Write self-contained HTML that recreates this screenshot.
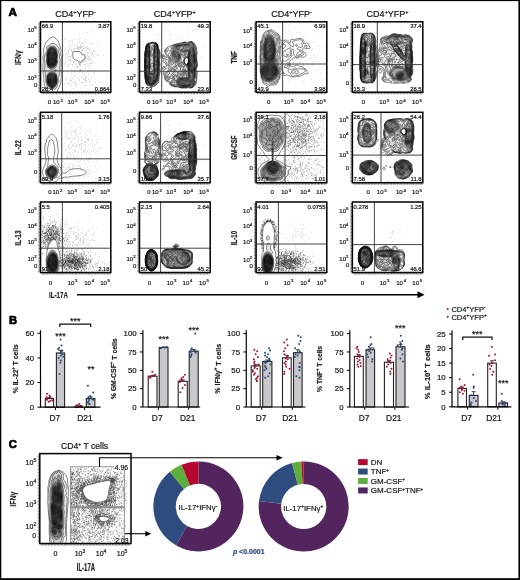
<!DOCTYPE html>
<html><head><meta charset="utf-8"><style>
html,body{margin:0;padding:0;background:#fff;}
body{width:520px;height:580px;overflow:hidden;position:relative;}
svg{position:absolute;left:0;top:0;display:block;will-change:transform;}
svg text{font-family:"Liberation Sans",sans-serif;stroke:#1a1a1a;stroke-width:0.2px;}
</style></head><body>
<svg width="520" height="580" viewBox="0 0 520 580" font-family="Liberation Sans, sans-serif">
<rect x="0" y="0" width="520" height="580" fill="#fff"/>
<defs>
<clipPath id="c0"><rect x="40.5" y="21.8" width="70.3" height="70.4"/></clipPath>
<clipPath id="c1"><rect x="139.5" y="21.8" width="70.7" height="70.4"/></clipPath>
<clipPath id="c2"><rect x="256.1" y="21.8" width="70.7" height="70.4"/></clipPath>
<clipPath id="c3"><rect x="352.4" y="21.8" width="70.4" height="70.4"/></clipPath>
<clipPath id="c4"><rect x="40.5" y="112.3" width="70.3" height="70.4"/></clipPath>
<clipPath id="c5"><rect x="139.5" y="112.3" width="70.7" height="70.4"/></clipPath>
<clipPath id="c6"><rect x="256.1" y="112.3" width="70.7" height="70.4"/></clipPath>
<clipPath id="c7"><rect x="352.4" y="112.3" width="70.4" height="70.4"/></clipPath>
<clipPath id="c8"><rect x="40.5" y="202" width="70.3" height="70.5"/></clipPath>
<clipPath id="c9"><rect x="139.5" y="202" width="70.7" height="70.5"/></clipPath>
<clipPath id="c10"><rect x="256.1" y="202" width="70.7" height="70.5"/></clipPath>
<clipPath id="c11"><rect x="352.4" y="202" width="70.4" height="70.5"/></clipPath>
</defs>
<g clip-path="url(#c0)">
<path d="M80.0 60.0h.6M77.5 49.3h.6M75.9 48.4h.6M80.5 69.4h.6M75.6 51.7h.6M84.4 60.5h.6M80.9 48.9h.6M79.7 63.6h.6M67.9 53.2h.6M62.9 45.7h.6M63.4 55.2h.6M68.6 59.7h.6M81.4 55.6h.6M57.3 52.5h.6M79.6 58.3h.6M66.2 53.0h.6M71.2 50.0h.6M89.5 50.0h.6M79.7 65.3h.6M74.7 56.3h.6M81.0 57.9h.6M69.0 58.0h.6M92.2 43.4h.6M87.7 58.4h.6M74.2 75.3h.6M86.9 46.5h.6M80.7 62.5h.6M78.3 63.4h.6M79.4 63.3h.6M92.9 51.2h.6M81.8 53.1h.6M81.1 46.6h.6M74.8 55.5h.6M88.1 67.6h.6M68.1 50.1h.6M85.8 39.4h.6M75.8 56.4h.6M91.3 63.5h.6M77.1 54.0h.6M77.7 71.0h.6M76.1 54.6h.6M83.2 56.2h.6M78.2 47.3h.6M79.9 53.3h.6M90.5 63.2h.6M79.8 63.3h.6M76.9 66.8h.6M80.0 62.6h.6M68.4 60.4h.6M64.8 39.0h.6M77.3 49.2h.6M81.5 77.5h.6M72.5 51.7h.6M81.8 61.7h.6M78.4 55.4h.6M86.3 62.0h.6M70.7 56.6h.6M80.3 47.8h.6M82.3 49.6h.6M88.7 59.0h.6M80.8 52.0h.6M78.9 39.3h.6M69.8 60.6h.6M60.8 64.9h.6M64.3 64.1h.6M72.4 64.3h.6M81.2 43.5h.6M91.2 70.3h.6M79.4 54.8h.6M78.6 48.5h.6M89.9 52.4h.6M79.5 50.2h.6M74.4 45.8h.6M91.3 55.9h.6M88.7 57.4h.6M73.8 54.4h.6M75.0 57.4h.6M76.6 54.6h.6M67.6 50.0h.6M94.9 51.3h.6M70.5 60.3h.6M92.7 44.2h.6M78.1 51.6h.6M64.2 63.9h.6M79.8 57.9h.6M73.2 61.4h.6M75.1 56.0h.6M70.0 46.4h.6M92.0 52.7h.6M82.6 57.0h.6M76.0 52.7h.6M85.7 54.6h.6M78.6 57.5h.6M90.6 63.4h.6M83.4 52.2h.6M67.6 65.8h.6M88.7 56.0h.6M84.9 64.3h.6M87.5 65.6h.6M75.9 70.9h.6M68.8 65.1h.6M84.4 65.2h.6M96.9 70.7h.6M69.7 42.1h.6M87.4 48.2h.6M79.9 64.9h.6M65.2 38.3h.6M82.3 57.7h.6M77.8 57.6h.6M72.3 43.7h.6M78.5 48.6h.6M65.2 61.9h.6M79.4 61.0h.6M71.1 51.4h.6M71.0 49.3h.6M81.8 50.3h.6M83.2 60.4h.6M98.2 44.8h.6M88.0 56.5h.6M79.9 44.3h.6M75.9 64.0h.6M79.3 58.0h.6M77.4 67.7h.6M79.8 37.5h.6M73.8 39.6h.6M50.7 52.5h.6M92.0 57.7h.6M69.4 48.8h.6M90.2 58.7h.6M80.4 56.8h.6M80.3 64.5h.6M85.0 59.2h.6M70.6 61.9h.6M73.8 67.1h.6M68.6 56.1h.6M79.9 45.4h.6M95.5 70.4h.6M75.8 64.2h.6M83.4 33.8h.6M82.3 56.7h.6M80.7 47.6h.6M77.6 55.7h.6M90.7 60.3h.6M80.0 71.1h.6M75.0 53.8h.6M63.6 71.4h.6M88.7 65.6h.6M86.0 58.3h.6M81.9 55.0h.6M78.2 57.8h.6M93.6 62.3h.6M79.5 52.1h.6M74.3 71.7h.6M84.6 57.9h.6M76.9 47.3h.6M79.4 65.2h.6M76.5 55.3h.6M78.0 58.3h.6M65.7 55.2h.6M72.3 65.3h.6M73.1 62.5h.6M93.7 54.5h.6M74.6 59.0h.6M80.0 48.4h.6M84.1 75.4h.6M77.7 55.5h.6M70.6 60.2h.6M68.8 47.3h.6M91.5 49.2h.6M89.7 71.0h.6M82.3 62.3h.6M97.6 55.5h.6M74.7 45.1h.6M80.4 70.6h.6M88.6 48.8h.6M72.3 52.8h.6M82.6 55.5h.6M81.9 60.0h.6M77.3 56.9h.6M81.9 56.5h.6M84.5 74.1h.6M85.3 57.8h.6M64.8 60.8h.6M62.5 44.6h.6M87.7 63.7h.6M78.7 41.9h.6M76.7 51.2h.6M85.7 77.6h.6M82.0 50.3h.6M69.5 56.8h.6M78.4 46.9h.6M81.0 46.9h.6M90.0 66.9h.6M89.8 53.0h.6M84.6 56.1h.6M76.5 54.2h.6M68.3 44.3h.6M87.1 55.6h.6M81.9 66.3h.6M64.4 50.2h.6M81.6 60.8h.6M76.6 66.6h.6M81.9 46.4h.6M71.6 64.5h.6M84.2 40.2h.6M92.1 62.7h.6M92.1 53.8h.6M77.3 47.2h.6M102.8 55.7h.6M94.3 51.5h.6M81.5 42.3h.6M76.6 66.2h.6M68.7 67.0h.6M83.0 47.9h.6M75.5 53.2h.6M79.6 52.5h.6M72.6 54.6h.6M70.8 45.7h.6M79.6 65.2h.6M66.2 57.3h.6M74.2 48.5h.6M87.7 52.6h.6M93.5 50.3h.6M83.5 55.3h.6M73.2 62.6h.6M78.6 62.7h.6M79.6 47.5h.6M79.1 57.8h.6M88.6 49.1h.6M79.6 41.8h.6M85.9 47.6h.6M63.7 56.8h.6M90.0 43.6h.6M70.2 50.6h.6M69.8 60.7h.6M72.7 50.8h.6M85.2 50.5h.6M83.9 48.6h.6M69.1 40.8h.6M96.8 54.4h.6M82.2 57.0h.6M81.4 57.7h.6M97.2 47.9h.6M66.0 48.2h.6M68.0 64.0h.6M87.4 48.6h.6M67.5 54.1h.6M92.5 31.9h.6M84.7 47.6h.6M89.4 47.6h.6M77.4 43.7h.6M71.2 69.8h.6M87.4 53.7h.6M72.2 40.3h.6M76.5 57.0h.6M79.2 56.5h.6M69.9 56.7h.6M79.7 68.9h.6M96.8 56.1h.6M73.1 56.7h.6M74.5 50.6h.6M79.5 47.9h.6M85.5 56.4h.6M82.3 55.7h.6M73.5 48.8h.6M77.9 52.4h.6M82.1 57.3h.6M67.7 57.9h.6M67.9 51.8h.6M77.4 38.6h.6M80.8 58.7h.6M78.6 53.5h.6M76.6 48.5h.6M77.6 52.3h.6M80.8 46.5h.6M82.1 58.6h.6M78.7 53.3h.6M85.0 42.3h.6M84.1 59.5h.6M82.6 60.7h.6M74.1 55.0h.6M85.7 61.2h.6M81.9 43.7h.6M84.8 67.8h.6M89.1 59.4h.6M66.0 65.8h.6M78.7 34.5h.6M83.4 43.9h.6M68.3 51.6h.6M91.5 54.0h.6M82.4 73.0h.6M94.3 56.4h.6M77.8 46.0h.6M73.7 61.1h.6M83.6 58.3h.6M89.0 50.3h.6M79.5 63.9h.6M85.3 66.9h.6M83.6 54.5h.6M83.3 48.3h.6M65.2 62.5h.6M79.5 60.1h.6M64.7 54.0h.6M74.6 49.5h.6M59.7 54.3h.6M88.1 60.7h.6M74.6 57.2h.6M86.8 32.5h.6M78.9 62.2h.6M86.1 72.6h.6M90.2 60.1h.6M82.7 64.4h.6M75.1 56.9h.6M88.2 74.9h.6M78.6 56.9h.6M81.8 69.4h.6M79.7 70.5h.6M71.3 55.6h.6M78.2 64.4h.6M89.4 43.7h.6" stroke="#8c8c8c" stroke-width="0.6" stroke-opacity="1.0"/>
<path d="M67.9 84.0h.6M70.8 74.7h.6M89.4 84.8h.6M83.4 79.9h.6M89.3 81.1h.6M90.1 77.7h.6M68.6 83.3h.6M70.3 85.7h.6M80.9 77.7h.6M78.8 80.5h.6M88.1 79.1h.6M73.2 88.4h.6M78.7 83.4h.6M94.9 81.7h.6M67.3 82.9h.6M83.0 78.2h.6M59.9 75.1h.6M85.3 78.5h.6M76.4 83.4h.6M84.8 80.6h.6M83.5 77.8h.6M74.0 77.2h.6M90.4 82.2h.6M69.9 80.5h.6M75.6 85.8h.6M60.4 77.1h.6M88.5 81.7h.6M75.4 80.5h.6M91.3 84.8h.6M85.4 79.8h.6M99.2 90.8h.6M84.2 85.7h.6M55.7 85.5h.6M75.9 84.5h.6M85.5 80.6h.6M59.4 84.1h.6M69.8 80.6h.6M71.4 80.6h.6M52.6 88.4h.6M80.8 87.9h.6M99.8 82.4h.6M58.2 77.8h.6M64.7 79.8h.6M78.9 72.3h.6M81.8 74.7h.6M81.3 81.8h.6M74.6 81.9h.6M72.1 79.2h.6M59.5 82.2h.6M92.5 85.8h.6M70.6 89.5h.6M77.4 82.0h.6M74.8 82.8h.6M73.2 81.9h.6M66.1 80.4h.6M103.1 82.0h.6M75.4 85.0h.6M85.8 76.7h.6M75.7 86.9h.6M81.0 82.9h.6M95.1 78.9h.6M78.9 79.7h.6M94.4 72.5h.6M70.6 79.7h.6M85.3 85.3h.6M93.3 74.4h.6M86.3 80.8h.6M70.7 85.0h.6M67.9 71.9h.6M73.9 74.8h.6M70.9 84.2h.6M81.4 90.2h.6M75.8 74.6h.6M69.7 77.7h.6M64.6 84.5h.6M70.9 72.4h.6M85.7 81.7h.6M81.9 82.8h.6M84.9 82.5h.6M91.6 84.4h.6M82.3 84.3h.6M62.0 81.5h.6M75.1 83.3h.6M63.1 90.5h.6M79.1 76.2h.6M59.2 80.9h.6M77.0 78.7h.6M79.0 79.1h.6M84.1 78.7h.6M77.6 87.2h.6M106.3 77.3h.6M72.9 78.1h.6M86.6 76.6h.6M72.7 82.2h.6M67.2 77.5h.6M72.8 71.8h.6M62.1 80.2h.6M79.6 81.4h.6M58.5 80.0h.6M86.8 85.1h.6M77.1 77.9h.6M84.9 79.4h.6M65.1 78.3h.6M93.9 83.4h.6M90.8 79.9h.6M88.3 79.3h.6" stroke="#a0a0a0" stroke-width="0.6" stroke-opacity="1.0"/>
<path d="M52.1 37.1l 1.3 0 2.1.9 .6.6 .9 1.3 1.2 1.1 .6.9 .3 1.8 .6 1.5 1.2 3.9 0 1.5-.3 2.7 1.1 5.7 0 4.2-.5 5.1 .3 5.1-.5 5.7 0 2.4-.8 3.3-1 2.7-1.3 2.1-.7 2.1-.5.8-.9.4-4.2.6-1.5-.4-1.5-1.4-2.1-1.2-.8-1.2-.4-1.8-.8-2.1-.3-2.7-.5-1.8 .2-3-.6-3.3 0-3-.5-2.7 .5-7.5-.3-4.5 .9-3.6-.3-3.6 .4-2.1 1.1-2.7 .3-1.8 .3-.6 2.3-1.9 1.5-2.1 2.6-1.4ZM74.7 51.5l 4.2 0 1.4.3 .6.6 .4 1.5 .5.6 .7.3 1.5 0 .8.6 .3 1.8-.4 1.5-.7 1-1.6.8-1.1 1.6-.6.2-.9-.2-2.7-1.7-2.4-.6-1.1-1.1-.4-.9-.4-2.1 0-3 .2-.6 .4-.3 1.3-.3Z" fill="#fff" fill-rule="evenodd" stroke="#111" stroke-width="0.5"/><path d="M51.5 43.4l 2.2-.1 1.2.4 3 2.8 1.2 1.7 .2 1.2-.6 1.8 0 1.2 1 3-.3 2.4 .7 1.2 .2.9-.2 2.1 0 3-.5 2.7 .3 3-.4 3.6-.2 1.2-1.1 1.8-.1.6 .1.9 .7 1.8 0 .9-1 1.6-.3 2.6-.4 1.2-1.1 1.6-1.2.9-1.5-.8-5.1 0-.8-.5-.4-2.1-1.6-4.8-.1-.6 .5-2.1-.5-2.1-.3-4.5-.7-2.7 .4-3.3-.1-2.1 .1-1.8-.6-2.7 0-1.5 .8-3.3 1.5-2.6 .2-.7 .1-4.2 .3-.6 2.1-.9 1.6-1.8 .7-.3Z" fill="#000" fill-opacity="0.12" fill-rule="evenodd" stroke="#111" stroke-width="0.5"/><path d="M50.2 46.4l 1.1-.3 2.4.2 1.2.6 1.1 1 .8 1.5 .5 3.9 .5 2.1-.6 3.6 .5 3-1.5 4.2-.5.9-1.4 1.6-.6.3-2.1.3-.9-.1-.9-.4-1.2-.8-.8-.9-.9-2.7-.5-4.5 .2-2.1 0-3.3 1.2-5.1 .9-1.8 1.5-1.2ZM54.9 70.1l .6-.3 .6.1 .3.2 .1.6-.4.4-.9 0-.4-.4 .1-.6ZM49.9 72.2l 1.1-.2 3.3.1 1.9 1.6 .6 1.2 .6 5.4-.2 2.1-.5 1.8-.8 1.8-.6.9-.7.5-1.2.3-1.8 0-2.1-.3-1.3-1.1-1-2.1-.6-3 .1-4.8 .2-1.2 .4-.9 .8-.9 .8-.7 1-.5Z" fill="#000" fill-opacity="0.2" fill-rule="evenodd" stroke="#111" stroke-width="0.5"/><path d="M50.6 47.3l 3.4.3 .9.5 .6.7 .7 1.8 .8 4.8-.4 3.6 .3 3-.9 2.7-.8 1.5-.9.8-1.5.8-1.5.3-.9-.1-.9-.5-1.3-1.3-.7-2.1-.4-3.9 .2-2.4-.2-3 .4-2.1 1.3-3.9 1-1.1 .8-.4ZM50 73.1l 1.3-.2 2.7.3 1.6 1.1 .7 1.5 .6 4.2-.3 2.7-.5 1.5-1 1.8-.5.6-.9.4-2.7.1-1.5-.5-1.2-1.2-.8-2.1-.4-2.4 .3-5.1 .9-1.5 1.7-1.2Z" fill="#000" fill-opacity="0.25" fill-rule="evenodd" stroke="#111" stroke-width="0.5"/><path d="M50.1 48.2l .9-.3 2.4.3 .9.3 .6.4 .5.8 .5 1.2 .8 4.5-.4 3.6 .2 2.7-.7 2.3-.9 1.6-.6.7-1.2.6-2.1.5-1.5-.5-.6-.5-.6-.9-.6-1.7-.2-3.3 .2-2.7-.3-2.4 .2-1.8 1.4-3.9 .5-.9 .6-.6ZM49.9 73.7l 1.1-.2 3 .3 1.3.8 .7 1.5 .6 3.3-.2 2.7-.5 1.5-1.2 2.1-.5.6-.8.4-2.1.1-1.5-.5-1.2-1.2-.9-2.1-.3-2.1 .3-4.8 .9-1.5 1.3-.9Z" fill="#000" fill-opacity="0.25" fill-rule="evenodd" stroke="#111" stroke-width="0.5"/><path d="M50.2 48.8l .5-.3 .6 0 2.4.4 .9.5 .9 1.8 .9 4.2-.5 3.6 .3 2.7-.4 1.5-1 1.8-.8.9-.9.4-2.4.5-.9-.3-.6-.3-.8-1.2-.5-1.5-.2-3 .4-2.7-.4-2.4 .2-1.5 1.5-3.9 .8-1.2ZM49.7 74.3l 1-.2 1.5.7 1.2-.4 .9 0 .9.8 .6 1.4 .5 3.1-.2 2.4-1.9 3.6-.5.5-.6.2-1.8.1-1.5-.6-.9-1.1-1-2.1-.2-1.8 .3-4.5 .6-1.3 1.1-.8Z" fill="#000" fill-opacity="0.22" fill-rule="evenodd" stroke="#111" stroke-width="0.5"/><path d="M50.4 49.4l .9-.2 2.2.5 .8.5 .9 1.3 .8 3.9-.5 3.6 .4 2.7-.4 1.2-1.2 2-.6.6-.6.2-1.2 0-1.5.4-.6-.1-.6-.4-.7-.9-.4-1.5-.1-2.7 .5-2.7-.4-2.4 .1-1.5 .4-1.3 1.8-3.2ZM51.9 55.2l-.3.8 .3.6 .3 0 .1-.9-.4-.5ZM49.1 75.2l .7-.3 .6.2 1.8 2 .3 0 .6-.5 .6-1.1 .6-.3 .6.4 .6 1.2 .5 2.6-.1 2.4-.4.9-1.3 1.2-.5 1.7-.6.5-1.5.1-1.4-.5-1-1.1-.9-1.6-.3-2.1 .4-4.2 .2-.9 .5-.6Z" fill="#000" fill-opacity="0.2" fill-rule="evenodd" stroke="#111" stroke-width="0.5"/><path d="M50.3 51.5l .4-.2 .3.5-.2 4.5 1.1 1.4 .7-.2 .6-.9-.5-2.4 .3-2.1 .4-.5 .6-.1 .6.3 .3.4 .6 2.6-.5 3.9 .5 2.7-.3 1.2-1.5 2.2-.9.3-1.2-.3-1.8.6-.9-.6-.5-1.6-.1-3 .7-2.7-.5-1.8-.1-1.2 .5-1.6 .6-.8 .8-.6ZM54.4 77l .5-.1 .6 1.1 .3 1.7-.2 1.8-.4.8-.6.2-1.2 0-.9-.6-.3.1-.2.7 .1.6 1 .9 .3.9-.6.7-1.6-.1-1.1-.8-1.5-2-.3-1.7 .3-1.9 .9-1.1 .6-.4 .6-.1 .3.3 1.2 2.5 1.1-2 1.1-1.5Z" fill="#000" fill-opacity="0.15" fill-rule="evenodd" stroke="#111" stroke-width="0.5"/><path d="M49.7 53l .5.3 0 .9-.2.6-.5.4-.3-.1-.3-.9 .3-.8 .5-.4ZM53.7 53l .3-.2 .3.1 .4.7 .1.9-.5.6-.6-.2-.2-.4-.1-.7 .3-.8ZM50 57.5l .4-.1 .3.1 1.2 1.2 1.5-.9 .3.1 .5.5 .7 2.4 0 .9-.5 1.2-1 1.3-.6.1-1.5-.2-1.5.6-.6-.2-.3-.4-.2-1.2 0-2.4 .2-.9 1.1-2.1ZM54.6 78.2l .3 0 .3.3 .3 1.5-.3 1.3-.6.4-1-.5-.2-.9 .4-1.2 .8-.9ZM50 79.1l .4-.1 .5.4 .5 1.5-.3 2.1-.4.6-.3.2-.6-.2-.6-.5-.4-.7-.2-.9 .3-1.6 .3-.4 .8-.4Z" fill="#000" fill-opacity="0.05" fill-rule="evenodd" stroke="#111" stroke-width="0.5"/><path d="M50.2 59l .5-.1 1.2 1.1 .3 0 .9-1.1 .3 0 .3.4 .4 2.4-.4 1.2-.6.6-1.8-.1-1.5.4-.3 0-.3-.3-.1-3 .4-.8 .7-.7ZM49.5 80.3l .9-.3 .4.6-.1 1.4-.6.6-.6-.1-.4-.7 .1-.9 .3-.6Z" fill="none" stroke="#111" stroke-width="0.5"/><path d="M50 60.2l .7-.2 1.2 1.1 1.2.3 .1.6-.1.5-.3.2-1.8.2-.9-.3-.4-1.2 0-.6 .3-.6Z" fill="none" stroke="#111" stroke-width="0.5"/>
</g>
<line x1="62.4" y1="21.8" x2="62.4" y2="92.2" stroke="#3a3a3a" stroke-width="0.95"/>
<line x1="40.5" y1="71" x2="110.8" y2="71" stroke="#3a3a3a" stroke-width="0.95"/>
<rect x="40.5" y="21.8" width="70.3" height="70.4" fill="none" stroke="#000" stroke-width="1.5"/>
<path d="M40.5 23.3h-2M40.5 24.75h-2M40.5 26.2h-2M40.5 27.65h-2M40.5 29.1h-2M40.5 30.55h-2M40.5 32h-2M40.5 33.45h-2M40.5 34.9h-2M40.5 36.35h-2M40.5 37.8h-2M40.5 39.25h-2M40.5 40.7h-2M40.5 42.15h-2M40.5 43.6h-2M40.5 45.05h-2M40.5 46.5h-2M40.5 47.95h-2M40.5 49.4h-2M40.5 50.85h-2M40.5 52.3h-2M40.5 53.75h-2M40.5 55.2h-2M40.5 56.65h-2M40.5 58.1h-2M40.5 59.55h-2M40.5 61h-2M40.5 62.45h-2M40.5 63.9h-2M40.5 65.35h-2M40.5 66.8h-2M40.5 68.25h-2M40.5 69.7h-2M40.5 71.15h-2M40.5 72.6h-2M40.5 74.05h-2M40.5 75.5h-2M40.5 76.95h-2M40.5 78.4h-2M40.5 79.85h-2M40.5 81.3h-2M40.5 82.75h-2M40.5 84.2h-2M40.5 85.65h-2M40.5 87.1h-2M40.5 88.55h-2M40.5 90h-2M40.5 91.45h-2M42 92.2v2M43.45 92.2v2M44.9 92.2v2M46.35 92.2v2M47.8 92.2v2M49.25 92.2v2M50.7 92.2v2M52.15 92.2v2M53.6 92.2v2M55.05 92.2v2M56.5 92.2v2M57.95 92.2v2M59.4 92.2v2M60.85 92.2v2M62.3 92.2v2M63.75 92.2v2M65.2 92.2v2M66.65 92.2v2M68.1 92.2v2M69.55 92.2v2M71 92.2v2M72.45 92.2v2M73.9 92.2v2M75.35 92.2v2M76.8 92.2v2M78.25 92.2v2M79.7 92.2v2M81.15 92.2v2M82.6 92.2v2M84.05 92.2v2M85.5 92.2v2M86.95 92.2v2M88.4 92.2v2M89.85 92.2v2M91.3 92.2v2M92.75 92.2v2M94.2 92.2v2M95.65 92.2v2M97.1 92.2v2M98.55 92.2v2M100 92.2v2M101.45 92.2v2M102.9 92.2v2M104.35 92.2v2M105.8 92.2v2M107.25 92.2v2M108.7 92.2v2M110.15 92.2v2" stroke="#111" stroke-width="0.55"/>
<text x="36.6" y="32" font-size="6" text-anchor="end" fill="#111" stroke="#111" stroke-width="0.18">10<tspan font-size="4.4" dy="-2.6">5</tspan></text>
<text x="36.6" y="47.5" font-size="6" text-anchor="end" fill="#111" stroke="#111" stroke-width="0.18">10<tspan font-size="4.4" dy="-2.6">4</tspan></text>
<text x="36.6" y="63.4" font-size="6" text-anchor="end" fill="#111" stroke="#111" stroke-width="0.18">10<tspan font-size="4.4" dy="-2.6">3</tspan></text>
<text x="36.6" y="80.4" font-size="6" text-anchor="end" fill="#111" stroke="#111" stroke-width="0.18">10<tspan font-size="4.4" dy="-2.6">2</tspan></text>
<text x="37.3" y="86.8" font-size="6" text-anchor="end" fill="#111" stroke="#111" stroke-width="0.18">0</text>
<text x="49.4" y="104" font-size="6" text-anchor="middle" fill="#111" stroke="#111" stroke-width="0.18">0</text>
<text x="56.3" y="104" font-size="6" text-anchor="middle" fill="#111" stroke="#111" stroke-width="0.18">10</text>
<text x="60.4" y="101.5" font-size="4.4" fill="#111" stroke="#111" stroke-width="0.18">2</text>
<text x="70.9" y="104" font-size="6" text-anchor="middle" fill="#111" stroke="#111" stroke-width="0.18">10</text>
<text x="75" y="101.5" font-size="4.4" fill="#111" stroke="#111" stroke-width="0.18">3</text>
<text x="87.5" y="104" font-size="6" text-anchor="middle" fill="#111" stroke="#111" stroke-width="0.18">10</text>
<text x="91.6" y="101.5" font-size="4.4" fill="#111" stroke="#111" stroke-width="0.18">4</text>
<text x="103.5" y="104" font-size="6" text-anchor="middle" fill="#111" stroke="#111" stroke-width="0.18">10</text>
<text x="107.6" y="101.5" font-size="4.4" fill="#111" stroke="#111" stroke-width="0.18">5</text>
<text x="41.7" y="28.4" font-size="5.9" text-anchor="start" font-weight="normal" fill="#111" >66.9</text>
<text x="109.6" y="28.4" font-size="5.9" text-anchor="end" font-weight="normal" fill="#111" >3.87</text>
<text x="41.7" y="90.6" font-size="5.9" text-anchor="start" font-weight="normal" fill="#111" >28.4</text>
<text x="109.6" y="90.6" font-size="5.9" text-anchor="end" font-weight="normal" fill="#111" >0.864</text>
<g clip-path="url(#c1)">
<path d="M182.7 52.3h.6M170.8 65.5h.6M188.9 52.5h.6M147.6 55.8h.6M172.2 62.1h.6M190.4 65.4h.6M183.4 42.7h.6M182.8 64.4h.6M174.2 88.9h.6M159.0 58.5h.6M178.4 72.2h.6M165.9 65.2h.6M168.1 62.2h.6M170.2 42.0h.6M171.7 74.3h.6M158.5 56.4h.6M181.3 43.2h.6M174.6 43.3h.6M200.3 56.8h.6M182.4 62.2h.6M173.4 85.1h.6M153.5 77.2h.6M171.3 82.8h.6M174.6 49.5h.6M175.9 72.1h.6M172.5 68.1h.6M164.7 26.2h.6M184.6 71.5h.6M174.1 61.4h.6M186.5 53.0h.6M162.1 57.3h.6M188.6 38.1h.6M188.7 50.1h.6M156.6 80.5h.6M170.6 39.5h.6M167.0 75.2h.6M188.7 53.5h.6M177.7 71.7h.6M163.0 66.0h.6M171.6 51.7h.6M165.1 61.4h.6M172.4 51.3h.6M166.0 78.1h.6M175.0 74.5h.6M188.8 69.7h.6M203.8 47.1h.6M183.3 55.2h.6M198.0 87.5h.6M144.6 44.8h.6M181.3 72.9h.6M182.3 59.2h.6M178.4 70.7h.6M170.9 76.7h.6M140.4 70.4h.6M157.5 75.6h.6M168.8 46.1h.6M177.2 45.7h.6M159.2 35.2h.6M171.6 68.2h.6M186.3 58.0h.6M186.7 60.6h.6M170.7 69.5h.6M186.8 54.8h.6M168.6 57.7h.6M173.2 45.9h.6M186.4 53.9h.6M178.5 47.1h.6M177.0 66.6h.6M177.2 88.7h.6M185.4 49.7h.6M166.6 67.3h.6M172.9 61.1h.6M168.0 31.4h.6M168.8 24.8h.6M177.2 48.7h.6M162.0 56.8h.6M175.8 37.4h.6M147.5 43.2h.6M143.4 44.8h.6M194.3 43.4h.6M181.1 38.4h.6M176.2 55.2h.6M171.2 69.4h.6M196.6 63.4h.6M173.7 44.7h.6M180.2 56.4h.6M183.6 59.6h.6M196.4 28.6h.6M167.8 74.4h.6M167.1 47.6h.6M168.3 38.2h.6M188.0 42.6h.6M159.8 53.8h.6M186.1 47.2h.6M162.3 74.5h.6M184.1 54.3h.6M156.4 35.5h.6M162.2 24.6h.6M182.5 50.2h.6M178.7 90.2h.6M188.4 41.9h.6M184.2 78.8h.6M161.6 45.0h.6M170.5 34.7h.6M156.5 56.0h.6M168.8 63.0h.6M175.8 56.9h.6M187.9 26.1h.6M172.0 48.9h.6M173.9 63.8h.6M159.2 50.0h.6M183.1 65.9h.6M204.3 36.9h.6" stroke="#a8a8a8" stroke-width="0.6" stroke-opacity="1.0"/>
<path d="M190.7 41.6l 1 .1 1.2.6 1.6 1.4 .8 1 1 2.6 .2 2.7 .6 2.7-.4 5.1 .6 7.8-.2 1.5-.8 2.4 .7 2.1 .2.9-.3 3 0 3.6-1 5.1-.8 1.2-1.7 1.5-1.4.8-1.2.3-2.1-.2-2.4.2-5.4 0-3.3-1-2.7-.1-3.6-1.3-.8-.5-.5-.6-.6-1.8-.4-.6-.4-.3-1.8-.4-.6-.4-.9-1-.4-.9-.4-2.7-.9-1.8-.3-1.2-.1-.9 .4-1.8-1-1.8-.2-.9 .1-.6 .4-.4 1.2-.3 2.1 0 .4-.2 .2-.6-1-1.5-.8-1.7-.6-.4-1.4-.3-.2-.3 0-.6 .5-.9 .1-.6-1-1.2-.3-.6-.2-1.5 .2-1.2 .5-.6 .6 0 1.4 1.2 1.6 2 .3.2 .5-.1 .1-.3-.1-.6-2.4-5.4 0-.9 .6-1.2 1.3-1.2 2.4-1.5 4-1.8 5.6-1.5 5.7-1.3 .9-.1 2.1.4 3.5-.8ZM152.1 42.2l .9.1 1.2.3 1.5.1 .6.2 .9.8 .5.9 .3.9 .5 2.7 1 2.1 .4 1.5 .2 5.4-.6 3.3 .5 3.6-.2 3 .3 2.4-.2 3.6-.6 3-.5 5.4-.7 1.4-2.1 2.5-2.7 1.3-.9.2-4.5-1.2-.9-.7-.8-1.1-.3-.9-1-4.8-.2-4.8-.4-2.1 .3-8.1-.2-2.7 .3-3 0-3 1-7.2 .8-2.4 1.1-1.3 .6-.4 1.2-.1 2.7-.9ZM169.8 49l 0 .1 0-.1ZM186.6 57.4l-.9.6-.7.7-.4.9-.3 1.5 .2 1.2 .7 1.2 .8.7 .9.3 .6-.3 .6-1.1 .4-2.6-.2-1.5-.5-1.3-.6-.4-.6.1Z" fill="#fff" fill-rule="evenodd" stroke="#111" stroke-width="0.5"/><path d="M190 41.9l 1.1-.2 1.2.4 .9.7 1.1 1.2 1.6 3.3 .1 2.7 .7 2.4-.4 4.8 .5 3.6 .3 4.8-.2 1.2-1 2.1-.1.9 .1.7 .8 1.4 .1.9-.3 2.4 0 4.2-.8 1.8-.1 2.1-.2.9-2.3 2.7-1.1.6-1.2.3-2.4-.5-2.1.4-5.4 0-3.3-1.2-2.4.1-3.6-1.2-.7-.3-.6-.6-.4-2.4-.5-.9-.5-.2-1.8 0-.6-.2-.6-.5-.6-1-.2-1.1 .2-2.1-1-1.8-.2-.9 .2-.6 .4-.3 2.1-.4 1-1.1 .5-1.5-.2-3-.4-1.2-1.2-1.5-.1-2.1-1.3-.6-.2-.3 0-1.5-.6-.6-1.1-.4-.6-.5-.3-.9 0-1.2 .3-.4 .3-.1 .9.7 .8 1 .6 1.8 .5.6 1.1.6 .9-.2 .7-.7 0-1.2-1.9-4.2-1.2-1.9-.3-.8 .3-1.1 1.2-1.1 .9-.6 .7-.2 .2.3-.2 1.2 .3.9 .8.5 1.2-.1 .6-.3 .2-.7-.1-1.5-.4-1.2 .1-.3 1.1-.9 1.1-.6 5.5-1.5 2.1-.2 3.3-1.2 1.2 0 1.8.6 .6 0 2.5-1ZM151.5 42.5l .9-.1 1.8.5 1.5-.1 .6.3 .7.6 .7 1.2 .7 4.1 1.1 2.2 .3 1.8 0 4.5-.7 2.7 .7 3.9-.5 3.3 .4 2.4-.2 3.6-.7 2.4-.4 5.4-.4.9-2 2.7-2.7 1.5-.9.2-2.1-.5-1.2-.7-1.5-.1-.6-.4-.6-.9-.5-1.2-.8-4.8-.2-4.6-.3-2 .2-8.1-.2-2.7 .3-2.7-.1-3.3 1.1-7.8 .9-2.1 1.1-1.1 .6-.2 1.2-.1 1.8-.7ZM186.9 57.1l-1.2.7-.8.9-.5 1.2-.2 1.2 .2 1.2 .7 1.3 .9.8 .9.2 .6-.3 .3-.4 .5-1.6 .2-1.5-.1-1.5-.4-1.5-.5-.6-.6-.1ZM163.8 67.7l .6-.1 .9.2 .9.5 0 .3-.6.7-.9.3-.6-.4-.5-.6-.1-.6 .3-.3Z" fill="#000" fill-opacity="0.03" fill-rule="evenodd" stroke="#111" stroke-width="0.5"/><path d="M189.9 42.2l .9-.3 .9.1 1.2.8 .7.9 .5 1.5 1.3 2.4 .1.9-.3 1.5 1 2.4-.6 2.1 0 1.5 .3 2.1 .6 2.6 .4 4.9-.3 1.2-1 1.9-.2 1.1 0 1.2 .4 1.8 .1 3.6-.3 1.8-.6.7-.4.8 .1.9 .5 1.8-.2 1.5-1.9 2.7-1.1.7-.9.2-.9-.1-1.5-.7-2.7.6-2.1 0-2.7.2-1-.3-2.6-1.4-.6-.1-1.5.5-.6-.1-3.3-1-.5-.3-.4-.6-.2-2.1 .4-.9 1-.6 .5-.6 0-.6-.5-.9-.6-.3-.3 0-1.8 1.4-2.1.7-.9-.4-.4-.8 .2-3-.5-2.1 0-.3 1.6-.5 .6-.5 1.4-2.3 1-2.4-.2-.6-1-1.3-1-2.3 .5-1.5 .2-1.5 .7-1.8-.1-1.1-.8-2.5 0-.6 1.3-2.4 1.6-.8 .6-.6 .2-1-.1-1.5 .1-.9 .5-1.2 .8-.8 5.1-1.4 2.7.1 .6-.3 1-.9 1.4-.5 1.2.1 1.5 1 1.2 0 1.8-1.5ZM151.3 42.8l 1.1-.2 1.8.5 1.5-.1 .6.2 .6.5 .8 1.5 .4 3.6 .3 1.1 .9 1.7 .2 1.1-.4 3 .2 1.8-.6 2.1 .2 2.4 .5 2.1-.1 1.2-.5 2.1 .4 2.1-.5 1.8 0 1.8-1.1 8.1-.7 1.5-.9 1.1-3 1.7-.9.2-1.5-.2-1.8-.9-1.2.3-.6-.4-.4-.6-.6-1.5-.7-4.5-.5-6.6 .1-8.4-.2-2.4 .3-2.7-.1-3.3 1-7.5 .7-1.8 1-1.3 .9-.5 1.2.1 1.6-.7ZM166 50l .5-.2 .3.2 .6 1.5-.3.6-.6-.1-.7-.8-.1-.6 .3-.6ZM162.9 56.6l .4 0 .1.3-.2.2-.3-.5ZM186.9 56.8l-1.2.8-1 1.1-.4.9-.3 1.5 .2 1.2 .6 1.2 .9.9 .9.3 .6 0 .6-.7 .5-1.4 .2-1.5 0-1.5-.4-1.9-.6-1-.6.1ZM178.8 74.5l-.3.4 .3.4 .3-.1 0-.6-.3-.1Z" fill="#000" fill-opacity="0.03" fill-rule="evenodd" stroke="#111" stroke-width="0.5"/><path d="M190.7 42.2l 1 .1 1.1.8 1.9 4.5 0 2.7 .7 2.1-.2 2.1 .1 2.8 .9 3.5-.2 2.1 .6 2.1-.1 1.2-.9 1.5-.4 2.1 .1 6.6-1.1 3.6 .5 2.4-.1 1.2-1.6 2.7-1 .7-.9.2-.6-.1-.9-.6-.6-.2-3.3.7-4.5.2-.9-.4-1.6-1.1-1.1-.5-1.2-.1-1.8.4-2.7-.7-.4-.3-.3-.6-.1-1.5 .5-.8 1.4-.7 .3-.9-.2-1-.8-2-.2-1.2 1.3-1.1 .9-1.3 .9-.8 .1-.4-.1-.5-.3-.3-.6.2-.6.9-1.5 1-.5 1.7-1.3.7-.4 2-.8.9-1.2.3-.9-.3-.3-.6-.1-1.2 .4-1.9 .6-.4 1.2-.3 .4-.4 1-3.9 1.3-2.4-.3-.6-1.2-.8-.6-.7-.5-1.5 .6-1.5 0-1.8 .4-1.8-.3-2.4 .3-.6 1-.9-.1-1.8 1.3-1.6 .6-1.1 .1-.9-.2-1.5 .3-.9 .6-.9 .7-.5 4.2-1.2 3.1-.1 1.3-.6 1.3-.9 .6.1 1.5.8 1.5.3 .9-.1 .4-.2 .6-1.2 1-.6ZM151.3 43.1l 1.1-.2 1.8.5 1.5-.3 .6.3 .6.5 .7 1.6 .5 4.3 .8 2.9-.4 2.7 .2 1.8-.1 4.5 .3 3-.4 2.7 .1 2.1-.7 7.5-.8 4.2-.5 1.1-.6.7-2.4 1.7-1.2.5-.9.1-1.2-.2-1.5-.9-.9.3-.6-.1-.6-.6-.4-1.1-1-6-.3-5.4 0-8.1-.2-2.7 .3-3 0-3.3 .8-6.6 .4-1.5 .8-1.5 .8-.8 .6-.2 1.2.2 1.6-.7ZM152.7 46.7l-.4.6 .2 1.5-.2 1.2-.9 1.8-.1.6 .3.9 1.1.5 .6-.3 .6-6.2-.3-.8-.9.2ZM186.9 52l-.5.7-.1.9 .3.8 .6.4 .6-.9 .4-1.5-.1-.4-.3-.2-.9.2ZM187.2 55.7l-2.9 3-1 2.1 .4 1.2 1.1 1.9 .6.7 .9.4 .9-.1 .6-.7 .7-2.8 0-1.8-.4-2.5-.6-1.3-.3-.1ZM175.5 63.7l-.4.4-.1.3 .7 0 .5-.3 .1-.3-.2-.2-.6.1ZM177.9 73.4l-.6.3-.1.3 .7 1.9 .6.6 .6 0 .6-.2 .5-.5 0-.6-.4-1.5-.7-.4-1.2.1Z" fill="#000" fill-opacity="0.04" fill-rule="evenodd" stroke="#111" stroke-width="0.5"/><path d="M190.9 42.5l .8.1 .6.5 1.7 4.2 .2 2.7 .7 2.4 .3 6 .5 2.4-.3 2.4 .7 2.1-.8 2.2-.4 2.3-.1 3.6 .1 3-1.1 3.3 0 .9 .5 1.8-.3 1.5-1.4 2.3-.6.4-.6.2-.6-.1-.9-.6-.9-.1-3.3.7-4.2.1-.9-.3-2.4-1.5-2.1-.7-.6-.1-1.5.2-1.5-.2-.4-.3-.3-.6 0-.6 .4-.5 .9-.1 1.5.5 .3-.2-.7-1.8-.9-3.6 .2-.9 1.4-1.3 .9-.2 .6.3 .5.6 .7 1.4 .6.4 2.4-.2 1.5.4 1-.2 .2-.3-1.8-.7-.3-.4-.4-1.6 0-1.8 1.3-1.6 1.5-3.6 .9-.4 .6-1.2 1.8-.4 .6-.4 .8-2 .3-2.1-.2-3-.4-2.4 .6-3.3-.2-.5-.3-.2-.9 0-1.2.4-.6.6-.1 1.2 .5 2.1-.4.9-.9 1-.6.2-.6-.3-.8-1.8-.4-.4-.9 0-.3.4 .1 5.1 .4.6 1.6.8 .6.6 1 1.9 0 .9-1 1.4-2.1 0-.8.4-.2.6 0 1.5-.4 1.8-.4.6-.6.3-1.2.3-.9-.2-1-1.6-.8-.4-.9.2-1.8 1.3-.9-.1-.4-.7 .1-.9 2-3.3 1.3-.8 2.4-.6 .5-.7 .2-.9 0-.9-.4-.6-1.2-.2-1.3.5-3.1 2.4-.7.1-.4-.4 .5-1.5-.6-2.4 .2-1.8-.1-1.5 .1-.4 1-1.1 .2-2.7 1.8-3.3-.2-1.5 .1-.9 .4-.7 .6-.5 3.9-1.3 3-.1 3-.9 3.2.5 1.4 0 .5-.3 .7-1.5 .6-.3ZM151.7 43.4l .8 0 1.4.7 1.2-.7 .9 0 .8.6 .5.9 .5 4.2 .6 3-.2 3.3 .4 9-.9 12.6-1.1 4.2-.7 1.2-1.7 1.6-1.2.7-1.5.3-.9-.1-2-1-1.3.1-.4-.4-.4-.9-1.1-6.3-.5-15.9 .4-2.7-.1-3.9 .8-6.3 .3-1.2 .7-1.5 .9-.9 .6-.2 1.5.6 1.7-1ZM152.7 45.5l-1.2.3-.5.6 0 .6 .5 2.1-.2.9-.8 1.5-.1 1.5 .2 1.2 .3.3 2.1.3 .6-.3 .1-.6 .6-6.9-.4-1.5-.3-.2-.9.2ZM187.2 69.6l-.8 1.4-.2 1.5 .4 2.4-.2 1.8 .8.2 .3-.1 .3-.3-.1-2.2 .4-2.4-.3-1.4-.3-.7-.3-.2ZM167.9 76.1l .7-.1 .5.7 .1.9-.6.6-.6-.1-.4-.5-.1-.9 .4-.6Z" fill="#000" fill-opacity="0.05" fill-rule="evenodd" stroke="#111" stroke-width="0.5"/><path d="M191 43.1l .4 0 .4.3 1.8 3.9 .3 2.7 .6 2.7 .4 5.7 .4 2.1-.2 2.7 .3 2.4-.8 5.1 .1 5.4-.2.9-1 2.1-.1.9 .5 2.1 0 .9-.3.9-.7 1.2-.6.7-.6.3-2.4-.4-3.6.7-4.2 0-.9-.3-3.9-2.5-.9-2.2-.9-1.7-.7-2.1 0-.9 .7-.9 .9-.2 .6.5 .6 1.8 .6.3 2.4-.4 2.7.2 2.1-.5 2.7.1 .8-.3 .1-.6-.2-2.4 .2-3-.7-3-.5-.7-.6-.2-.3-.6 0-.3 .9-.7 .6-1 .8-2.8 .1-2.1-.3-4.5 .5-2.7 0-.9-.5-.7-1.2-.2-1 .3-1.8.9-.2.6 .5 2.4-.2.9-.3.1-.2-.1-.6-1.2-.7-.4-1.2-.2-.9.3-.4.9 .1 2.4-.2 1.2-.3 1.2-.7 1.4-3.3-.2-1.1.3-1.6.8-.6-.2-.3-.2-.7-1.6 .5-2.7 .6-1.8-.1-2.7 .8-1.8 1.4-1.5 0-.3-.5-1.2-.1-.6 .3-.6 .6-.6 3.2-1.1 3-.3 3-.8 5.1.5 .8-.4 .9-1.5ZM155 43.7l .7-.2 .6.2 .8 1.2 .4 3.6 .7 3.9-.2 3 .4 9.3-.8 11.4-.5 2.4-1 2.7-.7 1.2-.9 1.1-.9.6-1.2.5-1.2.2-.9-.2-1.8-1-1.2 0-.5-.6-.3-.9-.8-4.8-.3-5.7-.2-4.8 0-3.9-.2-2.4 .4-3-.1-3.3 1-7.5 1-2 .6-.5 .6-.1 .7.5 .7 1.8 0 7.5 .4 1.8 .3.4 .6 0 2.1-.6 .3-.3 .4-1.3 .5-6.3-.2-2.7 .2-.6 .5-.6ZM150.3 59l 0 1.4 .3-.2 .1-.6-.1-.4-.3-.2ZM179.1 62l .3-.2 3.6 1.3 .7 1-.2.9-1.1.8-3 .9-.8-.2-.3-.6 0-.9 .3-1.8 .5-1.2ZM153 63.1l-2.7 1.2 0 2.8-.5 2.7 0 2.7 .2.4 1.8-.8 .6.1 .9.7 .3 0-.6-2-2.1-2.9-.4-.9 .2-.6 .5-.4 1.5.3 .4-.2 .2-.4 .1-1.7-.1-.8-.3-.2ZM175 66.8l 1.1-.2 .9.5 .2.6-.4.9-1 .7-2.7.6-.2-.1 .2-.9 .8-1.2 1.1-.9ZM184.7 68.9l .7.2 .3.7-.5 5.1-.3.6-.4.4-1.5 0-.6-.2-.6-.5-.2-1.2 .9-1.5 1-2.7 .4-.6 .8-.3Z" fill="#000" fill-opacity="0.06" fill-rule="evenodd" stroke="#111" stroke-width="0.5"/><path d="M155.1 44l .3-.2 .6 0 .6.4 .4.7 .2 3.3 .8 3.9-.2 3.3 .2 1.8 .2 7.5-.8 11.4-.3 1.5-1.3 3.6-.9 1.5-.7.8-.9.6-1.2.4-.9.1-.9-.3-1.8-1-1.2-.2-.3-.4-1.1-4.8-.6-11.1 .1-3.6-.2-2.7 .3-3-.1-3.3 1.1-7.8 1.1-1.8 .9-.3 .4.3 .3.6 .3 1.2 .2 7.8 .3 2.4-.2 3 .2 3.3-.5 6.6 0 3.6 .2.4 2.1-.5 2.1.8 .2-.7-.6-4.5 .2-4.8-.2-2.4 .2-2.1-.5-2.4 1.1-2.7 0-2.4 .5-4.5-.2-2.4 .5-.9ZM184.1 44.9l 1.3 0 3.6.6 1.8-.5 .6 0 .6.4 .8 1 .3.9 .4 2.7 .8 3.3 .7 7.5-.2 2.4 .2 2.7-.6 5.4 0 5.1-1.5 3.3 0 .9 .7 2.1-.6 1.5-.7.8-.6.3-3 .1-3.3.7-3.3.1-1.5-.5-3.1-2.1-.7-1.2-.4-2.1 .3-.6 .4-.3 2.6-1.1 2.7.1 2.1-.4 3.3 0 .6-.2 .3-.4 .1-.7-.2-2.4 .2-2.4-.7-3.6-.5-1.8 1.2-5.4-.1-5.7 .5-2.7 0-.9-.2-.6-.6-.5-1.5-.2-3.4 1.3-1.2 1.2-1.7.3-.6.9-.2.9 0 2.7-.3 1.5-.7 1.1-.9.4-2.1-.1-2.1.3-.6-.1-.3-.4-.1-.9 .6-3.3-.4-2.7 .3-1.2 .5-.8 .6-.6 1.5-.7 .2-.3-1.1-1.8 0-.6 .6-.6 2.7-1.1 3-.2 2.9-.8ZM177.3 50.3l-.2.3 .2.3 1.2.9 1.5.5 .6-.2-.1-.6-1.3-1.2-.7-.2-1.2.2ZM179.6 63.5l .4-.2 .6.1 .9.4 .4.6-.1.3-.9.6-1.2.3-.4-.3-.2-.6 .5-1.2ZM184.1 70.4l .4-.1 .3.4 0 .9-.7 2.7-.2.4-.6.2-.4-.3-.1-.3 .7-1.2 .1-1.8 .5-.9Z" fill="#000" fill-opacity="0.08" fill-rule="evenodd" stroke="#111" stroke-width="0.5"/><path d="M155.2 44.3l .5-.3 .3.1 .6.5 .3.6 0 3 .9 4.2-.3 2.7 .3 2.4 .2 7.2-.3 2.7 .1 2.4-.5 3.3-.2 3-1.6 5.1-.6 1.2-1.3 1.3-1.2.4-1.2.2-.9-.2-3-1.6-.3-.7-1-4.2-.3-7.8-.3-3 .1-3.6-.2-2.7 .4-3-.2-3.3 .8-4.8 .2-2.7 .4-.9 .7-.9 .6-.3 .3 0 .4.6 .3 1.2 .5 9.9-.2 3.3 .2 3.3-.2 4.5-.2 2.1-.1 3.9 .2.5 .3.1 1.8-.6 .9.2 1.5.7 .3 0 .3-.9-.6-3.9 .1-10.2-.3-2.4 .9-3 0-2.1 .6-4.5-.3-2.1 .3-.9ZM183.4 45.5l 1.1-.3 .9.1 2.2.8 .3.3-.4.9-.1.6 .4.3 .8-.6 .2-.9 .2-.3 .9-.4 1.2-.3 1 .7 .5.9 .5 3 .9 3 .8 7.5-.4 2.7 .1 4.5-.6 5.7 .2 2.4-.3 1-1.2 1.5-.3.8 .1 1.2 .6 1.8 0 .9-.6.9-.7.5-3.9.5-2.7.7-3 0-1.5-.6-2.6-2-.8-1.5-.1-1.2 .7-.9 1.9-1 .9-.1 1.8.2 2.1-.4 3.6-.1 .6-.2 .4-.5 .1-.9-.3-2.4 .2-2.4-1.2-5.7 1.1-5.1 .1-3.6-.1-2.4 .6-2.4 0-.9-.3-.7-.6-.7-1.8-.9-2.2 1.4-1.7.5-1.2 0-.9-.5-1.2-1.2-3-.3-.7-.6-.3-.9 .4-.7 1.5-.7 1.5-.3 2.4.1 1.9-.8ZM175.3 51.2l .8 0 .6.2 2.2 1.3 .4.6 0 4.8-.5 1.3-.9.7-3.3-.4-.4-.4 0-1.2-.7-5.1 .6-1.2 1.2-.6Z" fill="#000" fill-opacity="0.1" fill-rule="evenodd" stroke="#111" stroke-width="0.5"/><path d="M155.5 44.6l .5-.2 .6.8 0 1-.5 1.4 1.1 3.2 .3 1.3-.1 1.2-.4 1.5 .5 2.4 .2 3.6 .1 4.2-.4 2.4 .1 2.4-.7 3.3 0 3.3-.8 1.8-1 3.6-.6.9-.8.7-1.2.4-1.2.2-1.2-.4-2.5-1.5-1.3-4.5-.2-1.8 0-5.7-.5-3 .2-3.6-.3-3 .5-3-.3-2.1 .1-1.2 .8-4.8 .1-2.4 .7-1.5 .6-.5 .3-.1 .4.3 .4 1.2-.1 2.7 .6 7.2-.3 3 .3 3.6-.2 4.5-.4 2.1 0 4.2 .2.5 .3.3 2.1-.7 2.4.9 .6 0 .3-.4 .1-.9-.7-3.6 .1-10.5-.3-2.4 .3-1.2 .8-1.5-.2-2.4 .5-2.8 .5-1.4-.6-2.1 .2-.9ZM184.8 45.8l 1 .3 .3.6-.2 1.8-.6 1.2-.7.6-1.3.5-.9.1-.9-.3-.4-.6 .1-.5 1.8-.6 .5-.4 .2-.6-.1-1.5 .3-.3 .9-.3ZM177.6 47l 1.2-.2 .6.1 .4.4-.1.6-.5.6-.7.3-1.3 0-.4-.3-.2-.6 .4-.6 .6-.3ZM190.6 47l .8 0 .4.6 1.1 3.9 .9 2.1 .7 7.2-.6 3.6 .3 3.6-.8 6 .3 2.1-.3.9-1.4 1.2-.4.9 .1 1.2 .6 2.7-.6.9-1.5.6-2.7.4-2.4.7-3.3-.2-1.2-.6-2.2-1.8-.4-.9-.2-.9 .1-.6 .4-.6 1.1-.7 .9-.3 2.4.2 1.8-.4 3.9-.2 .9-.4 .3-.6 0-.9-.3-2.1 .2-2.4-1.3-6.3 1-5.1 .3-3.3-.2-2.4 .8-2.7-.3-1.2-1.1-1.8 .3-.6 1.6-1.8ZM174.8 52.1l .7-.3 .9.2 1.7 1 .5.6 .4 3.9-.5 1.2-.6.5-.6 0-1.5-.8-.9-1.2-.7-3.9 .1-.6 .5-.6Z" fill="#000" fill-opacity="0.13" fill-rule="evenodd" stroke="#111" stroke-width="0.5"/><path d="M147.6 45.5l .6-.2 .3.3 .2.8-.1 2.7 .4 2.4 .3 4.2-.1 1.5-.5 2.1 .5 3-.2 4.8-.2 1.1-.8 1.6 .5 1.5 .2 3 .7.7 2.1-.6 2.7.9 .6-.2 .9-.7 .3 0 .3.5 .1.6-.1.9-.9 2.1-.5 2.7-.3.9-1 1-2.1.5-1.2-.2-2.1-1.2-.5-.4-1.1-3.6-.3-1.5 0-4.5 .3-1.8-.7-2.1-.2-1.2 .2-3.6-.3-3 .6-3-.4-2.7 .5-3.3 .6-2.1-.1-2.4 .8-1.5ZM190.4 48.8l .7 0 .6.6 .3.9 .1 1.8 1.1 1.3 .3.6 .7 6.8-.3 1.5-1.1 1.8-.3.9 .2.9 .9 1.2 .2 1.2-.4 3.6-.8 2.1 .5 2.1-.5.7-1.5.6-.3 0-.3-.4-.6-1.5-.1-1.2 .3-1.8-.8-2.4-.8-4.2 .1-1.5 .9-3.3 .6-3.6-.3-1.8 .1-.9 1-2.4-1.3-2.7 .3-.6 .5-.3ZM155.8 50.6l .2-.2 .3 0 .7 1.1 .1 1.2-.2.5-.3.2-.6-.1-.6-.8 0-1 .4-.9ZM175.5 53.3l .6-.3 .6.2 .9.7 .3.5 .5 2.5-.1.6-.4.5-.6.1-.6-.2-.6-.4-.6-.6-.3-1.5 .3-2.1ZM155 55.4l .4-.2 .6.2 .9 1.2 .6 4.2 0 4.4-.8 2.2 .5 1.5 0 1.2-.6 1.6-.9.7-.6-.4-.3-.5-.4-1.7 .3-2.7-.2-5.9 .2-1.9-.4-2.4 .2-.9 .5-.6ZM151.5 76.9l-.1.4 .4.3 .1-.6-.1-.2-.3.1ZM189.6 78.8l .6-.3 .3.1 .9 3.5 0 .6-.3.6-1.2.7-2.7.3-2.1.8-2.7-.1-.9-.3-1.9-1.4-.6-.6-.5-.9 0-.6 .1-.6 .6-.6 .8-.4 .9-.1 2.1.3 1.5-.4 4.2-.3 .9-.3Z" fill="#000" fill-opacity="0.16" fill-rule="evenodd" stroke="#111" stroke-width="0.5"/><path d="M147.9 45.8l .4.3 .1.9-.2 1-.3.4-.3.1-.4-.6-.1-.9 .2-.6 .6-.6ZM147.5 50l .4-.2 .3.3 .4.8 .4 4.8-.2 1.4-.3.4-.6.2-.6-.1-.6-.6-.5-1-.2-.9 .7-3.9 .8-1.2ZM192 53.9l .6.1 .6.8 .1 3.6 .5 2.4-.3 1-1.3 1.4-.3 1.2-.1 1.2 .1.9 .4.8 .9 1 .1.9-.4 2.7-.6.8-.6.2-.9-.8-.9-1.6-1.1-4-.1-.9 .5-2.4 1.3-3.9 1.4-1.2 0-.6-.9-1.8-.1-.6 .2-.6 .9-.6ZM176.4 56l .3-.2 .3.2 0 .6-.3-.1-.3-.5ZM155.1 56.3l .3 0 .3.6-.3.6-.3.1-.3-.7 .3-.6ZM146.4 59l .3-.2 .3.2 1.2 1.8 .3.6 .3 1.2-.2 2.1 0 2.7-.5.9-1.1.6-.3 0-.4-.3-.4-1.5 .3-3.6-.4-3 .3-1.1 .3-.4ZM156 60.2l .6-.2 .3.3 .1 1.1-.4.8-.6 0-.5-.8 0-.6 .5-.6ZM156 64.1l .6 0 .1.6-.1.4-.6.1-.5-.2 .1-.6 .4-.3ZM155.4 68.6l .9.2 .5.7-.2 1.1-.3.4-.6.2-.6-.3-.3-.8 .1-.9 .2-.4 .3-.2ZM147.1 72.8l .5.2 .8 1.9 1.5 1.5 .7 1.5 .9 1.2 .6.1 1.4-1-.2-2.2 .3-.1 1.5.2 .2.3-.2.8-.8 1 .3 1.8 0 1.2-.4.9-.6.6-.9.3-2.1-.1-1.8-.8-.8-.6-1-3-.4-1.8 .1-3.1 .4-.8ZM187.4 80l 1-.2 1.2.3 .8 1.7-.2.9-.4.3-.5 0-.9-1.3-1.7-.8 0-.3 .7-.6ZM180.4 80.3l .8 0 1.8.4 2.1-.3 1.4.5-1.2 3-.5.4-.6 0-2.7-.9-1.6-1-.4-.6-.1-.6 .4-.6 .6-.3Z" fill="#000" fill-opacity="0.2" fill-rule="evenodd" stroke="#111" stroke-width="0.5"/><path d="M147.5 51.2l .5 0 .3.9 .3 3.6-.1.6-.3.3-.6-.1-.6-.3-.4-.5-.2-.6 .6-3 .5-.9ZM146.4 60.5l .4.3-.1.7-.3-.2 0-.8ZM191.9 60.5l .4-.3 .3.1 .1.5-.3.3-.4 0-.2-.3 .1-.3ZM190.5 62.3l .3 0 .2.3 .2 1.8-.3 2.7-.4.7-.3 0-.9-1.2-.2-1.3 .5-2.1 .3-.5 .6-.4ZM146.6 65.3l .4-.2 .3.2 .7 1.2-.2.9-.8.7-.6-.2-.2-.8 .1-.9 .3-.9ZM190.6 68.9l .8.1 .9.5 .2 1.2-.5.9-.6-.1-.7-.8-.3-.9 .2-.9ZM147.2 75.2l .4 0 1.1.9 1.8 3 .2 1.2-.3.9-.4.4-.6 0-.6-.2-.5-.5-.4-.9-.9-3 0-1.2 .2-.6ZM152.9 80.3l .7-.2 .3.2 .2.6-.2.9-.6.4-.6-.1-.3-.6 .1-.6 .4-.6Z" fill="#000" fill-opacity="0.24" fill-rule="evenodd" stroke="#111" stroke-width="0.5"/><path d="M189.9 65l 0-.2 .3.1 0 .4-.3.3 0-.6ZM147.9 76.7l .3.1 .5.8 .2.9-.1.7-.3 0-.6-.7-.3-1.2 .3-.6Z" fill="#000" fill-opacity="0.28" fill-rule="evenodd" stroke="#111" stroke-width="0.5"/>
</g>
<line x1="161.7" y1="21.8" x2="161.7" y2="92.2" stroke="#3a3a3a" stroke-width="0.95"/>
<line x1="139.5" y1="71.3" x2="210.2" y2="71.3" stroke="#3a3a3a" stroke-width="0.95"/>
<rect x="139.5" y="21.8" width="70.7" height="70.4" fill="none" stroke="#000" stroke-width="1.5"/>
<path d="M139.5 23.3h-2M139.5 24.75h-2M139.5 26.2h-2M139.5 27.65h-2M139.5 29.1h-2M139.5 30.55h-2M139.5 32h-2M139.5 33.45h-2M139.5 34.9h-2M139.5 36.35h-2M139.5 37.8h-2M139.5 39.25h-2M139.5 40.7h-2M139.5 42.15h-2M139.5 43.6h-2M139.5 45.05h-2M139.5 46.5h-2M139.5 47.95h-2M139.5 49.4h-2M139.5 50.85h-2M139.5 52.3h-2M139.5 53.75h-2M139.5 55.2h-2M139.5 56.65h-2M139.5 58.1h-2M139.5 59.55h-2M139.5 61h-2M139.5 62.45h-2M139.5 63.9h-2M139.5 65.35h-2M139.5 66.8h-2M139.5 68.25h-2M139.5 69.7h-2M139.5 71.15h-2M139.5 72.6h-2M139.5 74.05h-2M139.5 75.5h-2M139.5 76.95h-2M139.5 78.4h-2M139.5 79.85h-2M139.5 81.3h-2M139.5 82.75h-2M139.5 84.2h-2M139.5 85.65h-2M139.5 87.1h-2M139.5 88.55h-2M139.5 90h-2M139.5 91.45h-2M141 92.2v2M142.45 92.2v2M143.9 92.2v2M145.35 92.2v2M146.8 92.2v2M148.25 92.2v2M149.7 92.2v2M151.15 92.2v2M152.6 92.2v2M154.05 92.2v2M155.5 92.2v2M156.95 92.2v2M158.4 92.2v2M159.85 92.2v2M161.3 92.2v2M162.75 92.2v2M164.2 92.2v2M165.65 92.2v2M167.1 92.2v2M168.55 92.2v2M170 92.2v2M171.45 92.2v2M172.9 92.2v2M174.35 92.2v2M175.8 92.2v2M177.25 92.2v2M178.7 92.2v2M180.15 92.2v2M181.6 92.2v2M183.05 92.2v2M184.5 92.2v2M185.95 92.2v2M187.4 92.2v2M188.85 92.2v2M190.3 92.2v2M191.75 92.2v2M193.2 92.2v2M194.65 92.2v2M196.1 92.2v2M197.55 92.2v2M199 92.2v2M200.45 92.2v2M201.9 92.2v2M203.35 92.2v2M204.8 92.2v2M206.25 92.2v2M207.7 92.2v2M209.15 92.2v2" stroke="#111" stroke-width="0.55"/>
<text x="135.6" y="31.7" font-size="6" text-anchor="end" fill="#111" stroke="#111" stroke-width="0.18">10<tspan font-size="4.4" dy="-2.6">5</tspan></text>
<text x="135.6" y="47.5" font-size="6" text-anchor="end" fill="#111" stroke="#111" stroke-width="0.18">10<tspan font-size="4.4" dy="-2.6">4</tspan></text>
<text x="135.6" y="63.6" font-size="6" text-anchor="end" fill="#111" stroke="#111" stroke-width="0.18">10<tspan font-size="4.4" dy="-2.6">3</tspan></text>
<text x="135.6" y="79.7" font-size="6" text-anchor="end" fill="#111" stroke="#111" stroke-width="0.18">10<tspan font-size="4.4" dy="-2.6">2</tspan></text>
<text x="136.3" y="86.8" font-size="6" text-anchor="end" fill="#111" stroke="#111" stroke-width="0.18">0</text>
<text x="148.6" y="104" font-size="6" text-anchor="middle" fill="#111" stroke="#111" stroke-width="0.18">0</text>
<text x="155.3" y="104" font-size="6" text-anchor="middle" fill="#111" stroke="#111" stroke-width="0.18">10</text>
<text x="159.4" y="101.5" font-size="4.4" fill="#111" stroke="#111" stroke-width="0.18">2</text>
<text x="169.7" y="104" font-size="6" text-anchor="middle" fill="#111" stroke="#111" stroke-width="0.18">10</text>
<text x="173.8" y="101.5" font-size="4.4" fill="#111" stroke="#111" stroke-width="0.18">3</text>
<text x="186.5" y="104" font-size="6" text-anchor="middle" fill="#111" stroke="#111" stroke-width="0.18">10</text>
<text x="190.6" y="101.5" font-size="4.4" fill="#111" stroke="#111" stroke-width="0.18">4</text>
<text x="202.3" y="104" font-size="6" text-anchor="middle" fill="#111" stroke="#111" stroke-width="0.18">10</text>
<text x="206.4" y="101.5" font-size="4.4" fill="#111" stroke="#111" stroke-width="0.18">5</text>
<text x="140.7" y="28.4" font-size="5.9" text-anchor="start" font-weight="normal" fill="#111" >19.8</text>
<text x="209" y="28.4" font-size="5.9" text-anchor="end" font-weight="normal" fill="#111" >49.3</text>
<text x="140.7" y="90.6" font-size="5.9" text-anchor="start" font-weight="normal" fill="#111" >7.33</text>
<text x="209" y="90.6" font-size="5.9" text-anchor="end" font-weight="normal" fill="#111" >23.6</text>
<g clip-path="url(#c2)">
<path d="M300.6 89.9h.6M306.4 60.2h.6M294.5 50.3h.6M294.4 50.1h.6M305.9 52.1h.6M291.7 41.7h.6M296.4 45.7h.6M294.8 70.8h.6M301.4 63.9h.6M301.3 58.1h.6M295.5 53.3h.6M306.1 43.2h.6M313.1 57.7h.6M288.0 50.9h.6M288.9 59.4h.6M288.4 72.1h.6M287.6 27.8h.6M288.2 31.2h.6M296.5 71.1h.6M304.8 39.9h.6M287.9 80.4h.6M300.8 57.4h.6M309.7 89.2h.6M312.6 59.1h.6M301.3 65.3h.6M289.6 43.5h.6M297.6 45.0h.6M296.3 58.5h.6M325.1 46.2h.6M295.5 55.2h.6M302.2 70.9h.6M291.1 46.6h.6M277.3 45.3h.6M303.4 57.9h.6M284.8 52.5h.6M297.4 63.8h.6M289.9 54.0h.6M275.2 42.3h.6M316.4 28.9h.6M292.9 60.1h.6M292.5 46.8h.6M296.3 57.2h.6M296.0 32.9h.6M295.2 46.2h.6M290.4 60.3h.6M304.7 69.0h.6M291.0 69.3h.6M311.1 72.1h.6M313.7 55.4h.6M294.9 68.0h.6M280.6 60.0h.6M290.6 52.5h.6M276.1 45.7h.6M296.8 68.8h.6M308.9 56.3h.6M294.7 46.5h.6M301.8 54.1h.6M304.3 80.1h.6M296.6 37.8h.6M286.7 38.3h.6M282.6 74.3h.6M299.7 37.5h.6M304.8 73.7h.6M292.7 48.5h.6M293.0 61.0h.6M304.7 72.7h.6M311.5 72.7h.6M313.3 65.9h.6M278.6 55.6h.6M300.8 52.3h.6M307.9 52.6h.6M285.9 76.1h.6M305.0 60.2h.6M308.1 71.1h.6M301.1 25.4h.6M288.9 51.4h.6M285.2 59.9h.6M311.3 51.0h.6M283.4 83.7h.6M291.6 41.3h.6M299.9 62.8h.6M288.5 67.6h.6M291.2 45.3h.6M299.1 67.3h.6M289.4 61.6h.6M288.5 75.3h.6M296.4 55.7h.6M305.7 68.9h.6M312.2 61.6h.6M289.8 50.3h.6M303.1 64.9h.6M313.8 62.7h.6M309.7 77.0h.6M299.0 38.0h.6M282.8 38.6h.6M316.1 46.3h.6M311.8 64.9h.6M317.6 70.3h.6M295.8 54.7h.6M298.0 59.6h.6M290.6 56.9h.6M316.3 35.2h.6M300.1 45.5h.6M299.2 68.2h.6M296.3 67.3h.6M277.9 71.7h.6M289.8 65.4h.6M299.2 23.7h.6M287.9 60.2h.6M315.6 61.0h.6M300.1 38.9h.6M314.2 80.8h.6M297.3 54.4h.6M277.6 68.8h.6M312.2 64.3h.6M285.2 74.7h.6M282.2 54.6h.6M300.3 68.8h.6M302.0 62.3h.6M287.9 40.5h.6M297.7 48.1h.6M281.3 40.8h.6M291.1 33.2h.6M280.8 36.0h.6M299.2 62.6h.6M321.1 37.8h.6M288.8 69.2h.6M294.4 53.0h.6M317.5 52.9h.6M283.1 40.2h.6M301.0 61.3h.6M280.5 44.5h.6M303.4 64.8h.6M289.3 65.4h.6M303.9 34.1h.6M293.3 62.7h.6M290.1 29.5h.6M293.6 67.1h.6M316.0 28.8h.6M308.5 73.3h.6M308.8 59.2h.6M283.1 65.4h.6M288.4 24.5h.6M318.8 45.4h.6M314.6 78.0h.6M315.7 57.0h.6M282.6 55.0h.6M270.6 35.2h.6M298.1 44.4h.6M295.0 55.9h.6M320.2 74.2h.6M296.5 73.0h.6M287.6 52.9h.6M307.9 41.2h.6M293.7 40.1h.6M298.4 78.5h.6M288.0 60.2h.6M286.2 42.4h.6M282.2 76.2h.6M325.3 63.6h.6M288.4 66.5h.6M293.0 67.7h.6M300.5 60.9h.6M304.3 49.8h.6M292.1 34.9h.6M291.7 38.8h.6M295.3 44.9h.6M298.2 63.2h.6M280.0 46.7h.6M285.7 67.0h.6M317.5 68.4h.6M292.8 76.3h.6M278.8 76.8h.6M284.6 59.5h.6M294.4 58.6h.6M279.2 48.4h.6M302.6 60.2h.6M311.4 58.3h.6M325.2 48.0h.6M300.1 32.4h.6M282.0 74.6h.6M285.7 64.2h.6M296.3 43.7h.6M292.8 50.6h.6M291.2 67.1h.6M304.8 49.8h.6M286.1 61.0h.6M295.8 70.7h.6M296.6 55.1h.6M286.7 45.5h.6M285.0 52.2h.6M291.9 67.0h.6M292.2 54.7h.6M282.4 78.7h.6M303.1 80.6h.6M306.6 76.7h.6M294.0 66.6h.6M311.1 79.4h.6M302.1 67.2h.6M312.4 48.6h.6M302.0 45.8h.6M288.7 49.1h.6M295.2 59.2h.6M302.6 38.4h.6M321.3 72.7h.6M305.9 52.5h.6M295.9 64.6h.6M302.1 34.9h.6M274.3 70.6h.6M301.5 55.8h.6M313.9 41.5h.6" stroke="#aaaaaa" stroke-width="0.6" stroke-opacity="1.0"/>
<path d="M270.5 29.9l .9-.2 .9.1 1.8 1.8 2.1 1.1 3 2.4 .7 1.1 0 2.1 .3.9 .8.9 1.5 1 .9-.1 1.8-.9 1.2.1 .9.5 1.5 1.7 1.2.4 .3-.1 .3-.5-.2-2.1 .5-.7 .6-.1 2.1.3 3.9-.9 3-.2 2.4 1 .9.9 .3 1.2-.6 1.5 .1.6 .5.1 1.2-.2 1.5-.9 .6.1 .3.3 1.8 3.3 .6 1.8-.6.3-2.4.1-3.3-.7-.9.4-.6.8 .1.9 .7 1.2 1.9 1.5 .4.6 .7 1.8 0 .6-.2.3-1.1.9-.7.3-1.2 0-2.7-.3-.6.1-1.8 1.1-2.7-.5-.9 0-4.4 3.5-.3.9 1.1 3.9 .9 1.2 .3.1 .9-.7 .6-.3 3.6-1 .9.1 1.8 1 2.3.2 1.5 1.2 2.5 1.5 .8 2.1 1.2 1.5 .1.6-.3.5-.6.1-1.8-.5-1.8 1.2-1.7.5-1.2.9-.7.3-3-.1-2.4.6-1.5.1-1.2-.1-1.5-.8-1.5-.4-1.8-.8-.6 0-1.5.6-.9-.1-2.7-2-.6.5-.3.7-.8 4.2-1.3 1.8-.9 2.7-1.2 1-1.8.7-4.2.1-1.5.9-.9.2-.6-.2-1.5-1.1-1.8-.7-.6-.5-.4-1-.5-2.2-1.1-2.3-.5-2.4-.2-2.1-.4-1.8-.1-11.7-.3-2.7 .6-4.5-.2-3.9 .4-4.8-.1-2.1 .3-1.2 1.1-1.8 .5-2.7 1.2-2.7 .6-.9 1.2-1.2 .9-.5 4.2-1.3Z" fill="#fff" fill-rule="evenodd" stroke="#111" stroke-width="0.5"/><path d="M270.4 30.8l 1-.2 .6.2 2.3 2.4 2.5 1.1 1.6 1 .6.6 .3.9-.1 1.5 .2.9 1.5 2.4 .3 2.4 1 .9-.4 1.2 0 .9 .3.9 .7.5 .6.1 .6-.3 .9-.9 .6-1.1 .1-.7-.4-.8-.6-.2-1.8.4-.2-.3 1.7-2.4 .9-.7 .6-.1 .6.2 1.5 1.6 2.2 1.4 .6 1.5 .8.4 .9.1 .9-.2 .3-1.2 0-1.2-1-1.2-.2-.6 .2-.6 .4-.3 2.4-.9 1.8-.2 2.1-.6 .9.1 2.4 1 .2.3 0 .6-1 .9-.3.6 .9 2.4 .1.6-.3.6-.8.6-.6.2-2.1-.4-1.1.8-.3.6 .1.6 .5.6 2.3.2 .9.4 2.3 2.7 .3.9-.5.9-1.2.8-2.4.3-2.1 1.2-.6 0-.9-.2-1.1-.6-.5-.6-.9-2.7 0-.9 .5-1.8-.2-.6-.2-.3-.6-.2-.9.4-.5 1-.3 2.1 .6 2.4 0 .6-.4.9-1.7 2.1-.7.5-1.2.4-1.5 1.1-.9.4-1.2 0-1.8-.8-.6.2 0 .6 .7 1.8 .1 1.2-.1.6-1 1.1-.3.7 .1 3.9-1 1.7-.7 2.5-.5 3.8-1.4 1.6-1 2.7-1.2.7-1.8.3-1.5.4-2.4-.1-1.8.3-2.4-1.1-1.5-.3-.6-.5-.6-2.1-1.3-2.4-.7-4.2-.5-1.8 .1-11.7-.3-3 .6-3.9-.2-3.9 .5-5.1-.3-2.1 .4-1.2 1.5-1.8 .2-2.4 1.8-3.3 .6-.6 2-1.2 3-.9ZM305.4 45.2l .8 0 .6.2 .5.7 0 .6-.8.4-1.5-.4-.4-.3-.1-.6 .9-.6ZM287.4 62.9l .5-.2 .6.1 .6.6 .3.7 .2 2.1-.5 1.4-.6.5-.9.3-1.8-.8-1.7-.2-.2-.3 .1-.5 1.5-.9 1.3-2.2 .6-.6ZM294.4 68l .4-.2 .6 0 1 .8 .8.3 2.4-.2 4.5.5 1 .6 .2.6 0 .6-.3.6-1.8 1.4-2.1.9-1.8 1.3-1.2.2-2.7-.2-1.7.9-1.3 0-.8-.6-1.5-2.4-1.6-.9-.4-1.2 0-.9 .4-.7 .9-.4 .9.2 1.5.7 .9-.1 .6-.4 1.1-1.4ZM283.4 71.9l .3 0 .3.6 .3.9-.1.3-.2.1-.6-.2-.4-.5-.1-.6 .5-.6Z" fill="#000" fill-opacity="0.02" fill-rule="evenodd" stroke="#111" stroke-width="0.5"/><path d="M269.2 32l 1.6-.3 .9.2 .6.7 .4 1.2 .5.6 .6.3 2.1.1 1 .5 1 .9 .3.6 .4 2.5 .9 2.6-.1 2.1 .8 1.2 .4.9 .4 3.9-.3 2.1 .4 2.4-.8 5.4 .1 1.2 .7 1.5 .1.6-.1.6-1.1 1.8 .3 2.4 .1 1.8-.8 2.1-.9 3.6-.1 2.4-.3.5-1.2 1-.7 2.1-.5.7-.9.4-3.6.3-.9-.1-2.1-.6-3.3-.4-.9-.5-2.2-3.7-1.3-6.3 .5-5.4-.1-3.6 .1-2.1-.3-3.3 .6-3.6-.3-3.9 .7-5.1-.4-2.4 .6-1 1.8-1.7 .1-.6-.2-1.5 .6-1.2 1-1 1.5-.9 1.2-1.5 1.1-.5ZM296.5 44.3l .6.3 .3.9-.2.6-.6.3-.7-.3-.3-.9 .2-.6 .7-.3ZM289.5 47.9l .5-.1 .6.1 .4.6-.9 3.9 .5 2.1 0 .9-1.5 1.3-.9.4-3.3-.5-1.4-1.2-.6-.9-.1-1.2 .4-1.2 .8-.9 .6-.2 .9 0 .5-1 .4-.3 3.1-1.8ZM299.6 51.2l .6 0 .9.6 .6.9 .1.9-.7.6-1.8.6-1.8 1-.6.1-.3-.3-.1-.5 .4-1.3 .4-.5 1.1-.7 .8-1.1 .4-.3ZM287.7 64.7l .5-.2 .3.2 .1.6-.1.7-.6.5-.3-.1-.3-.5 .4-1.2ZM294.9 69.5l 1.1.2 1.9 1 .7 1.5 0 .6-.2.3-.6.4-.6.1-2.4-.7-.9 0-1.2.4-.6-.2-.5-.9 0-.6 2.9-2 .4-.1Z" fill="#000" fill-opacity="0.02" fill-rule="evenodd" stroke="#111" stroke-width="0.5"/><path d="M269 33.2l .6-.2 .6.2 2 2.1 1 .7 .9.1 1.2-.1 .9.5 1 1.5 .6 1.2 .4 3.3-.2 1.8 1.5 1.5 .3.9-.1 3.9-.4 5.1 .1 1.8-.5 3.3 0 2.4-.4 1.8 .1.9 .9 2.1 0 1.8-.8 3.6-1 2.4-.3 1.8-1.2 1.3-1.1 2.3-1 .4-1.5-.3-2.4.3-4.2-.4-1.2-.5-.7-.7-1.6-2.4-.6-1.8-.9-4.2 .2-2.7 .5-2.7 .4-3-.2-4.8 .5-5.7-.6-2.1-.1-.9 .4-3 .7-2.4-.4-2.4 .3-.6 1.5-1.2 .5-.6 .2-.9-.2-1.5 .3-.6 2.4-1.8 1.6-1.5ZM286.5 54.2l 1.7.1 .6.5-.6.7-.9.1-1.1-.8 0-.3 .3-.3ZM295.3 71l .4 0 .3.4-.3.2-.3-.1-.2-.2 .1-.3Z" fill="#000" fill-opacity="0.03" fill-rule="evenodd" stroke="#111" stroke-width="0.5"/><path d="M269 34.4l .6-.1 .6.3 3.3 2.7 .6.3 1.5.3 1 1 .3.9 0 2.7-.7 2.7 .4.6 1.4.2 .5.4 .2.6-.2 1.8 .3 1.8-.2 1.4-1.1 1.6-.1.6 .8 3.6-.7 3 .2 1.8-.2 2.1 .2 1.6 .9 2.3-.4 4.8-1.7 3.9-1.8 2.4-.9.5-3.6.7-4.2-.4-.9-.3-.8-.8-1.1-1.5-.6-1.2-1.3-5.7 .3-2.4 .9-3.6 .9-2.1-.6-3.9 .5-2.1-.2-2.4 .3-2.1-.8-2.7 .2-2.4 .8-3.2 .2-2.2 1.3-2.1 .3-.9 .2-1.5 .2-.6 2.3-1.9 .9-.5Z" fill="#000" fill-opacity="0.1" fill-rule="evenodd" stroke="#111" stroke-width="0.5"/><path d="M268.8 35.3l .8-.1 .6.3 1.8 1.3 .8.9 2 3 .4 1.5 .1 3 .1 1.2 1.1 3.2 1 1.3-.2.6-1.4 1.5-.3 1.2 .6 3.3 .4 1.2-.2 2.1 0 3.3 1.5 5.1-.1 3.9-1.8 3.9-1.6 2-1.5.8-2.7.6-3.6-.2-1.2-.5-.9-.7-1.1-1.4-.5-1.2-1.3-5.4 .1-1.8 1.1-3.6 1.2-2.1 .3-.9-.1-.9-.6-2.4 .3-2.1-.2-2.7 .2-2.1-.5-2.4 0-1.2 .1-1.8 1-4.8 1.2-2.7 .6-2.1 1.2-1.2 1.3-.9Z" fill="#000" fill-opacity="0.1" fill-rule="evenodd" stroke="#111" stroke-width="0.5"/><path d="M268.6 36.2l .7-.2 .6.2 1.9 1.2 .7.9 1.5 3 .6 2.4 .3 2.7 .9 4.5-.8 3.3 0 3.6 .6 2.1-.5 3 2.1 5.4 .3 2.1 0 1.8-.2 1.2-2.1 3.9-1.7 1.7-2.1.8-1.2.2-3.6-.2-1.2-.6-.8-.7-.9-1.2-.6-1.5-1.3-4.8 .3-1.8 1-3.3 .4-.9 1.1-1.5 .3-1.2-.6-3 .1-2.1-.3-2.4 .2-2.7-.4-2.1 0-1.5 .4-3.3 .7-3.3 1.6-3.9 .6-.8 1.4-1Z" fill="#000" fill-opacity="0.1" fill-rule="evenodd" stroke="#111" stroke-width="0.5"/><path d="M268.4 37.1l .6-.2 .9 0 .9.4 .9.7 1.6 3 .7 2.7 1.2 7.2-.6 3.3-.2 3.9 .4 2.1-.6 2.1 0 .6 2.4 4.8 .4 1.2 .1 1.5 0 1.8-.2 1.2-1.9 3.4-1.2 1.3-.9.7-1.2.5-1.5.3-3.3-.2-1.2-.5-.8-.7-.8-1.2-.7-1.5-1.2-4.5 .1-1.5 1.2-3.6 1.6-2.4 .5-1.2-.7-3-.5-4.5 .3-2.7-.4-2.4 0-1.5 .3-2.7 .9-3.6 1.3-3.3 .7-.9 .9-.6Z" fill="#000" fill-opacity="0.1" fill-rule="evenodd" stroke="#111" stroke-width="0.5"/><path d="M268.8 37.7l .8-.1 .9.2 1 .8 1.3 2.4 .9 3.3 .9 4.5 .2 2.1-.6 3-.3 3.9 .2 2.7-.6 2.1 .3.9 1.4 2.1 1.1 2.4 .4 1.5 .1 1.8-.1 1.5-.6 1.5-1.1 1.8-1.5 1.6-.9.7-1.2.5-3.3.3-1.2-.2-.9-.4-1.2-1.3-1.4-3-.7-2.4-.2-1.2 .3-1.5 1.2-3.3 1.6-2.1 .7-1.5-.8-2.7-.8-4.5 .3-2.7-.4-3.6 .3-3.3 1-3.3 1.1-3 .8-1 1-.5Z" fill="#000" fill-opacity="0.12" fill-rule="evenodd" stroke="#111" stroke-width="0.5"/><path d="M268.3 38.6l 1.6-.2 .6.1 .6.5 1.3 2.3 1 3.6 .9 4.2 .2 1.8-.7 3-.4 4.2 0 2.1-.7 1.8 0 .6 .2.6 1.6 2.1 1.3 2.4 .5 1.5 .2 1.5-.2 1.8-.6 1.8-.7 1.1-1.5 1.6-1.1.9-1 .5-3 .3-.9 0-.9-.4-1.2-1-1.8-3.6-.7-2.7 .2-1.5 1.2-3.3 .5-.8 2.4-2.5 .2-.6-1.4-2.4-1-4.5 0-.9 .4-2.4-.3-2.7-.1-1.8 .3-2.1 .9-2.7 1.3-3.3 .8-.9Z" fill="#000" fill-opacity="0.12" fill-rule="evenodd" stroke="#111" stroke-width="0.5"/><path d="M268.6 39.5l .7-.2 .9.1 .6.4 .6.7 .6 1.1 .3 1.8 .8 2.1 .9 3.9 .1 1.5-.7 2.7 0 2.4-.5 3.9-.9 1.8-.1.9 .4.9 1.8 2 1.3 2.2 .6 1.5 .1 1.5-.6 3-.4.9-.7.8-2.1 1.9-.9.5-.9.3-2.1.1-1.4-.3-1.1-.9-1.9-3.6-.4-1.2-.2-1.2 .3-1.8 1.1-2.9 2.1-2.2 1.3-.9 .4-.6-.1-.6-1.4-1.2-.6-.9-1-3.9-.2-1.2 .5-2.4-.2-3.3 .1-3.3 1.1-3 1.3-2.7 .5-.6Z" fill="#000" fill-opacity="0.12" fill-rule="evenodd" stroke="#111" stroke-width="0.5"/><path d="M269.3 41l .6-.2 .6.1 .7.7 .3 1.8 1 2.1 1.1 4.8-.1 1.2-.6 2.1 0 2.4-.5 3.3-1.8 3.3 .6.9 2.3 2 .9 1.2 1 1.9 .4 1.8-.6 3-.8 1.3-3 2.3-.9.3-2.1.1-1.2-.4-.9-.9-1.8-2.7-.4-.9-.1-1.2 .4-2.4 .7-2.1 2.4-2.3 2-1.3 .4-.6-.5-.9-1.9-1.4-.6-.7-1.2-4.5 .6-2.4 .4-7.5 .8-2.2 1.8-2ZM269.9 47.8l-.3.2-.2.5-.1.6 .3.4 .5-.1 .3-.6-.2-.9-.3-.1Z" fill="#000" fill-opacity="0.12" fill-rule="evenodd" stroke="#111" stroke-width="0.5"/><path d="M270 44.3l 1.1.2 .6.7 .3.9 .1 1.8 .8 1.7 .2 1-.1.9-.8 2.1 .2 2.4-.5 2.7-.8 1.6-.6.4-.6.1-1.5-.7-.8-.8-1.3-3.9 .2-.9 .8-.9 .2-2.4 .6-.4 1.2.2 .6-.2 .7-.5 .6-1.2 .2-.9-.2-.6-.7-.7-1.2-.5-.2-.3 .2-1.2 .7-.6ZM269.4 64.4l 1.1.1 2.7 1.5 1.5 2 .6 1.8 0 1.2-1 3-.8.7-2.4 1.3-.6-.1-1.2-.9-1.5.5-.9-.3-1.5-1.5-.7-1.5 .2-3 .5-1.8 .6-.7 2.1-1.6 1.3-.7Z" fill="#000" fill-opacity="0.12" fill-rule="evenodd" stroke="#111" stroke-width="0.5"/><path d="M271.5 51.2l .2-.2 .1.2-.1.4-.3.1 .1-.5ZM270.3 55.4l .8-.3 .4.3 .2.9-.5 2.4-.4.7-.6.3-1.2-.7-.4-.9 .5-1.2 1.2-1.5ZM268.7 66.2l 1.2-.3 2.4.5 .9.5 1.1 1.4 .5 1.2 0 1.2-.9 2.7-.7.8-1.5.4-.6-.2-.3-.4-.3-1.2 .4-2.7-.3-.6-.4-.3-.6.2-.6.7 0 2.4-.9 1.1-.6.3-.6 0-.8-.5-.5-.6-.2-1.2 .5-3.6 .7-.8 2.1-1Z" fill="#000" fill-opacity="0.12" fill-rule="evenodd" stroke="#111" stroke-width="0.5"/><path d="M267.9 67.7l .8-.1 .4.1 .1.3-1.1 1.8-.2 2.1-.4.5-.6.1-.5-.6 0-.9 .5-2.4 .5-.6 .5-.3ZM271.8 67.7l .5-.1 .7.4 .6.9 .3.9-.1.7-1 1.1-.5 1-.4-3.1-.4-1.2 0-.3 .3-.3Z" fill="#000" fill-opacity="0.12" fill-rule="evenodd" stroke="#111" stroke-width="0.5"/>
</g>
<line x1="282.6" y1="21.8" x2="282.6" y2="92.2" stroke="#3a3a3a" stroke-width="0.95"/>
<line x1="256.1" y1="64" x2="326.8" y2="64" stroke="#3a3a3a" stroke-width="0.95"/>
<rect x="256.1" y="21.8" width="70.7" height="70.4" fill="none" stroke="#000" stroke-width="1.5"/>
<path d="M256.1 23.3h-2M256.1 24.75h-2M256.1 26.2h-2M256.1 27.65h-2M256.1 29.1h-2M256.1 30.55h-2M256.1 32h-2M256.1 33.45h-2M256.1 34.9h-2M256.1 36.35h-2M256.1 37.8h-2M256.1 39.25h-2M256.1 40.7h-2M256.1 42.15h-2M256.1 43.6h-2M256.1 45.05h-2M256.1 46.5h-2M256.1 47.95h-2M256.1 49.4h-2M256.1 50.85h-2M256.1 52.3h-2M256.1 53.75h-2M256.1 55.2h-2M256.1 56.65h-2M256.1 58.1h-2M256.1 59.55h-2M256.1 61h-2M256.1 62.45h-2M256.1 63.9h-2M256.1 65.35h-2M256.1 66.8h-2M256.1 68.25h-2M256.1 69.7h-2M256.1 71.15h-2M256.1 72.6h-2M256.1 74.05h-2M256.1 75.5h-2M256.1 76.95h-2M256.1 78.4h-2M256.1 79.85h-2M256.1 81.3h-2M256.1 82.75h-2M256.1 84.2h-2M256.1 85.65h-2M256.1 87.1h-2M256.1 88.55h-2M256.1 90h-2M256.1 91.45h-2M257.6 92.2v2M259.05 92.2v2M260.5 92.2v2M261.95 92.2v2M263.4 92.2v2M264.85 92.2v2M266.3 92.2v2M267.75 92.2v2M269.2 92.2v2M270.65 92.2v2M272.1 92.2v2M273.55 92.2v2M275 92.2v2M276.45 92.2v2M277.9 92.2v2M279.35 92.2v2M280.8 92.2v2M282.25 92.2v2M283.7 92.2v2M285.15 92.2v2M286.6 92.2v2M288.05 92.2v2M289.5 92.2v2M290.95 92.2v2M292.4 92.2v2M293.85 92.2v2M295.3 92.2v2M296.75 92.2v2M298.2 92.2v2M299.65 92.2v2M301.1 92.2v2M302.55 92.2v2M304 92.2v2M305.45 92.2v2M306.9 92.2v2M308.35 92.2v2M309.8 92.2v2M311.25 92.2v2M312.7 92.2v2M314.15 92.2v2M315.6 92.2v2M317.05 92.2v2M318.5 92.2v2M319.95 92.2v2M321.4 92.2v2M322.85 92.2v2M324.3 92.2v2M325.75 92.2v2" stroke="#111" stroke-width="0.55"/>
<text x="252.2" y="32.7" font-size="6" text-anchor="end" fill="#111" stroke="#111" stroke-width="0.18">10<tspan font-size="4.4" dy="-2.6">5</tspan></text>
<text x="252.2" y="48.4" font-size="6" text-anchor="end" fill="#111" stroke="#111" stroke-width="0.18">10<tspan font-size="4.4" dy="-2.6">4</tspan></text>
<text x="252.2" y="64.9" font-size="6" text-anchor="end" fill="#111" stroke="#111" stroke-width="0.18">10<tspan font-size="4.4" dy="-2.6">3</tspan></text>
<text x="252.9" y="84.1" font-size="6" text-anchor="end" fill="#111" stroke="#111" stroke-width="0.18">0</text>
<text x="268.7" y="104" font-size="6" text-anchor="middle" fill="#111" stroke="#111" stroke-width="0.18">0</text>
<text x="287" y="104" font-size="6" text-anchor="middle" fill="#111" stroke="#111" stroke-width="0.18">10</text>
<text x="291.1" y="101.5" font-size="4.4" fill="#111" stroke="#111" stroke-width="0.18">3</text>
<text x="303.6" y="104" font-size="6" text-anchor="middle" fill="#111" stroke="#111" stroke-width="0.18">10</text>
<text x="307.7" y="101.5" font-size="4.4" fill="#111" stroke="#111" stroke-width="0.18">4</text>
<text x="319.5" y="104" font-size="6" text-anchor="middle" fill="#111" stroke="#111" stroke-width="0.18">10</text>
<text x="323.6" y="101.5" font-size="4.4" fill="#111" stroke="#111" stroke-width="0.18">5</text>
<text x="257.3" y="28.4" font-size="5.9" text-anchor="start" font-weight="normal" fill="#111" >45.1</text>
<text x="325.6" y="28.4" font-size="5.9" text-anchor="end" font-weight="normal" fill="#111" >6.99</text>
<text x="257.3" y="90.6" font-size="5.9" text-anchor="start" font-weight="normal" fill="#111" >43.9</text>
<text x="325.6" y="90.6" font-size="5.9" text-anchor="end" font-weight="normal" fill="#111" >3.98</text>
<g clip-path="url(#c3)">
<path d="M390.7 82.3h.6M384.8 51.4h.6M389.9 51.0h.6M413.4 43.4h.6M402.4 37.7h.6M399.0 56.6h.6M370.5 51.0h.6M413.3 39.9h.6M370.6 82.0h.6M389.9 83.7h.6M393.3 43.8h.6M386.9 78.5h.6M403.5 58.3h.6M388.8 56.4h.6M378.5 90.1h.6M388.1 39.7h.6M380.2 70.2h.6M398.6 56.0h.6M377.0 58.7h.6M360.5 36.9h.6M401.1 50.4h.6M394.2 78.3h.6M398.7 58.6h.6M382.2 70.3h.6M394.7 44.2h.6M389.2 55.6h.6M355.7 55.5h.6M383.3 51.1h.6M360.9 52.5h.6M387.3 60.0h.6M369.3 68.7h.6M368.0 54.6h.6M409.5 46.9h.6M379.6 76.0h.6M381.7 53.4h.6M391.6 75.6h.6M371.4 40.5h.6M374.0 44.5h.6M392.9 43.7h.6M390.0 64.9h.6M376.0 60.4h.6M414.8 63.6h.6M377.6 57.2h.6M373.0 62.7h.6M402.1 44.9h.6M384.6 76.5h.6M379.9 61.4h.6M371.3 44.9h.6M381.5 49.8h.6M379.0 55.7h.6M398.5 61.3h.6M420.9 61.7h.6M411.2 62.7h.6M397.7 35.2h.6M386.0 57.2h.6M384.1 23.9h.6M402.1 52.1h.6M381.0 54.2h.6M384.4 64.8h.6M367.7 43.4h.6M392.7 60.6h.6M382.0 49.1h.6M374.6 57.4h.6M406.9 41.4h.6M412.4 71.8h.6M380.8 70.8h.6M364.5 30.6h.6M367.4 51.7h.6M382.8 50.1h.6M389.6 24.1h.6M395.9 35.6h.6M377.4 51.7h.6M369.5 36.4h.6M371.9 58.1h.6M397.4 67.3h.6M372.1 45.6h.6M373.3 65.5h.6M355.4 78.1h.6M380.2 45.8h.6M393.4 74.8h.6M393.5 75.1h.6M390.1 78.0h.6M407.9 56.7h.6M411.0 60.9h.6M389.4 43.6h.6M383.4 70.7h.6M367.0 68.7h.6M393.6 62.7h.6M398.4 46.1h.6M398.7 47.7h.6M401.9 28.8h.6M399.1 54.5h.6M400.9 43.5h.6" stroke="#aaaaaa" stroke-width="0.6" stroke-opacity="1.0"/>
<path d="M365.9 33.2l 2.4.1 2.4-.2 1.5.3 .9.4 1 .9 .7 1.2 1.1 4.8 .1 1.2-.3 2.1 .6 2.7-.1 3.9 1 5.1-.6 3 .2 1.5 0 2.1 .2 2.4-.9 2.5-.4 2.3 .2.9 .6 1.5 .1.9-.5 3.9-.5 1.8-1.8 3.3-.7.7-.9.4-1.8-.1-3.3.3-4.2-.5-.9-.7-.7-1-1-3-.1-5.7-.6-2.7 .2-5.4-.1-4.8 .7-15.6 .5-4.8 .7-3.3 .7-1.5 .6-.6 .6-.2 2.4-.1ZM393.2 33.8l 2.7.1 2.4.4 2.1 0 2.4.8 2.4-.5 2.7.6 1.5.5 .9.7 1.4 1.6 .6 1.2 .2 1.2-.1 1.2-.7 2.4 .5 2.4-.4 2.7 .8 3-.2 2.7 .4 3 0 3.3-.4 2.4 .3 2.1 0 1.8 .3 2.4-.3 3.9-.4 1.2-1.1 1.2-.4.9 .1.9 .7 1.2-.1.9-.4.6-1.1.8-1.8.9-2.8.7-2.6.3-2.4-.5-1.8.4-2.1-.1-1.8.3-1.8-.4-1.8 0-2.4-.7-2.4.1-1.2-.2-1.4-.7-.8-.6-.8-1.2-.3-1.2 .1-.9 1.1-1.2 .4-.9 .1-.6-.1-1.8 .8-2.1-.3-.9-2.4-1.9-.3-.1-.6.1-.5.7 .2.3 1.4.9 .2.6-.1.9-.6.9-.9.6-.6.1-.6-.8-.2-1.1 .6-2.1-.7-1.5-.5-2.7 0-2.4-.2-2.4 .6-2.7-.3-2.4 .3-1.8 .2-3.6 .2-1.1 .9-1.9-.2-2.4 .2-.9 .7-1.2-.3-1.8 .2-1.2 .9-1.3 2.1-1.1 2.7-.9 1.8.2 .6-.2 3.3-1.7 1.2-.4ZM366.2 43.4l-.3.1-.1 1.1 .1 1.2 .3.2 .3-.5 .2-.9-.2-.9-.3-.3ZM366.2 70.9l-.3.1-.3 1 0 1.6 .3.7 .3-.1 .3-.3 .3-1.1-.1-1.2-.5-.7Z" fill="#fff" fill-rule="evenodd" stroke="#111" stroke-width="0.5"/><path d="M363.4 33.5l 3.1 0 1.8.2 2.1-.4 1.5.2 .9.4 1 .8 .7 1.2 1.1 4.5 0 1.2-.4 2.1 .7 3.3-.2 4.5 1.1 4.2-.7 3 .5 5.7-1 2.4-.4 3 .1.9 .8 1.5 .1.9-.4 3.6-.5 1.8-1.4 3-.8.8-.9.4-1.8-.3-3.3.4-3.9-.3-.9-.5-.6-.8-.7-1.5-.5-1.5-.2-3.3 .2-2.4-.6-3 0-10.8 .7-15.9 .6-5.1 .6-2.4 .6-1.2 1-.6ZM392.8 34.1l 1.3-.1 4.2.6 2.1.1 2.4 1 .9-.1 1.5-.6 3.3.7 .9.3 1.2 1 .9 1 .6 1.2 .1.9 0 1.2-.4.9-.6.9-.1.6 .6 2.7-.2 2.7 .8 3-.2 2.7 .4 3 0 3-.4 2.4 .2 2.4-.3 2.4 .1.8 .5 1 0 .6-.4 3.6-1.3 1.9-.4 1.1 .1 1.2 .5 1.2-.1.6-1.3 1.2-1.2.6-.9 0-.9-.9-.6-.2-.5.5-.4 1-1.2.5-1.5 0-1.8-.9-.9-.1-.7.1-1.1.6-3.3.4-.4-.4-.4-1.5-.7-.6-.9 0-.4.3-.5 1.5-.3.2-.6-.3-.4-1.1-.5-.5-1.5-.1-1.5-.3-.6.3-.3.9-.6.2-1.5-.6-.8-1.4-.1-1.2 1.6-3 0-2.1 .9-1.8 0-.6-1-1.8-1.2-.9-1.2-1.2-.9-.5-1.2.1-.3-.2-.6-1.5 0-1.8-.5-2.4 .2-1 .8-2-.2-2.3 .3-.1 1.8.1 .5-.1 .1-.3-.4-1.2-2-2.1-.2-.9 .1-1.2 .4-.8 2.9-2.2-.2-.6-1.1-1.5 .2-2.7-.6-1.5 0-.6 .4-.9 .8-.6 1.5-.5 1.8-.2 1.2-.5 2.1-.3 4.1-2.4ZM365.9 43l-.3 1.9 .3 1.6 .3.1 .5-1.1 .2-1.2-.4-1.2-.3-.2-.3.1ZM386.9 61l-.2.1 .2.2 0-.3ZM384.5 63.8l-.7.6-.2.6 .3.6 .6.2 .8-.5 .4-.9-.3-.7-.9.1ZM366.2 70.6l-.3.1-.2.6-.2 1.2 .1 1.8 .3.5 .3 0 .5-.5 .3-1.2-.1-1.5-.7-1Z" fill="#000" fill-opacity="0.03" fill-rule="evenodd" stroke="#111" stroke-width="0.5"/><path d="M363.1 33.8l .7-.2 1.2.3 1.5-.1 1.8.6 1.8-.7 2.1.1 .9.5 .7.7 .7 1.8 .1 2.1 .6 2.1-.4 3 .6 2.1 .2 1.5-.5 5.1 .4 1.3 .6.9 .3.8-.9 2.7 .2 3.6 .3 2.1-.8 1.9-.3 3.8 0 1.3 .7 2-.1 1.8-.2 2.7-1.1 3-.8 1.3-1.2.7-.6-.1-1.2-.6-3.6.6-3.6-.2-.9-.6-.7-.8-.9-2.7-.2-3.3 .1-2.7-.5-2.7-.1-10.2 .7-15.6 .8-6.9 .7-2.1 .9-.9ZM392.8 34.4l 1-.1 3.9.7 2.4.1 2.7 1.1 3-.6 2.7.4 .9.4 1.2 1 .8.9 .4.9 .2.9-.1.9-1 1.9-.1.8 .5 2.7 0 3 .7 2.7-.1 2.7 .4 3.3 0 3-.5 2.4 .2 2.1-.4 2.4 .4 2.7-.1 2.1-.2 1.2-1.5 3-.1.9 .3 1.8-.7.9-.9.5-.9-.1-1.2-.9-.6-.2-.6.3-1.2 1.1-.6.2-4.5-.8-1.2.1-2.1.5-.6-.2-1.2-1.1-2.1-.9-1.5-.8-1.2.7-.6.2-1.8-.4-.6 0-1.8 1-.6-.2-.3-.5 0-1.2 1.8-3 .1-1.8 1-1.8-.1-.6-.8-1.8-.1-1.8 .6-1.5 1.7-2.8 .2-1.7-.2-1.1-.3-.4-.6-.2-.6.1-.7.7-.6 2.1-1.7 1.1-.9.3-.5-.5-.2-.6 .6-2.4-.1-.6-.4-.6-.6-.1-.5.1-.2 2.1-.5.8-.6.1-.6-1.1 0-.7 .2-.6 .4-.5 .9-.4 .6-1.4 .6-.1 1.2.6 .9 0 .7-.6 .3-.9-.1-.6-1.8-2.5-1.5-1.2-1.2-1.9 .3-.7 2.1-1.4 2.1-.9 .6-.7-.5-.9-1.6-1-.7-.8-.2-2.7-.6-1.5 .3-.6 .6-.4 1.2-.3 2.1-.1 1.5-.8 1.8-.5 3.8-2.4ZM365.9 42.4l-.3.7 0 2.4 .3 1.9 .3.2 .3-.3 .6-1.8 .2-1.5-.5-1.2-.6-.4-.3 0ZM401 59.8l-.3.7 .3.7 .6.3 .9-.1 .3-.6-.3-.6-.9-.6-.6.2ZM404.6 62l 0 .4 0-.4ZM365.9 70.3l-.3.7-.2 2.1 .2 2.1 .3.4 .6-.3 .5-.7 .3-1.8-.1-.9-.4-1-.6-.7-.3.1Z" fill="#000" fill-opacity="0.03" fill-rule="evenodd" stroke="#111" stroke-width="0.5"/><path d="M363 34.1l .8-.2 1.2.4 1.5.1 .8.6 1.3 1.8 .9.6 .3-.3-.5-.9-.1-.6 .4-.9 .8-.5 1.8-.1 .6.3 .7.6 .6 1.5 .1 2.4 .6 2.1-.3 2.7 .5 2.7 .1 1.5-.3 4.5 .6 3.6-.3 2.4 .2 5.4-.4 2.1-.3 4.5 .3 2.7 0 3.9-.2 1.2-.8 2.7-.6.9-.8.5-.9-.1-1.2-1.2-3.9 1.2-3.3-.2-.6-.3-.7-.8-.9-2.4-.3-3.6 .1-2.7-.6-2.7 0-10.5 .2-7.2 .5-8.7 .4-4.5 .9-3.3 .8-1.2ZM393.1 34.7l .7 0 3.6.7 2.7.1 2.7 1.1 3-.4 2.7.2 .9.4 .9.7 .7.8 .4.9 .1 1.5-.9 2.1-.1.6 .6 3 0 3 .6 2.7 0 2.7 .4 3-.1 3.3-.4 2.1 .1 2.4-.3 2.7 .3 2.4-.1 1.8-.2 1.5-1.5 3-.1 2.4-.3.6-.7.4-.9 0-1.2-1-.6-.2-1.8 1.1-.6.2-7.5-.4-.9-.3-2.4-1-.9-.6-2.3-2.4-2.1-3 .4-3.3-.1-.3-1-.9-.3-.8 0-.7 .3-.9 1.2-1.5 .4-.9 .1-.9-.2-3.3-.3-.7-.6-.3-1.2-.2-.3-.3 0-.3 .6-.6 1.8-.1 .9-.5 .5-.6 .1-.9-.3-.6-.9-.6-.6.1-1.8 1.3-.9-.1-.7-.4-.6-.6-.1-.6 0-1.2-.2-.3-1.5-.3-.7-.6-.1-.9 1-1.2 1.4-.7 3.3-.8 .6-.4 .3-.8-.3-.7-1.5-.8-1.2-1.2-1.5.3-.6-.4-.2-.8 0-2.7 .3-.6 .5-.2 2.1-.3 1.8-.9 1.5-.5 4.1-2.6ZM365.9 41.8l-.3.3-.1 1 .1 4.4 .6 1.6 1.2.8 .3-.2-.5-3 .6-2.1 0-.9-.6-1.2-.7-.5-.6-.2ZM400.1 44.2l-1.6.7-.5.6 .3 1 .9.8 .6-.1 1.1-1.7 .9-.9-.2-.3-1.5-.1ZM404.6 47.3l-.9.6-.7.9-.1.9 .2.5 .3.2 1.2.1 .3-.1 .2-.4 .2-2.4-.2-.3-.5 0ZM393.2 50.7l-.5.5 .3.6 1.1.3 .9 0-.9-1.3-.3-.2-.6.1ZM393.8 58.5l-.4.5 0 .6 .4.5 .3 0 .3-.4 .2-.7-.2-.4-.6-.1ZM400.1 58.6l-.7.4-.4.9 .1.6 1 1.4 .9 1 2.7 1.5 .9.2 .3-.3 .3-1.7 0-1.2-.3-.5-1.2-.4-1.9-1.5-.8-.3-.9-.1ZM394.7 61.3l-.4.4 .1.8 .3.3 .6-.1 .5-.4 0-.3-.5-.5-.6-.2ZM393.2 64.3l-.5.7 0 .6 .4.6 .7.3 1.2-.3 1.2-.5 1.8.2 1.2 0 .8-.3 .4-.6-.2-.6-.7-.3-1.5.2-2.1 1-.6-.2-1.2-.9-.9.1ZM365.9 69.7l-.6 2.2-.1 1.8 .2 2.4 .2.6 .3.1 .6-.4 .9-1.2 .2-.6 .1-1.2-.2-1.5-.4-1-.6-1-.3-.3-.3.1ZM385.3 76.7l .4-.2 .3.1 .2.7-.5.4-.6.2-.1-.6 .3-.6Z" fill="#000" fill-opacity="0.04" fill-rule="evenodd" stroke="#111" stroke-width="0.5"/><path d="M363 34.4l .8-.2 1.2.9 .9 0 .6.2 1.5 2.3 2.1 1.6 .3.1 .3-.2 .3-.7 .1-1-.2-1.8 .6-.9 .7-.2 .6.2 .6.7 .4 1.1 0 2.4 .6 2.4-.1 2.7 .5 3.3-.2 4.8 .4 3.6-.2 2.7 .2 5.1-.6 6.9 .2 2.7-.1 4.8-.8 3-.6.8-.6.3-.6 0-.3-.2-1.2-1.8-.6.1-3.3 1.6-3.3 0-.6-.3-.7-.8-.7-2.1-.4-3.6 .2-2.7-.6-3-.1-10.5 .3-7.2 .4-8.1 .5-5.1 .8-2.8 .7-1.1ZM393.1 35.3l 4.3.5 2.7.1 2.7 1.1 3-.3 2.7.2 1.3.8 1 1.5 .2 1.5-.7 2.1-.1.9 .6 2.7 0 3 .7 2.4 0 3 .4 3.3-.1 3-.4 2.4 .1 2.4-.4 2.1 .3 4.5-.3 1.5-1.5 3-.4 2.1-.7.7-.6-.1-1.5-1-.6 0-1.8 1.1-.9.2-4.2-.2-4.5-.9-1.2-.4-.9-.7-2.3-2.6-.8-1.5-.2-1.8 .4-.6 1.1-1.2 .2-.9-.2-.6-1.1-1.8-.2-1.8 .1-2.1-.3-2.7 .5-2.1 1.9-3 0-.6-.4-1.2 .1-.3 3.3.6 .6.3 .8.9 .2.9-.1.7-.3.4-2.1.2-.6.7-.5 1-.1 1.2 .1 2.4-.8 3 .1 1.2 .5.6 1.3.2 3.3-.8 3.6-.1 2.4-.2 .9.1 .9.8 .3-.7 .6-3.5 .1-1.5-.4-1-1.5-.5-3-2-1.7-1.6-5.4-6.9-1-2.1-2.4-3.2-.6-.3-1.5.3-.9-.2-3-2.6-.2-.9 .4-.6 1.6-.5 3-1.5 4.1-2.5ZM365.9 41.3l-.4.3-.2 1.5 .1 3.9 .5 2.6 .6 1 .6.6 1.2.5 1.2 0 .3-.1 .3-.6 0-1.8-.3-1.3-1.4-1.5 .4-1.5 0-1.2-.5-.9-.6-.6-1.8-.9ZM401.6 43.4l-1.5.3-2.2.9-.4.3 0 .6 .5 1.1 .6.7 .9.6 .6.2 .9-.5 .9-1.6 .6-.2 1.3 0-2 2.4-.1 2.1 .5 1.6 1.5 2.8 .9 1 .3 0 .2-1.2-.4-2.1 .5-.8 .3-1 .3-3-.1-1.2-.2-.7-.3-.2-1.2.1 .1-1-.7-.8-.9-.4-.9 0ZM389.5 46.7l .4 0 2.3 2.1 .2.6-.1.3-.6.5-.6.1-2.7-.5-.9.1-.8 1-.2 2.1-.5.6-.6 0-.3-.6 1-1.8 0-.3-.7-.4-2.4-.1-.2-.4 .1-.3 .6-.6 1-.4 1.2 0 1.5.2 2.3-2.2ZM396.4 59l .4-.1 .2.4-.2.7-.3 0-.3-.3 .2-.7ZM397.9 62l .7 0 .3.3 0 .6-.6.3-.6-.1-.1-.5 .3-.6ZM365.9 68.1l-.8 5.3 .1 3.6 .1.7 .3.3 .9-.4 1.2-1.2 1.1-.9-1.1-4.2-1.5-3.2-.3 0Z" fill="#000" fill-opacity="0.05" fill-rule="evenodd" stroke="#111" stroke-width="0.5"/><path d="M363.4 34.7l .7.3 1.2 1.4 .6.1 .8 1.2 1.9 1.5 1.5 2.5 .3-.1 .3-.6 .7-2.1 .1-2.7 .3-.9 .4-.2 .6.1 .4.4 .3.9 0 2.4 .6 2.1-.1 2.7 .5 3.3-.1 5.1 .3 3.3-.1 2.7 .2 5.4-.4 3-.2 3.9 0 7.5-.8 3-.3.5-.6.3-.6-.1-.3-.4-1.2-2.6-3.9 2.3-1.5 0-1.2.5-.6-.1-.6-.4-.6-.7-.7-2-.3-3.6 .1-2.7-.5-2.7-.2-10.5 .3-4.2 0-3 .5-8.1 .5-5.1 .9-2.7 .3-.6 .5-.3ZM392.9 35.9l .6-.1 3.9.4 2.4 0 .9.2 1.5 1 .6.1 2.7-.3 2.7.2 .7.3 .6.6 .7 1.8 .2 1.2-.5 1.5 0 .9 .7 2.7-.1 2.7 .8 3 0 2.4 .4 3.6-.1 3-.4 2.4 .1 2.1-.4 2.4 .2 4.2-.4 2.1-2 4.2-.5.5-.6-.2-.9-.6-.6-.1-2.4 1.3-3.6.2-1.8-.3-3.9-.9-.9-.3-.9-.7-1.9-1.9-.9-1.5-.1-.9 .2-.9 1.2-1.7 .9-1.7 .9-.7 2.7-.9 1.8-.3 3.3.2 2.1-.1 .6.4 .9 1.6 .6 0 .3-.7 .2-2.4 .5-3.6-.1-1.5-.6-1.1-1.5-.3-2.4-1.4-2.5-2.3-4.6-6-1.2-2.4-2.5-3.5-.9-.7-1.8.1-.6-.1-.6-.5-.8-1-.2-.9 .3-.6 3.4-2 2.1-1.5 1.5-.7ZM365.6 40.2l-.3.5-.2 1.2 .1 5.7 .7 2.9 1 2.2-1 1.3-.2 2 .2 1 .3.5 1.5.1 .3-.2 .2-.5 .1-2.8 1.5-1.2 .6-1.3 .1-1.3-.1-2.2-.7-2.9 0-2.7-.3-.3-2.7-1.2-1.1-.8ZM401.3 42.8l-1.2.3-2.7 1.3-.3.2 0 .6 .9 1.8 2.6 2.1 2.8 5.7 .9 1.2 .6.5 .3-.3 .2-.8-.1-2.4 .5-2.1 .3-3.3 0-3.6-.3-.3-1.2 0-1.8-.9-1.5 0ZM390.6 58.4l .5-.3 .2.3 0 1.5-.5 1.4-.6.4-.4-.6-.1-.9 .3-.9 .6-.9ZM369.5 59.2l-.2.1 .2.2 0-.3ZM367.1 61.8l-.6.7-.9 4.4-.6 5.7-.1 5.3 .3.9 .4.3 1.2-.4 1.5-1.4 .6-.1 1.2.2 .1-.4-.1-1.9-.3-.7-.9-1.1-1.2-3.2-.6-3 .1-.6 .5-.3 2.1.1 .3-.7-.1-.6-.2-.7-.8-.8-1-1.6-.3-.2-.6.1Z" fill="#000" fill-opacity="0.06" fill-rule="evenodd" stroke="#111" stroke-width="0.5"/><path d="M363.4 35.6l .4.1 .5.5 .4 1.2 .3 6.9-.1 2.7 1 5.1-.5 3 .4 7.5-.7 5.4 .1 2.1-.6 7.5 .1 2.1-.3.8-.6.3-.8-.2-.7-.6-.8-2.1-.3-3.3 .2-2.7-.6-2.4-.2-7.2 0-4.2 .3-3.6-.1-3 .6-8.1 .7-5.7 .5-1.3 .8-.8ZM372.4 35.9l .4.1 .3.7-.2 2.2 .9 2.1 0 2.7 .5 3.3 .1 2.1-.3 3 .4 3-.1 3 .2 4.8-.5 3.6-.2 4.2 .1 6.9-.6 2.8-.3.6-.6.3-.7-.4-.6-1.8-.8-5.3-.5-1.6 .5-2.1 .1-4.8-1.1-3.3 .7-1.5 .2-1.2-.9-3.3 1.3-4.4 .1-1-.5-6 1.1-3.9 .8-1.8-.1-2.4 .3-.6ZM392.6 36.5l 1.2-.2 3.6.3 2.4-.1 .9.4 1.2 1.1 .6.2 2.4-.3 3 .1 .8.6 1.1 2.1 .1.9-.5 1.8 .9 3-.1 2.7 .8 2.7 .1 2.7 .5 3.6-.2 3.3-.5 2.1 .1 2.1-.4 2.4 .3 4.2-.2 1.5-.6 1.2-1.6 2.7-.6.4-1.8-.6-2.7 1.6-3 .2-1.8-.2-4.8-1.4-2.4-2-1-1.3-.1-.9 .2-.9 2-3 1-.8 2.7-1.3 1.5-.1 2.7.5 2.1-.1 .6.5 .9 1.5 .9 0 .3-.3 .3-.8 .2-2.7 .6-3.9-.2-1.5-.9-1.5-1.2 0-2.1-1-1.8-1.4-1.5-1.5-4.1-5.4-.5-.9-.4-1.5-1.3-1.5-1.8-2.6-1.2-.9-1.8.2-.5-.3-.4-.6-.1-.6 .4-.7 1.8-1 2.4-2 1.5-.8ZM366.9 39.5l .5-.1 .3.2 .3.5-.2.3-.4 0-.5-.3-.1-.3 .1-.3ZM401.6 42.2l-1.8.4-1.5.9-1.5.7-.2.4 1 2.4 2.8 2.4 2.6 5.4 1.6 2.1 .3.3 .3-.1 .4-1.4 .1-2.7 .4-2.1 .5-5.7 .5-2.1-.3-.6-.4-.2-1.5.6-1.5-.8-1.8.1Z" fill="#000" fill-opacity="0.08" fill-rule="evenodd" stroke="#111" stroke-width="0.5"/><path d="M363.1 36.8l .4-.2 .3.1 .5 1 .5 6.3-.1 3 .9 5.1-.5 3.3 0 3.6 .4 3.9-.7 5.1 .1 2.4-.9 8.4-.2.8-.3.1-.9-.5-.5-.7-.6-2.7-.1-1.5 .3-2.4-.7-2.4-.3-7.2 0-4.2 .5-3.6-.2-3 .6-5.4 0-2.4 .6-2.4 .1-3 .3-.9 .5-.6ZM393.7 36.8l 6.1.2 .9.7 .6 1.4 1.7.7 .1.3-.3.6-.6.5-.9.3-1.8 0-1.4 1.6-1.9.7-.1.5 .6 1.8-.2.6-2.4-.2-.9-.4-.6-.6-3.2-4.5 0-.6 .3-.6 1.6-1.8 1.3-.9 1.1-.3ZM404.3 39.2l .6-.1 1.2.4 .9-.4 .6 0 1.5 1.8 .1.4-.1.7-.3.4-.6-.1-2.1-2.7-1.5.1-.4-.2 .1-.3ZM398 39.5l-1.8.2-1 .4-1.4.6-.3.3 0 .3 .6.9 .6.3 1.5-1.1 .9-.3 1.8-.2 .4-.5 0-.6-.6-.3-.7 0ZM372.2 40.4l .6-.1 .6.8 0 2.6 .7 2.7 .1 2.7-.4 3 .5 3-.3 2.7 .4 5.1-.2 1.8-.7 2.1 .3 1.8-.2 2.4 .2 6.6-.7 2.6-.3.4-.3.1-.3-.1-.4-.9-.9-3.6-.3-3.9 .2-6.6-.8-3.3 .6-3-.5-2.4 0-1.2 1-5.1-.4-5.7 1-3.6 .5-.9ZM407.9 44l .6-.2 .3.2 1 1.8 .1 1.2-.1 2.1 .9 2.7 .1 2.4 .6 3.3-.2 3.6-.8 2.4 .3 2.1-.4 2.4 .4 3.6-.2 1.8-1.2 2.4-.8 1-.6.4-.6-.1-1.5-.6-1.8 1.6-.9.4-2.7.3-2.1-.2-1.5-.6-4.8-2.5-1-1.2-.1-1.2 2-2.5 1.5-1.1 1.2-1.2 .9-.5 1.5 0 2.1.7 2.1 0 .4.4 .7 1.2 .4.3 1.2-.1 .6-.6 .3-1.1 .2-3 .9-3 .1-.9-.3-1.2-1-1.8-.2-.9 .4-2.1 .1-2.4 .5-2.1 0-1.8 .4-2.1 .1-1.8 .3-.8 .6-.7ZM397.3 47.9l .4-.1 1.2.5 1.4 1.4 2.2 5.1 1.9 2.7-.1.8-.6.1-.9-.4-1.5-.8-1.2-.9-1.4-1.5-3.3-4.2-.7-1.2 0-.9 1.8 0 .8-.6Z" fill="#000" fill-opacity="0.1" fill-rule="evenodd" stroke="#111" stroke-width="0.5"/><path d="M394.1 37.4l 1.5-.1 3.1.7-2.2.9-2.4.5-.9-.5-.2-.6 .5-.6 .6-.3ZM363.1 38.6l .1-.2 .3.1 0 1.1-.3-.1-.1-.9ZM390.9 41.3l .5-.3 .6.3 1.5 1.5 1.8 1 .7 1.1 .1.9-.5.3-.9-.1-.9-.3-.6-.4-.9-1.6-1.2-1.3-.2-.5 0-.6ZM363.2 41.6l .3-.2 .3.2 .6 1.5 .2 1.5-.4 2.1 .9 3.3 .3 1.8-.9 6.9 .7 3.9-.3 3-.6 2.4 .4 2.7-.8 6-.3.9-.4.4-.6-.2-.3-.4-.6-2.2 0-1.2 .5-2.4-.9-2.1-.4-7.2 0-4.5 .7-3.3-.4-3.3 .5-3.6 .5-1.8-.1-2.1 .2-.9 .9-1.2ZM372.5 42.2l .1.9 1 2.4 .2 1.2 .1 2.7-.6 2.7 .6 2.1 .1 1.2-.6 2.4 .6 2.3 .2 3.1-.2 1.2-.3.8-.6.4-1.2.2-.3-.1-.3-.4-.9-2.4 0-1.2 .5-2.4-.5-3 .4-2.7 .8-2.7-.6-6 .3-.9 1.1-1.5 .1-.3ZM396.7 42.2l .7 0 .1.3-.4.3-.6 0-.1-.3 .3-.3ZM408.2 45.2l .6.1 .4.8-.1 2.4 .9 3 .3 2.4 .9 3.6-.3 3.9-.6 1-.9.6-.6-.2-.4-.5-.8-2.1-1.2-1.2-.4-1.2 .4-4.5 .7-1.8-.2-2.4 .7-1.8 .2-1.5 .4-.6ZM397.8 48.5l .5-.1 .6.2 .6.5 .8.9 1.6 4.8 1.2 1.8 .2.6-.5.1-.9-.3-2.1-1.4-3.8-4.7-.4-.9 0-.4 1.2-.5 1-.6ZM407.9 63.8l .9-.2 .6.3 .6.7 .3 1-.3 2.4 .3 4.8-.4 1.5-1.1 1.6-.9.6-.6-.1-.6-.6-.6-.9-.6-.3-.6.6-1 2.1-.5.4-.9.4-1.8.3-1.5 0-1.5-.4-1.1-.7-.4-.6-.3-.9 .3-3 .4-.3 2.9-1.1 .9-.2 2.4.1 2.4-.5 .4-.4 .3-.9 .5-4.2 .6-1 .9-.5ZM371.7 68.3l .2-.1 .9.3 .4.7-.1 2.1 .3 1.8 .1 4.2-.4 1.6-.3.4-.3.2-.3-.4-.6-1.4-.4-1.9-.1-4.2 .2-2.3 .4-1ZM396.6 68.9l .2-.2 .3.2-.3.1-.2-.1ZM392 73.7l .3-.1 .3.2 .2.5-.2.3-.3 0-.3-.2 0-.7Z" fill="#000" fill-opacity="0.13" fill-rule="evenodd" stroke="#111" stroke-width="0.5"/><path d="M363.3 43.1l .5 0 .3.6 0 .6-.3.4-.6-.2-.3-.5 .1-.6 .3-.3ZM393.8 44.3l .6-.2 .6.2 .3.4 .1.5-.4.1-.6-.1-.5-.3-.1-.6ZM371.7 44.6l .2-.2 .6.2 .6.8 .3.9 0 3.1-.3.7-.3.1-.6-.4-.4-1.3-.4-3 .3-.9ZM362.7 47.3l .8 0 .6.6 .6 1.5 .4 1.8 0 1.5-.7 3.6-.3.7-.7.8-.2.9 .3.9 1.1 1.5 .3 2.1-.2 1.8-.4 1.5-.5.7-1.1 1.1-.4.8-.3.1-.3-1.1-.6-5.5 0-4.2 .3-1.6 .9-2-.7-2.4-.1-1.5 .7-3 .5-.6ZM397.9 49.1l .4-.2 .6.1 .6.4 .6.9 .4 1.2 .4 3 0 .6-.2.2-.6-.1-.6-.5-2.9-3.8-.1-.6 1.4-1.2ZM407.7 49.4l .2-.2 .5.2 .2.6-.1.4-.3.1-.4-.2-.2-.4 .1-.5ZM371.7 52.7l .5-.1 .6.4 .6.8 .3 1-.2.9-.9 1.5-.5 1.2 .1.3 1.2 1.1 .5 2.2-.1 2.1-.4.6-.6.2-1.2-.3-.6-.8-.3-1.2 .1-1.2 .9-2.4-.7-1.4-.3-1.3 .4-2.4 .2-.7 .4-.5ZM407.4 53.3l .8.1 1.2.8 .9 1.1 .4 1 .3 1.2-.1 1.2-.3 2.1-.3.6-.3.2-.6-.1-.3-.4-.9-3.2-.6-.5-.6.2-.3-.4 .1-3 .2-.6 .4-.3ZM407.4 65.3l 1.6 0 .5.6 .5 6.9-.3 1.2-.9 1.3-.6.5-.6 0-.5-.6-1-1.7-.6-.4-.6.5-.6 1-.9 2.1-.9.8-1.2.4-1.8.1-1.2-.2-1-.5-.7-.9-.1-.9 .4-1.2 .8-.9 1.5-.9 .9-.3 3 0 2.4-.4 .6-1.7 .6-3.9 .3-.6 .4-.3ZM363.4 69.8l .4 0 .3.3 .1.9-.6 4.8-.4.9-.3 0-.6-.8-.3-1.6 .9-2.1 .2-1.8 .3-.6ZM372.1 73.7l .1-.1 .3.3 .3.7 .3 1.5 0 1.3-.3.5-.3 0-.6-.7-.3-1.1 0-1.2 .5-1.2Z" fill="#000" fill-opacity="0.16" fill-rule="evenodd" stroke="#111" stroke-width="0.5"/><path d="M362.9 48.5l .6-.1 .6.5 .8 2-.2 2.1-.9 1.9-.3-.1-.3-.4-1-1.7-.3-.9 .1-1.5 .9-1.8ZM398.3 49.7l .6-.2 .6.5 .3.9-.3.5-.9 0-.6-.5-.1-.6 .4-.6ZM371.6 54.2l .3-.3 .3 0 .4.3 .3.6-.1.6-1.2 1.4-.3-.1-.1-.7 .4-1.8ZM409.4 55.7l .6.2 .6 1.3 0 1.2-.3.7-.3.2-.6-.7-.4-1.4-.1-.9 .5-.6ZM361.8 57.8l .2-.3 .2.6-.2 1.1-.3-.3 .1-1.1ZM362 59.9l 2 1.5 .5 1.2-.1 1.2-.3 1.4-.6 1-.6.2-.3 0-.3-.3-.9-3.5 .1-1.2 .5-1.5ZM371.8 60.8l 1 .1 .6.9 .2.8-.2.9-.6.6-.6 0-.6-.3-.5-.9 0-1.2 .2-.4 .5-.5ZM407.2 66.8l .4-.3 .9.3 .4.6 .3 1.2 .3 4.5-.5 1.2-.8.7-.5-.1-.4-.5-.7-2.2 .1-3.7 .5-1.7ZM400.8 72.8l 1.4.1 1.3.5 0 .9-.7 2.1-.9.8-1.2.3-1.8 0-1.2-.4-.6-1-.1-.6 .4-.8 2.4-1.6 1-.3Z" fill="#000" fill-opacity="0.2" fill-rule="evenodd" stroke="#111" stroke-width="0.5"/><path d="M363.4 49.4l .4 0 .3.3 .5 1.5-.1 1.5-.4.6-.3.2-.9-.7-.5-1.3 .2-1.2 .3-.5 .5-.4ZM371.8 62.3l .4-.2 .3.2 0 .6-.6 0-.1-.6ZM407.4 68l .5-.2 .3.1 .5 1-.2 2.1 .4 2.1-.3.6-.4.3-.4-.3-.3-.9-.4-3.6 .3-1.2ZM400.3 73.7l 1-.2 .6.1 .5.4 .2.9-.4 1.2-.7.6-1.1.3-1.5 0-.9-.3-.4-.6 .2-.9 2.5-1.5Z" fill="#000" fill-opacity="0.24" fill-rule="evenodd" stroke="#111" stroke-width="0.5"/><path d="M363.5 50.6l .3 0 .4.6-.1.9-.3.3-.5-.3-.2-.6 .1-.6 .3-.3ZM400.6 74.6l .7 0 .2.3-.1.6-.4.5-1.5.3-.9-.2-.1-.3 .3-.3 1.8-.9Z" fill="#000" fill-opacity="0.28" fill-rule="evenodd" stroke="#111" stroke-width="0.5"/>
</g>
<line x1="377.3" y1="21.8" x2="377.3" y2="92.2" stroke="#3a3a3a" stroke-width="0.95"/>
<line x1="352.4" y1="64.6" x2="422.8" y2="64.6" stroke="#3a3a3a" stroke-width="0.95"/>
<rect x="352.4" y="21.8" width="70.4" height="70.4" fill="none" stroke="#000" stroke-width="1.5"/>
<path d="M352.4 23.3h-2M352.4 24.75h-2M352.4 26.2h-2M352.4 27.65h-2M352.4 29.1h-2M352.4 30.55h-2M352.4 32h-2M352.4 33.45h-2M352.4 34.9h-2M352.4 36.35h-2M352.4 37.8h-2M352.4 39.25h-2M352.4 40.7h-2M352.4 42.15h-2M352.4 43.6h-2M352.4 45.05h-2M352.4 46.5h-2M352.4 47.95h-2M352.4 49.4h-2M352.4 50.85h-2M352.4 52.3h-2M352.4 53.75h-2M352.4 55.2h-2M352.4 56.65h-2M352.4 58.1h-2M352.4 59.55h-2M352.4 61h-2M352.4 62.45h-2M352.4 63.9h-2M352.4 65.35h-2M352.4 66.8h-2M352.4 68.25h-2M352.4 69.7h-2M352.4 71.15h-2M352.4 72.6h-2M352.4 74.05h-2M352.4 75.5h-2M352.4 76.95h-2M352.4 78.4h-2M352.4 79.85h-2M352.4 81.3h-2M352.4 82.75h-2M352.4 84.2h-2M352.4 85.65h-2M352.4 87.1h-2M352.4 88.55h-2M352.4 90h-2M352.4 91.45h-2M353.9 92.2v2M355.35 92.2v2M356.8 92.2v2M358.25 92.2v2M359.7 92.2v2M361.15 92.2v2M362.6 92.2v2M364.05 92.2v2M365.5 92.2v2M366.95 92.2v2M368.4 92.2v2M369.85 92.2v2M371.3 92.2v2M372.75 92.2v2M374.2 92.2v2M375.65 92.2v2M377.1 92.2v2M378.55 92.2v2M380 92.2v2M381.45 92.2v2M382.9 92.2v2M384.35 92.2v2M385.8 92.2v2M387.25 92.2v2M388.7 92.2v2M390.15 92.2v2M391.6 92.2v2M393.05 92.2v2M394.5 92.2v2M395.95 92.2v2M397.4 92.2v2M398.85 92.2v2M400.3 92.2v2M401.75 92.2v2M403.2 92.2v2M404.65 92.2v2M406.1 92.2v2M407.55 92.2v2M409 92.2v2M410.45 92.2v2M411.9 92.2v2M413.35 92.2v2M414.8 92.2v2M416.25 92.2v2M417.7 92.2v2M419.15 92.2v2M420.6 92.2v2M422.05 92.2v2" stroke="#111" stroke-width="0.55"/>
<text x="348.5" y="32.1" font-size="6" text-anchor="end" fill="#111" stroke="#111" stroke-width="0.18">10<tspan font-size="4.4" dy="-2.6">5</tspan></text>
<text x="348.5" y="48.4" font-size="6" text-anchor="end" fill="#111" stroke="#111" stroke-width="0.18">10<tspan font-size="4.4" dy="-2.6">4</tspan></text>
<text x="348.5" y="65.8" font-size="6" text-anchor="end" fill="#111" stroke="#111" stroke-width="0.18">10<tspan font-size="4.4" dy="-2.6">3</tspan></text>
<text x="349.2" y="85" font-size="6" text-anchor="end" fill="#111" stroke="#111" stroke-width="0.18">0</text>
<text x="363.5" y="104" font-size="6" text-anchor="middle" fill="#111" stroke="#111" stroke-width="0.18">0</text>
<text x="382.7" y="104" font-size="6" text-anchor="middle" fill="#111" stroke="#111" stroke-width="0.18">10</text>
<text x="386.8" y="101.5" font-size="4.4" fill="#111" stroke="#111" stroke-width="0.18">3</text>
<text x="399.2" y="104" font-size="6" text-anchor="middle" fill="#111" stroke="#111" stroke-width="0.18">10</text>
<text x="403.3" y="101.5" font-size="4.4" fill="#111" stroke="#111" stroke-width="0.18">4</text>
<text x="415.4" y="104" font-size="6" text-anchor="middle" fill="#111" stroke="#111" stroke-width="0.18">10</text>
<text x="419.5" y="101.5" font-size="4.4" fill="#111" stroke="#111" stroke-width="0.18">5</text>
<text x="353.6" y="28.4" font-size="5.9" text-anchor="start" font-weight="normal" fill="#111" >18.9</text>
<text x="421.6" y="28.4" font-size="5.9" text-anchor="end" font-weight="normal" fill="#111" >37.4</text>
<text x="353.6" y="90.6" font-size="5.9" text-anchor="start" font-weight="normal" fill="#111" >15.3</text>
<text x="421.6" y="90.6" font-size="5.9" text-anchor="end" font-weight="normal" fill="#111" >28.5</text>
<g clip-path="url(#c4)">
<path d="M69.7 138.5h.6M75.2 135.1h.6M89.9 165.3h.6M71.0 127.3h.6M89.7 158.5h.6M86.2 159.0h.6M69.3 144.4h.6M64.2 130.7h.6M87.8 138.9h.6M100.8 147.1h.6M71.6 155.1h.6M96.0 151.6h.6M65.8 150.4h.6M91.8 140.9h.6M70.3 157.5h.6M79.4 134.2h.6M74.2 138.0h.6M81.0 147.5h.6M89.5 154.1h.6M62.4 150.8h.6M87.0 151.3h.6M88.3 140.3h.6M68.5 156.5h.6M67.3 122.5h.6M88.3 138.3h.6M74.9 130.9h.6M64.7 133.6h.6M74.4 150.4h.6M55.0 154.6h.6M66.2 134.6h.6M84.8 145.5h.6M62.6 166.6h.6M69.4 149.0h.6M80.0 161.8h.6M73.4 157.4h.6M70.6 158.6h.6M70.4 142.3h.6M97.0 149.8h.6M79.1 171.0h.6M81.6 137.3h.6M85.3 133.3h.6M89.3 159.6h.6M72.3 139.4h.6M79.8 146.5h.6M68.2 152.5h.6M57.6 141.5h.6M74.0 143.3h.6M81.1 132.8h.6M83.9 144.3h.6M71.5 131.3h.6M66.2 150.3h.6M68.4 147.0h.6M88.6 157.7h.6M93.6 143.0h.6M67.1 157.5h.6M81.1 158.7h.6M78.1 159.5h.6M86.5 154.2h.6M83.0 150.7h.6M80.3 148.8h.6M87.9 140.7h.6M95.4 145.1h.6M87.9 145.3h.6M75.5 168.7h.6M74.9 132.3h.6M70.9 142.8h.6M99.6 148.6h.6M87.3 135.3h.6M81.5 153.7h.6M96.0 138.6h.6M84.0 149.6h.6M67.8 146.1h.6M75.4 120.7h.6M84.0 152.2h.6M73.6 131.6h.6M92.8 149.2h.6M88.2 161.8h.6M72.8 155.2h.6M75.6 145.6h.6M77.1 146.3h.6M89.1 147.7h.6M76.5 143.3h.6M81.4 136.5h.6M73.0 145.7h.6M72.3 145.0h.6M71.9 168.3h.6M91.3 151.2h.6M77.5 170.4h.6M81.2 145.3h.6M81.0 149.7h.6M92.1 146.1h.6M99.0 136.6h.6M84.9 135.3h.6M96.2 142.7h.6M77.4 156.5h.6M90.6 134.1h.6M74.5 131.0h.6M79.4 145.2h.6M74.5 138.8h.6M74.1 138.1h.6M83.3 163.0h.6M58.7 145.0h.6M73.8 151.7h.6M68.5 144.7h.6M67.6 154.0h.6M79.0 144.5h.6M81.7 143.6h.6M62.5 152.9h.6M80.9 144.6h.6M87.8 159.7h.6M67.1 137.7h.6M93.5 161.9h.6M70.6 133.3h.6M71.6 140.8h.6M62.2 146.6h.6M65.2 133.0h.6M87.2 138.8h.6M77.3 153.2h.6M86.1 142.6h.6M78.4 137.2h.6M95.5 153.4h.6M67.0 146.3h.6M85.1 151.6h.6M96.3 161.4h.6M72.6 145.3h.6M65.2 149.0h.6M79.5 176.0h.6M79.0 123.3h.6M71.3 147.5h.6M65.4 136.8h.6M74.3 150.1h.6M76.3 136.5h.6M85.9 140.4h.6M73.0 131.1h.6M70.1 153.5h.6M61.8 145.5h.6M85.2 142.2h.6M80.4 134.0h.6M91.1 158.4h.6M80.4 127.0h.6M67.5 157.0h.6M95.1 149.6h.6M90.5 139.6h.6M76.1 146.3h.6M82.2 129.5h.6M87.4 160.8h.6M66.5 131.4h.6M81.5 139.1h.6M54.3 155.2h.6M79.6 141.1h.6M99.1 147.8h.6M70.5 147.4h.6M67.6 137.9h.6M81.9 140.2h.6M73.5 164.7h.6M86.6 155.1h.6M83.3 151.6h.6M92.6 146.1h.6M96.6 135.8h.6M75.4 131.1h.6M74.6 152.0h.6M92.5 139.0h.6M78.1 142.3h.6M70.6 133.2h.6M78.6 127.2h.6M79.1 146.5h.6M71.4 135.2h.6M64.2 166.9h.6M64.6 163.4h.6M84.0 142.3h.6M66.4 157.8h.6M95.3 136.0h.6M75.0 157.9h.6M81.4 168.3h.6M72.3 152.3h.6M65.5 169.4h.6M70.7 122.0h.6M76.7 144.8h.6M97.2 142.6h.6M77.9 152.8h.6M93.9 145.6h.6M88.4 152.0h.6M75.0 147.2h.6M78.3 136.2h.6M90.1 131.1h.6M89.7 156.8h.6M77.1 137.9h.6M75.7 151.5h.6M85.4 149.5h.6M87.9 140.2h.6M80.3 129.0h.6M85.6 148.0h.6M73.8 159.1h.6M84.9 115.3h.6M78.4 130.3h.6M88.7 173.7h.6M72.8 147.1h.6M75.5 150.2h.6M84.4 160.5h.6M68.1 163.6h.6M68.7 149.3h.6M89.6 154.1h.6M68.6 138.6h.6M73.4 145.7h.6M89.5 132.1h.6M82.7 153.0h.6M83.6 151.4h.6M93.2 151.7h.6M86.6 152.5h.6M95.9 125.4h.6M90.8 143.4h.6M75.2 135.6h.6M59.3 142.1h.6M71.1 151.7h.6M63.3 162.0h.6M80.7 143.6h.6M70.9 137.6h.6M66.7 140.3h.6M78.1 144.3h.6M63.9 143.4h.6M69.1 148.1h.6M96.6 153.2h.6M74.9 128.4h.6M63.9 127.7h.6M85.3 137.9h.6M78.6 139.5h.6M78.9 161.7h.6M71.2 142.5h.6M69.9 155.9h.6M67.7 133.8h.6" stroke="#999999" stroke-width="0.6" stroke-opacity="1.0"/>
<path d="M59.3 164.3h.6M64.1 176.1h.6M79.0 165.8h.6M72.7 170.1h.6M67.7 181.0h.6M53.1 173.2h.6M80.0 168.4h.6M77.8 175.7h.6M77.8 173.4h.6M84.3 161.1h.6M87.8 176.4h.6M59.1 170.7h.6M66.3 168.4h.6M87.6 167.3h.6M74.4 161.8h.6M74.1 171.8h.6M67.5 167.7h.6M98.6 165.3h.6M63.4 167.3h.6M80.0 167.7h.6M70.9 176.6h.6M65.1 178.6h.6M93.0 171.7h.6M83.8 175.0h.6M94.7 166.0h.6M90.2 169.4h.6M66.8 171.8h.6M73.4 166.4h.6M56.8 166.6h.6M93.4 181.1h.6M83.8 177.2h.6M69.8 170.9h.6M79.4 165.9h.6M64.1 171.8h.6M72.2 166.0h.6M80.6 170.0h.6M88.3 171.3h.6M72.4 171.9h.6M73.9 168.0h.6M71.2 175.0h.6M83.8 177.7h.6M55.7 169.3h.6M71.0 172.2h.6M70.6 168.7h.6M85.4 172.2h.6M62.0 178.0h.6M88.0 168.4h.6M86.0 167.6h.6M89.5 170.2h.6M66.4 169.4h.6M66.8 172.3h.6M78.1 171.5h.6M69.3 153.0h.6M77.1 161.8h.6M78.9 177.0h.6M79.3 169.4h.6M73.8 170.6h.6M69.4 168.4h.6M64.9 177.2h.6M75.8 176.1h.6M73.0 171.7h.6M74.0 173.6h.6M85.9 172.5h.6M67.9 167.4h.6M95.9 169.9h.6M72.5 178.6h.6M89.1 174.0h.6M80.7 174.0h.6M73.9 164.2h.6M60.0 173.3h.6M80.7 170.1h.6M61.9 164.1h.6M72.1 164.0h.6M86.8 177.1h.6M68.9 166.9h.6M73.9 176.1h.6M83.3 174.2h.6M78.6 174.6h.6M93.4 166.0h.6M70.5 164.4h.6M95.4 177.8h.6M85.0 165.3h.6M78.1 170.1h.6M77.0 170.4h.6" stroke="#999999" stroke-width="0.6" stroke-opacity="1.0"/>
<path d="M50.7 134.5l .3-.2 .6-.1 1.8.9 2.1 1.9 .8 1.1 .3.9 .9 4.8 .3 3.9 .5 2.1-.2 3-.5 2.1-.1 2.1-.4 1.8 .1 1.2 .7 3 1.5 3 1.7 2.4 .1 3 .3.9 .6.4 .9.3 2.4.2 1.3-.6 1.7-2.1 1.7-.9 4.9-.9 3.8 0 1.6.3 1.8.7 2.4.5 .9.5 .5.7 0 .6-.3.9-.7.9-.9.6-1.5.6-4.3.8-7.2.6-3 .8-3.9-.1-1.8.6-2.4.5-.9.4-3.1 3-1.7.6-2.1.3-.9-.1-.9-.4-2.7-1.5-2.1-.4-.6-.3-.7-1.2-.7-2.4-.8-1.8-.4-2.4 .2-1.2 .8-2.1 .5-1.8 1.4-2.4 .7-3.3 0-1.8-.7-4.2-.6-7.2 .8-4.5 .9-2.4 .2-1.8 .3-.6 1.5-1.2 1.1-1.8 1.2-1.2Z" fill="#fff" fill-rule="evenodd" stroke="#111" stroke-width="0.5"/><path d="M50.6 139.6l .4-.1 .6.2 1.5 1.4 .3.6 1.4 6.9-.1 4.5-.6 3-.6 1.2-.2.9 .4 2.1 .1 2.4 .8 1.4 1.8 1 1.6 1.8 .3.9 .2 4.8 .3.4 .9.3 .6.5 .2.9-.4 1.2-1.9 1.3-2.7.8-3.3 1.3-.9.2-.9-.1-1.5-.6-1.7-1.4-1.7-3.6-.2-2.4 .3-1.5 1.5-2.3 .6-1.3 .4-3.9 .8-4.5-.1-.6-1.1-1.8-.2-.9 .2-3-.2-2.1 .1-1.2 .6-2.4 .3-2.4 1.3-3 .8-.9Z" fill="none" stroke="#111" stroke-width="0.5"/><path d="M50.9 165.1l .7-.1 .9.2 2.4.9 1.3.8 .5.6 .4.9 .5 2.7 0 3.6-.6 1.2-1 .9-1.4.8-1.5.6-1.5.3-.9 0-1.2-.4-1.7-1.3-1.4-2.7-.4-2.4 0-.9 .3-.9 2.3-3.4 .9-.9 1.4-.5Z" fill="#000" fill-opacity="0.16" fill-rule="evenodd" stroke="#111" stroke-width="0.5"/><path d="M50.4 166.3l 1.8-.2 2.1.6 1.6 1.1 .7 1.5 .3 2.4-.1 2.1-.3.9-.5.9-.8.9-1.2.7-1.2.4-2.1.1-.9-.3-.9-.5-1.3-1.6-.9-2.4-.2-1.8 .5-1.2 1.9-2.6 1.5-1Z" fill="#000" fill-opacity="0.16" fill-rule="evenodd" stroke="#111" stroke-width="0.5"/><path d="M51.2 166.6l 1.9.2 2.1 1 .8 1.2 .4 1.8-.2 3-.9 1.8-1.3 1.2-2.1.5-1.8-.2-1.5-1.1-1.1-1.9-.6-2.4 .3-1.5 1.4-1.9 1.2-1.1 1.4-.6Z" fill="#000" fill-opacity="0.16" fill-rule="evenodd" stroke="#111" stroke-width="0.5"/><path d="M50.5 167.2l 1.4-.3 1.5.4 1.8 1.1 .6 1.2 .2 2.4-.4 2.1-1.1 1.8-1.4.8-2.1.2-1.6-.7-1.2-1.5-.8-2.4-.1-1.2 .3-.9 1.6-2 1.3-1Z" fill="#000" fill-opacity="0.16" fill-rule="evenodd" stroke="#111" stroke-width="0.5"/><path d="M50.7 167.5l 1.2-.3 1.1.3 1.9 1.2 .6 1.1 .1 1.9-.4 1.9-1 2-.5.5-.9.3-1.8.1-1.5-.7-.9-1.1-1-2.7 0-.9 .3-.9 1.6-1.8 1.2-.9Z" fill="#000" fill-opacity="0.16" fill-rule="evenodd" stroke="#111" stroke-width="0.5"/><path d="M51.8 167.5l 1 .3 1.7 1.2 .5.6 .2.9-.2 1.8-1.1 3-.8.6-1.2.2-1.5-.2-1.1-.9-.5-.9-.9-2.7 .4-1.2 1.3-1.5 1.1-.9 1.1-.3Z" fill="#000" fill-opacity="0.12" fill-rule="evenodd" stroke="#111" stroke-width="0.5"/><path d="M51.6 167.8l .6 0 .6.3 1.5 1.5 .3.6-.2 1.2-.8 1.8-.2 1.8-.6.5-.6.1-1.5-.2-.9-.6-1.5-3.4 0-.6 .6-.8 1.5-1.6 1.2-.6Z" fill="#000" fill-opacity="0.1" fill-rule="evenodd" stroke="#111" stroke-width="0.5"/><path d="M51.6 168.1l .6.1 .6.4 .9 1.6-.2.9-1 1.5 .1 1.8-.1.3-.6.2-.9-.2-.6-.5-1.5-2.6-.1-.5 .2-.6 1.6-1.8 1-.6Z" fill="none" stroke="#111" stroke-width="0.5"/><path d="M51.2 168.7l .4-.2 .6.1 .5.7 .1 1-.6.6-.9.1-.9-.5 .2-.9 .6-.9Z" fill="none" stroke="#111" stroke-width="0.5"/>
</g>
<line x1="61.7" y1="112.3" x2="61.7" y2="182.7" stroke="#3a3a3a" stroke-width="0.95"/>
<line x1="40.5" y1="158.8" x2="110.8" y2="158.8" stroke="#3a3a3a" stroke-width="0.95"/>
<rect x="40.5" y="112.3" width="70.3" height="70.4" fill="none" stroke="#000" stroke-width="1.5"/>
<path d="M40.5 113.8h-2M40.5 115.25h-2M40.5 116.7h-2M40.5 118.15h-2M40.5 119.6h-2M40.5 121.05h-2M40.5 122.5h-2M40.5 123.95h-2M40.5 125.4h-2M40.5 126.85h-2M40.5 128.3h-2M40.5 129.75h-2M40.5 131.2h-2M40.5 132.65h-2M40.5 134.1h-2M40.5 135.55h-2M40.5 137h-2M40.5 138.45h-2M40.5 139.9h-2M40.5 141.35h-2M40.5 142.8h-2M40.5 144.25h-2M40.5 145.7h-2M40.5 147.15h-2M40.5 148.6h-2M40.5 150.05h-2M40.5 151.5h-2M40.5 152.95h-2M40.5 154.4h-2M40.5 155.85h-2M40.5 157.3h-2M40.5 158.75h-2M40.5 160.2h-2M40.5 161.65h-2M40.5 163.1h-2M40.5 164.55h-2M40.5 166h-2M40.5 167.45h-2M40.5 168.9h-2M40.5 170.35h-2M40.5 171.8h-2M40.5 173.25h-2M40.5 174.7h-2M40.5 176.15h-2M40.5 177.6h-2M40.5 179.05h-2M40.5 180.5h-2M40.5 181.95h-2M42 182.7v2M43.45 182.7v2M44.9 182.7v2M46.35 182.7v2M47.8 182.7v2M49.25 182.7v2M50.7 182.7v2M52.15 182.7v2M53.6 182.7v2M55.05 182.7v2M56.5 182.7v2M57.95 182.7v2M59.4 182.7v2M60.85 182.7v2M62.3 182.7v2M63.75 182.7v2M65.2 182.7v2M66.65 182.7v2M68.1 182.7v2M69.55 182.7v2M71 182.7v2M72.45 182.7v2M73.9 182.7v2M75.35 182.7v2M76.8 182.7v2M78.25 182.7v2M79.7 182.7v2M81.15 182.7v2M82.6 182.7v2M84.05 182.7v2M85.5 182.7v2M86.95 182.7v2M88.4 182.7v2M89.85 182.7v2M91.3 182.7v2M92.75 182.7v2M94.2 182.7v2M95.65 182.7v2M97.1 182.7v2M98.55 182.7v2M100 182.7v2M101.45 182.7v2M102.9 182.7v2M104.35 182.7v2M105.8 182.7v2M107.25 182.7v2M108.7 182.7v2M110.15 182.7v2" stroke="#111" stroke-width="0.55"/>
<text x="36.6" y="122.9" font-size="6" text-anchor="end" fill="#111" stroke="#111" stroke-width="0.18">10<tspan font-size="4.4" dy="-2.6">5</tspan></text>
<text x="36.6" y="139" font-size="6" text-anchor="end" fill="#111" stroke="#111" stroke-width="0.18">10<tspan font-size="4.4" dy="-2.6">4</tspan></text>
<text x="36.6" y="154.9" font-size="6" text-anchor="end" fill="#111" stroke="#111" stroke-width="0.18">10<tspan font-size="4.4" dy="-2.6">3</tspan></text>
<text x="37.3" y="174.1" font-size="6" text-anchor="end" fill="#111" stroke="#111" stroke-width="0.18">0</text>
<text x="50" y="194.3" font-size="6" text-anchor="middle" fill="#111" stroke="#111" stroke-width="0.18">0</text>
<text x="55.8" y="194.3" font-size="6" text-anchor="middle" fill="#111" stroke="#111" stroke-width="0.18">10</text>
<text x="59.9" y="191.8" font-size="4.4" fill="#111" stroke="#111" stroke-width="0.18">2</text>
<text x="70.5" y="194.3" font-size="6" text-anchor="middle" fill="#111" stroke="#111" stroke-width="0.18">10</text>
<text x="74.6" y="191.8" font-size="4.4" fill="#111" stroke="#111" stroke-width="0.18">3</text>
<text x="87.6" y="194.3" font-size="6" text-anchor="middle" fill="#111" stroke="#111" stroke-width="0.18">10</text>
<text x="91.7" y="191.8" font-size="4.4" fill="#111" stroke="#111" stroke-width="0.18">4</text>
<text x="103.5" y="194.3" font-size="6" text-anchor="middle" fill="#111" stroke="#111" stroke-width="0.18">10</text>
<text x="107.6" y="191.8" font-size="4.4" fill="#111" stroke="#111" stroke-width="0.18">5</text>
<text x="41.7" y="118.9" font-size="5.9" text-anchor="start" font-weight="normal" fill="#111" >5.18</text>
<text x="109.6" y="118.9" font-size="5.9" text-anchor="end" font-weight="normal" fill="#111" >1.76</text>
<text x="41.7" y="181.1" font-size="5.9" text-anchor="start" font-weight="normal" fill="#111" >89.9</text>
<text x="109.6" y="181.1" font-size="5.9" text-anchor="end" font-weight="normal" fill="#111" >3.15</text>
<g clip-path="url(#c5)">
<path d="M182.3 144.8h.6M187.0 153.7h.6M170.9 148.7h.6M168.8 161.7h.6M171.2 154.4h.6M169.5 129.5h.6M187.7 135.5h.6M184.5 156.2h.6M151.8 137.1h.6M167.8 138.8h.6M158.5 160.7h.6M171.6 155.7h.6M169.0 154.6h.6M164.5 149.9h.6M183.1 150.9h.6M168.6 135.1h.6M177.3 155.1h.6M171.4 139.5h.6M170.8 155.0h.6M180.3 114.4h.6M176.7 140.4h.6M194.4 146.7h.6M164.1 147.2h.6M177.3 142.5h.6M174.3 131.3h.6M171.8 161.2h.6M202.6 160.2h.6M178.8 166.9h.6M189.3 173.6h.6M190.2 148.6h.6M178.6 152.8h.6M179.2 153.1h.6M164.0 120.8h.6M165.6 121.9h.6M176.0 150.4h.6M151.5 159.9h.6M187.1 151.6h.6M198.3 176.5h.6M158.1 164.8h.6M181.2 156.2h.6M188.1 140.2h.6M166.7 138.7h.6M164.4 148.9h.6M154.7 135.7h.6M183.1 149.3h.6M180.4 123.9h.6M164.0 142.5h.6M175.5 142.1h.6M188.1 149.5h.6M175.2 150.5h.6M184.9 143.7h.6M190.7 156.7h.6M177.2 150.9h.6M182.3 164.5h.6M188.2 155.6h.6M187.3 152.0h.6M192.5 149.9h.6M145.9 169.0h.6M176.5 133.9h.6M172.2 137.9h.6M204.4 157.3h.6M153.0 157.9h.6M169.4 177.1h.6M160.3 118.8h.6M175.9 145.4h.6M169.2 120.3h.6M181.0 173.7h.6M148.3 166.7h.6M181.1 147.7h.6M190.5 157.7h.6M166.7 160.2h.6M167.9 125.3h.6M203.4 145.4h.6M166.5 155.0h.6M153.2 131.3h.6M168.0 143.0h.6M176.0 166.0h.6M168.4 157.2h.6M183.4 135.1h.6M178.2 137.1h.6M189.9 156.7h.6M175.2 131.5h.6M176.6 139.6h.6M184.9 148.6h.6M163.6 163.3h.6M185.1 142.0h.6M191.3 146.1h.6M170.7 152.0h.6M164.5 144.1h.6M172.8 171.7h.6M196.0 146.7h.6M197.5 149.7h.6M180.3 162.7h.6M178.4 133.5h.6M193.3 144.5h.6M189.0 161.8h.6" stroke="#aaaaaa" stroke-width="0.6" stroke-opacity="1.0"/>
<path d="M183.9 131.5l 2.1-.2 3.3.1 2.4.7 .9.6 .5.6 1.5 2.4 .5 1.2 0 2.4 1.2 5.4 0 3 .5 2.1-.3 2.4 .3 10.2-.3 2.1-.7 1.8 0 1.5-.7 3.3 .3 2.1 0 .9-.5 1.2-.6.9-1.7 1.9-1.2.5-5.4.4-1.8.3-4.2.3-3-.4-2.1-.6-3 .3-1.5-.2-.9-.4-2.1-1.8-2.1-.7-.6-.7-.4-1 .1-.9 .6-1 3.4-2 .8-.9 .2-1.2-.2-.6-.5-.6-1-.5-1.8-.2-.2-.2 .5-1.8 .6-.9 .9-.7 1.7-.5 .2-.3-.7-1.2-.3-.1-2.1.7-1.5.1-2.1-.8-.9-1-.5-4.3 .2-1.2 .8-2.1-.4-1.8-.2-2.7 .4-2.7 1-1.8 1.1-1.2 .9-.5 .9-.1 2.4.5 2.1-.2 .6-.6 0-1.2 .3-.6 3.9-4 2.7-1.6 5.7-1.9ZM152 132.1l 1.6-.3 2.1.7 1.2.8 .8 1.2 .3 1.5 1.4 3.6 .3 1.8-.3 6.3-.4 3.6 .9 4.5-.2 3.3-1.2 3.3-.9 1.2-1.5.9 .8 1.2 .3 1.8 1.3 3.6-.3 4.5-.7 1.2-3.3 3-1.8.7-2.1.1-3.3-.6-.9-.5-.6-.6-1.6-3.9-.7-2.7-.1-1.5 .1-1.5 .4-1.2 .8-1.2 2.4-2.7-.1-.3-1.5-.9-.4-.6-.1-.6 .2-2.1-.3-2.1 .1-2.1-.2-2.4 .7-2.1 .3-2.1-.3-7.5 .3-3.6 .5-1.2 2.4-3.3 1-.5 2.6-.7ZM168 145.2l-1.5.7-.6.6 0 .6 .4.6 .8.7 .6.2 .6-.2 1.2-2.2 0-.3-.3-.5-.6-.2-.6 0ZM165.6 151.9l-.4.6 .1 2.7 .2.6 .7.3 1.5-.4 .7-.8 .1-.9-.2-.7-.6-.7-.9-.7-.6-.2-.6.2ZM163.1 166l .4-.2 2.1.5-.7.9-.8.2-.9-.8-.1-.6ZM163.2 168.4l .9.1 .3.5-.1.3-.7.6-1 .1-.4-.4 .1-.6 .3-.4 .6-.2Z" fill="#fff" fill-rule="evenodd" stroke="#111" stroke-width="0.5"/><path d="M185.2 131.5l 4.4.2 2.1 1 1.2 1.2 1.4 2.1 .4.9 0 2.4 .6 3.2 .7 2.2 .1 3 .4 2.1-.3 2.1 .4 10.2-.4 2.1-.8 1.2-.1.6 .1 1.8-.7 3.6 .5 2.1-.1.9-1.1 1.8-1.7 1.8-.9.3-5.8.3-5.6.7-2.4-.3-2.7-.8-3 .3-1.5-.2-.9-.5-2.1-1.6-1.9-.9-.6-.9-.1-.9 .2-.6 .6-.7 4.6-2.3 1.3-.9 .4-.6-.1-.6-.2-.3-3.6-2.1-.4-.3-.2-.6 .2-.6 .7-.5 .9.1 1.5.6 .6-.3 .2-1.4-1-2.1 0-1.8 .2-.9 .9-1.2 .1-.6-.4-.5-1.5-.9-.9-1.6-1.8-2.3-.6-.2-2.7.3-.9-.2-.3-.6-.3-2.7 .4-2.4 .8-1.5 1.1-1.2 .7-.4 .9 0 1.2.6 1.2.2 1.8 0 1.2-.2 .6-.5 1.4-2.4-.1-1.2 .2-.9 1-1.2 1.1-1.1 1.5-.9 1.8-.8 3.9-1.3 2.2-.4ZM153 132.1l .9 0 1.5.4 1.6 1.1 .4.9-.1 1.2-.4.6-1.1.9-.3.9 .2.3 .3 0 1.8-.7 .6.5 .8 1.7 .3 1.5 0 1.5-.4 5.1-.5 3 1 4.5-.3 1.1-.9 1.3-.5 1.8 .2 2.1-.2.9-1 1.1-2 .7 .8.4 .7.8 1.8 5.1 .1 1.5-.4 3.3-1 1.5-2.7 2.5-1.5.7-2.4.2-3-.6-.9-.4-.8-.9-1.5-3.6-.7-3-.1-1.5 .2-1.5 .3-.9 2.4-3 1.1-.9-.4-.6-1.5-.9-.4-.9 .6-2.1-.7-2.1-.1-4.5 .2-.6 .7-.9 .2-.9-.1-6.6-.3-2.7 .2-3.6 .4-.9 1.4-1.5 1.2-1.8 .7-.3 1.5-.2 2.1-1ZM166.5 143.8l-.9.4-1.2 1.1-.3.6 0 .6 2.7 3.4 .3.2 .9 0 .6-.2 .4-.4 .4-1.5 1-1.8 0-.6-.3-.6-.9-.7-2.7-.5ZM162.6 153.4l .9-.2 .6.2 .3.6 .1.6-.5 1.5-.8 1-.6.3-.6-1-.2-1.2 .2-.9 .6-.9ZM156 155.5l-.4.3 .2.6 .8.4 .9 0 .1-.4-.4-.6-.6-.3-.6 0ZM166.1 157.6l .7-.2 .5.2 .2.6-.2.9-.4.6-.7.4-.6.1-.8-.2-.3-.3-.2-.6 1.8-1.5ZM186.9 170.4l-.2.1 .4 0-.2-.1Z" fill="#000" fill-opacity="0.03" fill-rule="evenodd" stroke="#111" stroke-width="0.5"/><path d="M184 131.8l 2-.1 3.3.7 .9.9 1.5.3 .6.3 1.4 1.8 .6 1.2 .1 2.5 .6 3.3 .8 2.3 0 2.7 .4 2.1-.3 2.1 .2 2.4-.1 3.3 .3 4.2-.3 1.8-1 2.1 0 2.4-.7 3.3 .1.8 .4 1.3 0 .9-.4.9-.7.9-1.4 1.4-.9.3-2.7-.1-8.7 1.2-2.7-.5-2.1-.5-3.3.2-1.5-.3-4.5-2.9-.5-.6-.2-.6 .3-.9 .7-.6 6-2.7 .7-.6 .2-.6-.1-1.2-1.1-1.8 .3-3.3-.8-3 .1-.6 .4-.6 1.3-.9 .2-.3-.1-.6-.3-.9-.5-.5-1.8-1-.8-1.5-.2-.6 .7-.2 1.2.5 .9-.1 .6-.6 .5-1.1-.1-.3-.4-.2-2.1.3-.7-.7-.1-1.2 1-1.8 .1-.6-.6-1.8 .3-.2 1.5.1 .5-.2 .2-2.1 1.8-2.4-.6-1.2-.1-.6 .4-.9 .8-.9 .9-.7 1.8-1 5.8-1.9ZM153.5 132.4l 1.3.2 1.2.4 .7.6 .4.9-.2.6-.6.6-1.8 1.3-1.3.5 .7 1.8 .6.5 .6 0 2.4-.9 .6.1 .6.8 .5 1.9-.2 3-.6 3.3-.3.7-.9.8 .8 2.1 .5 3-2.8.2-.7.4-.3.6 0 .6 .4.5 1.4 1 .4.6 0 1.8 .5 1.8 0 .6-.8.9-2.1.4-.5.5 1.7.9 .7.9 1.6 4.5 .1 2.4-.3 1.8-.4 1.2-3 3-.8.6-.9.3-3 .2-2.7-.7-1.2-1-1.4-3.3-.9-3.9 0-1.8 .4-1.2 2.3-3 1.5-1.2 0-.6 .2-.5 2.1-.5 2.3.1 .5-.3 .2-.6-.2-.6-.7-.3-2.7.6-2.1-.1-.5-.5-.1-1.8-1.4-1.5-.1-4.2 .3-.5 .9-.4 .4-.6-.3-2.1-.1-2.7 .1-2.7-.5-2.7 0-3.3 .3-1.2 .7-.6 .6-.1 1.5.4 .9-.3 .2-.3-.1-.9 .2-.2 1.2-.4 .4-.6 .5-1.2 .3-.3 .8-.3ZM162.6 154.6l .3-.3 .5.3-.1.6-.4.4-.4-.1 .1-.9ZM175.5 169l 0 .2 .3 0 .4-.2-.7 0ZM184.8 169.2l-.2.4 .3.3 1.7 1.4 .9-.2 .7-.6 0-.3-.4-.4-2.4-.6-.6 0Z" fill="#000" fill-opacity="0.03" fill-rule="evenodd" stroke="#111" stroke-width="0.5"/><path d="M183.3 132.1l 1.5-.2 1.5.1 2.7 1.4 1.5 1 1.5.1 1.2 1 .8 1.4 .2 2.7 .5 2.9 .8 2.8 0 2.1 .3 2.1-.2 2.1 .2 3-.1 3.6 .3 3-.2 1.5-1.1 2.9 0 2.2-.6 3.3-.1.9 .5 1.5 0 .9-.4.9-.7.9-1.1 1-.9.3-2.7-.1-2.1.5-6.3.7-2.4-.2-2.7-.7-3.3.2-1.5-.3-1.2-.6-3-2.4-.4-.8 .3-.9 1.3-.8 3.9-1.8 2.1-.5 2.7 0 1.1-.2 1.1-.6-.3-.9-.7-.6-2.4.4-.6-.2-.7-1.1-.7-2.4 .1-2.4-.3-1.8 .2-.6 .5-.4 1.8-.4 .4-.4 .4-.9 .1-.6-.6-1.8 .3-2.1-.3-1.2 2-2.1 0-.6-1.1-1.8 1-1.5 .6-1.5-.1-.3-.3-.1-1.8-.1-.9-.2-.6-.5-.3-.5-.1-.7 .4-.7 2.5-1.7-.4-.9-1.2-1-.2-.8 .8-1.2 1.5-1.1 6-2.2ZM153.6 133l .9-.2 1.4.5 .6.6 .1.6-.2.3-1.3.8-.6.1-.6-.2-.3-.4-.3-.9 0-.9 .3-.3ZM146.7 137.8l .6-.2 3.3.6 .6.5 .1.6-1.3 1.8-1.2.5-1.5.1-.3-.3-.4-.9-.2-1.8 .3-.9ZM180.3 139.9l-.7.3 .2 1.5-.7 1.2 .2.3 .9-.3 .6-1.2 1.7-1.2-.4-.3-1.8-.3ZM156.6 140.2l .9-.2 .6.2 .4.6 .3.9-.1 2.2-.3 1.1-.6 1.1-.9.3-1.8-1.1-1.2-.3-2.7.5-.7.4 .9 2.7-.2.6-.6.6-.2.6 1.4 2.8 .3.2 .6-.1 .6-.5 .2-.6 0-.6-1-1.5 .3-.6 .8-.3 .9.1 .8 1.1 1.6 1 .5.8 .1.9-.3.5-2.6 1-.6.9 .2 1.2 1.6 2.1-.2 2.1 1 1.2 0 .6-.2.3-.7.3-.6-.2-.4-.4 0-.6 .5-1.2-.3-.3-3.7-.9-1.8.6-.9 0-.5-.6-.4-1.3-1.7-1.1-.2-.9 .4-2.1 1.2-1.1 .3-.7 0-.9-.5-1.8-.2-2.1 .7-4 .6-.3 1.5.2 .6-.2 3-2.3 2.1-.4 1.2-.5ZM185.4 141l-.3.4 0 .6 .6 1.3 .9.5 .6 0 .7-.3 .3-.6-.1-.6-.3-.3-2.4-1ZM173.4 145.9l .9-.2 .6.2 .8.6 .3.6-1.4.8-1.8-.2-1.2.6-.2-.3 .2-.4 1.8-1.7ZM184.5 147.1l-.6.4-.2.8 .4 1.5 .7.2 .9-.5 .3-.9-.6-1.2-.9-.3ZM179.7 149.2l-.7.3 0 .6 .8.9 1.4 1 .6.2 .6 0 .7-.3 .5-.5 .1-.4-.1-.4-1.6-1.1-1.1-.3-1.2 0ZM181.5 154.2l-.3.3-.2.7 .1.6 .4.2 .6-.3 .3-.5-.3-.7-.6-.3ZM178.8 158.4l-.5.7 .2.8 .9.9 .9.2 .3-.3 .1-.4-.4-1.6-.6-.5-.9.2ZM149.4 163.3l 1.5-.1 2.1.5 .4.5 0 .3 2.2 1.2 .6.9 1.7 4.8 0 1.2-.2 2.1-.6 1.5-.8 1-2.4 2.1-1.8.7-1.8.2-1.5-.2-1.5-.4-1-.7-.7-.9-.9-2.4-1-3.9 .1-2.4 .7-1.5 2.5-2.9 1.2-.7 .4-.6 .8-.3ZM184.8 168.1l-.9.6-.3.6 .4.6 1.7 1.2 .3.6 0 .9 .3.2 .3-.1 .7-1 1.3-.9 .2-.3-.1-.6-.6-.7-1.5-.5-1.1-.6-.7 0Z" fill="#000" fill-opacity="0.04" fill-rule="evenodd" stroke="#111" stroke-width="0.5"/><path d="M184.2 132.1l 1.2 0 .9.2 3 1.8 1.2 1.1 1.8.2 .9.8 .5 1 .2 2.1 1.3 6 .3 4.2-.1 2.1 .3 9.3-.2 1.5-1 3.3 0 2.1-.7 3.3 0 1.2 .4 1.5-.1.9-.5.9-.7.7-.9.7-.6.1-2.7 0-2.4.5-6 .7-2.4-.2-2.7-.7-3.3.2-1.5-.3-1.2-.6-2.4-2.3-.3-.6 .3-.8 3.6-2 1.5-.6 1.2-.2 2.8 0 3-.6 .6-.3 .2-.3 0-1.8 .7-1.8 .3-1.5 .4-.6 1.3-.7 2.4 0 .7-.2 .4-.3 0-.6-.8-.7-.6-.2-1.5.2-.6-.3-.7-1.1-.3-1.2 .2-.6 .8-.7 .9-.5 1.5-.2 .7-.7 .1-.9-1-1.2-.1-.6 .6-1.5 1.4-1.8 .1-.9-.3-.9-.9-1-.9-.3-.9.5-1.2 1.4-.9.2-2.4-.1-.9-.4-.4-.6-.1-.6 .3-.9 .8-1 2.1-1.1 1.5-1.5 .6-.3 .9.3 1.3 1.5 .8.5 1.2.1 1.2-.3 .5-.9 .2-3.9-.1-.3-.3 0-4.8.8-5.4-.6-.9-.5-1.5-1.2-.6-.9 .1-.6 .5-.6 1.5-1 5.4-2.1 1.2-.2ZM154.5 133.6l .3-.2 .6.1 .5.4 0 .3-.5.4-.6 0-.3-.4 0-.6ZM147.8 138.7l 1 0 .7.3 .3.6-.2.6-.8.4-.9-.1-.4-.3-.2-.6 .1-.6 .4-.3ZM156.6 141.1l .6-.1 .6.2 .5.8-.1 1.5-.7 1.1-.9.1-3.9-1-.1-.2 .2-.6 .8-.9 3-.9ZM175.4 141.1l .7-.1 .6.2 .2.5-.3.6-.8.3-.8-.3-.2-.6 .6-.6ZM148.4 146.2l .4.1 .9.7 .5 1-.2.6-1.1 1.5 0 .6 .8 1.2 .2.6-.2.7-.6.3-.3-.5-.4-2.3-.7-1.5-.2-1.2 .2-1.2 .7-.6ZM177.8 151l .7.2 .8.7 .6.9 .2.9 0 1.2-.4 1.2-.3.4-.9.3-.6 0-.6-.4-.7-.9-.3-.9 .1-.9 .8-2.1 .6-.6ZM155.1 152.2l .3-.1 .6.1 .3.3 0 .3-.3.4-1 .2-.3-.3 .4-.9ZM147.7 154.9l .8 0 .8.9 1 .4 2.4-.3 .6.5 .7 1.2 .3.9-.1.5-.6.3-.6 0-2.1-.6-1.5 0-.3-.2-.9-1.4-1.4-.4-.3-.3 .3-.9 .9-.6ZM177.3 161.2l .6.1 1 .8 .2.6-.3.6-.9.1-.5-.4-.3-1.2 .2-.6ZM174 163l .3-.2 .6.1 1.9 1.3 .3.6 0 .9-.6.9-1.3.4-.8-.4-.4-.9-.3-1.5 0-.6 .3-.6ZM149.2 163.9l 1.1-.3 1.4.3 .7.3 .1.3 1.7.7 1.2.7 .6 1 1.7 4.5-.1 2.7-.3 1.2-.4.9-.9 1-2.4 2.1-.9.4-1.2.2-1.8.1-1.5-.3-.9-.3-1-.8-.6-.9-.9-2.4-.9-4.2 .1-1.8 .7-1.5 2.3-2.6 .9-.6 1-.4 .3-.3ZM183 164.7l-.5.4 0 .6 .5.5 .9.4 0 .3-1 2.4 .4.6 2 1.2 .3.6 .1 1.2 .3.3 .6 0 1-1.2 1.5-1.2 .1-.9-.5-1.5-.3-.6-1.5-.2-3-1 .2-.9-.1-.6-.4-.4-.6 0Z" fill="#000" fill-opacity="0.05" fill-rule="evenodd" stroke="#111" stroke-width="0.5"/><path d="M183.3 132.4l 1.5-.2 1.2.3 3.3 2.2 .5.7 .4 1.2 .3.1 .9-.6 .6-.1 .7.3 .5.9 .4 2.1 1.3 5.7 .5 9.9-.1 3.3 .1 3.3-1.1 3.9 0 2.4-.9 3.6 .4 2.4 0 .9-.8 1.2-1.3.8-3.3 0-2.1.6-5.4.7-2.7-.1-3.3-.8-2.7.3-1.5-.2-1.3-.7-1.4-1.5-.5-.9 0-.6 .2-.3 2.7-1.9 1.5-.6 3.9-.2 4.5-.9 .6-.6-.1-1.2 .4-.8 .6 0 .5.5 0 .6-.4.9 0 .3 .7.6 2.2 1.2 .4.6 .2 1.4 .4.4 .5.1 .6-.2 1-1.1 1.1-.9 .4-.6-.2-3.3-.2-.8-.6-.5-.9.3-.9-.1-.7-.4-.2-.6 .3-.6 1.8-.2 .5-.4 .2-1.2-.4-1.4-.6-.7-1.8-1.1-1.2-.5-1.5-.1-.4-.7 .4-.7 1.8-.5 1.3-.9 1.1-1.8 .9-.7 .3-.4 .2-1.3-.2-.9-.3-.3-.3.1-1.2.9-.3-.1 0-.3 1.1-1.8-.2-1.5-.7-1.2-1.4-1.3-.6 0-.6.2-1.8 1.5-.9.3-1.8-.1-.6-.3-.2-.6 .2-.9 .6-.6 1.8-.9 1.8-1.2 .9.2 1.5 1.4 3.3.3 .5-1.6 .2-2.1 .7-3.9-.2-.1-1.5 1-2.4.7-1.5.3-1.2 0-4.8-.7-1.2-.7-1.3-1.4 .2-.9 1.1-.9 6-2.4ZM155.6 142.3l 1.3-.3 .5.3 .1.6-.6.7-.9-.1-1-.6 .1-.3 .5-.3ZM177.7 153.1l .8-.2 .7.8 .1 1.2-.4.6-.4.2-.9-.2-.5-.6-.1-.9 .7-.9ZM152.2 157.6l .5-.2 .3.2 0 .6-.6 0-.2-.6ZM150 164.2l .7 0 .4.3 2.5.7 1.7 1.1 1.5 3 .6 1.8 .1 1.2-.1 1.8-.3 1.2-1 1.5-2.8 2.4-1.2.4-1.8.3-1.5-.2-1.2-.4-1.3-1-1.3-3-.9-4.8 .3-1.8 2.3-2.9 1.5-1.1 1.8-.5ZM175 165.1l .2-.3 .3.1 .3.2 0 .6-.3.3-.3-.1-.2-.8Z" fill="#000" fill-opacity="0.06" fill-rule="evenodd" stroke="#111" stroke-width="0.5"/><path d="M182.9 132.7l 1.9-.3 .9.2 .7.4 2.8 2.4 .2.9-.3.9-1 .8-2.1.8-1.2.3-1.2 0-2.7-.6-2.4-.2-.9-.6-1-1.1-.2-.3 .2-.6 .7-.6 1.5-.8 2.1-.6 2-1ZM191.4 137.2l .6-.3 .3.1 .5.8 1.8 6.9 .4 4.5 .2 5.4-.1 3.6 .1 3-.3 1.5-.9 2.7 0 2.4-.9 3 0 1.2 .4 2.1-.2.9-.8.9-1.1.5-3.3-.1-2.1.7-3 .2-2.4.5-2.7-.1-2.7-.8-3.3.3-1.8-.4-.6-.5-.8-.9-.4-.9 0-.6 .3-.6 1-.9 1.3-.9 1-.4 3.6-.2 5.1-.8 1.2 0 2.7 1.3 .4.7 .2 1.4 .6.5 .6.1 .9-.4 2.4-2.3 .2-.8-.2-3.3-.7-2.1 0-2.1-.5-3-.3-.5-1.5-.5-.5-.5 0-.3 .4-.6 1.3-.8 .9-3.1 .3-1.5-.3-3.3 .5-2.4 .5-5.1 .8-2.6 .9-1.6ZM182.3 144.4l 1-.3 .4.3 .2.6-.5.6-1.9 1.4-1.2.2-.8-.4-.1-.3 .3-.6 2.6-1.5ZM186.6 145.9l .6-.2 .4.2 .2.6-.2.3-.7-.2-.3-.7ZM148.6 164.8l 1.4-.2 2.1.4 1.5.5 1.2.7 .6.7 1 2.1 .9 3-.3 2.7-.3.9-.6.9-2.8 2.4-.9.4-1.5.3-1.2.1-1.5-.3-.9-.5-.7-.6-.6-.9-.7-2.1-.2-2.7-.7-1.8 0-1.2 .5-1.2 2.1-2.5 1.6-1.1Z" fill="#000" fill-opacity="0.08" fill-rule="evenodd" stroke="#111" stroke-width="0.5"/><path d="M183.5 132.7l 1.6 0 1.2.6 1.2 1.7 1 .7 .2.6-.3.7-.7.5-2 1-1.8.3-1.2-.2-1.5-.6-2.4-.1-.7-.4-.9-.9-.1-.6 .5-.7 1.2-.5 1.8-.5 1.8-1.2 1.1-.4ZM191.3 138.7l .7-.3 .6.6 .7 1.8 1 3.9 .5 4.2 .2 5.7-.1 6.9-1.1 3.6-.1 2.7-1 3 0 1.2 .4 2.1-.2.9-.6.6-.9.4-3.9-.3-1.8.9-2.7-.1-1.6.6-1.1.2-2.4-.1-2.7-.8-3.3.4-.9-.1-.9-.4-.8-.7-.3-.6 0-1.2 .6-.9 1-.9 1.6-.8 3 0 3.3-.6 3.3-.1 2.2.9 .4.6 .1 1.2 .2.6 .7.5 .9.4 .9-.4 2.6-2.6 .3-.9-.2-3.6-.6-2.4-.8-6.6 .1-2.4 .6-3.3-.1-3 .6-3 .3-4.8 .5-1.8 .8-1.2ZM148.7 165.1l 1.3-.2 1.8.3 1.5.4 1.1.7 .7.9 1.1 2.1 .8 3-.2 2.4-.8 1.5-3 2.5-2.4.8-1.2 0-1.2-.4-.9-.4-.7-.7-1.1-3 .2-2.7-.8-1.3-.2-.8 .1-.9 .5-.9 2-2.4 1.4-.9Z" fill="#000" fill-opacity="0.1" fill-rule="evenodd" stroke="#111" stroke-width="0.5"/><path d="M183.2 133l 1-.2 .9.1 .8.4 .6.9 .3 2.1-.1.6-.8.9-.8.4-1.2.2-1.1-.3-.6-.6-.8-1.5 0-.9 .3-.9 .5-.6 1-.6ZM178.5 135.7l .9-.2 .6.1 .4.4 0 .6-.7.6-.9 0-.7-.9 0-.3 .4-.3ZM191.5 139.6l .5-.1 .3.2 .5.8 1.3 4.5 .7 9.6-.2 3.6 .2 2.7-.3 1.5-1.1 3-.1 2.4-.8 1.8-.4 1.5 0 .9 .5 1.5 .1.9-.7.9-1.2.3-2.1-.5-.5-.4 0-.3 .3-.6 1.4-1.2 .5-1.2-.2-2.4 .1-2.1-.8-2.4-.7-6.6 0-2.1 .7-3.3 0-3.3 1-3-.2-4.5 .5-1.3 .7-.8ZM148.9 165.4l 1.1-.2 2.1.3 1.2.4 .9.7 1.6 2.7 .9 3.3-.2 2.1-.9 1.5-2.9 2.2-2.4.9-.9-.1-1.2-.3-.9-.6-.5-.6-.6-1.5-.3-1.5 .8-2.4-.3-.6-1-.9-.3-.6 0-.6 .3-.6 1.6-2.1 .9-1 1-.5ZM177.3 171.1l 2.4-.3 1.5.1 1.2.3 .9.4 .4.4-.1 1.3-.3.6-2 2.3-.7.4-1.2.2-1.5 0-2.7-.9-2.7.5-1.2 0-.9-.3-.8-.8-.2-.6 .2-.9 1-1.2 1-.8 1.2-.3 2.4.1 2.1-.5Z" fill="#000" fill-opacity="0.13" fill-rule="evenodd" stroke="#111" stroke-width="0.5"/><path d="M183.1 133.3l .8-.2 .9 0 .6.3 .5.5 .1.9-.3 1.8-.3.7-.6.4-.9.1-.6-.3-.9-1.8-.2-.9 .1-.6 .8-.9ZM191.3 140.8l .4-.3 .3.1 .6.8 .1 1.2-.4.9-.9-.1-.6-.7 0-1 .5-.9ZM192.7 144.4l .2-.1 .3.3 .2.4 .2 1.5 .6 2.4 0 2.4 .4 3.3-.3 3.6 .2 2.7-.3 1.5-1.2 2.7-.2 2.7-1.4 2.6-.3 0-.4-1.1 .1-2.4-.9-2.4-.8-6.9 0-2.1 .2-1.2 .7-1.8 0-3 2.1-3.3 .6-1.8ZM150.2 165.7l 2.2.2 .8.4 .7.6 1.6 2.7 .2 1.5 .6 1.5 .1.9-.4 1.5-.9 1.2-3.1 2.1-1.4.6-.9.1-.9-.2-1-.5-.9-1.2-.3-1.5 0-.9 .9-1.8 .2-.9-.4-.9-1.1-.9-.2-.6 2-3 .9-.6 1.3-.3ZM177.5 171.4l 1.3-.2 1.2.1 1.2.4 .8.6 0 .9-.7 1.2-.7.8-.9.6-.9.4-.9 0-2.4-1.1-3 .9-.9.1-.9-.3-.5-.5-.2-.6 .2-.9 .8-1 .9-.6 1.2-.2 2.1.2 2.3-.8ZM190.9 173.2l .5-.1 .6.7 0 .6-.6.5-.6 0-.7-.5 .2-.6 .6-.6Z" fill="#000" fill-opacity="0.16" fill-rule="evenodd" stroke="#111" stroke-width="0.5"/><path d="M183.3 133.6l 1.2-.2 .6.2 .3.3 .1.6-.1.7-.9 1.4-.6 0-.9-1.2-.2-.9 .5-.9ZM192.5 148.3l .4-.2 .3.1 .4 1 .1 2.1 .6 3.3-.5 3.6 .4 2.7-.4 1.5-1.2 1.8-.6 1.5-.3.2-.9-.7-.5-1-.5-2.7 0-2.1-.4-1.8 0-1.8 .1-.9 .4-1 .6-.6 1.2-.5 .1-.6-.2-2.1 .3-.9 .6-.9ZM151.3 166.3l 1.1.1 .8.5 1.4 2.4 .2.6-.1.6-.5.8-.6.5-.9 0-1.8-.5-.6-.2-.4-.6 .4-2.1 0-1.5 .3-.3 .7-.3ZM178 171.7l 1.1 0 .7.3 .5.6 .1.6-.2.6-.6.9-.8.6-.6.1-1.1-.4-1-1.5 .1-.6 .5-.6 1.3-.6ZM154.2 172l .6 0 .6.3 .5.9-.1 1.2-.7 1.2-2.1 1.1-2.7 1.8-.9.1-1.1-.6-.5-.6-.1-.6 .2-.5 .7-.7 .1-1.8 .4-.6 .6.1 1.8 1.3 .6.2 .3-.1 1.2-2.4 .6-.3ZM171.8 172.9l 1-.3 .9.2 .8.7 0 .6-.6.6-.8.4-.9.3-.9 0-.5-.4-.1-.6 .3-.7 .8-.8Z" fill="#000" fill-opacity="0.2" fill-rule="evenodd" stroke="#111" stroke-width="0.5"/><path d="M183.9 133.9l .6 0 .3.3-.1.6-.5.4-.6-.4 0-.6 .3-.3ZM192.9 154.3l .3-.2 .3.1 .2.4 0 .9-.2.9-.6 1.1-1.3 1.3 0 .3 1.3.2 .5.4 .3.6 0 .9-.2.7-.6.9-.9.5-.6.1-.6-.6-.4-1-.1-1.2 .4-1.5-.5-.6-.4-.9-.1-2.1 .2-.6 .6-.6 1.5.3 .9-.3ZM151.8 167.2l .3-.1 .6.3 .9 1.9-.2.9-1 .6-1.2-.3-.3-.6 .5-2.1 .4-.6ZM178.2 172.3l .8.3 .2.6-.4.9-.6.3-.6-.3-.4-.9 .3-.6 .7-.3ZM154.3 173.5l .5-.2 .3.2 .2.6-.5.8-.6.2-.3-.2-.1-.5 .5-.9Z" fill="#000" fill-opacity="0.24" fill-rule="evenodd" stroke="#111" stroke-width="0.5"/><path d="M190.5 155.5l .3 0 .6.3 .4.6-.3.6-.7.4-.3-.1-.3-.6 0-.6 .3-.6ZM191.6 160.9l .7-.1 .3.2 0 .5-.2.3-.8 0-.2-.6 .2-.3Z" fill="#000" fill-opacity="0.28" fill-rule="evenodd" stroke="#111" stroke-width="0.5"/>
</g>
<line x1="160.6" y1="112.3" x2="160.6" y2="182.7" stroke="#3a3a3a" stroke-width="0.95"/>
<line x1="139.5" y1="159.2" x2="210.2" y2="159.2" stroke="#3a3a3a" stroke-width="0.95"/>
<rect x="139.5" y="112.3" width="70.7" height="70.4" fill="none" stroke="#000" stroke-width="1.5"/>
<path d="M139.5 113.8h-2M139.5 115.25h-2M139.5 116.7h-2M139.5 118.15h-2M139.5 119.6h-2M139.5 121.05h-2M139.5 122.5h-2M139.5 123.95h-2M139.5 125.4h-2M139.5 126.85h-2M139.5 128.3h-2M139.5 129.75h-2M139.5 131.2h-2M139.5 132.65h-2M139.5 134.1h-2M139.5 135.55h-2M139.5 137h-2M139.5 138.45h-2M139.5 139.9h-2M139.5 141.35h-2M139.5 142.8h-2M139.5 144.25h-2M139.5 145.7h-2M139.5 147.15h-2M139.5 148.6h-2M139.5 150.05h-2M139.5 151.5h-2M139.5 152.95h-2M139.5 154.4h-2M139.5 155.85h-2M139.5 157.3h-2M139.5 158.75h-2M139.5 160.2h-2M139.5 161.65h-2M139.5 163.1h-2M139.5 164.55h-2M139.5 166h-2M139.5 167.45h-2M139.5 168.9h-2M139.5 170.35h-2M139.5 171.8h-2M139.5 173.25h-2M139.5 174.7h-2M139.5 176.15h-2M139.5 177.6h-2M139.5 179.05h-2M139.5 180.5h-2M139.5 181.95h-2M141 182.7v2M142.45 182.7v2M143.9 182.7v2M145.35 182.7v2M146.8 182.7v2M148.25 182.7v2M149.7 182.7v2M151.15 182.7v2M152.6 182.7v2M154.05 182.7v2M155.5 182.7v2M156.95 182.7v2M158.4 182.7v2M159.85 182.7v2M161.3 182.7v2M162.75 182.7v2M164.2 182.7v2M165.65 182.7v2M167.1 182.7v2M168.55 182.7v2M170 182.7v2M171.45 182.7v2M172.9 182.7v2M174.35 182.7v2M175.8 182.7v2M177.25 182.7v2M178.7 182.7v2M180.15 182.7v2M181.6 182.7v2M183.05 182.7v2M184.5 182.7v2M185.95 182.7v2M187.4 182.7v2M188.85 182.7v2M190.3 182.7v2M191.75 182.7v2M193.2 182.7v2M194.65 182.7v2M196.1 182.7v2M197.55 182.7v2M199 182.7v2M200.45 182.7v2M201.9 182.7v2M203.35 182.7v2M204.8 182.7v2M206.25 182.7v2M207.7 182.7v2M209.15 182.7v2" stroke="#111" stroke-width="0.55"/>
<text x="135.6" y="122.5" font-size="6" text-anchor="end" fill="#111" stroke="#111" stroke-width="0.18">10<tspan font-size="4.4" dy="-2.6">5</tspan></text>
<text x="135.6" y="138.4" font-size="6" text-anchor="end" fill="#111" stroke="#111" stroke-width="0.18">10<tspan font-size="4.4" dy="-2.6">4</tspan></text>
<text x="135.6" y="154.9" font-size="6" text-anchor="end" fill="#111" stroke="#111" stroke-width="0.18">10<tspan font-size="4.4" dy="-2.6">3</tspan></text>
<text x="136.3" y="173.1" font-size="6" text-anchor="end" fill="#111" stroke="#111" stroke-width="0.18">0</text>
<text x="149" y="194.3" font-size="6" text-anchor="middle" fill="#111" stroke="#111" stroke-width="0.18">0</text>
<text x="155.3" y="194.3" font-size="6" text-anchor="middle" fill="#111" stroke="#111" stroke-width="0.18">10</text>
<text x="159.4" y="191.8" font-size="4.4" fill="#111" stroke="#111" stroke-width="0.18">2</text>
<text x="169.7" y="194.3" font-size="6" text-anchor="middle" fill="#111" stroke="#111" stroke-width="0.18">10</text>
<text x="173.8" y="191.8" font-size="4.4" fill="#111" stroke="#111" stroke-width="0.18">3</text>
<text x="186.5" y="194.3" font-size="6" text-anchor="middle" fill="#111" stroke="#111" stroke-width="0.18">10</text>
<text x="190.6" y="191.8" font-size="4.4" fill="#111" stroke="#111" stroke-width="0.18">4</text>
<text x="202.3" y="194.3" font-size="6" text-anchor="middle" fill="#111" stroke="#111" stroke-width="0.18">10</text>
<text x="206.4" y="191.8" font-size="4.4" fill="#111" stroke="#111" stroke-width="0.18">5</text>
<text x="140.7" y="118.9" font-size="5.9" text-anchor="start" font-weight="normal" fill="#111" >9.86</text>
<text x="209" y="118.9" font-size="5.9" text-anchor="end" font-weight="normal" fill="#111" >37.6</text>
<text x="140.7" y="181.1" font-size="5.9" text-anchor="start" font-weight="normal" fill="#111" >16.9</text>
<text x="209" y="181.1" font-size="5.9" text-anchor="end" font-weight="normal" fill="#111" >35.7</text>
<g clip-path="url(#c6)">
<path d="M306.8 146.0h.6M316.6 133.7h.6M308.3 125.4h.6M294.1 147.0h.6M302.3 118.3h.6M302.0 132.1h.6M289.0 139.5h.6M293.6 115.5h.6M285.8 155.5h.6M281.3 137.0h.6M304.7 142.0h.6M284.5 130.4h.6M299.5 143.9h.6M290.9 120.3h.6M309.0 147.6h.6M302.1 127.0h.6M302.5 135.6h.6M307.2 119.3h.6M299.3 132.4h.6M285.8 136.9h.6M298.4 129.4h.6M302.4 117.3h.6M297.4 139.5h.6M301.1 147.2h.6M284.8 116.2h.6M300.6 139.8h.6M321.3 141.7h.6M288.4 144.0h.6M288.7 116.5h.6M305.9 141.1h.6M317.9 137.7h.6M311.4 122.0h.6M282.7 151.4h.6M314.2 140.4h.6M300.5 136.3h.6M290.4 152.8h.6M305.2 140.4h.6M302.1 146.9h.6M303.6 143.2h.6M285.1 140.4h.6M322.1 128.1h.6M296.6 145.0h.6M308.5 141.8h.6M280.2 140.3h.6M285.0 124.4h.6M304.0 130.8h.6M306.9 172.1h.6M306.5 143.0h.6M288.1 126.6h.6M286.3 127.9h.6M286.0 126.4h.6M295.7 122.3h.6M282.4 118.0h.6M303.0 135.0h.6M309.3 146.8h.6M294.3 142.3h.6M282.2 161.7h.6M311.1 131.7h.6M285.2 138.9h.6M277.4 124.9h.6M306.2 135.2h.6M292.6 145.7h.6M286.6 137.7h.6M292.5 124.1h.6M303.1 122.4h.6M318.9 127.3h.6M319.9 121.2h.6M304.7 119.9h.6M283.2 136.2h.6M305.5 119.0h.6M311.0 124.7h.6M299.4 138.9h.6M315.8 141.0h.6M293.3 122.0h.6M279.4 118.0h.6M304.0 130.2h.6M285.6 128.0h.6M315.2 130.3h.6M291.6 150.5h.6M303.1 134.8h.6M291.3 115.7h.6M285.1 128.5h.6M295.6 138.6h.6M304.1 137.0h.6M300.4 122.2h.6M274.3 128.0h.6M287.5 126.5h.6M295.0 119.4h.6M285.8 133.1h.6M299.3 126.4h.6M303.5 131.7h.6M286.8 134.8h.6M318.7 126.2h.6M310.8 150.8h.6M314.5 124.4h.6M320.2 135.7h.6M295.2 131.5h.6M304.6 134.9h.6M296.1 149.7h.6M290.0 121.8h.6M306.7 142.7h.6M310.0 121.4h.6M309.9 140.1h.6M317.4 119.3h.6M300.4 131.0h.6M280.5 125.7h.6M310.4 128.7h.6M290.1 144.7h.6M308.9 146.1h.6M289.3 133.6h.6M309.3 126.4h.6M289.8 144.2h.6M315.2 120.5h.6M269.4 116.9h.6M286.9 132.6h.6M304.8 132.5h.6M290.3 136.1h.6M287.4 133.7h.6M290.9 166.5h.6M307.0 124.3h.6M287.0 129.0h.6M279.9 125.5h.6M289.9 144.9h.6M293.3 124.8h.6M283.3 120.2h.6M297.3 131.7h.6M310.5 126.8h.6M309.7 137.4h.6M283.8 143.2h.6M313.4 136.8h.6M306.4 129.4h.6M293.9 126.3h.6M308.7 138.4h.6M295.4 130.4h.6M304.1 138.2h.6M288.8 154.9h.6M300.8 134.4h.6M314.3 146.6h.6M297.0 140.7h.6M286.2 126.6h.6M273.1 148.9h.6M277.1 142.5h.6M288.9 122.6h.6M295.9 137.5h.6M304.7 155.6h.6M301.9 144.9h.6M291.4 142.9h.6M299.7 128.7h.6M296.9 133.6h.6M300.1 139.1h.6M292.4 125.4h.6M306.2 113.9h.6M291.2 152.9h.6M268.2 126.0h.6M305.6 114.5h.6M313.8 153.0h.6M308.1 131.6h.6M301.9 123.5h.6M306.9 120.9h.6M295.0 146.3h.6M285.7 129.9h.6M299.8 118.2h.6M310.8 138.4h.6M281.3 133.7h.6M289.5 126.4h.6M298.8 125.8h.6M308.6 125.8h.6M308.8 133.8h.6M307.4 127.8h.6M292.4 120.5h.6M304.4 145.6h.6M321.3 149.8h.6M300.7 131.8h.6M302.3 134.0h.6M314.1 145.6h.6M288.8 126.0h.6M313.0 138.0h.6M295.5 148.5h.6M293.7 130.9h.6M307.5 119.8h.6M291.7 125.4h.6M306.0 133.5h.6M298.2 114.1h.6M297.0 116.6h.6M301.4 138.7h.6M297.8 158.8h.6M303.8 141.4h.6M299.6 132.0h.6M308.6 147.5h.6M283.7 147.0h.6M303.7 145.8h.6M303.1 119.4h.6M285.1 156.2h.6M300.8 117.3h.6M301.8 130.0h.6M280.4 137.6h.6M297.5 131.3h.6M301.1 141.5h.6M274.9 130.7h.6M288.9 119.5h.6M292.0 132.8h.6M295.1 116.8h.6M292.7 158.5h.6M286.4 114.1h.6M301.0 141.5h.6M303.1 120.9h.6M309.0 124.9h.6M285.5 127.0h.6M296.8 142.9h.6M304.9 134.0h.6M308.3 135.3h.6M307.9 117.5h.6M280.7 143.6h.6M282.7 130.7h.6M296.9 128.4h.6M293.0 151.0h.6M270.2 144.9h.6M323.2 134.6h.6M297.8 143.0h.6M318.1 120.0h.6M299.0 132.1h.6M304.2 136.2h.6M305.3 129.2h.6M298.5 126.3h.6M290.7 132.6h.6M296.4 120.2h.6M315.3 132.7h.6M282.8 147.5h.6M289.8 140.4h.6M297.8 137.3h.6M299.9 127.4h.6M298.5 158.7h.6M273.4 135.1h.6M302.8 121.7h.6M282.9 160.2h.6M293.9 159.2h.6M303.9 135.2h.6M303.2 141.9h.6M311.0 139.5h.6M299.6 136.4h.6M312.9 144.1h.6M287.0 126.7h.6M301.6 126.8h.6M293.9 122.8h.6M295.1 139.4h.6M308.9 134.4h.6M320.8 133.4h.6M303.5 128.3h.6M266.9 132.4h.6M300.0 157.4h.6M282.8 157.2h.6M295.2 143.0h.6M270.1 136.0h.6M294.2 142.5h.6M299.0 120.6h.6M308.4 142.6h.6M304.6 146.4h.6M310.1 134.0h.6M283.1 117.7h.6M312.8 142.8h.6M299.1 129.1h.6M298.3 134.6h.6M294.3 125.9h.6M321.8 137.0h.6M291.3 118.7h.6M290.0 142.9h.6M306.3 131.7h.6M298.6 130.6h.6M285.8 149.9h.6M302.1 164.0h.6M289.7 132.6h.6M307.7 131.4h.6M282.7 122.9h.6M299.1 138.4h.6M297.0 146.3h.6M308.9 138.2h.6M298.3 131.3h.6M304.1 145.3h.6M298.7 139.7h.6M294.4 117.4h.6M287.0 143.5h.6M302.9 153.4h.6M298.6 144.7h.6M312.6 146.2h.6M291.3 132.1h.6M299.4 122.5h.6M303.2 146.6h.6M292.7 158.0h.6M294.8 131.9h.6M295.4 125.8h.6M302.6 134.5h.6M316.3 141.6h.6M303.9 131.6h.6M282.4 133.2h.6M288.6 145.7h.6M297.7 154.3h.6M306.1 144.3h.6M300.5 136.8h.6M305.2 145.4h.6M290.2 140.2h.6M295.2 126.0h.6M282.1 148.6h.6M298.7 137.9h.6M318.3 164.4h.6M288.2 147.0h.6M304.9 139.1h.6M303.3 134.0h.6M315.5 141.7h.6M301.8 149.3h.6M307.9 139.9h.6M301.6 155.4h.6M303.6 133.3h.6M288.6 130.2h.6M286.5 135.6h.6M298.2 142.1h.6M299.9 122.9h.6M312.0 126.0h.6M284.5 121.4h.6M297.9 146.1h.6M310.8 136.8h.6M284.9 126.4h.6M288.1 132.2h.6M278.5 135.7h.6M305.1 132.5h.6M303.1 123.1h.6M282.0 126.7h.6M310.7 146.7h.6M293.0 148.8h.6M294.4 152.5h.6M303.3 128.9h.6M306.8 125.0h.6M287.7 116.9h.6M300.8 133.7h.6M297.2 129.4h.6M313.8 129.2h.6M290.0 149.3h.6M313.6 138.4h.6M278.9 127.1h.6M304.7 134.5h.6M315.1 117.9h.6M305.5 126.8h.6M312.6 133.4h.6M309.3 126.5h.6M282.5 121.0h.6M291.3 122.0h.6M311.2 150.4h.6M301.0 121.9h.6M296.7 126.1h.6M314.0 138.1h.6M303.4 129.5h.6M275.9 125.0h.6M285.7 138.7h.6M299.1 124.7h.6M293.7 153.1h.6M287.4 123.3h.6M295.5 125.9h.6M293.3 140.7h.6M297.8 134.8h.6M297.1 132.1h.6M294.3 146.4h.6M292.9 132.8h.6M298.0 135.6h.6M296.1 146.3h.6M297.9 136.4h.6M297.4 122.3h.6M288.9 121.7h.6M300.1 125.7h.6M286.3 137.2h.6M316.6 134.7h.6M296.8 147.1h.6M298.8 127.1h.6M322.1 121.4h.6M296.9 144.5h.6M286.2 133.1h.6M302.3 163.1h.6M288.2 133.7h.6M305.2 135.3h.6M284.8 139.2h.6M299.2 139.6h.6M310.4 146.5h.6M302.5 138.0h.6M285.9 132.7h.6M300.4 129.5h.6M299.1 124.4h.6M314.9 160.1h.6M293.7 139.1h.6M295.4 149.5h.6M302.8 135.2h.6M295.5 135.8h.6M287.0 142.4h.6M290.1 140.7h.6M299.4 147.4h.6M297.8 146.6h.6M287.9 141.6h.6M295.5 136.6h.6M298.8 145.5h.6M275.8 138.2h.6M281.6 148.8h.6M276.3 122.3h.6M279.6 154.0h.6M283.8 135.7h.6M294.3 142.3h.6M296.0 145.6h.6M294.0 134.4h.6M293.8 138.4h.6M318.9 138.6h.6M300.1 126.9h.6M289.7 151.9h.6M285.8 123.3h.6M296.9 129.2h.6M302.0 142.9h.6M285.7 126.6h.6M302.8 153.9h.6M287.9 115.3h.6M308.7 152.6h.6M314.0 131.9h.6M310.4 133.8h.6M293.9 128.9h.6M314.2 151.5h.6M274.5 123.1h.6M317.5 129.9h.6M283.0 134.4h.6M296.8 133.1h.6M292.7 130.6h.6M293.0 138.3h.6M289.1 130.8h.6M296.4 150.0h.6M302.1 133.0h.6M303.9 139.2h.6M310.0 140.4h.6M317.7 150.4h.6M297.5 129.3h.6M307.7 140.5h.6M297.0 116.6h.6M277.8 138.5h.6M306.5 143.9h.6M283.8 146.7h.6M292.1 139.0h.6M302.6 124.7h.6M302.8 135.0h.6M308.1 138.6h.6M291.0 138.5h.6M293.7 141.6h.6M301.5 122.4h.6M298.0 135.0h.6M294.6 145.0h.6M316.8 129.9h.6M296.6 129.1h.6M274.2 137.8h.6M304.5 125.5h.6M293.9 122.7h.6M306.4 116.1h.6M294.6 157.7h.6M298.6 139.9h.6M296.4 120.2h.6M297.6 139.2h.6M286.8 138.4h.6M311.7 147.1h.6M280.6 122.6h.6M280.2 147.2h.6M304.7 142.7h.6M288.3 120.3h.6M298.8 135.5h.6M288.6 136.0h.6M305.1 137.0h.6M295.2 136.3h.6M295.1 129.2h.6M290.4 142.9h.6M297.4 135.8h.6M287.3 126.9h.6M299.8 122.2h.6M284.1 130.4h.6M311.2 136.6h.6M314.1 132.7h.6M294.6 117.6h.6M291.7 151.5h.6M301.6 143.1h.6M305.8 134.2h.6M295.7 135.7h.6M305.4 139.8h.6M303.4 136.1h.6M289.5 131.2h.6M287.6 146.4h.6M274.9 131.7h.6M324.3 130.2h.6M285.5 134.1h.6M312.2 132.4h.6M304.7 135.5h.6M293.9 172.1h.6M298.8 127.9h.6M292.6 138.9h.6M302.5 143.6h.6M299.6 117.1h.6M303.9 130.6h.6M294.9 116.5h.6M291.7 125.6h.6M297.6 116.9h.6M298.6 135.8h.6M285.7 126.8h.6M288.6 145.2h.6M270.2 130.2h.6M279.7 129.1h.6M307.3 126.7h.6M299.5 124.2h.6M319.3 145.3h.6M310.4 118.4h.6M285.9 147.3h.6M295.9 131.2h.6M301.7 119.2h.6M306.5 134.5h.6M303.3 126.3h.6M303.6 125.8h.6M308.5 147.9h.6M308.0 140.5h.6M307.2 131.0h.6M299.0 130.9h.6M282.7 127.8h.6M305.2 151.3h.6M291.1 123.5h.6M314.0 123.7h.6M320.8 134.9h.6M288.3 146.1h.6M316.6 117.1h.6M315.1 130.9h.6M314.3 129.7h.6M280.7 140.3h.6M308.2 159.5h.6M317.0 142.6h.6M295.4 128.1h.6M294.8 124.3h.6M300.0 134.0h.6M292.7 141.1h.6M284.5 127.1h.6M277.5 151.5h.6M304.5 120.2h.6M297.3 145.7h.6M303.4 138.9h.6M288.6 126.7h.6M299.0 145.3h.6M288.9 120.8h.6M310.6 123.1h.6M309.8 137.2h.6M307.7 155.2h.6M305.6 143.6h.6M287.9 126.0h.6M305.1 152.7h.6M313.3 162.1h.6M301.4 136.7h.6M309.1 134.5h.6M297.3 121.7h.6M308.9 121.4h.6M303.6 117.3h.6M310.1 122.0h.6M307.3 115.2h.6M293.2 148.4h.6M289.1 135.1h.6M301.4 139.5h.6M285.8 141.2h.6M289.2 122.3h.6M298.1 126.1h.6M323.2 115.6h.6M306.1 146.2h.6M276.2 113.5h.6M304.2 128.5h.6M302.2 148.0h.6M293.9 121.5h.6M268.0 136.8h.6M287.8 138.1h.6M300.5 117.7h.6M317.0 147.3h.6M307.3 120.1h.6M293.5 127.7h.6M293.4 120.8h.6M302.8 137.1h.6M302.0 128.2h.6M312.2 136.6h.6M267.9 126.6h.6M297.4 145.9h.6M294.7 131.3h.6M290.7 142.3h.6M293.1 127.1h.6M289.8 141.0h.6M292.1 114.2h.6M304.8 125.9h.6M301.9 138.8h.6M311.2 146.8h.6M291.7 132.3h.6M283.8 154.4h.6M302.9 151.0h.6M314.8 135.4h.6M299.5 135.0h.6M305.1 140.7h.6M280.5 147.3h.6M292.2 128.7h.6M317.0 145.3h.6M299.8 140.8h.6M297.1 119.3h.6M289.3 119.2h.6M300.4 144.1h.6M309.3 125.5h.6M300.6 140.9h.6M292.4 132.5h.6M321.4 136.8h.6M307.7 129.1h.6M298.5 113.7h.6M297.7 148.6h.6M321.1 148.7h.6M305.6 134.9h.6M291.4 132.4h.6M304.7 124.9h.6M308.3 122.5h.6M278.4 122.2h.6M279.7 117.8h.6M310.5 131.9h.6M300.4 148.2h.6M311.9 128.2h.6M312.6 138.9h.6M298.0 139.6h.6M282.3 124.9h.6M296.8 141.6h.6M293.9 132.8h.6M308.7 151.2h.6M306.4 149.5h.6M293.6 130.6h.6M301.5 130.7h.6M292.4 154.1h.6M295.8 122.7h.6M303.4 156.3h.6M298.9 149.1h.6M293.2 128.4h.6M290.4 132.6h.6M318.2 120.4h.6M316.0 122.2h.6M295.4 144.3h.6M304.9 137.7h.6M279.9 138.6h.6M286.8 165.1h.6M295.7 136.6h.6M285.4 128.6h.6M283.8 146.1h.6M295.1 141.1h.6M290.5 128.3h.6M312.2 122.6h.6M278.2 139.2h.6M285.4 129.0h.6M308.0 124.5h.6M307.7 126.1h.6M314.4 150.2h.6M292.8 131.7h.6M288.8 136.7h.6M310.6 116.9h.6M308.1 118.4h.6M321.2 135.0h.6M300.7 126.2h.6M298.3 160.8h.6M293.8 134.5h.6M305.4 124.6h.6M298.3 145.8h.6M300.1 138.8h.6M294.2 138.1h.6M298.6 151.8h.6M306.0 131.4h.6M271.1 142.9h.6M306.3 123.3h.6M276.0 120.6h.6M308.2 121.5h.6M292.9 136.9h.6M311.5 134.1h.6M296.9 127.7h.6M315.9 147.1h.6M297.0 117.5h.6M289.3 141.3h.6M290.1 145.0h.6M302.0 137.8h.6M305.2 140.3h.6M288.6 130.4h.6M323.7 119.8h.6M292.8 147.1h.6M296.2 124.6h.6M283.4 140.7h.6M309.2 151.1h.6M298.6 146.8h.6M286.6 136.3h.6M290.5 136.4h.6M306.3 147.1h.6M287.1 149.5h.6M292.8 122.0h.6M296.1 116.7h.6M298.1 137.8h.6M295.8 140.7h.6M294.5 134.3h.6M282.2 134.8h.6M288.6 128.9h.6M297.0 136.6h.6M279.9 115.5h.6M294.7 140.0h.6M302.0 145.0h.6M312.3 140.3h.6M297.8 121.9h.6M287.6 128.7h.6M300.9 136.9h.6M298.0 132.5h.6M304.9 136.8h.6M301.3 138.0h.6M292.0 121.9h.6M303.4 139.3h.6M295.6 129.3h.6M323.1 125.2h.6M295.6 137.5h.6M285.3 135.7h.6M317.8 145.5h.6M305.0 141.4h.6M299.2 145.8h.6M296.3 129.2h.6M299.1 145.2h.6M301.6 142.4h.6M275.7 148.6h.6M323.7 150.3h.6M294.5 124.1h.6M301.1 122.5h.6M306.0 128.0h.6M308.6 150.6h.6M275.6 137.8h.6M290.3 117.4h.6M291.2 131.7h.6M309.4 116.0h.6M309.6 158.5h.6M304.6 140.9h.6M297.9 120.2h.6M303.9 138.9h.6M306.0 165.1h.6M306.0 139.4h.6M315.2 118.2h.6M285.4 129.8h.6M290.8 142.6h.6M294.5 155.2h.6M314.7 143.5h.6M293.8 141.7h.6M306.9 121.5h.6M301.8 142.8h.6M300.4 153.2h.6M311.4 124.4h.6M299.4 124.3h.6M304.4 123.9h.6M308.2 139.0h.6M308.7 132.6h.6M282.0 155.5h.6M296.1 150.8h.6M302.7 142.4h.6M318.1 138.4h.6M313.4 116.5h.6M307.6 131.4h.6M296.5 134.4h.6M301.8 154.2h.6M277.6 134.8h.6M290.1 148.3h.6M293.3 139.8h.6M293.6 142.3h.6M309.2 129.5h.6M298.5 117.3h.6M301.4 144.6h.6M291.9 147.7h.6M282.7 128.5h.6M298.2 133.4h.6M297.3 143.0h.6M292.8 119.1h.6M284.3 159.7h.6M272.1 132.2h.6M314.0 140.1h.6M288.9 134.3h.6M307.5 148.8h.6M288.1 143.4h.6M300.8 147.6h.6M313.3 130.2h.6M282.1 139.1h.6M317.5 142.5h.6M300.5 163.1h.6M286.6 145.1h.6M291.7 134.9h.6M299.0 152.5h.6M287.7 127.9h.6M280.5 140.1h.6M293.0 139.4h.6M286.2 130.0h.6M309.4 132.2h.6M304.9 140.6h.6M294.1 115.6h.6M308.8 136.3h.6M288.4 146.8h.6M304.2 133.9h.6M299.4 143.4h.6M294.7 139.1h.6M293.8 150.6h.6M293.6 132.6h.6M291.3 128.5h.6M310.4 131.1h.6M277.9 143.8h.6M307.4 139.8h.6M289.4 143.1h.6M280.1 119.8h.6M282.2 121.0h.6M307.7 118.3h.6M285.3 122.9h.6M300.2 130.2h.6M307.5 125.8h.6M283.8 128.3h.6M298.4 123.1h.6M301.0 156.0h.6M291.5 134.7h.6M312.8 126.4h.6M288.6 121.0h.6M302.2 140.3h.6M296.2 134.6h.6M311.8 144.5h.6M282.4 133.9h.6M298.9 142.7h.6M295.3 126.3h.6M297.4 126.8h.6M302.8 121.6h.6M292.9 122.2h.6M285.9 142.3h.6M292.5 139.2h.6M285.3 135.0h.6M279.0 128.1h.6M292.1 140.8h.6M299.5 131.7h.6M306.8 136.1h.6M303.5 143.0h.6M296.8 130.3h.6M301.1 128.8h.6M301.8 147.1h.6M306.9 129.2h.6M283.4 133.1h.6M296.1 147.0h.6M293.3 131.2h.6M305.6 128.0h.6M295.7 154.3h.6M313.8 141.3h.6M300.4 122.1h.6M303.6 134.4h.6M299.9 127.5h.6M297.3 131.5h.6M300.9 150.8h.6M301.4 113.9h.6M286.8 114.8h.6M288.8 140.4h.6M301.9 126.6h.6M300.4 124.7h.6M281.9 116.9h.6M288.0 150.7h.6M282.8 148.6h.6M312.0 131.5h.6M296.9 126.4h.6M297.2 141.6h.6M297.6 145.6h.6M310.5 137.8h.6M301.0 133.0h.6M301.2 120.3h.6M301.9 136.1h.6M288.0 159.5h.6M286.8 123.3h.6M288.7 115.4h.6M286.8 132.1h.6M300.9 146.9h.6M306.3 147.8h.6M303.9 128.0h.6M309.7 127.8h.6M290.7 152.0h.6M306.1 136.3h.6M305.7 144.2h.6M282.4 132.5h.6M284.4 135.1h.6M290.0 149.9h.6M303.1 123.9h.6M297.2 119.1h.6M297.8 140.2h.6M293.7 139.7h.6M300.7 147.5h.6M283.3 139.9h.6M290.2 136.0h.6M301.8 141.9h.6M291.0 135.8h.6M284.5 116.7h.6M303.5 133.0h.6M279.6 123.4h.6M297.6 152.3h.6M308.9 143.2h.6M277.7 132.4h.6M302.6 138.3h.6M301.9 130.8h.6M316.7 151.3h.6M296.3 121.8h.6M319.9 127.0h.6M310.5 156.5h.6M287.0 137.1h.6M293.5 139.8h.6M300.9 156.9h.6M303.8 133.5h.6M309.7 130.3h.6M293.3 160.5h.6M288.3 127.7h.6M297.8 120.9h.6M274.2 146.3h.6M288.7 127.1h.6M293.3 121.8h.6M285.5 135.5h.6M323.7 142.4h.6M305.6 115.5h.6M297.1 119.4h.6M305.8 130.9h.6M297.8 132.5h.6M290.9 115.3h.6M303.7 117.0h.6M284.4 130.0h.6M289.6 136.7h.6M308.5 136.6h.6M299.5 133.9h.6M301.4 122.4h.6M283.8 133.6h.6M293.1 140.6h.6M296.6 157.1h.6M306.9 150.9h.6M298.5 116.4h.6M285.0 142.1h.6M307.9 124.8h.6M294.4 136.7h.6M278.1 129.4h.6M315.2 159.8h.6M296.2 155.6h.6M291.6 123.9h.6M272.7 145.1h.6M293.2 161.7h.6M301.0 135.9h.6M277.5 151.6h.6M293.4 131.7h.6M273.1 144.7h.6M308.2 126.3h.6M298.4 138.3h.6M308.0 134.9h.6M316.3 130.7h.6M290.7 128.0h.6M269.5 123.9h.6M308.5 136.8h.6M288.4 137.8h.6M275.2 130.2h.6M303.2 142.0h.6M288.9 144.6h.6M318.0 128.5h.6M305.6 115.0h.6M275.8 141.0h.6M297.9 136.1h.6M291.0 130.1h.6M306.3 154.3h.6M295.0 113.9h.6M311.4 140.9h.6M304.9 135.9h.6M323.0 134.6h.6M291.1 125.4h.6M297.1 137.9h.6M289.2 154.5h.6M285.7 128.3h.6M300.1 118.7h.6M303.7 141.3h.6M294.2 156.6h.6M298.3 137.1h.6M286.9 113.6h.6M290.5 129.8h.6M292.4 142.9h.6M271.2 120.1h.6M277.3 149.8h.6M291.2 127.5h.6M285.3 144.5h.6M292.9 136.4h.6M275.0 147.8h.6M301.8 140.3h.6M311.1 131.4h.6M295.6 142.3h.6M302.1 130.8h.6M297.9 127.6h.6M305.3 144.9h.6M297.5 156.3h.6M280.5 130.9h.6M316.3 128.6h.6M279.8 150.5h.6M303.5 119.4h.6M306.0 121.4h.6M282.7 131.9h.6M292.2 120.5h.6M293.4 121.6h.6M298.1 133.5h.6M305.7 128.3h.6M282.8 117.9h.6M294.8 152.2h.6M306.8 126.0h.6M307.9 119.8h.6M308.7 129.1h.6M306.0 141.2h.6M294.4 137.7h.6M285.7 132.8h.6M305.2 134.8h.6M286.3 146.5h.6M279.2 124.1h.6M301.4 119.2h.6M314.5 146.9h.6M291.2 127.1h.6M282.9 116.9h.6M302.4 141.3h.6M301.4 136.9h.6M291.3 138.1h.6M281.2 133.8h.6M313.8 149.7h.6M292.4 129.7h.6M312.7 155.3h.6M281.0 128.6h.6M300.1 148.4h.6M288.2 141.5h.6M294.2 162.4h.6M302.2 132.1h.6M293.8 146.5h.6M305.0 120.7h.6M299.9 117.6h.6M289.2 118.2h.6M282.9 125.5h.6M286.7 140.1h.6M306.3 130.9h.6M285.1 143.5h.6M305.5 141.7h.6M308.3 131.2h.6M283.6 127.6h.6M303.8 124.5h.6M289.8 117.0h.6M284.7 143.9h.6M302.5 119.8h.6M285.6 127.0h.6M303.6 119.7h.6M283.6 138.8h.6M307.4 119.8h.6M289.0 143.4h.6M293.2 127.2h.6M303.2 136.1h.6M309.8 143.3h.6M291.2 132.3h.6M296.9 117.4h.6M286.8 145.5h.6M280.0 145.8h.6M300.7 132.1h.6M303.5 139.5h.6M310.9 129.0h.6M295.0 130.8h.6M318.3 145.2h.6M287.3 129.8h.6M289.7 134.0h.6M299.9 161.4h.6M277.4 146.2h.6M302.4 125.4h.6M295.9 127.9h.6M298.1 145.9h.6M280.8 149.6h.6" stroke="#444444" stroke-width="0.6" stroke-opacity="1.0"/>
<path d="M294.6 180.6h.6M304.9 178.7h.6M306.9 177.7h.6M300.3 164.2h.6M308.3 175.0h.6M297.0 177.5h.6M283.2 168.5h.6M288.1 180.1h.6M315.0 175.5h.6M304.5 171.7h.6M288.3 166.5h.6M309.1 171.1h.6M323.7 167.7h.6M268.3 167.7h.6M303.2 172.8h.6M300.5 164.3h.6M319.1 165.4h.6M308.9 168.1h.6M284.0 180.0h.6M267.0 164.1h.6M305.3 167.6h.6M309.4 169.4h.6M296.8 169.0h.6M285.6 164.9h.6M308.1 174.1h.6M299.7 165.2h.6M308.6 158.2h.6M295.3 168.4h.6M288.7 171.2h.6M291.1 164.5h.6M323.2 175.4h.6M315.4 170.6h.6M312.4 175.7h.6M296.9 172.0h.6M299.2 145.6h.6M281.7 170.4h.6M308.1 166.2h.6M314.7 179.2h.6M294.5 180.2h.6M322.7 173.5h.6M287.2 180.5h.6M297.8 167.6h.6M301.5 166.5h.6M313.9 175.7h.6M315.8 174.4h.6M289.7 169.2h.6M311.4 167.5h.6M292.4 178.3h.6M309.7 170.1h.6M297.0 173.3h.6M310.9 175.6h.6M296.1 173.3h.6M311.0 175.7h.6M259.9 164.1h.6M289.9 168.7h.6M302.3 176.8h.6M308.0 169.4h.6M292.0 172.4h.6M320.4 172.7h.6M273.4 172.9h.6M295.0 169.5h.6M313.7 173.6h.6M296.6 176.5h.6M305.7 171.0h.6M303.9 172.1h.6M295.6 167.1h.6M300.3 163.6h.6M283.6 179.4h.6M296.9 170.1h.6M298.2 170.5h.6M300.3 170.8h.6M289.5 176.8h.6M291.0 177.5h.6M275.1 162.9h.6M312.9 169.3h.6M291.3 172.9h.6M286.4 170.8h.6M271.2 167.1h.6M291.6 174.1h.6M311.4 164.3h.6M320.9 166.2h.6M273.3 153.6h.6M320.0 169.7h.6M291.6 165.1h.6M285.8 179.8h.6M297.4 153.8h.6M311.0 167.7h.6M296.9 181.3h.6M296.6 178.4h.6M299.9 165.0h.6M306.6 166.1h.6M316.0 177.0h.6M300.8 174.6h.6M307.3 168.4h.6M311.6 168.7h.6M308.0 163.6h.6M301.3 173.2h.6M289.8 167.4h.6M293.1 175.4h.6M290.7 173.4h.6M319.9 172.8h.6M279.1 171.2h.6M313.6 168.3h.6M314.5 174.7h.6M305.6 168.5h.6M293.4 168.6h.6M300.9 174.0h.6M305.6 168.3h.6M301.0 173.1h.6M279.0 165.0h.6M289.8 169.0h.6M296.6 168.6h.6M288.8 175.1h.6M303.8 158.9h.6M300.4 162.5h.6M322.3 167.2h.6M295.1 171.0h.6M297.6 170.0h.6M320.3 172.0h.6M311.1 178.3h.6M309.2 177.1h.6M289.0 176.1h.6M305.6 166.7h.6M297.1 171.8h.6M312.1 178.3h.6M307.8 179.0h.6M319.4 161.8h.6M293.9 163.9h.6M301.5 180.5h.6M308.7 163.1h.6M296.4 177.6h.6M293.4 169.8h.6M304.2 157.7h.6M310.4 172.8h.6M307.7 163.6h.6M290.3 166.3h.6M303.5 170.9h.6M317.2 165.4h.6M296.1 180.1h.6M321.0 166.6h.6M296.8 171.0h.6M289.0 163.6h.6M295.0 176.4h.6M294.4 169.0h.6M294.2 160.9h.6M319.6 154.0h.6M291.8 174.4h.6M282.1 174.7h.6M316.5 164.4h.6M303.0 162.7h.6M306.8 171.1h.6M303.1 180.0h.6M306.4 179.9h.6M308.5 162.0h.6M303.7 173.9h.6M281.5 179.8h.6M301.1 173.0h.6M288.6 170.9h.6M304.1 168.2h.6M301.3 155.6h.6M318.0 162.6h.6M271.9 163.7h.6M289.4 174.2h.6M288.4 172.4h.6M287.0 175.1h.6M287.8 174.5h.6M309.0 159.3h.6M285.4 162.3h.6M280.7 165.3h.6M287.7 160.3h.6M301.5 174.2h.6M283.1 166.5h.6M300.3 168.8h.6M291.1 176.1h.6M311.2 175.1h.6M322.8 167.6h.6M298.6 178.7h.6M289.8 173.2h.6M300.7 165.5h.6M297.1 159.4h.6M293.1 156.4h.6M316.1 172.5h.6M313.1 179.3h.6M313.3 176.8h.6M288.2 173.4h.6M293.1 162.1h.6M285.2 173.3h.6M313.8 160.8h.6M322.8 180.6h.6M295.1 167.1h.6M299.1 177.2h.6M295.1 162.6h.6M304.5 155.9h.6M301.9 178.4h.6M304.0 175.8h.6M306.4 175.4h.6M301.9 164.5h.6M297.1 169.8h.6M316.4 181.7h.6M305.5 165.0h.6M290.5 169.0h.6M318.1 172.6h.6M299.3 164.9h.6M311.5 172.3h.6M299.3 171.0h.6M321.9 169.2h.6M321.9 179.0h.6M300.7 176.5h.6M298.4 164.5h.6M296.5 163.9h.6M306.6 170.4h.6M307.4 176.1h.6M259.4 172.5h.6M276.6 171.5h.6M288.6 171.0h.6M317.8 158.3h.6M302.5 169.8h.6M275.4 174.8h.6M300.4 166.7h.6M294.9 157.7h.6M287.9 167.7h.6M295.0 169.7h.6M286.4 174.1h.6M293.7 160.8h.6M289.4 167.6h.6M311.0 173.7h.6M295.6 170.4h.6M292.0 173.6h.6M309.4 163.6h.6M302.5 171.4h.6M293.9 174.3h.6M313.4 178.2h.6M297.5 171.6h.6M302.9 176.5h.6M302.0 174.9h.6M302.2 175.6h.6M316.7 168.8h.6M302.6 169.9h.6M294.8 170.2h.6M285.3 175.5h.6M316.6 163.6h.6M319.8 165.3h.6M286.1 176.2h.6M303.7 169.2h.6M288.6 173.3h.6M294.0 177.6h.6M315.9 160.6h.6M293.4 168.1h.6M284.6 162.5h.6M301.2 168.8h.6M278.5 166.5h.6M306.7 161.9h.6M288.0 181.4h.6M317.1 159.0h.6M282.4 172.9h.6M284.5 168.5h.6M294.1 174.2h.6M267.1 154.9h.6M284.1 177.4h.6M298.0 158.3h.6M306.4 175.3h.6M296.8 168.0h.6M305.7 178.8h.6M302.0 174.0h.6M299.4 167.6h.6M288.1 172.1h.6M296.1 168.6h.6M312.1 173.7h.6M311.3 159.3h.6M307.3 166.2h.6M289.5 164.3h.6M315.7 176.1h.6M290.7 162.3h.6M300.2 167.1h.6M321.6 160.1h.6M276.2 168.5h.6M300.1 171.2h.6M295.5 166.5h.6M277.1 172.0h.6" stroke="#707070" stroke-width="0.6" stroke-opacity="1.0"/>
<path d="M261.1 156.4h.6M262.0 160.8h.6M262.8 165.3h.6M259.7 173.3h.6M263.9 159.5h.6M258.4 143.7h.6M261.5 166.1h.6M257.5 170.6h.6M260.4 132.3h.6M260.9 162.3h.6M258.0 154.0h.6M263.6 143.1h.6M257.4 173.9h.6M261.7 167.2h.6M259.5 154.0h.6M258.0 169.5h.6M257.2 178.7h.6M257.8 147.2h.6M262.2 158.1h.6M260.4 154.1h.6M259.8 166.7h.6M259.3 142.1h.6M261.2 138.3h.6M257.8 148.5h.6M258.1 173.1h.6M257.4 168.8h.6M260.7 134.6h.6M257.5 164.9h.6M260.9 157.8h.6M257.7 168.8h.6M258.8 171.2h.6M260.2 137.6h.6M260.8 142.0h.6M259.2 146.6h.6M257.9 162.9h.6M258.7 154.6h.6M264.4 160.4h.6M261.1 178.6h.6M263.5 146.2h.6M261.6 177.4h.6M259.0 164.0h.6M263.5 133.5h.6M257.7 164.6h.6M261.1 140.6h.6M262.3 168.4h.6M260.0 155.7h.6M258.5 145.8h.6M259.6 155.6h.6M258.2 159.0h.6M260.9 163.9h.6M260.2 153.3h.6M261.9 172.0h.6M258.9 173.8h.6M257.3 138.6h.6M260.4 164.0h.6M260.3 159.9h.6M259.8 152.6h.6M260.2 172.8h.6M258.9 172.5h.6M259.6 158.7h.6M260.9 138.1h.6M260.4 167.7h.6M260.1 143.4h.6M260.4 137.8h.6M262.7 162.3h.6M261.9 150.5h.6M264.5 145.2h.6M259.8 178.0h.6M258.8 160.1h.6M257.9 141.9h.6" stroke="#808080" stroke-width="0.6" stroke-opacity="1.0"/>
<path d="M269.6 115.3l 1.8-.1 2.7.3 3.3-.1 1.8.4 1.5.9 2.7 2.9 .5.8 .5 1.8 .8 2.1 .7 2.7-.3 15-1.4 3.3-2.1 3.9-1.7 2.4-.9 2.2-2.7 2.8-1.8 2.8 .6.6 2.7.8 2.4 1.1 2.4 1.9 2.8 1.9 3.8 1.1 .8.7 .2.6-.5.9-2 1.2-.2.3 .3 2.1-.5 2.1-.7 1.2-1.6 1.7-1.6 2.5-1.2.9-1.4.8-3 1.2-1.5.4-1.8 0-2.4.3-1.2 0-4.2-1.1-3.5-1.3-1.9-2-2.4-2.1-1.1-2.2-.3-2.1 0-.9 .5-1.8 .3-2.1 1.5-1.8 1-1.5 1.1-1 5.9-3.2 .9-.9-.3-.6-3.7-3.3-1.7-3.9-3.1-3-1.1-2.4-1.2-1.5-.5-.9-.2-1.2 .2-2.7-.5-2.7-.2-1.8 .2-6.9 .4-3.9 .8-3.3 2.9-4.3 .9-.5 2.4-.7 5.1-.8Z" fill="#fff" fill-rule="evenodd" stroke="#111" stroke-width="0.5"/><path d="M270.9 118l 1.1-.3 2.1.3 3 0 2.4 1 2.3 2.3 .5 1.5 1.4 3 .3 1.2-.5 3.9 .6 4.8-.9 3 .1 2.4-.3 1.5-.7 1.5-2.5 2.9-1 2.2-.7.9-1.3.9-1.2.4-1.2.2-1.2-.2-.2 8.6 .2.9 3.3.7 1.2.4 2.4 1.7 2.5 2.3 .8.4 1.9.5 .6.6 .3 1.5-1.2 1.2 .4 3-.2 1.2-1.2 1.6-1.6 2.6-.8.8-.9.5-2.4.4-2.1.8-1.8-.1-2.1.3-1.8-.1-4.5-1.2-1.8-1-2.4-1.6-.7-.9-.4-1.5-.1-3.6 .2-2.1 .5-.9 2-2.4 1.8-1.4 2.1-2.1 2.4-1.2 2.4-.4 .2-1.2-.1-7.2-.1-1.6-5.4.4-.6-.3-1.2-1.5-1.5-.9-.5-.6-.7-2.4-1.4-2.4-.7-1.8-.8-5.7 .3-4.5-.7-2.7 .1-1.8 .3-.9 1.1-1.6 .4-1.7 .4-.6 1.8-1.2 1.3-1.5 .9-.5 .9-.1 3.3.1 1.6-.7Z" fill="#000" fill-opacity="0.11" fill-rule="evenodd" stroke="#111" stroke-width="0.5"/><path d="M271 118.9l .7-.2 .9 0 3.3 1.1 2.4 0 1.2.4 1 1.1 .8 2.4 1.3 2.7 .2.9-.1 1.5-.9 2.1 .1.6 .9 1.5 .3 1.8-.1.9-.7 1.5-.2 1.2 .3 2.4-.1 1.2-.8 1.5-2.5 2.4-1.3 2.3-.6.6-1.8 1.2-.9 0-1.2-.3-.3 3.1 0 5.1-.3 2.1 .6 1.4 3.3.7 1.5.8 1.6 1.3 2 2.1 2.4 1.5 .3.6-.2.6-.9.9 .8 3 0 .9-1.7 3.6-.7.9-1.2.6-2.4.1-2.1 1.1-3.3.2-3-.1-3.3-.9-3.5-1.9-.7-.7-.4-.8 0-5.7 .5-1.5 1.1-1.5 2.1-1.8 1.9-2.4 2-1.1 2.7-.6 .4-.7 .2-.9-.3-1.8 0-5.1-.3-3.3-2.7.6-1.5-.1-.9-.4-1.2-1.4-1.5-.6-.5-.8-.5-2.4-2.1-3-.2-1.2 0-1.8-.7-2.4 .6-2.1-.1-3.3-1-2.4 .2-1.2 1.2-1.8 1-2.5 2.1-.8 1.2-1.5 .6-.4 .9-.2 2.4 0 1.7-.9Z" fill="#000" fill-opacity="0.11" fill-rule="evenodd" stroke="#111" stroke-width="0.5"/><path d="M271.4 119.5l .9-.2 .9.2 2.4 1.9 2.7-.4 .6.2 .4.4 1.1 3.6 1 1.8 .3.9-.3 1.2-1.5 2.1-.2 1.2 .4.5 1.5.7 .4.6 0 .6-.6 1.8-.1 1.2-.1 1.5 .4 1.8-.3 1-.9 1.1-1.5 1.2-1.6 2.4-.8.8-1.5.7-.6 0-1.2-.4-.3 3.5-.3.1-.3-.6-.3-2.9-2.4 1-1.2 0-.6-.4-.9-1.4-1.6-1-.1-.6 .2-1.8-.3-.9-.6-.5-1.8-.6-.6-.6-.3-1 .1-1.8-.8-2.1 0-.6 .6-1.5-.1-2.1 .6-2.7 .1-1.5-.2-2.1 .4-1.8 .8-.6 1.6-.3 1.1-1.7 .6-.5 .9-.1 1.8.7 .6-.1 .8-1.3 .7-.6ZM272.4 161.2l .2-.2 .6.7 2.4.5 1.8.8 1.8 1.5 2.3 2.7 .5.9-.2 1.8 .9 3.3 0 .6-1.4 3.2-.6.6-3 .7-1.5.8-.9.3-2.7.3-3.3-.2-3.3-1-2.2-1.1-1-.9-.3-.6-.1-.6 .7-2.4-.4-2.1 0-1.2 .9-1.8 2.1-2 1.3-1.9 .8-.8 2.1-1.1 2.1-.3 .4-.5Z" fill="#000" fill-opacity="0.11" fill-rule="evenodd" stroke="#111" stroke-width="0.5"/><path d="M272.1 120.1l .8.1 .6.4 .9 1.6 .6.5 .9 0 1.8-.4 .9.3 .5.8 .6 2.7 .9 2.1-.2.6-1.2 1.7-.6 1.9 .3 1.1 1.1 1 .4.6 .1 2.7-.3 1.5-.4.7-1.2 1.1 .1 1.2-.2.6-1.7 2.9-.9.8-.6.2-.5-.3-.8-2.1-.2-.3-.6-.3-.2 5.4-.1.6-.3.2-.3-.4-.1-.7-.2-4.4-.9.4-1.5-.2-1.8.6-.9-.1-.3-.5-.2-.9 .2-.9 .6-1.5-.3-1.1-.6-.9-.6-.4-2.1-.7-1.2-1.3-.3-.7 .6-1.8-.3-1.8 0-.9 .5-.9 .8-.9 .7-1.5 2.1-3-.3-2.1 .4-1.2 .3-.3 .6-.1 1.8.9 .9 0 .6-.5 .7-1.5 .6-.6ZM263.7 124.9l .5.1 0 .4-.3.1-.3-.1 .1-.5ZM272.5 161.5l .7.5 2.1.4 1.8.8 1.6 1.3 1.3 1.5 1 1.8 0 2.1 .6 3.9-.6.9-1.2.9-1 1.5-3.2 1.7-2.7.4-3.9-.3-3.6-1.2-1.2-.6-.8-.9-.1-.9 .9-2.1-.8-2.7 0-1.2 .5-1.2 1.8-1.7 2.2-3.1 1.4-.8 2.7-.6 .5-.4Z" fill="#000" fill-opacity="0.11" fill-rule="evenodd" stroke="#111" stroke-width="0.5"/><path d="M268.8 124.3l .8-.1 1.3.1 .4.3 .7 1.3 1.8.9 .6-.1 1.2-.5 .3 0 1.6 2.3 .5 1.2 0 .9-.6 1.8-.1 1.8 .1.3 .9.9 .4.6 .4 1.2 0 .9-.5.7-1.8.8-.3.6-.4 1.5-.5.5-.6.1-.6-.2-1.2-1-.3 2.7-.3 1.1-.3-.5-.3-4-.7.1-1.7.6-.6-.6-.3-.9 0-1.2 .2-.6 1.9-1.4 .3-.4-.3-1.1-.6-.2-1.5 1.2-.6.1-1.3 0-.5-.6 .5-1.8 0-1.5-.2-.9-.9-1.5 .1-.9 .8-.9 .9-.4 .6.2 .6.6 .6.1 1.5-.2 .4-.3 .1-.3-.2-.5-.3-.2-1.5 0-.6-.4-.1-1.6 .2-.6ZM276.8 124.3l .6-.2 .6.2 .1.6-.1.4-.6.3-1.2-.1-.1-.6 .7-.6ZM273.5 129.8l-.5 1.7 0 .9 .5.6 1.2.5 .3-.3 .2-.5 0-1.2-.8-1.4-.6-.4-.3.1ZM275 134.5l-.7.9-1.1.6-.1.6 .1.7 .6.1 .6-.2 1.8-2.1 .1-.3-.4-.3-.6-.2-.3.2ZM272.4 162.1l .2-.2 .6.5 2.1.4 1.8.9 2.3 2.3 .5.9 .2.9-.4 2.1 .2 2.4-.2.9-1.4 1.5-.9 1.5-1.5 1.4-.9.5-2.1.4-.9-.1-1.5-.5-2.7-.3-2.1-.6-.9-.5-.4-.6 .1-.6 1-1.5 .1-.6-.3-.9-.9-1.8-.2-.9 .4-1.2 1.6-1.8 1.2-2.1 .7-.8 1.5-.9 2.8-.7Z" fill="#000" fill-opacity="0.11" fill-rule="evenodd" stroke="#111" stroke-width="0.5"/><path d="M272.5 138.4l .1-.2 0 1.5-.1-1.3ZM272.5 162.7l 2.5.7 1.5.7 1.8 1.6 .6.9 .2.6-.7 3-.6 1.5-1.9 2.8-.9.8-.6.2-.9 0-2.4-.9-1.8 0-.6-.2-3.1-4.8 .1-.9 2.7-4.4 1.5-1 2.6-.6Z" fill="#000" fill-opacity="0.11" fill-rule="evenodd" stroke="#111" stroke-width="0.5"/><path d="M272.4 163.3l .2-.1 .6.3 1.5.2 1.2.6 1.7 1.4 .7 1.2 0 .9-.5 1.8-.5 1.2-2 2.6-1.2.6-1.2 0-3.9-1.3-1.2-1.3-1.1-2.1 .3-1.2 1.7-3.3 1.5-1 2.2-.5Z" fill="#000" fill-opacity="0.11" fill-rule="evenodd" stroke="#111" stroke-width="0.5"/><path d="M271.5 163.9l 1.1-.2 2.7.7 1.3 1 1 1.5-.2 2.1-.3 1.2-2 2.4-1 .7-1.2 0-3.6-1.5-1-1-.8-1.5 .1-1.2 1.4-2.7 1.2-1 1.3-.5Z" fill="#000" fill-opacity="0.11" fill-rule="evenodd" stroke="#111" stroke-width="0.5"/><path d="M272.5 164.2l 1.9.3 .9.4 .9.8 .5 1.2 .1 2.1-.2.9-1.9 2.4-.9.5-.9-.1-3.3-1.5-1-1-.6-1.2 .2-1.2 1.3-2.1 1.3-1 1.7-.5Z" fill="#000" fill-opacity="0.11" fill-rule="evenodd" stroke="#111" stroke-width="0.5"/><path d="M272.5 164.8l 2.3.3 .7.6 .3.6 0 1.5 .4 1.5-.1.6-1.4 1.7-.9.6-.6 0-3.3-1.4-.9-.9-.5-.9 .2-1.2 .9-1.4 1.5-1.1 1.4-.5Z" fill="#000" fill-opacity="0.11" fill-rule="evenodd" stroke="#111" stroke-width="0.5"/><path d="M272.5 165.7l .1-.1 .3.2 1.5-.1 .6.6-.3 1.5 .7 1.5 0 .6-.7 1-.9.6-3.4-1-.8-.6-.6-.9 .1-.9 .5-.8 .6-.4 1.5-.3 .8-.9Z" fill="#000" fill-opacity="0.11" fill-rule="evenodd" stroke="#111" stroke-width="0.5"/><path d="M270.2 167.8l 3.3.6 .9.9 .2.6-.2.3-.3.3-.6.2-3-.7-.6-.5-.4-.8 .2-.6 .5-.3Z" fill="#000" fill-opacity="0.11" fill-rule="evenodd" stroke="#111" stroke-width="0.5"/>
</g>
<line x1="285" y1="112.3" x2="285" y2="182.7" stroke="#3a3a3a" stroke-width="0.95"/>
<line x1="256.1" y1="155.5" x2="326.8" y2="155.5" stroke="#3a3a3a" stroke-width="0.95"/>
<rect x="256.1" y="112.3" width="70.7" height="70.4" fill="none" stroke="#000" stroke-width="1.5"/>
<path d="M256.1 113.8h-2M256.1 115.25h-2M256.1 116.7h-2M256.1 118.15h-2M256.1 119.6h-2M256.1 121.05h-2M256.1 122.5h-2M256.1 123.95h-2M256.1 125.4h-2M256.1 126.85h-2M256.1 128.3h-2M256.1 129.75h-2M256.1 131.2h-2M256.1 132.65h-2M256.1 134.1h-2M256.1 135.55h-2M256.1 137h-2M256.1 138.45h-2M256.1 139.9h-2M256.1 141.35h-2M256.1 142.8h-2M256.1 144.25h-2M256.1 145.7h-2M256.1 147.15h-2M256.1 148.6h-2M256.1 150.05h-2M256.1 151.5h-2M256.1 152.95h-2M256.1 154.4h-2M256.1 155.85h-2M256.1 157.3h-2M256.1 158.75h-2M256.1 160.2h-2M256.1 161.65h-2M256.1 163.1h-2M256.1 164.55h-2M256.1 166h-2M256.1 167.45h-2M256.1 168.9h-2M256.1 170.35h-2M256.1 171.8h-2M256.1 173.25h-2M256.1 174.7h-2M256.1 176.15h-2M256.1 177.6h-2M256.1 179.05h-2M256.1 180.5h-2M256.1 181.95h-2M257.6 182.7v2M259.05 182.7v2M260.5 182.7v2M261.95 182.7v2M263.4 182.7v2M264.85 182.7v2M266.3 182.7v2M267.75 182.7v2M269.2 182.7v2M270.65 182.7v2M272.1 182.7v2M273.55 182.7v2M275 182.7v2M276.45 182.7v2M277.9 182.7v2M279.35 182.7v2M280.8 182.7v2M282.25 182.7v2M283.7 182.7v2M285.15 182.7v2M286.6 182.7v2M288.05 182.7v2M289.5 182.7v2M290.95 182.7v2M292.4 182.7v2M293.85 182.7v2M295.3 182.7v2M296.75 182.7v2M298.2 182.7v2M299.65 182.7v2M301.1 182.7v2M302.55 182.7v2M304 182.7v2M305.45 182.7v2M306.9 182.7v2M308.35 182.7v2M309.8 182.7v2M311.25 182.7v2M312.7 182.7v2M314.15 182.7v2M315.6 182.7v2M317.05 182.7v2M318.5 182.7v2M319.95 182.7v2M321.4 182.7v2M322.85 182.7v2M324.3 182.7v2M325.75 182.7v2" stroke="#111" stroke-width="0.55"/>
<text x="252.2" y="122" font-size="6" text-anchor="end" fill="#111" stroke="#111" stroke-width="0.18">10<tspan font-size="4.4" dy="-2.6">5</tspan></text>
<text x="252.2" y="138.4" font-size="6" text-anchor="end" fill="#111" stroke="#111" stroke-width="0.18">10<tspan font-size="4.4" dy="-2.6">4</tspan></text>
<text x="252.2" y="156.7" font-size="6" text-anchor="end" fill="#111" stroke="#111" stroke-width="0.18">10<tspan font-size="4.4" dy="-2.6">3</tspan></text>
<text x="252.9" y="170.4" font-size="6" text-anchor="end" fill="#111" stroke="#111" stroke-width="0.18">0</text>
<text x="272.2" y="194.3" font-size="6" text-anchor="middle" fill="#111" stroke="#111" stroke-width="0.18">0</text>
<text x="284.6" y="194.3" font-size="6" text-anchor="middle" fill="#111" stroke="#111" stroke-width="0.18">10</text>
<text x="288.7" y="191.8" font-size="4.4" fill="#111" stroke="#111" stroke-width="0.18">3</text>
<text x="303.6" y="194.3" font-size="6" text-anchor="middle" fill="#111" stroke="#111" stroke-width="0.18">10</text>
<text x="307.7" y="191.8" font-size="4.4" fill="#111" stroke="#111" stroke-width="0.18">4</text>
<text x="319.7" y="194.3" font-size="6" text-anchor="middle" fill="#111" stroke="#111" stroke-width="0.18">10</text>
<text x="323.8" y="191.8" font-size="4.4" fill="#111" stroke="#111" stroke-width="0.18">5</text>
<text x="257.3" y="118.9" font-size="5.9" text-anchor="start" font-weight="normal" fill="#111" >39.1</text>
<text x="325.6" y="118.9" font-size="5.9" text-anchor="end" font-weight="normal" fill="#111" >2.18</text>
<text x="257.3" y="181.1" font-size="5.9" text-anchor="start" font-weight="normal" fill="#111" >57.7</text>
<text x="325.6" y="181.1" font-size="5.9" text-anchor="end" font-weight="normal" fill="#111" >1.01</text>
<g clip-path="url(#c7)">
<path d="M408.6 125.4h.6M373.7 140.6h.6M385.1 157.2h.6M397.3 140.8h.6M379.2 145.8h.6M397.3 155.8h.6M377.3 114.4h.6M417.1 159.6h.6M388.9 150.4h.6M377.2 130.3h.6M380.0 142.0h.6M375.6 123.4h.6M380.3 153.9h.6M377.6 145.6h.6M353.9 142.2h.6M383.2 126.9h.6M359.1 151.5h.6M372.9 152.6h.6M378.7 154.6h.6M379.9 122.7h.6M383.7 140.4h.6M394.9 138.5h.6M379.1 158.2h.6M402.5 156.7h.6M400.6 152.1h.6M396.6 158.5h.6M391.1 146.2h.6M387.1 181.4h.6M385.2 141.7h.6M379.5 144.8h.6M388.7 128.3h.6M355.3 149.7h.6M360.9 149.2h.6M387.1 162.6h.6M410.1 150.8h.6M376.7 127.7h.6M373.1 145.9h.6M354.0 146.4h.6M384.8 155.0h.6M380.0 146.8h.6M374.0 138.3h.6M358.4 147.2h.6M408.2 147.7h.6M390.5 130.6h.6M406.5 133.8h.6M397.0 146.9h.6M370.6 160.7h.6M385.2 148.0h.6M391.8 145.0h.6M379.3 152.3h.6M378.9 146.3h.6M375.0 122.9h.6M374.9 137.9h.6M385.2 163.1h.6M359.7 147.2h.6M357.1 147.6h.6M386.2 143.6h.6M372.9 177.6h.6M382.6 132.4h.6M410.2 154.5h.6M379.4 163.2h.6M387.4 154.9h.6M388.5 129.9h.6M399.6 147.7h.6M369.9 133.9h.6M399.3 139.8h.6M385.7 155.1h.6M386.9 122.4h.6M394.6 159.4h.6M398.0 169.6h.6M390.5 157.0h.6M408.8 140.9h.6M411.0 171.3h.6M396.7 172.9h.6M397.8 132.1h.6M402.1 150.2h.6M391.2 147.6h.6M405.4 153.6h.6M374.6 152.6h.6M395.9 134.4h.6M378.5 139.6h.6M375.9 150.5h.6M400.3 173.7h.6M402.9 160.6h.6M402.1 165.3h.6M379.3 155.7h.6M389.8 143.4h.6M378.2 137.7h.6M381.0 126.8h.6M392.8 145.0h.6M386.6 150.4h.6M395.9 136.4h.6M383.4 121.2h.6M408.1 117.9h.6M392.1 167.5h.6M378.1 169.7h.6M412.7 159.5h.6" stroke="#aaaaaa" stroke-width="0.6" stroke-opacity="1.0"/>
<path d="M367.9 118.6l 2.2 0 2.7 1 1.8 1.2 1.1 1.7 .6 1.5 .3 1.5 .3 8.1-.2 6 .9-.1 .5.4 .1.3-.3.6-1.5 1.2-.6-.1 0 .4-.3.3 0 .4 .3-.1 0 .3-.9 1.9-.6 0-2.1 1.5-2.7.5-6.6-.2-.9-.2-1.2-.7-1.4-1.3-.6-1.2-1.1-3.9-.1-1.8 .6-4.2-.5-3 .6-6.3 .9-2.7 .7-.9 .6-.4 2.7-1 4.7-.7ZM398.6 118.6l 2.1-.3 3 .9 2.1-.7 1.5-.1 3.6 1.2 1.1.8 .6.9 1.2 4.5 .2 4.2-.4 3 .5 4.2-.2 2.1-.7 2.7-.2 2.7-.5 1.8 .3 2.4-.4 1.5-1 1.5-1.1.8-2.7.3-1.5.4-3.3-.5-2.1.5-1.2 0-4.5-.8-1.5-.6-.6 1.2-.9 1-1.2.9-1.2.3-.9-.1-2.2-.7-.8-.6 0-.9 .9-1.5 0-.6-1.2.5-1.5.4-1.8 1.3-.9.1-.5-.5 .5-2.1-1-1.5 0-.6 .9-2.4 .1-2.4 .7-3 0-1.5 .4-.6 1.9-.9-.6-3.6 0-3.3 .2-1.2 .7-1.8-.2-2.7 .4-1.8 1.6-2.2 1.5-1 4.8-1.2 6-.4ZM403.7 128.8l-1.2.5-.8.7-.5.9-.1.9 .3.9 .8 1 1.2.7 .9.1 .6-.2 .8-1 .4-1.1 0-1-.3-1.2-.6-.9-.6-.3-.9 0ZM401.6 159.7l 2.1-.1 4.5 1.2 1.2.9 1.9 1.9 .6.9 .2.9 0 2.1 .5 3.6-.4 1.5-1.7 1.8-.9 1.8-.8.9-.9.5-4.2 1.6-5.1-.7-.7-.5-.8-1.3-1.4-1.4-.7-1.5-.1-2.1-.9-4.5 0-.9 .3-1.2 .8-2.1 .5-.7 .6-.4 1.5-.5 1.8-1.3 2.1-.4ZM369.3 160.3l 1.7.1 2.1.6 4.1 2.6 .5.6 .7 1.5 0 1.8-1 3.3-.7.9-.6.5-2.7 1.7-1.5.7-2.1.3-2.7 0-2.1-.7-2.7-1.5-1.2-1.7-1.4-1.4-.1-1.2 .7-4.2 .8-1.1 4.5-2.2 3.7-.6ZM385.7 165.7l .6-.2 .3.2 0 .3-.3.4-.3-.1-.3-.6ZM389.8 166.6l .7 0 .7.3 .1.3-1.1.3-.6-.1-.2-.2 0-.3 .4-.3ZM383 167.8l .9-.2 1.1.2 .4.6-.2.9-.7.4-1.2-.3-.4-.4-.3-.6 .4-.6Z" fill="#fff" fill-rule="evenodd" stroke="#111" stroke-width="0.5"/><path d="M399.7 118.6l 1.6.1 1.8 1.1 .6.1 2.1-1.2 .9-.1 .9.1 3 .9 1.1.8 .6.9 1.3 4.5 .1 4.2-.3 3 .5 4.2-.2 1.8-.7 2.7-.2 2.7-.7 2.1 .4 2.4-.1.9-1.2 2-.6.5-.9.3-1.8.1-2.1.4-3.3-.6-1.8.7-.9 0-2.7-.6-2.1-.1-1.8-1-.6 1.4-.9.8-1.8.7-1.2 0-.8-.4-.5-.6-.1-.6 .7-2.1-.1-.6-.3-.3-1-.1-1.8.8-.9 0-2.1-.9-.5-.4-.3-.6 .6-2.1 .1-2.4 .6-2.1 .8-2.4 1.5-1.5-.8-4.5 .1-3 .9-2.4-.3-2.7 .2-1.5 .6-1.2 1.2-1.5 .7-.6 .9-.4 4.2-1 3.6-.4 2.1.1 1.7-.4ZM367.1 118.9l 1.5-.2 1.2 0 3 1.1 1.8 1.4 1.3 2.2 .5 2.1 .2 4.8-.1 9-2 5.1-.8 1-1.2.8-1.2.4-1.8.2-6.6-.1-1.8-.7-1.5-1.3-.6-1.2-1.2-4.2 .1-2.1 .8-3.6-.8-3 .7-6.3 .7-2.4 .6-.8 .6-.5 3-1.2 3.6-.5ZM403.1 128.7l-1.1.7-.8.9-.3.9 .1.9 .5.9 1 1 1.2.6 .9 0 .6-.5 .7-1.1 .3-1.2-.1-1-.6-1.5-.6-.6-.9-.2-.9.2ZM401.4 160l 2.3-.2 4.2 1.1 .9.6 2.1 2.1 .5.6 .3.9-.1 2.1 .7 3.9-.4 1.5-1.7 1.8-1 1.8-.7.7-4.8 2.1-2.4-.5-2.5-.2-.6-.6-.7-1.2-1.6-1.5-.5-1.2-.2-2.1-1-4.5 0-1.2 .3-.9 1.1-2.4 .6-.5 1.8-.5 1.8-1.3 1.6-.4ZM368.9 160.6l 1.2-.1 1.5.3 2.1.8 3.6 2.6 .7 1.5 .2 1.2-.5 2.4-.6 1.5-.7.9-3.9 2.5-1.5.4-1.8.2-2.7-.3-3.6-1.7-.7-.5-1.1-1.7-1-1-.3-.9 .6-3.9 .3-.9 .4-.4 .9-.6 3.9-1.7 3-.6Z" fill="#000" fill-opacity="0.03" fill-rule="evenodd" stroke="#111" stroke-width="0.5"/><path d="M368.2 118.9l 2.2.2 2.9 1.3 1.3 1.2 1.4 2.4 .3 1.5-.1 2.4 .3 2.7-.2 8.7-.3.9-1 1.8-.8 2.4-.7.9-1 .7-1.2.4-1.8.1-3.9-.2-3 .1-1.8-.9-1.1-1.1-.3-.9-.3-1.8-1-2.4-.1-1.2 .3-1.5 1.1-3-.1-.6-.9-1.5-.2-.9 .7-6.6 .7-2 .6-.8 .7-.5 2.6-1 2.1-.2 2.6-.6ZM399.8 118.9l .9 0 .6.2 1.5 1.1 .9.4 .7-.2 1.2-1.2 .8-.3 1.2 0 2.7.8 .9.5 .7.8 1.2 3.6 .3 1.5 0 3.9-.2 2.7 .4 4.2 0 1.5-.9 3.3-.2 2.4-.7 2.4 .4 2.4-.1.9-.9 1.7-1.2.8-2.4.1-1.8.3-3.3-.9-1.8 1.1-1.5.1-2.1-.7-2.1 0-1.2-.6-1.3-1.3-.9-1.5-1.1-1.3-.9.1-1.2.9-1.8.2-1.8.8-2.1-.7-.7-.6 .1-3.3 .2-1.2 1.5-3.9 1.1-1.2-.1-1.2-.7-2.7-.1-1.5 .3-2.4 .9-2.1 0-1.2-.5-2.4 .2-1.2 .4-.9 1.6-1.8 1.5-.9 4.2-1 3.3-.1 1.8.1 2.1-.5ZM403.1 128.4l-.9.5-1.1 1.1-.4.9 .1.9 .3.9 .8 1 1.5 1 .9.2 .6-.3 .9-1.3 .4-1.2 0-1.2-.4-1.2-.6-1-.9-.4-1.2.1ZM401.6 146.6l-.3.2-.1.6 .1.4 .3.3 .3-.1 .2-.6-.1-.6-.4-.2ZM390.2 150.1l .9-.3 .6.2 .6.9 .1 1-.4.8-.6.4-1.2.3-.9-.1-.6-.5 0-.6 .6-1.4 .9-.7ZM401.4 160.3l 1.4-.2 .9 0 4.2 1.2 2.6 2.3 .5.6 .4.9-.2 2.1 .8 3.6-.2 1.5-1.9 2.1-.9 1.5-.8.8-3.6 1.7-.9.3-2.4-.5-2.1-.2-.6-.6-.5-1.2-1.9-1.4-.5-1-.1-2.1-1.1-4.2 .1-2.1 .6-1.5 .6-.9 .7-.5 1.7-.4 1.6-1.3 1.6-.5ZM368.8 160.9l 2.5.1 2.1.8 3.6 2.7 .7 1.2 .2.9-.2 2.1-.8 1.8-.5.7-3.9 2.8-2.4.6-1.8 0-1.5-.3-1.8-.6-1.8-1-.9-.7-.9-1.5-1-1.2-.2-.6 .5-3.9 .7-1.2 .9-.5 4.5-1.7 2-.5Z" fill="#000" fill-opacity="0.03" fill-rule="evenodd" stroke="#111" stroke-width="0.5"/><path d="M367.7 119.2l 1.2-.1 1.2.1 2.7 1.2 1 .9 1.4 1.8 .6 1.1 .3 1.6-.5 2.4 .6 2.1 .1 3.6-.3 2.7 0 2.7-.5 1.1-1.2 1.3-.1 1.8-.3.9-.5.6-.9.6-1.2.4-2.4 0-4.2-.5-1.2.4-.9.1-1.5-.7-.9-.9-.3-.9 0-2.1-1.2-1.5-.3-.9 0-.9 .5-1.8 1.2-2.4 .1-.6-.2-.6-1-1.2-.3-.9 .1-2.7 .4-3.6 .7-1.9 1.4-1.4 1.9-.8 2.4-.2 2.1-.8ZM406.8 119.2l 3.2.7 1.3.8 .4.6 .3 1.5 1.1 2.7 0 4.8-.2 2.4 .5 5.1-.9 3.6-.3 2.7-.7 2.3 .3 3.4-.8 1.5-.7.6-.6.2-3.3-.1-.5-.4-.4-1.1-.3-.3-1.5-.1-.4-.3-.3-.9 .2-2.1-.8-2.1 .6-1.5 0-.3-.5-.3-.6 0-.3.2 .2 1.6-1.4 1.8-.2.6 .1 1.2 1.1 2.1 .1.6-.6 1.5-.8.5-1.2-.1-1.8-.7-2.1.2-1.2-.6-.7-.8-.2-.6 .1-.3 .7-.9 0-.3-.2-.3-2.5-1.5-2.3-.8-.6-.4-.3-.9-.1-1.5-.5-.7-.3 0-.9.3-.6.7 0 .6 .8 1.8-.1.6-.3.6-1.3.9-.9 0-.6-.3-.4-.9 0-2.1 1.6-4.2 1-1.5 0-1.8-.7-2.4-.1-1.5 .2-1.8 .9-1.8 .2-.9-.7-3 0-1.2 .3-.9 .7-1 1.8-1.8 4.2-1.2 3.9.1 2.1.5 .6-.1 1.1-.7 .7-.1 .9.3 1.8 1.4 .9.2 .9-.4 1.2-1.4 .7-.3ZM402.8 127.8l-.9.7-1.1 1.2-.5.9 0 .9 .6 1.2 .7.9 1.8 1.4 .9.3 .6-.4 1-1.6 .4-1.2-.1-1.2-.4-1.5-.6-1.1-1.2-.6-1.2.1ZM397.1 142.2l-.3.2 0 .4 .3.3 .3 0 .3-.5-.2-.3-.4-.1ZM401.4 160.6l 2-.3 3.9 1.1 .9.5 1.8 1.6 .9 1.3-.1 2.4 .9 3.6 0 .9-.4.9-1.5 1.5-1.7 2.1-1.1.8-3.3 1.3-3.9-.9-1.2-1.5-2.1-1.4-.4-1-.2-2.2-.8-2.3-.4-1.8 .1-1.8 1.1-2 .6-.4 1.5-.4 2.1-1.6 1.3-.4ZM369 161.2l 2.3.1 1.8.7 3.6 2.8 .8 1.2 .2.9-.3 1.8-.7 1.5-.6.9-3.6 2.6-1.5.6-1.2.1-1.5 0-1.8-.5-1.5-.5-1.8-1-.7-.7-1.7-2.4-.2-.9 .4-3.3 .6-1.2 1-.5 6.4-2.2Z" fill="#000" fill-opacity="0.04" fill-rule="evenodd" stroke="#111" stroke-width="0.5"/><path d="M367.8 119.5l 2-.1 2.3 1 .6.6 .2.6-.4.5-.7.4-.1.3 1.1.7 1.8-.2 .6.5 .5.8 .1 1.2-.3.8-1.5 1-.3.6 .2.6 1.6.9 .3.6-.1 2.1 .2 1.8-.6 3 .3 2.1-.4.5-1.2.3-.6.4-.2.9 .4 1.8 0 .6-.4.9-.9.6-.7.1-1.8-.3-3-.1-1.8-.6-.6.1-1.5.7-.6.1-.9-.4-.6-.8-.1-.6 .8-2.4 0-.6-2-.9-.3-.3-.2-.6 .9-3 1.4-2.1-.3-.9-1.2-1.5-.4-.9-.2-2.7 .4-2.7 .6-1.6 1.9-2 .8-.4 .9-.2 .7.3 .5.7 .6.1 .3-.2 .8-1.5 1.1-.6ZM407.5 119.8l 2.5.4 1.2.8 .5 2.1 .8 1.5 .3 1.2-.1 6.6 .4 5.4-.7 3.3-.4 2.7-.8 2.5 .2 2.9-.2.9-.6 1-.9.5-1.5-.1-.9-.5-.3-.6 0-1.2-.2-.6-.4-.3-1.4-.6-.4-1.5-.6-.9-.1-.9 .6-1.5-.2-.7-.8-.5-4.4-.9-.3-.3 .7-.9 0-.6-.6-.2-.9 0-.9.3-.8 1.4-1 1.2-.2.9 1.7 2.1 .1.6-.1 1.2 .2.6 1.9.4 .6.6 1 2 .1.6-.1.9-.4.6-.6.2-.9-.3-1.5-1.2-.3 0-1.2.8-.9 0-.9-.7-.1-.6 .4-.4 1.4-.8 0-.6-.5-.6-2.1-1.1-1.5-1.1-1.5-.4-.6-.4-.3-.9 .8-1.2 .1-.6-.3-1-.9-.5-1.5.6-.9-.1-.9.4-.3 0-.2-.3 .1-.9 .5-.9 .3-2.1-.1-1.2-.7-2.7 .1-1.3 .8-2.3 .2-.9-.2-1.2-.6-2.4 .2-1.5 .8-1.2 1.8-1.7 3.9-1.1 .9 0 1.5.4 1.8.2 2.4 1 .6-.1 1.2-.9 .6 0 2.7 1.8 .3 0 1.8-1.1 .9-1.2 .8-.3ZM403.7 123.3l-.6.4-.4.6-.1 1.8-.2.6-1.7 1.7-1.6 2.5 .3.6 2 2.4 2 1.7 .9.3 .6-.4 1-1.9 .4-.9 0-1.2-.7-3.3-1.4-1.8-.1-.6 .3-1.5-.2-.6-.5-.4ZM388.7 134.3l-.1.5 .5.9 .2 1.5 .6.6 .6-.2 .2-.4-.1-.3-1-2.1-.3-.4-.6-.1ZM394.4 134.4l-.4.4-.1.6 .2.5 .6.1 .4-.3 .2-.6-.3-.6-.6-.1ZM399.5 142.9l .6.2 .4 1-.3.9-.7.3-.6-.3-.3-.6 .2-.9 .7-.6ZM383.5 144.4l .4-.2 .3 0 .8 1.1-.1.9-.7.6-.6-.1-.4-.5-.1-.9 .4-.9ZM403 160.6l 1 .1 3.6 1.2 2.5 2.3 .4.9 0 2.4 .9 3.6-.1.9-.4.6-1.7 1.5-1.5 1.8-1.5.9-2.5 1-1.2-.2-1.8-.8-1.9-1.5-2-1.2-.3-.9-.2-2.1-1.1-2.7-.3-1.8 .3-1.5 1-1.5 2.4-.9 1.8-1.4 2.6-.7ZM369.2 161.5l 2.1.1 1.2.5 3.9 3 .7.9 .3 1.2-.5 1.8-.6 1.2-.8.9-3.3 2.5-1.2.4-1.2.2-1.5-.1-2.4-.7-2.4-1.1-.9-.9-1.4-2.4-.2-.9 .3-2.7 .2-.6 .5-.7 .9-.5 2.4-.6 2.4-1.1 1.5-.4Z" fill="#000" fill-opacity="0.05" fill-rule="evenodd" stroke="#111" stroke-width="0.5"/><path d="M368.1 120.1l 1.1-.2 .8.2 .5.3-.4.3-1.8.2-.4-.2 .2-.6ZM391.5 120.4l 1.1-.1 1.8.7 2.1.4 1.1.8 1.9 2.2 1.5.5 .4.9-.2.6-1.1 1.1-.8 1.3-1.4 1.5-.6 1.2 .4.6 1.4.6 .7.6 .2.6-.2 1.2 .1 1.2-.5.6-.8.6-1.9.3-1.4 2.4-.9.6-1.2.4-.7-.1-.1-.3 0-1.5 .2-.9 .4-.6 .5-.4 2.1-.4 .5-.4 .2-1.5-.4-1.4-.3-.3-.6-.1-1.2.4-.6.7-.5 1.6-.7.3-.9-.6-1.2-2-.9-.4-2.1-.3-.6-.5-.2-.7 .4-2.7-.8-3.6 .1-1.2 .6-.9 2-2 3.1-1ZM407.9 120.7l 1.5-.2 1.3.5 .3.6 .2 1.5 1 1.8 .3 1.2-.1 6 .4 4.8 0 1.5-.7 2.8-.4 2.6-.8 2.4-.2 3.6-.7.9-.6.2-.6-.1-.6-.4-.4-1.8-1.3-1.8-1.2-2.1-.5-3-.7-.6-1.9-.4-.7-.5-1-3.6 .2-.6 .6-.4 .6 0 1.8.9 .6.1 .6-.4 .3-.6 1.1-2.3 .2-1.2-.9-6.3 .3-.9 1.1-2.1 .5-1.5 .4-.6ZM362.8 122.2l .4-.2 .3.2 .7.6 .8.3 2.4-.5 1.8 1.1 3.9 1.4 .6-.1 .9-.6 .3 0 .4.5 .1.6-.3.6-1.4.5-1.2.9-1.5.1-.3.6 .1.9 .5.7 1.2-.4 .6 0 1.6.9 .3.6-.1 1.5 .3 1.8-.1.6-1 1.8-.6 1.8-1.2 1.8-.3.9 0 .9 .7 1.8-.5.7-.6 0-2.1-.6-2.7.2-1.8-.7-.6.1-1.5.7-.6-.1-.3-.3 .2-1.2 .4-.6 1.1-.9 .1-.9-.9-2.6-.6-.9-.9 1.4-.6.1-.3-.4 0-.9 .3-.9 .6-.5 .6.1 .3-.2 .1-1.5-.2-.9-.9-1.8-.2-1.5-1-1.2-.2-1.2 .1-.9 .5-.8 .6-.2 1.2.2 .5-.4 0-.6-.4-1.5 .4-.9ZM387 136.3l .5-.1 .4.4 .5 2.4-.9.9-.9.4-.4-.4 0-.6 .8-3ZM394.1 144.4l .9 0 .7.6 0 .9-.4.6-.9.1-.9-.7-.1-.9 .7-.6ZM398.2 149.2l .4-.2 .9.9 .3 1.1-.3.6-.6-.1-.4-.5-.4-1.2 .1-.6ZM402.8 160.9l 1.2.1 3.3 1.1 .9.7 1.5 1.4 .4.9 0 2.1 .9 3.9 0 .6-.4.7-3.3 2.8-2 1.3-1.6.6-.9-.1-1.2-.5-4.3-2.7-.4-.9-.3-2.4-1.1-2.4-.3-1.5 .2-1.2 .8-1.2 2.4-1.2 2.1-1.5 2.1-.6ZM369.3 161.8l 1.7.1 1.2.5 3.9 3 .7.9 .2.9-.4 1.5-1.3 2.1-3.1 2.5-1.2.5-1.2.2-1.2-.1-3-.9-1.8-.9-1-1-1.3-2.4-.1-.9 .2-2.1 .7-1.3 1.2-.6 2.7-.8 2.1-1 1-.2Z" fill="#000" fill-opacity="0.06" fill-rule="evenodd" stroke="#111" stroke-width="0.5"/><path d="M390.6 121l 1.7-.3 3.9 1.2 1 .9 2.3 3.3-.1.9-.9 1.5-3.2 3.7-2.1 1.1-1.2 1.4-.3 0-1.4-1.4-2.5-.8-.8-.7-.2-.9 .1-2.1-.7-3.3 .2-1.2 2.1-2.4 .8-.5 1.3-.4ZM408.8 121.3l .9-.2 .6.3 .5 2 1.2 2.1 .1 6.6 .5 5.1-.1 1.5-.6 2.4-.4 2.4-.9 2.4-.5 2.7-.4.6-.3.1-2-2.5-1.5-2.4-.5-2.4-.5-1.1-.9-.7-1.5-.6-.3-.4-.1-.8 .1-.9 .3-.4 1.8.4 .6-.4 1.5-3.5 .2-1.2-.2-3 .4-1.8-.3-1.2 0-.9 2.3-4.2ZM365.7 123.7l .8-.2 .9 0 1.5.7 1.3 1 .7.9-.6 2.1 0 .9 .2.6 .5.6 .6.3 .9-.4 .8.1 .6.6 .2.6 0 1.5-.4.9-.6.5-1.2.3-.3.4-.2 1.5 .2.5 .5.4 .1.6-1.9 3.6-1.1 1.1-1.8.5-1.5-.3-.9-.5-.5-.5-.3-2.1-1.1-3.6-.7-4.5 .4-4.2 1.6-3 .6-.6 .7-.3ZM397.5 134.2l .2-.2 .3 0 .3.5 0 1.2-.3.4-.3 0-.2-.4 0-1.5ZM394.3 138.1l .7.1 .2.5-.5.8-.6.2-.4-.4 0-.6 .6-.6ZM403.1 161.2l .9.1 3 1.1 1.2.8 1 1 .5.9 .7 6-.1.9-.6.5-3.9 2.2-1.5 1.2-1.2.3-1.5-.4-3.9-2.4-.4-.8-.2-2.7-1.2-2.1-.3-1.5 .4-1.2 .8-.9 1.9-.9 2.3-1.6 2.1-.5ZM369.2 162.1l 1.5.1 1.2.5 1.5 1.3 2.4 1.7 .5.6 .3.9-.4 1.5-1.3 2-2.7 2.3-1.2.6-.9.2-1.2-.1-3.3-1-1.8-.9-1-1.3-.9-1.8-.2-.9 .3-2.1 .3-.6 .6-.6 .9-.4 2.1-.6 2.1-1.1 1.2-.3Z" fill="#000" fill-opacity="0.08" fill-rule="evenodd" stroke="#111" stroke-width="0.5"/><path d="M391.1 121.3l 1.2-.1 3.6 1.3 2.3 2.7 .4 1.2-.1.9-.6.9-2.5 2.4-.9 1.2-.7.5-2.1.9-3.3-1.1-.9-.6-.2-.9 .1-1.8-.6-2.4 .2-1.5 1.2-1.2 .8-1.3 .6-.5 1.5-.6ZM409.2 122.8l .2-.1 .3.2 1.8 2.6 0 .9-.3 1.2 .5 2.4 0 2.1 .3 2.1 .2 3.3-.1 1.5-.8 4.2-1 2.1-.5 1.8-.4.5-.9-.5-2.3-3-1.3-4.8 .1-.9 1-3 1-2.1-.4-2.7 .2-1.2 .8-.9 2.6-.9 .3-.3-.5-.6-1.8-.4-.7-.5-.1-.6 .2-.6 1.6-1.8ZM366.7 124l 1.3.2 1.5 1 .5 1.2-.2 2.4 .1.9 1.7 1.8 1.2-.2 .3.8-.2.9-1 .4-.6 1.1-.5 1.8 .1 2.4-1 2.4-1 1.1-1.5.5-1.5-.4-.9-.9-.3-1.8-1.2-3.6-.7-4.2 .6-3.6 1-2.4 .9-1.2 1.4-.6ZM401.8 161.8l 1.3-.2 .9.1 3 1.1 1.2.9 1 1.4 .7 3.9-.1 1.8-.4.9-1.2.8-2.1.7-1.8 1.7-1.2.5-.9-.1-1.2-.4-2.8-1.7-.5-1.2 .1-2.7-1.3-1.6-.4-1.1 .1-.9 .6-1 3.9-2.4 1.1-.5ZM369.1 162.4l 1.3 0 1.2.5 1.5 1.5 2.5 1.6 .4.6 .2.6-.3 1.2-1.4 2.1-2.6 2.3-1.8.7-1.2-.1-1.5-.6-2.4-.6-.9-.5-1-1.2-1-2.7 .2-1.8 .9-1.2 .9-.4 1.9-.5 2-1.2 1.1-.3Z" fill="#000" fill-opacity="0.1" fill-rule="evenodd" stroke="#111" stroke-width="0.5"/><path d="M391 121.9l 1.3-.1 3 1 1 1.5 1.2 1.2 .4.9-.2.9-.6.9-.9.8-1.5.8-.9 1.7-.9.6-1.2.3-2.4-.4-1.2-.7-.3-.7 .1-2.1-.5-1.8 .4-1.2 1.4-1.2 .9-1.8 .9-.6ZM366.4 124.6l 1-.1 .9.3 .9.7 .4.9-.1 1.1-.5 1.3-.4.6-.8.6-.3.6 .2 1.7 .8-1.4 .7-.5 .9.4 .6.5 .4.8 .1.6-1 3.9 .2 1.8-.4 1.5-1.1 1.6-1.5.6-1.2-.3-.7-.7-.4-2.1-1.3-3.9-.7-3.3 .6-3 .9-2.4 .8-1.2 1-.6ZM409.1 124.6l .4.3-.1.3-.3 0-.3-.3 .3-.3ZM408.7 128.8l 1.6-.2 .6.4 .2.4 .2 1.2-.2 1.8 .5 1.8 .2 3.6-.1 1.5-.8 3.8-.6 1.1-1.2 1.5-1.8-1.1-.8-.8-1.1-4.2 .2-1.5 1.1-2.9 .6-.4 1.5-.2 .5-.7-.2-.6-1.5-.7-.5-.8-.2-.9 .1-.9 .3-.5 1.4-.7ZM367.7 132.4l-.1.9 .4.7 0-.7-.3-.9ZM368 136.2l-.5 1.3 .2.5 .3.1 .7-.3 .4-.9-.5-.8-.3-.1-.3.2ZM402.2 162.1l .9-.1 .9.2 2.7 1 1.5 1 .7 1.2 .6 3.6-.2 1.2-.5.7-.6.3-1.8-.1-.7.3-.6.6-.9 2.1-.8.5-.6.2-.9-.1-1.2-.5-1.5-.8-.8-.8-.2-1.2 .5-1.8 0-.6-.4-.7-1.4-1.1-.3-.9 .2-.9 .6-.7 3.6-2.1 1.2-.5ZM369 162.7l 1.1 0 .9.4 1.5 1.6 2.7 1.5 .5 1-.1.9-.4.8-2.1 2.5-1.5 1.3-1.5.5-.9 0-1.8-.8-1.8-.3-1.2-.5-1-1.1-.9-2.7 .2-1.5 .8-1.1 2.7-.9 1.8-1.2 1-.4Z" fill="#000" fill-opacity="0.13" fill-rule="evenodd" stroke="#111" stroke-width="0.5"/><path d="M391.5 122.8l 1.1-.2 1.9.5 .5.6 .7 1.5 .8.9 .2.6-.2.4-.6.5-1.5.1-.6.3-.4.8-.1 1.8-.4.6-.9.5-.9.1-1.8-.3-.7-.6-.2-.9 .5-1.8-.5-.9-.1-.6 .4-.6 2.6-1.5 0-1.2 .2-.6ZM366.5 125.2l .9-.2 .9.3 .5.5 .3.9-.1.6-.4.6-1.5.8-.4.7-.8 3.9 1.1 1.2 .3.9-.3.9-.8.8-.6-.3-.6-.9-1.4-3.5-.2-.9 .7-2.3 1.1-1.3 .4-1.8 .9-.9ZM408.7 129.4l 1.3-.1 .6.5 .1 1.1-.3.6-.4.4-1.5.2-.6-.2-.4-.4-.2-.6 .1-.6 .5-.6 .8-.3ZM369.5 131.5l .3 0 .5.3 .3.9-.2 1.2-.6.9-.3-.2-.6-1.9 .1-.6 .5-.6ZM409.6 135.7l 1-.3 .4.9 .3 2.7-.5 3-.3.9-.8.9-.9.5-.9-.1-.9-.4-.5-.9-.5-2.7 0-1.2 .7-2 .5-.7 2.4-.6ZM369 138.7l .5-.1 .1.7-.3.9-.5.6-1.4.6-.6 0-.5-.3-.3-.9 0-.6 .3-.6 .5-.1 1.2.2 1-.4ZM401.9 162.7l .9-.1 .9.1 2.6.9 1.3.7 .8 1.1 .7 3.3-.3.9-.3.4-2.1.1-1.5.7-.5.6-.7 2.1-.6.6-.6.1-.9-.1-1.2-.5-1.1-.7-.4-.5-.2-1 .8-1.7-.1-1-.5-1-1.4-.8-.3-.6 .2-.9 .6-.6 2.7-1.6 1.2-.5ZM369.5 163l .9.2 .5.4 1 1.7 2.9 1.3 .4.9-.3.9-1.5 1.5-1.2 1.8-1.2.9-1.2.3-.6-.1-1.8-.8-2.1-.3-.9-.5-.8-1-.7-2.4 .3-1.2 .6-.8 2.4-.9 2.1-1.6 1.2-.3Z" fill="#000" fill-opacity="0.16" fill-rule="evenodd" stroke="#111" stroke-width="0.5"/><path d="M367.3 125.8l .5 0 .4.3 .1.6-.3.3-.6 0-.3-.3-.2-.6 .4-.3ZM391.9 127.6l .2.3 .3 1.5-.1 1.2-.6.4-.6.2-1.5-.3-.4-.6 .1-.6 2.6-2.1ZM408.9 130l .7 0 .3.3 0 .6-.5.4-.9 0-.4-.4 .2-.6 .6-.3ZM364.5 130.3l .5-.1 .3.7-.3.9-.6.3-.3-.3-.1-.6 .5-.9ZM408.5 137.2l .9-.2 .6.3 .5 2 0 1.8-.2 1-.5.8-1 .6-.9.1-.6-.2-.5-.8-.2-2.4 .1-.6 .9-1.6 .9-.8ZM368.6 163.6l .6-.2 .8.2 .5.6 .1.6-.1 1.2-1.2 2.1-.2.9 .7.6 1.7.6 .4.6-.4.9-.8.6-.6.2-.9-.1-1.5-.9-2.1-.1-.8-.3-.9-.9-.3-1.2-.1-1.2 .4-.9 .8-.6 2-.9 1.9-1.8ZM401.2 163.6l 1.6-.3 4.2 1.5 .9.9 .6 2.4-.1.6-.5.5-4.2.1-1 .3-.4.6 .8 1.2 .2.9-.3.9-.8.3-1.8-.6-.9-.8 0-.7 .8-1.2 .1-.6-.9-2.4-.3-.4-.9-.6-.2-.5 .8-.9 2.3-1.2ZM372.3 166.9l .5-.2 .8.2 .4.3 .1.6-.4.4-.6-.1-.7-.6-.1-.6Z" fill="#000" fill-opacity="0.2" fill-rule="evenodd" stroke="#111" stroke-width="0.5"/><path d="M408.3 139.9l .8-.2 .4.2 .4.6 0 .9-.1.6-.6.6-.7.4-.6 0-.6-.4-.3-1.2 .4-.9 .9-.6ZM368.7 164.2l .5-.1 .5.4 0 .6-.2.6-1.8 2.4-1.1 2.4-.7.3-.9-.1-.6-.5-.2-.6-.1-.9 .3-.9 .9-.8 1.9-1 1.5-1.8ZM400.6 164.8l 1-.2 .9 0 1 .5 .5.6 .1.9-.5 1.2-.7.6-1 .5-.9-.1-.7-1-.4-2.4 .7-.6Z" fill="#000" fill-opacity="0.24" fill-rule="evenodd" stroke="#111" stroke-width="0.5"/><path d="M408 141.1l .5-.2 .5.2 .1.3-.3.6-.6.2-.4-.2 0-.6 .2-.3ZM401.4 166.3l .8-.1 .4.4-.1.8-.6.5-.6 0-.3-.4 0-.6 .4-.6ZM365.3 169l .3.3-.3.3 0-.6Z" fill="#000" fill-opacity="0.28" fill-rule="evenodd" stroke="#111" stroke-width="0.5"/>
</g>
<line x1="381" y1="112.3" x2="381" y2="182.7" stroke="#3a3a3a" stroke-width="0.95"/>
<line x1="352.4" y1="155.1" x2="422.8" y2="155.1" stroke="#3a3a3a" stroke-width="0.95"/>
<rect x="352.4" y="112.3" width="70.4" height="70.4" fill="none" stroke="#000" stroke-width="1.5"/>
<path d="M352.4 113.8h-2M352.4 115.25h-2M352.4 116.7h-2M352.4 118.15h-2M352.4 119.6h-2M352.4 121.05h-2M352.4 122.5h-2M352.4 123.95h-2M352.4 125.4h-2M352.4 126.85h-2M352.4 128.3h-2M352.4 129.75h-2M352.4 131.2h-2M352.4 132.65h-2M352.4 134.1h-2M352.4 135.55h-2M352.4 137h-2M352.4 138.45h-2M352.4 139.9h-2M352.4 141.35h-2M352.4 142.8h-2M352.4 144.25h-2M352.4 145.7h-2M352.4 147.15h-2M352.4 148.6h-2M352.4 150.05h-2M352.4 151.5h-2M352.4 152.95h-2M352.4 154.4h-2M352.4 155.85h-2M352.4 157.3h-2M352.4 158.75h-2M352.4 160.2h-2M352.4 161.65h-2M352.4 163.1h-2M352.4 164.55h-2M352.4 166h-2M352.4 167.45h-2M352.4 168.9h-2M352.4 170.35h-2M352.4 171.8h-2M352.4 173.25h-2M352.4 174.7h-2M352.4 176.15h-2M352.4 177.6h-2M352.4 179.05h-2M352.4 180.5h-2M352.4 181.95h-2M353.9 182.7v2M355.35 182.7v2M356.8 182.7v2M358.25 182.7v2M359.7 182.7v2M361.15 182.7v2M362.6 182.7v2M364.05 182.7v2M365.5 182.7v2M366.95 182.7v2M368.4 182.7v2M369.85 182.7v2M371.3 182.7v2M372.75 182.7v2M374.2 182.7v2M375.65 182.7v2M377.1 182.7v2M378.55 182.7v2M380 182.7v2M381.45 182.7v2M382.9 182.7v2M384.35 182.7v2M385.8 182.7v2M387.25 182.7v2M388.7 182.7v2M390.15 182.7v2M391.6 182.7v2M393.05 182.7v2M394.5 182.7v2M395.95 182.7v2M397.4 182.7v2M398.85 182.7v2M400.3 182.7v2M401.75 182.7v2M403.2 182.7v2M404.65 182.7v2M406.1 182.7v2M407.55 182.7v2M409 182.7v2M410.45 182.7v2M411.9 182.7v2M413.35 182.7v2M414.8 182.7v2M416.25 182.7v2M417.7 182.7v2M419.15 182.7v2M420.6 182.7v2M422.05 182.7v2" stroke="#111" stroke-width="0.55"/>
<text x="348.5" y="122" font-size="6" text-anchor="end" fill="#111" stroke="#111" stroke-width="0.18">10<tspan font-size="4.4" dy="-2.6">5</tspan></text>
<text x="348.5" y="137.9" font-size="6" text-anchor="end" fill="#111" stroke="#111" stroke-width="0.18">10<tspan font-size="4.4" dy="-2.6">4</tspan></text>
<text x="348.5" y="156.7" font-size="6" text-anchor="end" fill="#111" stroke="#111" stroke-width="0.18">10<tspan font-size="4.4" dy="-2.6">3</tspan></text>
<text x="349.2" y="169.5" font-size="6" text-anchor="end" fill="#111" stroke="#111" stroke-width="0.18">0</text>
<text x="368.2" y="194.3" font-size="6" text-anchor="middle" fill="#111" stroke="#111" stroke-width="0.18">0</text>
<text x="380.2" y="194.3" font-size="6" text-anchor="middle" fill="#111" stroke="#111" stroke-width="0.18">10</text>
<text x="384.3" y="191.8" font-size="4.4" fill="#111" stroke="#111" stroke-width="0.18">3</text>
<text x="399.3" y="194.3" font-size="6" text-anchor="middle" fill="#111" stroke="#111" stroke-width="0.18">10</text>
<text x="403.4" y="191.8" font-size="4.4" fill="#111" stroke="#111" stroke-width="0.18">4</text>
<text x="415.4" y="194.3" font-size="6" text-anchor="middle" fill="#111" stroke="#111" stroke-width="0.18">10</text>
<text x="419.5" y="191.8" font-size="4.4" fill="#111" stroke="#111" stroke-width="0.18">5</text>
<text x="353.6" y="118.9" font-size="5.9" text-anchor="start" font-weight="normal" fill="#111" >26.2</text>
<text x="421.6" y="118.9" font-size="5.9" text-anchor="end" font-weight="normal" fill="#111" >54.4</text>
<text x="353.6" y="181.1" font-size="5.9" text-anchor="start" font-weight="normal" fill="#111" >7.58</text>
<text x="421.6" y="181.1" font-size="5.9" text-anchor="end" font-weight="normal" fill="#111" >11.8</text>
<g clip-path="url(#c8)">
<path d="M67.4 241.7h.6M47.3 241.0h.6M49.1 228.2h.6M43.7 253.5h.6M48.5 237.2h.6M47.7 238.3h.6M50.5 234.5h.6M44.2 227.5h.6M47.2 239.4h.6M65.6 244.8h.6M63.9 240.8h.6M51.5 228.1h.6M52.1 222.4h.6M50.2 248.8h.6M54.3 245.3h.6M49.6 227.8h.6M49.0 234.7h.6M60.0 251.3h.6M47.3 234.9h.6M51.2 235.0h.6M44.1 238.1h.6M54.5 240.2h.6M44.3 236.7h.6M45.5 235.6h.6M49.3 233.4h.6M45.3 225.1h.6M63.4 239.3h.6M53.9 252.2h.6M51.5 241.4h.6M52.3 245.8h.6M55.5 239.7h.6M50.5 239.5h.6M59.8 223.0h.6M51.4 234.6h.6M50.3 223.7h.6M57.0 231.6h.6M50.7 234.0h.6M41.4 234.4h.6M50.2 237.5h.6M52.6 236.6h.6M66.1 240.6h.6M44.3 233.2h.6M47.9 236.3h.6M48.3 231.5h.6M62.9 237.8h.6M50.0 235.8h.6M50.8 247.3h.6M55.3 245.4h.6M59.1 251.4h.6M52.4 225.5h.6M56.1 233.4h.6M59.1 246.0h.6M56.9 230.2h.6M68.6 229.4h.6M51.7 227.4h.6M60.8 240.7h.6M58.0 238.2h.6M51.8 238.8h.6M58.2 234.8h.6M52.2 239.7h.6M62.5 240.6h.6M52.5 234.0h.6M42.5 233.4h.6M52.7 235.8h.6M52.8 242.8h.6M55.1 239.5h.6M56.6 238.9h.6M52.1 240.9h.6M43.9 243.5h.6M52.4 245.4h.6M52.5 231.0h.6M59.3 238.9h.6M53.1 238.2h.6M58.8 243.4h.6M53.8 226.8h.6M49.7 238.4h.6M64.0 240.4h.6M51.7 246.0h.6M51.6 237.5h.6M53.4 227.2h.6M58.6 240.7h.6M50.5 229.7h.6M53.7 247.5h.6M48.2 230.3h.6M55.1 226.5h.6M47.9 235.8h.6M48.8 240.0h.6M50.9 233.5h.6M49.4 242.1h.6M58.6 244.0h.6M56.9 214.6h.6M45.9 235.5h.6M53.7 226.4h.6M61.6 239.8h.6M48.3 238.9h.6M50.1 232.4h.6M55.7 234.5h.6M43.2 233.3h.6M51.6 230.2h.6M60.6 230.1h.6M63.8 244.0h.6M46.3 238.6h.6M60.1 236.4h.6M44.7 238.5h.6M65.3 227.3h.6M56.0 237.8h.6M51.7 235.0h.6M50.4 245.0h.6M56.3 230.8h.6M62.6 228.7h.6M56.8 239.1h.6M60.2 240.3h.6M59.3 237.6h.6M58.8 240.2h.6M66.4 232.9h.6M60.2 241.1h.6M53.6 233.8h.6M55.4 227.5h.6M43.6 242.8h.6M42.4 247.9h.6M50.7 239.6h.6M53.0 240.8h.6M50.7 235.2h.6M51.7 245.2h.6M59.9 246.7h.6M54.9 236.4h.6M41.6 242.3h.6M58.0 235.0h.6M57.7 246.9h.6M53.1 245.2h.6M54.5 225.7h.6M49.4 235.0h.6M55.9 231.8h.6M49.6 231.1h.6M52.2 238.3h.6M58.8 243.4h.6M53.6 239.5h.6M53.2 238.6h.6M62.6 220.4h.6M51.4 240.0h.6M59.8 230.2h.6M54.8 243.9h.6M49.6 224.5h.6M50.2 229.4h.6M56.7 231.9h.6M64.1 238.8h.6M47.3 234.3h.6M45.4 240.6h.6M62.2 236.3h.6M58.5 231.2h.6M54.5 254.0h.6M43.4 246.5h.6M60.1 224.7h.6M43.2 231.0h.6M58.8 234.8h.6M51.4 242.8h.6M53.3 239.4h.6M50.4 245.7h.6M47.4 249.6h.6M50.3 232.2h.6M56.7 241.0h.6M43.7 232.0h.6M57.6 231.8h.6M54.8 235.2h.6M65.0 237.1h.6M44.8 230.1h.6M46.6 238.7h.6M52.4 244.6h.6M53.5 238.7h.6M54.6 236.9h.6M54.3 243.3h.6M57.5 233.9h.6M54.3 220.3h.6M49.3 240.9h.6M48.7 229.9h.6M63.8 247.4h.6M50.7 247.0h.6M60.8 229.8h.6M69.8 231.2h.6M50.7 230.0h.6M52.9 228.5h.6M52.3 245.3h.6M53.8 235.8h.6M62.4 231.4h.6M58.6 235.6h.6M53.8 237.9h.6M53.2 237.3h.6M47.3 233.7h.6M55.2 236.9h.6M44.8 232.7h.6M47.8 237.2h.6M53.5 238.3h.6M48.0 237.7h.6M43.4 217.4h.6M51.9 226.0h.6M46.1 229.1h.6M56.3 229.1h.6M54.0 234.1h.6M44.2 226.5h.6M55.2 240.2h.6M57.2 250.3h.6M53.9 239.4h.6M51.4 238.2h.6M49.9 231.2h.6M65.1 224.4h.6M53.8 240.5h.6M53.1 230.7h.6M50.8 234.2h.6M45.1 237.1h.6M49.4 233.5h.6M56.5 229.9h.6M54.9 233.1h.6M54.8 237.8h.6M53.6 230.5h.6M47.0 231.3h.6M53.1 242.5h.6M59.0 233.8h.6M52.5 226.0h.6M47.6 226.4h.6M46.7 225.5h.6M67.0 238.4h.6M49.8 241.9h.6M47.0 248.3h.6M41.9 228.0h.6M51.0 231.8h.6M61.0 226.0h.6M47.1 238.8h.6M55.5 244.1h.6M54.1 252.5h.6M48.7 238.3h.6M57.4 234.9h.6M49.9 233.8h.6M47.6 229.2h.6M48.2 226.2h.6M54.2 225.9h.6M65.1 248.9h.6M58.9 235.5h.6M47.9 245.5h.6M52.9 240.9h.6M47.1 244.4h.6M46.5 237.7h.6M54.9 233.8h.6M48.8 242.5h.6M51.2 245.6h.6M55.0 226.2h.6M43.3 243.1h.6M44.8 232.5h.6M55.5 234.6h.6M54.8 230.9h.6M53.6 244.5h.6M53.8 221.6h.6M55.9 237.3h.6M45.8 246.6h.6M47.6 247.9h.6M51.4 227.7h.6M52.3 239.2h.6M55.2 244.3h.6M45.8 240.4h.6M56.4 235.0h.6M45.6 230.3h.6M56.5 242.5h.6M46.3 227.6h.6M59.7 226.1h.6M52.7 231.3h.6M50.4 246.9h.6M66.3 235.6h.6M58.3 244.2h.6M48.3 230.9h.6M62.1 234.4h.6M51.5 234.9h.6M50.8 232.7h.6M56.5 245.7h.6M49.2 227.3h.6M52.0 226.5h.6M47.5 245.5h.6M66.7 239.5h.6M44.7 242.3h.6M61.5 242.1h.6M42.7 225.3h.6M57.2 236.6h.6M47.8 239.8h.6M47.9 223.5h.6M56.9 232.4h.6M45.1 227.6h.6M53.3 231.3h.6M55.7 235.0h.6M58.6 234.2h.6M47.4 223.2h.6M44.5 241.9h.6M71.4 228.2h.6M44.9 239.3h.6M54.7 232.2h.6M52.1 225.7h.6M49.7 243.2h.6M62.2 235.7h.6M50.0 240.1h.6M58.8 240.3h.6M46.8 239.4h.6M57.9 232.0h.6M43.0 240.5h.6M54.0 243.7h.6M52.2 232.4h.6M48.8 229.8h.6M45.5 233.0h.6M48.5 244.7h.6M43.7 236.6h.6M47.9 247.3h.6M53.4 234.3h.6M56.9 237.4h.6M48.6 247.6h.6M56.3 249.0h.6M59.2 242.4h.6M52.5 229.4h.6M56.3 237.5h.6M56.1 236.9h.6M47.2 230.0h.6M56.2 246.0h.6M49.8 240.2h.6M60.7 231.2h.6M49.5 229.2h.6M59.3 238.8h.6M48.7 225.5h.6M50.6 243.9h.6M49.8 234.1h.6M55.9 228.4h.6M52.1 241.2h.6M46.7 231.3h.6M53.3 236.3h.6M50.2 238.5h.6M53.2 230.6h.6M47.4 240.2h.6M59.0 246.4h.6M46.3 244.6h.6M56.7 236.8h.6M54.9 242.8h.6M63.3 229.7h.6M55.6 236.1h.6M50.4 245.0h.6M57.1 230.0h.6M50.0 238.6h.6M42.7 243.1h.6M51.3 238.2h.6M54.0 249.6h.6M52.0 234.6h.6M63.0 233.6h.6M48.4 227.5h.6M58.8 239.0h.6M54.8 238.2h.6M50.9 231.6h.6M46.8 240.1h.6M52.6 248.4h.6M46.9 233.7h.6M45.2 246.6h.6M43.9 242.4h.6M61.1 236.1h.6M56.5 222.4h.6M49.3 225.6h.6M52.9 237.2h.6M46.9 243.6h.6M54.1 233.5h.6M48.5 226.9h.6M50.6 251.8h.6M47.3 240.0h.6M48.3 242.7h.6M54.7 235.5h.6M59.5 235.4h.6M55.9 233.8h.6M53.9 233.1h.6M49.5 239.1h.6M48.0 239.5h.6M50.5 220.8h.6M50.9 233.0h.6M46.5 239.9h.6M48.7 240.9h.6M58.9 238.1h.6M41.9 232.1h.6M57.7 235.4h.6M46.7 236.5h.6M55.1 238.9h.6M56.0 231.4h.6M50.1 235.4h.6M51.7 222.7h.6M50.3 227.9h.6M60.8 247.9h.6M62.7 242.8h.6M48.8 243.8h.6M50.6 241.4h.6M46.1 233.1h.6M54.9 249.4h.6M51.7 252.8h.6M69.6 228.3h.6M51.7 230.6h.6M51.0 233.5h.6M51.5 243.9h.6M57.9 239.0h.6M51.9 238.0h.6M52.7 241.2h.6M51.9 240.7h.6M43.5 242.7h.6M63.1 238.5h.6M42.8 246.5h.6M49.8 216.5h.6M50.5 241.4h.6M54.4 245.8h.6M55.9 238.1h.6M53.1 241.9h.6M45.3 233.0h.6M54.9 224.0h.6M53.5 233.9h.6M43.4 241.7h.6M51.3 239.0h.6M56.0 233.6h.6M57.2 245.8h.6M54.5 246.4h.6M47.9 243.6h.6M53.7 230.4h.6M51.4 233.5h.6M48.4 237.8h.6M58.8 235.0h.6M52.7 227.0h.6M52.6 245.2h.6M57.1 240.5h.6M48.5 230.5h.6M51.3 227.9h.6M44.0 243.8h.6M46.0 249.7h.6M42.7 240.2h.6M44.4 238.4h.6M45.2 237.5h.6M50.9 234.1h.6M55.2 247.7h.6M48.1 243.4h.6M52.5 237.0h.6M66.0 222.2h.6M47.5 224.7h.6M49.9 235.6h.6M76.5 239.6h.6M63.5 246.2h.6M49.1 240.5h.6M62.7 238.4h.6M53.3 240.7h.6M42.2 231.6h.6M54.1 241.0h.6M46.0 235.0h.6M51.1 236.2h.6M56.4 238.0h.6M53.0 227.4h.6M45.1 239.4h.6M41.6 239.1h.6M47.7 231.6h.6M56.1 232.5h.6M46.4 232.5h.6M52.3 256.3h.6M50.3 243.8h.6M49.5 220.0h.6M60.4 229.6h.6M51.5 227.7h.6M44.8 233.7h.6M57.4 243.0h.6M48.0 240.6h.6M49.4 237.9h.6M52.8 241.4h.6M47.9 236.2h.6M53.2 237.7h.6M46.7 249.1h.6M48.9 242.4h.6M53.1 245.6h.6M50.4 228.5h.6M52.7 252.8h.6M55.1 228.5h.6M48.8 246.4h.6M42.7 235.8h.6M49.9 252.2h.6M49.9 246.2h.6M47.4 231.5h.6M58.3 241.4h.6M56.0 232.8h.6M53.2 239.0h.6M48.7 233.0h.6M47.5 235.2h.6M43.2 236.8h.6M42.1 237.6h.6M51.2 229.9h.6M57.3 250.5h.6M60.3 227.6h.6M60.0 238.6h.6M51.4 232.9h.6M51.7 246.7h.6M55.3 234.2h.6M47.5 234.2h.6M55.6 250.0h.6M45.0 237.0h.6M49.3 231.8h.6M54.3 240.9h.6M42.6 229.9h.6M59.5 239.3h.6M55.1 233.6h.6M49.3 240.2h.6M48.6 229.4h.6M51.8 243.3h.6M45.1 244.4h.6M56.3 231.1h.6M51.8 236.8h.6M55.9 241.7h.6M43.4 227.7h.6M58.4 237.8h.6M54.5 239.4h.6M61.6 228.7h.6M58.8 231.4h.6M56.5 246.4h.6M42.9 239.9h.6M50.0 235.0h.6M52.1 229.8h.6M45.6 241.6h.6M57.2 233.1h.6M42.4 253.1h.6M58.8 239.6h.6M45.2 233.0h.6M53.3 230.4h.6M62.1 238.0h.6M54.3 229.9h.6M46.0 231.6h.6M53.6 235.2h.6M49.9 239.2h.6M53.2 247.3h.6M50.5 230.1h.6M51.7 247.2h.6M48.2 237.4h.6M49.5 239.9h.6M53.4 231.5h.6M50.3 243.6h.6M58.8 243.4h.6M57.3 234.8h.6M49.5 243.5h.6M44.3 236.7h.6M47.3 228.8h.6M55.5 232.0h.6M49.4 235.3h.6M47.1 246.9h.6M48.6 238.4h.6M43.4 233.8h.6M49.7 235.0h.6M48.1 238.1h.6M61.7 236.2h.6M50.9 234.4h.6M68.0 248.2h.6M55.3 241.9h.6M47.3 236.0h.6M53.1 237.9h.6M46.3 231.7h.6M55.1 239.2h.6M59.9 232.6h.6M53.3 227.1h.6M57.1 229.4h.6M43.8 234.9h.6M66.9 232.9h.6M43.8 240.3h.6M53.3 248.5h.6M43.7 226.1h.6M49.8 239.7h.6M54.1 244.5h.6M42.3 231.4h.6M51.0 242.9h.6M54.8 234.2h.6M45.3 243.1h.6M57.9 255.7h.6M50.7 248.2h.6M44.1 233.4h.6M47.5 233.9h.6M46.2 233.4h.6M51.5 234.0h.6M56.0 236.5h.6M51.8 247.2h.6M53.8 238.2h.6M51.7 237.5h.6M55.5 231.6h.6M59.1 247.9h.6M59.2 233.7h.6M41.7 234.1h.6M52.8 242.8h.6M50.6 235.0h.6M61.5 232.5h.6M58.6 243.3h.6M43.3 239.0h.6M48.3 230.6h.6M54.5 234.4h.6M53.5 229.8h.6M49.8 235.2h.6M42.0 225.7h.6M54.6 238.1h.6M45.9 236.4h.6M56.0 249.7h.6M46.2 241.3h.6M65.3 237.5h.6M61.2 219.4h.6M61.0 237.0h.6M58.5 245.4h.6M59.5 236.9h.6M47.0 233.9h.6M51.6 239.9h.6M48.7 237.4h.6M57.4 239.3h.6M66.4 251.9h.6M44.5 233.2h.6M43.5 229.1h.6M55.3 230.3h.6M45.1 235.2h.6M56.9 234.7h.6M49.5 243.4h.6M54.8 240.2h.6M57.9 230.1h.6M53.2 232.7h.6M58.4 242.7h.6M45.1 246.3h.6M44.3 245.1h.6M53.1 231.1h.6M44.7 235.0h.6M51.7 232.2h.6M55.4 227.5h.6M51.8 237.1h.6M43.7 219.9h.6M47.9 235.5h.6M57.6 233.7h.6M61.2 247.0h.6M58.8 246.2h.6M54.0 233.3h.6M56.0 243.8h.6M53.3 235.4h.6M41.8 241.8h.6M54.1 228.1h.6M52.4 242.1h.6M51.1 242.5h.6M56.6 226.9h.6M49.9 240.4h.6M57.7 246.8h.6M56.4 245.5h.6M62.6 230.6h.6M49.4 229.8h.6M57.1 227.9h.6M59.4 243.6h.6M54.9 222.1h.6M47.5 242.3h.6M42.7 235.4h.6M51.1 243.2h.6M53.6 239.0h.6M49.0 237.1h.6M50.9 242.1h.6M50.6 244.2h.6M50.7 244.9h.6M52.3 243.0h.6M61.4 233.2h.6M52.3 235.9h.6M53.1 225.9h.6M50.7 235.4h.6M46.7 235.7h.6M41.9 246.7h.6M54.7 250.1h.6M46.2 229.0h.6M53.6 225.5h.6M53.2 232.2h.6M49.6 238.8h.6M52.1 249.9h.6M55.8 228.1h.6M58.1 227.8h.6M52.3 228.4h.6M46.5 246.1h.6M48.2 232.6h.6M48.2 234.9h.6M61.0 228.9h.6M43.8 241.1h.6M41.5 234.5h.6M59.0 237.0h.6M48.7 232.1h.6M45.9 232.9h.6M52.6 245.6h.6M57.9 233.1h.6M47.0 241.8h.6M49.6 229.3h.6M45.3 239.4h.6M47.5 237.5h.6M42.9 244.4h.6M49.7 235.1h.6M49.3 232.3h.6M45.3 244.8h.6M52.9 236.1h.6M58.0 232.0h.6M55.6 237.0h.6M45.9 242.1h.6M42.0 241.3h.6M45.9 239.7h.6M60.4 240.7h.6M47.7 236.6h.6M49.2 228.7h.6M44.4 237.1h.6M55.0 224.6h.6M51.0 240.3h.6M52.2 229.8h.6M58.1 228.4h.6M55.6 247.8h.6M53.5 238.3h.6M46.5 234.6h.6M42.5 237.6h.6M54.9 232.1h.6M45.5 233.4h.6M51.4 237.1h.6M50.7 237.1h.6M43.0 217.9h.6M55.3 246.4h.6M42.4 232.1h.6M53.3 243.2h.6M55.5 245.4h.6M51.0 239.5h.6M54.0 233.7h.6M59.0 240.9h.6M57.6 233.9h.6M57.9 229.4h.6" stroke="#333333" stroke-width="0.6" stroke-opacity="1.0"/>
<path d="M75.6 249.0h.6M63.2 265.4h.6M68.1 262.7h.6M57.8 269.4h.6M77.4 261.7h.6M75.8 263.4h.6M84.6 262.9h.6M59.1 260.6h.6M83.4 264.6h.6M68.4 264.8h.6M73.1 264.8h.6M58.1 257.4h.6M78.0 260.7h.6M75.2 271.4h.6M69.4 263.0h.6M67.2 258.7h.6M71.4 254.7h.6M53.6 268.5h.6M71.2 267.3h.6M73.2 262.5h.6M78.0 265.3h.6M61.5 267.7h.6M63.6 262.8h.6M94.6 262.2h.6M86.8 260.1h.6M77.5 262.1h.6M75.8 257.6h.6M64.0 263.4h.6M58.4 257.7h.6M77.8 258.8h.6M64.3 256.4h.6M73.4 260.0h.6M73.4 260.9h.6M88.4 259.7h.6M54.9 262.4h.6M72.1 262.6h.6M58.0 267.3h.6M71.8 261.6h.6M58.2 264.1h.6M71.5 268.4h.6M68.5 255.8h.6M73.2 257.4h.6M75.8 256.5h.6M71.0 260.7h.6M71.8 259.3h.6M65.0 261.5h.6M67.0 262.6h.6M69.7 250.9h.6M71.6 268.6h.6M74.8 264.7h.6M76.1 259.5h.6M60.5 265.7h.6M81.3 264.6h.6M75.8 263.7h.6M71.9 263.1h.6M72.2 263.4h.6M63.9 258.8h.6M77.1 260.2h.6M51.1 262.4h.6M52.3 271.0h.6M78.4 265.1h.6M66.4 256.4h.6M70.3 261.9h.6M65.5 262.6h.6M78.1 264.7h.6M63.2 251.4h.6M72.2 258.7h.6M76.0 269.7h.6M86.4 263.2h.6M81.8 269.7h.6M72.6 263.2h.6M79.6 261.7h.6M67.9 258.3h.6M72.3 258.9h.6M79.1 260.3h.6M84.8 267.7h.6M61.6 267.1h.6M68.8 268.4h.6M76.7 261.7h.6M78.1 259.2h.6M75.1 263.8h.6M71.0 263.8h.6M63.7 264.6h.6M61.9 264.9h.6M76.4 265.3h.6M70.4 262.7h.6M65.9 268.8h.6M68.4 266.7h.6M64.3 263.5h.6M69.3 266.4h.6M70.0 257.9h.6M76.3 256.3h.6M64.3 265.7h.6M56.5 265.6h.6M69.1 257.7h.6M74.6 265.0h.6M67.6 261.2h.6M79.4 265.6h.6M72.1 258.4h.6M64.5 259.3h.6M78.4 264.8h.6M75.2 268.7h.6M70.1 260.3h.6M69.4 271.1h.6M55.2 263.5h.6M76.5 262.4h.6M92.5 267.7h.6M79.3 257.9h.6M77.0 260.4h.6M73.1 263.1h.6M68.7 265.1h.6M86.6 267.1h.6M74.6 253.1h.6M82.0 267.3h.6M71.2 260.0h.6M78.4 258.4h.6M79.6 257.1h.6M65.1 262.3h.6M60.5 262.2h.6M77.4 256.0h.6M80.7 259.6h.6M77.5 263.2h.6M69.0 259.8h.6M58.5 259.0h.6M66.4 270.0h.6M81.5 255.8h.6M79.7 263.3h.6M69.7 264.4h.6M79.6 259.6h.6M70.6 263.0h.6M64.6 263.1h.6M72.3 259.1h.6M65.9 263.7h.6M80.3 263.8h.6M65.7 265.8h.6M74.4 265.1h.6M82.8 258.1h.6M71.8 259.5h.6M80.9 254.0h.6M76.6 259.7h.6M82.6 262.7h.6M71.5 263.0h.6M76.2 262.4h.6M71.1 261.6h.6M77.3 257.0h.6M73.0 261.7h.6M68.9 265.7h.6M62.1 260.6h.6M65.8 264.8h.6M69.1 262.5h.6M76.2 254.8h.6M76.8 258.8h.6M70.9 261.8h.6M79.8 265.7h.6M87.8 263.1h.6M69.0 260.0h.6M78.5 269.8h.6M75.9 259.6h.6M75.3 263.5h.6M73.3 258.8h.6M51.7 259.8h.6M81.8 263.3h.6M54.4 262.3h.6M57.5 271.6h.6M74.6 256.7h.6M79.7 258.6h.6M77.7 262.4h.6M63.1 265.4h.6M61.7 268.6h.6M73.5 257.5h.6M57.8 269.8h.6M85.2 256.4h.6M86.8 263.1h.6M71.1 261.9h.6M70.7 269.0h.6M74.3 253.7h.6M90.6 266.4h.6M63.8 260.6h.6M65.4 262.5h.6M76.3 263.4h.6M68.0 258.6h.6M80.1 261.8h.6M91.9 258.5h.6M79.6 262.5h.6M66.6 268.7h.6M74.0 258.1h.6M70.3 267.1h.6M62.7 268.7h.6M78.8 261.0h.6M84.4 270.5h.6M78.0 263.1h.6M88.5 269.3h.6M65.2 261.3h.6M71.2 260.4h.6M60.4 266.5h.6M73.7 262.8h.6M84.9 259.7h.6M72.5 263.6h.6M69.4 261.8h.6M79.5 262.3h.6M84.2 258.8h.6M74.7 255.6h.6M72.0 259.0h.6M84.5 265.8h.6M77.3 271.0h.6M85.2 265.7h.6M67.2 255.5h.6M72.7 260.6h.6M67.5 260.9h.6M59.0 269.3h.6M63.3 259.1h.6M77.8 254.6h.6M80.8 266.7h.6M70.3 257.2h.6M69.0 253.6h.6M84.8 262.6h.6M66.7 258.0h.6M77.9 269.4h.6M62.2 259.6h.6M58.0 265.5h.6M72.0 260.2h.6M67.0 266.3h.6M59.1 265.8h.6M75.1 259.9h.6M65.3 267.3h.6M88.9 260.2h.6M77.5 270.6h.6M67.7 261.1h.6M62.6 261.6h.6M72.3 260.3h.6M66.7 254.8h.6M61.5 257.7h.6M78.5 259.9h.6M65.7 265.4h.6M77.8 258.7h.6M67.6 265.4h.6M76.1 258.3h.6M75.1 262.2h.6M82.5 258.2h.6M80.6 264.4h.6M64.4 267.3h.6M80.8 256.0h.6M90.0 256.8h.6M65.1 260.8h.6M79.6 265.1h.6M72.2 268.8h.6M76.5 269.0h.6M97.2 263.2h.6M50.8 260.1h.6M63.7 262.7h.6M73.8 256.4h.6M63.0 261.0h.6M71.3 249.8h.6M81.4 262.4h.6M72.9 263.7h.6M64.1 262.1h.6M82.0 267.5h.6M77.0 261.0h.6M65.9 268.7h.6M77.6 260.3h.6M54.1 258.1h.6M56.2 268.3h.6M74.6 258.7h.6M83.6 255.8h.6M71.9 256.3h.6M57.9 263.1h.6M94.2 269.9h.6M73.4 260.5h.6M74.8 267.4h.6M60.1 253.1h.6M89.6 263.7h.6M87.2 263.5h.6M86.1 259.3h.6M77.4 269.9h.6M82.0 260.0h.6M80.9 259.0h.6M60.3 264.9h.6M85.4 266.5h.6M61.8 266.6h.6M79.0 260.0h.6M50.9 267.3h.6M80.9 264.8h.6M57.6 254.9h.6M82.0 266.3h.6M77.4 261.1h.6M76.5 259.6h.6M70.2 258.0h.6M75.3 260.2h.6M81.5 265.9h.6M65.7 271.4h.6M63.0 264.5h.6M82.7 268.7h.6M53.2 267.3h.6M83.9 269.5h.6M53.0 258.9h.6M72.1 260.1h.6M85.0 258.9h.6M84.0 265.1h.6M59.9 257.3h.6M68.8 262.8h.6M81.9 261.4h.6M81.2 254.4h.6M45.6 260.6h.6M77.1 260.5h.6M63.9 264.4h.6M90.4 261.8h.6M66.5 258.1h.6M90.7 262.1h.6M78.5 268.4h.6M82.7 257.7h.6M81.6 266.5h.6M77.4 267.3h.6M67.9 261.9h.6M68.3 266.1h.6M67.1 264.3h.6M63.2 261.7h.6M69.7 261.7h.6M74.2 261.4h.6M71.0 251.9h.6M82.9 259.2h.6M70.8 258.2h.6M82.0 257.8h.6M77.5 268.2h.6M87.8 268.2h.6M78.6 256.3h.6M84.6 268.2h.6M80.6 266.3h.6M73.7 259.7h.6M82.8 268.7h.6M63.7 266.9h.6M75.3 266.8h.6M75.5 267.9h.6M82.3 266.8h.6M60.7 266.5h.6M73.6 256.8h.6M79.5 255.6h.6M81.1 270.8h.6M68.6 267.0h.6M77.2 265.6h.6M61.1 265.4h.6M74.4 266.1h.6M73.3 267.8h.6M75.6 265.8h.6M85.4 263.3h.6M82.1 263.6h.6M77.9 259.8h.6M80.2 268.5h.6M72.5 266.4h.6M77.1 257.0h.6M76.4 269.0h.6M69.0 253.7h.6M75.1 259.3h.6M90.1 262.3h.6M73.3 259.4h.6M75.5 259.7h.6M65.3 262.2h.6M66.1 269.0h.6M63.0 262.1h.6M67.2 255.7h.6M88.0 252.1h.6M86.2 255.5h.6M54.5 255.7h.6M84.9 263.3h.6M68.5 262.3h.6M64.8 263.1h.6M86.5 260.6h.6M74.5 268.4h.6M90.9 259.6h.6M76.0 259.7h.6M67.6 260.5h.6M67.7 254.0h.6M55.8 258.9h.6M74.5 268.4h.6M68.6 261.7h.6M79.1 266.1h.6M72.3 262.2h.6M89.8 260.8h.6M69.0 254.5h.6M77.1 261.2h.6M90.1 260.8h.6M80.5 267.0h.6M87.8 256.1h.6M87.1 262.5h.6M72.4 261.0h.6M69.8 260.8h.6M52.8 265.0h.6M73.9 257.8h.6M76.7 260.6h.6M88.4 258.6h.6M72.0 259.8h.6M71.2 266.0h.6M78.4 258.9h.6M72.2 262.9h.6M69.7 262.3h.6M67.0 258.9h.6M73.7 257.4h.6M77.0 261.5h.6M65.2 259.5h.6M69.1 261.7h.6M74.3 261.4h.6M65.7 269.4h.6M81.2 263.0h.6M81.6 264.0h.6M71.0 262.9h.6M96.6 267.3h.6M82.4 260.5h.6M77.0 267.7h.6M84.3 265.6h.6M87.0 263.6h.6M77.6 259.4h.6M96.3 263.9h.6M74.2 269.2h.6M69.0 262.4h.6M66.4 262.6h.6M69.9 265.1h.6M72.1 259.5h.6M70.7 261.9h.6M68.8 267.0h.6M79.1 263.1h.6M62.9 264.9h.6M62.1 263.3h.6M73.7 259.6h.6M66.0 259.1h.6M91.1 261.2h.6M71.4 267.1h.6M76.9 267.5h.6M62.6 257.2h.6M102.2 262.2h.6M70.7 263.2h.6M81.9 256.7h.6M75.7 262.3h.6M79.1 263.3h.6M68.6 258.3h.6M52.1 267.2h.6M60.5 260.5h.6M87.7 260.4h.6M78.5 261.4h.6M79.3 262.6h.6M68.8 268.9h.6M70.9 256.0h.6M70.4 265.0h.6M63.6 266.2h.6M67.7 265.6h.6M58.8 260.4h.6M74.1 264.4h.6M72.8 262.0h.6M67.9 260.3h.6M75.9 265.1h.6M78.8 267.2h.6M83.5 253.8h.6M68.7 261.7h.6M67.7 267.5h.6M79.7 261.9h.6M74.3 268.5h.6M70.2 260.9h.6M81.1 264.7h.6M85.5 264.2h.6M79.7 259.8h.6M65.1 262.4h.6M50.3 264.4h.6M81.6 262.8h.6M71.3 267.6h.6M72.9 267.1h.6M92.1 265.9h.6M81.3 264.8h.6M75.4 263.8h.6M73.8 267.6h.6M59.3 261.2h.6M78.9 258.4h.6M72.3 259.1h.6M77.0 266.6h.6M85.8 264.8h.6M67.1 263.6h.6M78.1 269.2h.6M54.8 264.2h.6M57.5 265.9h.6M77.1 264.8h.6M80.9 264.3h.6M67.7 264.1h.6M83.6 261.9h.6M73.5 256.6h.6M83.2 260.0h.6M66.9 260.3h.6M65.8 261.2h.6M84.2 266.2h.6M85.5 269.5h.6M65.5 264.7h.6M61.1 255.6h.6M77.3 260.8h.6M64.7 264.2h.6M66.5 251.6h.6M73.0 263.0h.6M78.7 266.9h.6M74.8 261.3h.6M67.5 254.6h.6M69.4 267.2h.6M71.9 253.9h.6M80.3 267.4h.6M63.2 254.7h.6M74.5 265.8h.6M63.6 260.8h.6M66.5 256.8h.6M61.9 263.1h.6M70.0 259.2h.6M50.8 270.7h.6M65.1 261.7h.6M63.4 264.2h.6M60.2 262.8h.6M71.5 266.8h.6M63.7 259.3h.6M60.5 263.8h.6M67.5 263.9h.6M78.7 263.0h.6M75.4 263.7h.6M68.1 261.3h.6M58.9 260.7h.6M66.5 261.1h.6M79.4 264.2h.6M77.1 267.6h.6M52.6 264.4h.6M72.9 261.9h.6M61.8 265.0h.6M82.9 267.2h.6M72.3 265.4h.6M81.0 271.0h.6M83.6 263.0h.6M73.9 263.1h.6M75.0 260.0h.6M79.7 259.0h.6M66.2 264.0h.6M68.1 261.2h.6M55.2 266.1h.6M73.0 261.7h.6M77.0 263.3h.6M69.2 267.0h.6M88.7 259.4h.6M73.8 258.4h.6M82.0 260.7h.6M63.6 268.6h.6M80.9 258.1h.6M83.2 263.2h.6M96.3 270.5h.6M68.3 261.0h.6M65.5 262.9h.6M73.4 265.8h.6M73.8 255.3h.6M66.0 269.1h.6M82.9 261.5h.6M71.8 261.5h.6M73.2 254.3h.6M80.7 259.2h.6M74.3 250.2h.6M75.0 268.7h.6M53.8 269.6h.6M77.1 258.8h.6M59.4 267.9h.6M75.2 265.1h.6M70.7 258.5h.6M80.5 257.7h.6M80.7 254.3h.6M65.0 255.4h.6M84.3 253.9h.6M63.2 265.5h.6M88.8 265.2h.6M78.9 253.6h.6M65.4 260.7h.6M71.5 255.7h.6M65.0 258.2h.6M82.1 264.3h.6M70.1 261.0h.6M75.5 259.0h.6M70.7 254.1h.6M78.8 266.9h.6M76.1 264.6h.6M74.7 256.0h.6M64.0 265.7h.6M82.2 266.0h.6M80.2 263.2h.6M60.2 258.9h.6M57.4 260.4h.6M61.2 262.8h.6M71.5 253.0h.6M79.3 265.9h.6M61.0 263.0h.6M79.2 260.9h.6M80.3 263.2h.6M82.2 263.2h.6M71.5 264.7h.6M79.7 263.5h.6M69.0 258.5h.6M69.7 259.5h.6M74.7 263.1h.6M72.2 262.2h.6M74.4 269.8h.6M83.3 259.5h.6M76.5 260.7h.6M72.0 261.1h.6M67.5 255.7h.6M51.5 263.2h.6M83.1 257.9h.6M77.2 260.4h.6M75.3 258.3h.6M70.8 261.7h.6M52.2 263.3h.6M71.6 250.2h.6M78.5 262.0h.6M74.6 263.9h.6M69.2 257.0h.6M68.9 260.1h.6M92.1 271.1h.6M68.6 260.2h.6M75.6 264.9h.6M66.8 257.3h.6M89.6 267.3h.6M59.2 253.6h.6M65.6 263.2h.6M77.5 260.5h.6M58.7 263.2h.6M78.0 262.2h.6M68.4 264.9h.6M72.3 256.7h.6M73.6 255.9h.6M81.2 264.4h.6M64.0 263.2h.6M83.7 251.7h.6M71.5 270.2h.6M59.1 261.3h.6M60.3 261.8h.6M51.7 254.2h.6M68.0 262.8h.6M76.0 264.2h.6M82.8 265.6h.6M79.2 257.4h.6M92.7 266.2h.6M79.2 267.0h.6M69.4 261.7h.6M91.9 252.0h.6M75.9 253.7h.6M67.0 261.7h.6M69.6 263.0h.6M65.9 261.6h.6M62.2 260.2h.6M60.5 265.4h.6M61.3 265.6h.6M69.1 260.7h.6M83.2 262.7h.6M55.9 264.6h.6M47.0 263.5h.6M69.2 255.2h.6M73.4 260.6h.6M90.6 260.0h.6M90.0 269.0h.6M67.3 258.1h.6M84.5 261.5h.6M74.2 260.9h.6M61.9 260.3h.6M64.2 254.6h.6M70.1 271.0h.6M87.2 261.8h.6M73.9 264.7h.6M84.9 263.7h.6M68.5 260.2h.6M67.1 252.0h.6M80.0 261.8h.6M74.0 268.3h.6M73.3 255.6h.6M55.2 261.9h.6M62.4 263.6h.6M61.3 260.4h.6M59.6 260.3h.6M68.7 265.1h.6M84.8 261.2h.6M76.0 265.2h.6M78.2 269.4h.6M81.8 265.5h.6M79.6 257.9h.6M67.3 261.6h.6M73.6 262.3h.6M75.5 262.3h.6M68.9 254.1h.6M80.3 265.1h.6M64.9 264.7h.6M76.3 262.5h.6M56.3 256.2h.6M67.4 270.2h.6M65.1 260.4h.6M62.8 259.7h.6M75.8 251.8h.6M47.3 265.5h.6M73.1 259.2h.6M81.5 267.0h.6M53.9 261.3h.6M82.7 258.8h.6M69.9 266.9h.6M70.4 256.2h.6M66.6 255.5h.6M77.7 253.6h.6M81.8 254.0h.6M73.2 254.8h.6M69.9 267.3h.6M82.9 268.7h.6M72.0 262.7h.6M74.9 265.2h.6M69.2 267.7h.6M75.7 267.9h.6M77.1 265.6h.6M66.2 260.1h.6M61.1 260.7h.6M71.2 266.3h.6M71.7 268.5h.6M82.1 249.6h.6M70.4 269.5h.6M50.9 266.0h.6M64.5 259.8h.6M74.8 252.8h.6M74.5 258.9h.6M66.0 265.7h.6M104.3 263.9h.6M77.7 261.9h.6M66.2 263.5h.6M86.4 263.1h.6M80.8 261.0h.6M95.4 253.9h.6M78.0 264.9h.6M75.1 256.6h.6M62.5 261.0h.6M73.6 256.1h.6M63.1 264.9h.6M82.0 259.3h.6M66.4 258.5h.6M95.0 264.6h.6M72.1 267.2h.6M93.4 268.0h.6M59.8 261.7h.6M69.0 260.4h.6M61.7 260.2h.6M62.9 263.8h.6M73.1 255.0h.6M57.3 259.7h.6M78.5 264.6h.6M72.1 245.6h.6M68.2 258.4h.6M69.6 256.0h.6M68.7 258.8h.6M97.1 265.6h.6M70.9 261.9h.6M71.6 263.0h.6M69.0 262.0h.6M81.9 266.3h.6M75.4 268.8h.6M74.7 257.2h.6M56.9 258.6h.6M72.1 264.1h.6M82.4 259.2h.6M65.4 266.0h.6M83.3 259.7h.6M75.7 269.0h.6M75.5 261.8h.6M53.9 268.7h.6M78.5 262.7h.6M68.4 255.8h.6M71.7 261.6h.6M82.5 256.0h.6M85.6 262.3h.6M83.4 257.2h.6M75.8 268.2h.6M73.7 254.7h.6M69.7 264.8h.6M60.0 254.9h.6M74.8 257.3h.6M78.8 256.2h.6M56.1 258.2h.6M86.1 257.8h.6M72.6 263.3h.6M64.1 267.6h.6M74.2 264.3h.6M57.5 253.3h.6M47.8 261.2h.6M70.6 265.7h.6M86.0 260.8h.6M70.2 264.4h.6M86.4 258.0h.6M78.3 260.9h.6M69.6 266.2h.6M65.5 256.8h.6M78.7 262.0h.6M70.3 261.4h.6M77.1 260.3h.6M79.6 264.2h.6M86.0 268.5h.6M80.4 261.1h.6M73.7 259.2h.6M98.4 261.0h.6M77.7 268.9h.6M60.4 258.0h.6M69.1 257.2h.6M61.3 259.5h.6M84.3 265.8h.6M73.0 262.3h.6M57.7 265.6h.6M76.5 256.7h.6M74.6 261.2h.6M68.0 257.2h.6M66.6 257.4h.6M76.9 264.0h.6M75.6 261.2h.6M56.0 268.1h.6M75.9 262.5h.6M68.1 261.1h.6M62.1 255.2h.6M71.7 253.9h.6M80.3 267.7h.6M41.8 254.4h.6M75.2 263.2h.6M73.7 264.3h.6M79.5 266.5h.6M88.9 262.3h.6M80.5 254.0h.6M71.6 256.1h.6M77.6 255.7h.6M71.8 262.3h.6M74.6 267.6h.6M81.4 248.9h.6M85.1 259.7h.6M67.7 269.3h.6M70.4 255.3h.6M60.9 262.5h.6M81.0 269.7h.6M71.2 259.8h.6M87.4 259.9h.6M85.9 263.4h.6M74.9 261.0h.6M75.5 259.9h.6M66.7 261.5h.6M66.9 263.7h.6M73.6 260.9h.6M71.0 261.0h.6M88.4 262.1h.6M67.4 260.7h.6M78.8 261.2h.6M71.4 260.9h.6M74.3 264.1h.6M76.8 254.0h.6M63.2 249.0h.6M80.0 267.7h.6M84.5 262.9h.6M83.1 262.0h.6M71.7 254.5h.6M65.7 259.2h.6M81.0 270.5h.6M68.6 264.0h.6M75.3 258.3h.6M57.3 258.4h.6M59.9 260.6h.6M71.5 261.3h.6M71.3 264.6h.6M64.4 266.6h.6M57.7 262.5h.6M76.3 258.2h.6M58.4 265.4h.6M66.7 266.1h.6M79.7 262.1h.6M72.7 267.1h.6M76.1 257.5h.6M74.3 264.9h.6M74.6 263.1h.6M71.4 261.6h.6M64.4 255.0h.6M82.9 259.0h.6M74.7 254.7h.6M74.2 258.0h.6M99.4 257.1h.6M64.1 266.9h.6M82.9 251.7h.6M75.0 266.5h.6M61.8 265.6h.6M68.0 257.2h.6M69.6 259.9h.6M68.7 258.4h.6M80.4 261.8h.6M84.7 260.8h.6M75.9 262.6h.6M74.2 261.1h.6M71.8 270.5h.6M66.7 259.4h.6M69.7 265.0h.6M76.3 266.8h.6M60.8 263.4h.6M71.2 260.7h.6M74.2 252.4h.6M75.2 262.9h.6M60.0 261.7h.6M86.6 260.2h.6M78.0 261.0h.6M65.5 257.6h.6M69.2 268.6h.6M80.0 258.7h.6M81.6 261.5h.6M66.6 264.3h.6M64.6 254.4h.6M84.3 253.1h.6M77.6 254.6h.6M72.5 261.2h.6M68.8 251.3h.6M71.8 262.0h.6M64.8 261.8h.6M81.6 258.6h.6M75.0 256.5h.6M76.2 265.3h.6M94.8 266.6h.6M76.6 269.1h.6M63.9 267.5h.6M67.9 259.1h.6M82.5 263.3h.6M84.6 255.0h.6M75.2 259.6h.6M70.4 252.8h.6M81.1 263.2h.6M64.1 255.6h.6M65.1 269.1h.6M71.9 260.6h.6M77.2 262.3h.6M74.9 265.9h.6M75.8 266.5h.6M62.3 262.5h.6M69.7 262.8h.6M72.5 259.1h.6M69.8 266.9h.6M68.0 256.1h.6M78.2 267.0h.6M70.5 262.9h.6M65.5 261.3h.6M82.7 266.2h.6M74.3 260.9h.6M58.6 263.8h.6M77.0 267.4h.6M90.7 264.1h.6M81.4 256.8h.6M83.6 266.5h.6M85.0 265.6h.6M77.0 269.5h.6M67.2 265.5h.6M82.5 258.5h.6M62.9 264.4h.6M74.1 265.3h.6M78.7 258.6h.6M76.0 267.8h.6M69.9 261.0h.6M63.2 266.3h.6M90.2 255.7h.6M79.8 266.8h.6M68.2 260.5h.6M63.9 258.5h.6M74.6 265.5h.6M74.2 266.5h.6M74.9 256.7h.6M85.9 268.2h.6M66.9 271.0h.6M77.3 263.0h.6M90.0 250.2h.6M59.1 265.9h.6M71.0 257.8h.6M86.4 264.8h.6M62.0 259.2h.6M80.6 271.1h.6M55.6 263.6h.6M69.9 253.9h.6M71.8 254.6h.6M68.5 270.3h.6M77.8 266.2h.6M78.5 264.2h.6M81.8 256.8h.6M70.1 266.6h.6M66.9 260.3h.6M83.9 269.9h.6M68.0 258.5h.6M78.4 263.8h.6M67.4 265.4h.6" stroke="#2a2a2a" stroke-width="0.6" stroke-opacity="1.0"/>
<path d="M80.8 241.2h.6M104.1 251.2h.6M83.3 248.6h.6M104.3 249.2h.6M68.4 243.1h.6M76.1 236.2h.6M77.9 242.6h.6M74.9 236.8h.6M83.5 228.2h.6M83.5 240.7h.6M78.1 222.1h.6M91.8 227.1h.6M67.0 245.7h.6M69.5 237.5h.6M53.6 237.2h.6M77.5 246.0h.6M72.6 242.4h.6M79.7 235.4h.6M68.1 256.0h.6M67.1 250.3h.6M76.1 252.2h.6M69.2 244.7h.6M78.7 238.9h.6M78.5 234.6h.6M74.7 237.5h.6M82.9 239.9h.6M61.8 237.7h.6M74.5 233.6h.6M88.5 243.8h.6M83.7 234.7h.6M71.5 248.6h.6M61.4 243.5h.6M76.3 236.7h.6M76.3 232.2h.6M77.7 231.1h.6M62.9 251.6h.6M68.6 224.1h.6M85.0 234.6h.6M84.6 243.4h.6M92.3 239.7h.6M81.3 232.7h.6M77.1 252.7h.6M80.4 241.9h.6M56.0 237.7h.6M62.8 246.8h.6M68.2 243.5h.6M65.6 255.5h.6M63.9 241.8h.6M101.3 242.4h.6M66.9 245.5h.6M85.2 247.5h.6M56.1 242.4h.6M54.5 255.6h.6M76.2 237.0h.6M82.1 244.5h.6M63.8 253.5h.6M73.1 226.8h.6M89.3 252.8h.6M87.9 245.0h.6M66.7 248.1h.6M93.8 247.1h.6M91.3 234.6h.6M85.6 248.1h.6M60.8 227.8h.6M68.4 241.3h.6M80.0 238.9h.6M74.9 239.8h.6M76.4 245.3h.6M80.4 240.3h.6M78.1 237.1h.6M83.4 236.7h.6M91.8 240.5h.6M78.2 234.7h.6M72.1 242.0h.6M75.7 235.8h.6M64.0 241.0h.6M77.1 245.1h.6M87.9 238.2h.6M55.7 239.6h.6M57.2 230.5h.6M85.8 245.2h.6M69.1 235.7h.6M74.7 226.8h.6M80.3 238.0h.6M93.8 232.3h.6M85.5 235.3h.6M85.7 233.0h.6M82.9 237.2h.6M67.3 239.5h.6M80.3 244.0h.6M91.3 247.3h.6M49.3 237.6h.6M55.7 237.7h.6M81.8 230.1h.6M63.8 241.9h.6M72.7 253.4h.6M78.8 245.0h.6M93.0 236.8h.6M75.6 232.8h.6M78.1 249.0h.6M89.2 240.5h.6M68.5 234.7h.6M61.7 241.7h.6M89.1 221.9h.6M53.9 252.0h.6M59.5 243.4h.6M63.0 247.0h.6M83.4 242.1h.6M83.8 241.2h.6M81.2 255.4h.6M86.6 235.5h.6M67.6 238.9h.6M73.4 241.4h.6M69.6 246.0h.6M76.0 243.7h.6M75.7 245.7h.6M63.7 253.5h.6M79.1 244.4h.6M81.8 249.5h.6M83.1 242.8h.6M73.9 227.7h.6M77.9 238.4h.6M72.6 260.1h.6M57.1 241.3h.6M87.9 248.6h.6M88.1 230.8h.6M66.1 245.9h.6M72.8 254.6h.6M78.1 242.5h.6M80.2 238.8h.6M77.0 235.5h.6M75.4 237.1h.6M78.4 229.6h.6M60.9 244.6h.6M78.1 233.3h.6M73.6 232.6h.6M96.2 228.5h.6M93.0 234.4h.6M80.1 238.9h.6M72.1 248.5h.6M84.0 238.7h.6M66.8 257.6h.6M89.9 242.1h.6M72.9 243.3h.6M76.7 250.6h.6M66.2 241.2h.6M68.0 251.5h.6M93.9 240.3h.6M81.3 252.3h.6M72.9 233.5h.6M86.3 245.1h.6M73.8 252.7h.6M78.3 226.8h.6M79.4 240.6h.6M94.7 240.9h.6M73.8 244.5h.6M78.4 229.8h.6M77.1 238.4h.6M90.0 260.2h.6M64.7 233.3h.6M67.5 235.8h.6M69.0 241.5h.6M86.8 230.6h.6M60.5 226.3h.6M87.0 251.7h.6M60.6 228.0h.6M77.2 249.8h.6M86.1 242.6h.6M82.8 243.7h.6M70.4 256.3h.6M75.9 232.2h.6M71.3 228.7h.6M76.1 249.8h.6M63.3 250.1h.6M96.9 244.1h.6M64.4 234.2h.6M72.6 230.8h.6M63.4 239.0h.6M74.1 245.9h.6M63.9 256.0h.6M86.6 248.2h.6M69.4 255.0h.6M72.5 255.6h.6M86.7 233.9h.6M71.4 256.0h.6M86.0 239.8h.6M78.0 242.7h.6M68.2 239.5h.6M69.3 237.6h.6M80.6 233.4h.6M83.2 241.9h.6M83.6 248.2h.6M88.4 246.1h.6M83.0 239.6h.6M81.7 233.8h.6M73.5 247.1h.6M75.4 244.6h.6M65.4 252.0h.6M70.2 244.2h.6" stroke="#999999" stroke-width="0.6" stroke-opacity="1.0"/>
<path d="M52.9 239.8l .8-.3 1.8.6 .6.4 .6.9 .4 1.4 .1 2.4 .9 2.1 .4 2.7 1.2 3.3 .4 3.9-.3 3.3-.7 3.6-.7 5.1-.7 2.4-.9 1.8-1.9 2-.9.6-1.5.3-1.2-.4-1.8-1.3-.8-.9-.8-1.5-.7-2.1-.8-3.9-.2-5.7 .8-9.3 .2-.9 .8-1.6 .2-2.6 2.5-4.5 2.2-1.8Z" fill="#fff" fill-rule="evenodd" stroke="#111" stroke-width="0.5"/><path d="M50.9 250.3l 1-.3 1.8.4 .9.5 1.1 1.2 1.4 2.1 .6 1.5 .7 4.5 0 2.7-.3 3.3-1 4.5-.9 1.8-1.2 1.5-1 .8-1.2.4-1.2-.2-1.2-.6-.9-.7-.6-.9-1.3-3.3-.8-4.2-.1-4.5 .5-3.6 1.8-4.5 1-1.5 .9-.9Z" fill="#000" fill-opacity="0.1" fill-rule="evenodd" stroke="#111" stroke-width="0.5"/><path d="M51.8 251.2l 1.3.1 1.2.5 1.2 1.2 1.1 1.5 .6 1.8 .8 5.1-.2 4.5-1 4.2-.9 1.8-1 1.2-1.2 1.1-.9.2-.9-.1-1.2-.5-.9-.7-.7-.9-1.3-3.3-.6-2.4-.1-1.8 .1-4.8 .7-3 1.1-2.7 .7-1.2 1-1.2 1.1-.6Z" fill="#000" fill-opacity="0.15" fill-rule="evenodd" stroke="#111" stroke-width="0.5"/><path d="M51.5 252.4l 1-.2 1.2.3 1.2.8 1 1.2 .7 1.5 .9 5.4-.2 4.5-1 3.9-.8 1.5-.9 1.1-.9.7-.9.4-.9-.1-.9-.4-.9-.6-.6-.8-1.1-2.4-.7-2.7-.2-1.5 0-3.3 .6-3.6 1.7-3.9 .9-1.2 .8-.6Z" fill="#000" fill-opacity="0.2" fill-rule="evenodd" stroke="#111" stroke-width="0.5"/><path d="M52.1 253l 1 0 .9.3 1.2.9 .7.9 .4 1.2 .2 2.1 .6 2.1 .1 1.5-.3 3.9-.9 3.6-.8 1.4-.9 1-.9.6-.9.2-.9-.2-.9-.4-1.2-1.4-1.4-3.9-.4-2.4 .2-2.4 .6-3.9 1.9-3.9 .9-.9 .8-.3Z" fill="#000" fill-opacity="0.25" fill-rule="evenodd" stroke="#111" stroke-width="0.5"/><path d="M52.2 253.6l .9-.1 .9.2 .9.7 .6.7 .4.9 .2 2.4 .7 2.1 .2 1.5-.4 3.9-.9 3.3-.7 1.2-.7.8-.9.6-.6.1-1.8-.5-1.1-1-1.6-3.8-.3-1.9 .1-2.1 .8-4.3 1.8-3.7 .6-.6 .9-.4Z" fill="#000" fill-opacity="0.25" fill-rule="evenodd" stroke="#111" stroke-width="0.5"/><path d="M52 254.2l 1.7-.1 .9.4 .7.9 .3.9 .1 2.1 .8 2.1 .2 1.2-.4 4.2-.8 2.7-1.2 2-.6.4-.6.1-1.8-.3-.9-.7-1.8-3.5-.3-1.6 .1-2.1 .9-4.2 1.7-3.7 .5-.5 .5-.3Z" fill="#000" fill-opacity="0.25" fill-rule="evenodd" stroke="#111" stroke-width="0.5"/><path d="M53 254.5l .7 0 .6.3 .8.9 .2.6-.1 2.1 1.1 2.4 .2 1.5-.7 4.2-.6 1.9-1.2 1.7-.9.3-1.5-.3-.9-.6-1.8-3-.4-1.8 .1-1.5 .8-2.1 .4-2.1 1.1-1.8 .7-2 1.4-.7Z" fill="#000" fill-opacity="0.2" fill-rule="evenodd" stroke="#111" stroke-width="0.5"/><path d="M53 255.1l .4-.2 .6.1 .7.7 .2.6-.2 1.5 .1.9 1.3 2.3 .2 1-.1 1.2-1 4-.9 1.6-.9.7-.9-.6-.9 0-.6-.4-1.8-2.2-.4-1.6 .3-1.5 .9-1.2 .4-2.1 .3-.6 .6-.5 .3.3 .1.5 .4 4.2 .1.4 .3-.1 .7-3.3-.7-4.8 .1-.6 .4-.3Z" fill="#000" fill-opacity="0.15" fill-rule="evenodd" stroke="#111" stroke-width="0.5"/><path d="M53.4 255.7l .6 0 .3.6-.6 1.3-.4-1.3 .1-.6ZM53.7 258.4l 0-.2 .2.8-.2.2 0-.8ZM54.5 260.5l .4-.1 .6.3 .4.7 .2.9-.2.9-.6 1.5-.4 1.9-.3.5-.6.3-.6-.3-.3-.6-.2-1.8 .5-2.6 1.1-1.6ZM49.4 264.4l .4-.3 .9.7 .6.2 .3.9-.3.8-1.7-1.1-.2-.6 0-.6Z" fill="#000" fill-opacity="0.1" fill-rule="evenodd" stroke="#111" stroke-width="0.5"/><path d="M54.9 261.4l .6.1 .2 1.1-.2.7-.7 1.1-.4 1.5-.4.3-.3-.1-.3-.6 0-2.1 .3-.9 1.2-1.1Z" fill="#000" fill-opacity="0.05" fill-rule="evenodd" stroke="#111" stroke-width="0.5"/>
</g>
<line x1="62.4" y1="202" x2="62.4" y2="272.5" stroke="#3a3a3a" stroke-width="0.95"/>
<line x1="40.5" y1="248.2" x2="110.8" y2="248.2" stroke="#3a3a3a" stroke-width="0.95"/>
<rect x="40.5" y="202" width="70.3" height="70.5" fill="none" stroke="#000" stroke-width="1.5"/>
<path d="M40.5 203.5h-2M40.5 204.95h-2M40.5 206.4h-2M40.5 207.85h-2M40.5 209.3h-2M40.5 210.75h-2M40.5 212.2h-2M40.5 213.65h-2M40.5 215.1h-2M40.5 216.55h-2M40.5 218h-2M40.5 219.45h-2M40.5 220.9h-2M40.5 222.35h-2M40.5 223.8h-2M40.5 225.25h-2M40.5 226.7h-2M40.5 228.15h-2M40.5 229.6h-2M40.5 231.05h-2M40.5 232.5h-2M40.5 233.95h-2M40.5 235.4h-2M40.5 236.85h-2M40.5 238.3h-2M40.5 239.75h-2M40.5 241.2h-2M40.5 242.65h-2M40.5 244.1h-2M40.5 245.55h-2M40.5 247h-2M40.5 248.45h-2M40.5 249.9h-2M40.5 251.35h-2M40.5 252.8h-2M40.5 254.25h-2M40.5 255.7h-2M40.5 257.15h-2M40.5 258.6h-2M40.5 260.05h-2M40.5 261.5h-2M40.5 262.95h-2M40.5 264.4h-2M40.5 265.85h-2M40.5 267.3h-2M40.5 268.75h-2M40.5 270.2h-2M40.5 271.65h-2M42 272.5v2M43.45 272.5v2M44.9 272.5v2M46.35 272.5v2M47.8 272.5v2M49.25 272.5v2M50.7 272.5v2M52.15 272.5v2M53.6 272.5v2M55.05 272.5v2M56.5 272.5v2M57.95 272.5v2M59.4 272.5v2M60.85 272.5v2M62.3 272.5v2M63.75 272.5v2M65.2 272.5v2M66.65 272.5v2M68.1 272.5v2M69.55 272.5v2M71 272.5v2M72.45 272.5v2M73.9 272.5v2M75.35 272.5v2M76.8 272.5v2M78.25 272.5v2M79.7 272.5v2M81.15 272.5v2M82.6 272.5v2M84.05 272.5v2M85.5 272.5v2M86.95 272.5v2M88.4 272.5v2M89.85 272.5v2M91.3 272.5v2M92.75 272.5v2M94.2 272.5v2M95.65 272.5v2M97.1 272.5v2M98.55 272.5v2M100 272.5v2M101.45 272.5v2M102.9 272.5v2M104.35 272.5v2M105.8 272.5v2M107.25 272.5v2M108.7 272.5v2M110.15 272.5v2" stroke="#111" stroke-width="0.55"/>
<text x="36.6" y="212.9" font-size="6" text-anchor="end" fill="#111" stroke="#111" stroke-width="0.18">10<tspan font-size="4.4" dy="-2.6">5</tspan></text>
<text x="36.6" y="228.4" font-size="6" text-anchor="end" fill="#111" stroke="#111" stroke-width="0.18">10<tspan font-size="4.4" dy="-2.6">4</tspan></text>
<text x="36.6" y="243.9" font-size="6" text-anchor="end" fill="#111" stroke="#111" stroke-width="0.18">10<tspan font-size="4.4" dy="-2.6">3</tspan></text>
<text x="36.6" y="261" font-size="6" text-anchor="end" fill="#111" stroke="#111" stroke-width="0.18">10<tspan font-size="4.4" dy="-2.6">2</tspan></text>
<text x="37.3" y="267.7" font-size="6" text-anchor="end" fill="#111" stroke="#111" stroke-width="0.18">0</text>
<text x="50.4" y="284.9" font-size="6" text-anchor="middle" fill="#111" stroke="#111" stroke-width="0.18">0</text>
<text x="71" y="284.9" font-size="6" text-anchor="middle" fill="#111" stroke="#111" stroke-width="0.18">10</text>
<text x="75.1" y="282.4" font-size="4.4" fill="#111" stroke="#111" stroke-width="0.18">3</text>
<text x="87.6" y="284.9" font-size="6" text-anchor="middle" fill="#111" stroke="#111" stroke-width="0.18">10</text>
<text x="91.7" y="282.4" font-size="4.4" fill="#111" stroke="#111" stroke-width="0.18">4</text>
<text x="103.5" y="284.9" font-size="6" text-anchor="middle" fill="#111" stroke="#111" stroke-width="0.18">10</text>
<text x="107.6" y="282.4" font-size="4.4" fill="#111" stroke="#111" stroke-width="0.18">5</text>
<text x="41.7" y="208.6" font-size="5.9" text-anchor="start" font-weight="normal" fill="#111" >5.5</text>
<text x="109.6" y="208.6" font-size="5.9" text-anchor="end" font-weight="normal" fill="#111" >0.405</text>
<text x="41.7" y="270.9" font-size="5.9" text-anchor="start" font-weight="normal" fill="#111" >91.9</text>
<text x="109.6" y="270.9" font-size="5.9" text-anchor="end" font-weight="normal" fill="#111" >2.18</text>
<g clip-path="url(#c9)">
<path d="M175 244.3l 1.1-.2 2.1.5 .6.6 0 .9-.9.7-1.8.5-1.5.1-1.4-.4-.3-.3 .2-.3 1.9-2.1ZM173.2 248.5l 2.6-.3 2.4.4 3 .1 4.2 1 2.7.3 2.1.9 1.2.8 .7 1 .3.9 0 8.4-.5 1.5-1.5 2.1-2 1.4-2.4 1-4.2.4-9.9.1-3-.5-2.4-.7-1.3-.8-2-1.9-1.3-1.7-.5-1.8 .3-7.8 .5-1.5 1.9-1.7 1.8-.9 1.5-.2 3 0 2.8-.5ZM150 249.7l .9-.2 1.2 0 1.5.6 .9.7 1 1 .7 1.2 1.2 2.4 .1 1.2 .3 5.7-.7 3-.9 2.1-1.2 1.8-1.4 1.3-1.5.5-1.2 0-1.2-.5-1.2-.8-1.4-1.4-1.1-2.4-.7-3.3 0-4.2 .3-2.1 .7-2.1 .8-1.8 .9-1.2 1.1-1.1 .9-.4Z" fill="#fff" fill-rule="evenodd" stroke="#111" stroke-width="0.5"/><path d="M176 244.9l .7 0 .9.3 .5.6-.1.6-1 .6-.9.2-1.5.1-1-.3-.1-.3 .5-.7 1.2-.9 .8-.2ZM174 248.5l 1.8-.1 2.5.4 3.2.1 3.9 1.1 2.7.3 2.4 1 .9.7 .7 1 .2.9 0 3.9-.3 2.4 .2 2.1-.5 1.2-1.6 2.1-2 1.4-2.4.9-3.6.4-2.7-.1-2.7.2-2.7-.2-2.1.1-3-.4-2.4-.8-1.2-.8-2.4-2.2-1.1-1.8-.3-1.5 .4-3 0-4.2 .2-1.2 .4-.6 1.6-1.5 1.5-.8 1.8-.3 3 .1 3.6-.8ZM150.2 249.7l 1-.2 .9.1 1.2.5 1.2.8 .9.9 .7 1.2 1 2.1 .3 1.2 .3 5.7-.7 3.3-.9 2.1-1.2 1.8-1.6 1.4-1.2.3-1.2 0-1.5-.7-1.2-.9-1-1-.7-1.2-.6-1.5-.6-3.6 0-3.6 .6-2.7 .6-1.8 .7-1.5 .9-1.2 1-.9 1.1-.6Z" fill="#000" fill-opacity="0.07" fill-rule="evenodd" stroke="#111" stroke-width="0.5"/><path d="M175 245.8l .8-.3 .6.1 .6.3 .3.5-.2.3-1 .4-.9.1-1-.2-.2-.3 .2-.3 .8-.6ZM173.3 248.8l 2.5-.3 2.4.4 3 .1 4.2 1.3 2.4.3 2.7 1.1 .9.6 .5.7 .2.9-.1 3.9-.4 2.4 .3 2.1-.5 1.2-1.5 2-2.1 1.4-1.8.7-4.2.5-2.4-.1-3 .3-2.4-.3-2.1.2-2.7-.4-2.4-.8-1.2-.8-2.4-2.1-1.1-1.5-.4-1.5 .2-1.5 .6-1.8-.4-1.8-.1-1.5 .2-1.5 .4-.9 1.8-1.8 1.5-.7 1.5-.3 3 .4 2.9-.9ZM150.6 249.7l 1.2 0 1.5.5 1.5 1.1 1 1.4 1.2 2.4 .3.9 .3 4.8 0 1.5-.3 1.8-1.4 3.6-.9 1.2-1.1 1.1-.9.6-1.2.3-.9-.1-1.2-.5-1.5-1.1-1.1-1.2-.5-.9-.7-1.8-.5-3.9-.1-2.4 .3-1.8 1.2-3.9 .9-1.5 1.1-1.2 .6-.4 1.2-.5Z" fill="#000" fill-opacity="0.07" fill-rule="evenodd" stroke="#111" stroke-width="0.5"/><path d="M174.9 246.4l .9-.3 .6.3-.1.3-1.1.2-.6-.2 .3-.3ZM174.2 248.8l 1.9-.1 2.1.4 3.3.1 2.1.6 2.7 1.3 1.8.2 2.1.7 1.2.7 .4 1.2-.1 3.6-.8 2.7 .1.6 .5.9 0 .9-.4.9-1.7 2.1-1.3.9-1.5.8-4.2.6-3.3-.1-2.7.3-2.4-.4-2.4.2-2.7-.4-1.9-.7-.9-.6-1.4-1.4-1.8-1.4-.8-1.4-.1-1.6 .3-.9 .3-.3 1.1-.5 .2-.6-.1-.6-1.2-1.4-.2-.7 0-1.8 .5-1.2 1.6-1.8 1.4-.8 1.5-.2 2.1.5 .9.1 3.8-1.4ZM150 250l .9-.3 1.2.1 1.5.7 .9.7 1 1.2 .7 1.2 .8 1.8 .2 1.2 .3 5.1-.1 1.8-.7 2.1-.8 1.8-1.1 1.6-1.5 1.3-1.2.4-1.2-.1-.9-.3-1.5-1-1.1-1-1.1-2.1-.7-3.6-.2-3.6 .9-3.9 .5-1.5 .9-1.5 1.1-1.4 1.2-.7Z" fill="#000" fill-opacity="0.07" fill-rule="evenodd" stroke="#111" stroke-width="0.5"/><path d="M173.9 249.1l 1.9-.3 2.4.5 3 0 2.7 1 2.1 1.6 2.4.2 2.1.6 .6.3 .3.9-.5 1.8 .3 1.2 0 .9-1 2.1-.1.9 .1.5 .6.7 .2.6-1 1.8-1 1.2-1.3.9-1.4.6-2.1.2-2.4.5-2.7-.3-2.7.3-2.4-.4-2.4.2-3.3-.6-1.2-.5-.7-.6-.5-.9 0-.6 .9-1.8 0-.9-.6-1.2-1.1-1.2-.9-2.4-1.3-1.5-.2-.9 .2-.9 1.1-1.2 1-1.8 .9-.6 1.5-.1 1.8.8 .9.2 .9-.3 1.5-.9 1.4-.6ZM150.3 250l .9-.2 1.2.3 .9.4 1.2.9 1.4 1.9 .9 1.8 .3 1.2 .3 5.7-.6 3.3-1 2.1-1 1.4-1.5 1.3-1.2.5-1.2-.1-1.2-.5-1.5-1.1-.9-.9-1.1-2.1-.6-3.6 0-3.9 1-3.9 .6-1.5 1.1-1.5 1.1-1.1 .9-.4ZM162.6 260.2l .9-.2 .6.2 .2.3 .1 2.4-.2.6-.4 0-.6-.3-.6-.9-.3-1.2 .3-.9Z" fill="#000" fill-opacity="0.07" fill-rule="evenodd" stroke="#111" stroke-width="0.5"/><path d="M175 249.1l 1.4 0 2.1.5 1.8-.2 1.2.2 2.1 1 2 1.8 1 .3 1.5 0 .9.6 0 1.8 1.1 2.1 .2.9-.9 3.6 .4 1.2 0 .6-.6 1.2-1.1 1.2-1.8.9-2.4.1-1.5.5-.9.1-2.7-.4-2.1.4-2.7-.5-2.7.2-2.5-.4-.8-.3-.8-.6-.3-1.2 .5-2.1-.1-1.2-.8-1.7-2.8-4.3-.2-.6 .1-.6 1.1-1.6 .8-1.7 .4-.4 1.2-.2 1.8 1.1 1.2.2 1.5-.5 2.1-1.6 1.3-.4ZM150.9 250l 1.2.1 1.5.7 1.2 1.1 .8 1.1 1.3 3 .1 2.7 .3 2.4-.3 3-1.2 3-.8 1.2-1.1 1.2-1.2.8-.9.2-1.2-.2-1.2-.7-1.2-.8-1-1.1-.7-1.2-.3-1.2-.6-4.8 0-1.8 .3-1.5 1.3-3.9 .7-1.2 1.1-1.2 1-.7 .9-.2ZM175.2 258.9l-.3.1-.2.3 .1.9 .7 1.5 .6.3 .3-.3 0-.3-.1-1.2-.5-1-.6-.3Z" fill="#000" fill-opacity="0.07" fill-rule="evenodd" stroke="#111" stroke-width="0.5"/><path d="M175 249.4l 1.4 0 2.1.5 1.8-.2 .9.1 1.6.8 1.7 1.5 .9.6 2.1.5 .6.5 1.6 3.8 .1.9-.6 2.7-.9 2.1 .2 1.2-.6.9-.6.6-1 .5-.9.1-1.6-.6-.9-.9-1.1 0-.2.3 1.1.9 0 .3-.6.5-.6.1-1.1-.3-2.8-1.8-.3.1-.1.2-.3 1.2-.5.2-3.6-.5-.4-.3-.5-.7-.3-.1-.9.8-.7.3-1.1-.1-.9-.5-.4-.9 .4-2.1-.1-1.2-1.1-2.2-2.3-3.5-.2-.9 .1-.6 1.2-1.9 .9-.8 .9.1 1.5 1.1 .6 0 3-1.2 1.3-1.5 1.2-.6ZM150.2 250.3l 1-.2 .9.2 .9.4 1.2.8 1.4 1.8 .9 1.8 .3 1.2 0 2.4 .4 3.3-.2 1.5-.5 1.8-1 2.1-1 1.3-1.5 1.2-1.2.4-.9-.1-1.2-.6-1.8-1.3-.8-.9-.8-2.1-.6-4.2 .1-2.7 1.3-4.5 .6-1.2 .9-1.2 .8-.8 .8-.4ZM169.5 254.3l-.4.8 .1.6 .3.5 .6.2 .6-.1 .9-.6 0-.6-.3-.3-1.2-.5-.6 0ZM174.3 257.8l-.6.5-.2.7 .6 2.7 .6.9 .8.7 .9.6 .6 0 .3-.3 .1-.7-.7-3.3-1.2-1.6-.6-.3-.6.1Z" fill="#000" fill-opacity="0.07" fill-rule="evenodd" stroke="#111" stroke-width="0.5"/><path d="M175.8 249.7l .9.1 1.8.7 1.8-.3 .7.1 .7.6 .3.6 1.3.4 2.1 1.1 1.8.6 .7.6 1.4 3.6 .1 1.5-.8 2.4-1.9 2.4-.4 1.3-.7.2-2.9-1.3-2.7 0-1.2-.7-.9-1.3-.7-2.7-1-1.8-.4-1.3-.3-.1-1.5.3-.9.8-.4 1.2-.2 2.4-.7 1.5-2.3 2.1-.6 0-.2-.3 .1-1.8-.3-1.2-1.6-3.3-1.9-2.7-.1-.6 .3-.9 1-1.1 .9-.1 .5.3 .4.6 .4 2.4 .5.9 .9.2 2.1-.4 .8-.7 .2-1.5-.4-.5-1-.4-.2-.3 .6-.4 1.5.1 .3-.4 .3-1.4 .4-.9 .5-.4 .9-.2ZM150.9 250.3l 1.2.2 1.7 1 1.2 1.2 1 1.8 .6 1.5-.1 2.7 .5 2.7-.3 3-1.2 2.7-1 1.3-1.2 1.1-.9.5-.6.1-.9-.1-1.2-.6-1.8-1.3-.8-1-.8-2.4-.5-4.8 .2-2.1 1.7-4.8 1.7-2 .9-.6 .6-.1ZM180.9 251.8l-2 .3-.4.9 .2.3 1.9-.3 1.1-1.2-.8 0ZM173.3 263.5l .7-.1 1 .7 .4.9-.3.6-.8.2-.8-.5-.3-.9 .1-.9Z" fill="#000" fill-opacity="0.07" fill-rule="evenodd" stroke="#111" stroke-width="0.5"/><path d="M150.4 250.6l 1.4 0 1.6.9 1.2 1.2 1.4 2.4 .4 1.2-.4 2.7 .8 2.7-.3 2.7-1.1 2.5-.9 1.1-1.3 1.2-.8.5-.6.2-.6 0-.9-.4-2.1-1.4-1-1-.7-2.1-.6-5.1 .3-2.1 1.6-4.5 1.3-1.8 1.3-.9ZM175.4 250.6l .7-.2 .6.1 .5.4 .3.6 0 .9-.2.8-.6.6-.6.3-.6-.2-.2-.6-.3-1.8 .4-.9ZM182.7 252.4l .9.1 1.5.8 1.8.5 .6.4 .4.9 1 3.3 0 1.5-.7 1.8-2.2 2.3-.9.5-1.2-.2-1.5-1-1.8.5-.9-.2-.6-.4-.9-1.2-.3-2.4-1.2-2.1 0-.6 .3-.6 1.9-1.8 .6 0 1.4 1.3 .6.1 .3-.2 .2-.6-.3-1.8 .4-.6 .6-.3ZM166.3 253.9l .5 0 .3.6 0 1.5-.3.2-.6-.4-.4-.7 0-.6 .5-.6ZM152.1 256.8l-.5.4-.3.6 0 .6 .2.6 .9.4 1.2-.1 .3-.3 0-.6-.4-1.2-.5-.5-.9.1ZM170.2 257.8l .8-.1 .6.1 .2.9-.1 1.2-.3.6-.7.7-.6.3-.6-.3-.6-.8-.6-.9-.2-.8 .2-.5 1.9-.4Z" fill="#000" fill-opacity="0.07" fill-rule="evenodd" stroke="#111" stroke-width="0.5"/><path d="M150.3 250.9l .9-.2 .9.3 1 .8 .8 1.2-.1.6-2.6 2.4-.5 1.8 .2 1.5 .7.6 2.6 1.1 .6.1 .9-.3 .3.1 .3.5 .1.6-.1 2.1-.9 2.3-.9 1.1-1.5 1.4-1.2.7-1.2-.3-2.7-1.7-.7-.8-.6-1.8-.1-2.7-.4-2.4 .2-1.8 1.5-3 .4-1.8 1-1.5 1.1-.9ZM183 253l .6 0 1.2.7 1.8.5 .6.4 .4 1.1 0 2.4 .8 1.3-.1 1.1-.5 1.1-2 1.9-.7.4-.6 0-.6-.4-1.4-3-1.8-1.8-.3-.6 .2-.4 1.5-.4 .6-.4 .2-1.5-.3-1.8 .4-.6ZM155.1 255.7l .3-.2 .4.5-.1.6-.3.2-.4-.2 .1-.9ZM179.1 261.7l .3-.2 .3.2 .6.9-.3.2-.4-.2-.5-.9Z" fill="#000" fill-opacity="0.07" fill-rule="evenodd" stroke="#111" stroke-width="0.5"/><path d="M150.3 251.2l .9-.2 .6.2 .6.6 .3.9-.4.6-.5.4-2.4.9-.6-.5 0-.8 .5-1.2 1-.9ZM184.5 254.8l 1.5 0 .6.4 .2.5 0 .9-.3.6-.5.5-.9-.1-.9-.8-.2-.5 0-.9 .2-.5 .3-.1ZM148.4 255.7l .7-.3 .7.6 .3.9 .2 2.4 .6.8 1.9 1.3 .3.6-.1 1.8 .6.2 1.8-.2 .3.3-.2 1.2-.7 1.2-2.1 2.1-.9.5-.9-.1-1.2-1-1.8-.7-.6-.8-.3-.9-.2-1.2 .2-.9 .3-.5 .6-.4 0-.3-1.2-1.2-.4-1.2 0-1.2 .7-1.5 1.4-1.5ZM185.9 259.6l .7-.2 .6.1 .5.4 0 .6-.5.7-1.5.8-.6.6-.2 0-.2-.6 .3-.9 .4-.9 .5-.6Z" fill="#000" fill-opacity="0.07" fill-rule="evenodd" stroke="#111" stroke-width="0.5"/><path d="M150.8 251.5l .8.3 .1.6-.5.6-.6.3-.6-.1-.3-.2 .1-.6 .4-.6 .6-.3ZM148.5 256.6l .6.1 .4.5 .2 2.1 .3.9 1.8 1.2 .4.6-.1.6-.6 1.5-.1 1.2 .2.6 .8.6 .2.6-.2.6-.6.6-.6 0-.9-1.7-.6-.1-1.5.4-.6-.5-.3-.7-.1-.7 .2-.6 1.4-.4 .3-.2 .2-.6-.4-1.8-.4-.4-1.5-.7-.4-1 .1-.8 .4-.7 .8-.9 .6-.3Z" fill="#000" fill-opacity="0.07" fill-rule="evenodd" stroke="#111" stroke-width="0.5"/><path d="M148 257.8l .5-.1 .3.4-.1 1.2-.5.3-.6 0-.4-.6 .2-.6 .6-.6ZM150.5 262l .4 0 0 .4-.3.1-.1-.5Z" fill="#000" fill-opacity="0.07" fill-rule="evenodd" stroke="#111" stroke-width="0.5"/>
<ellipse cx="151.4" cy="260.2" rx="5.4" ry="9.6" fill="none" stroke="#111" stroke-width="2"/>
</g>
<line x1="160.6" y1="202" x2="160.6" y2="272.5" stroke="#3a3a3a" stroke-width="0.95"/>
<line x1="139.5" y1="248.2" x2="210.2" y2="248.2" stroke="#3a3a3a" stroke-width="0.95"/>
<rect x="139.5" y="202" width="70.7" height="70.5" fill="none" stroke="#000" stroke-width="1.5"/>
<path d="M139.5 203.5h-2M139.5 204.95h-2M139.5 206.4h-2M139.5 207.85h-2M139.5 209.3h-2M139.5 210.75h-2M139.5 212.2h-2M139.5 213.65h-2M139.5 215.1h-2M139.5 216.55h-2M139.5 218h-2M139.5 219.45h-2M139.5 220.9h-2M139.5 222.35h-2M139.5 223.8h-2M139.5 225.25h-2M139.5 226.7h-2M139.5 228.15h-2M139.5 229.6h-2M139.5 231.05h-2M139.5 232.5h-2M139.5 233.95h-2M139.5 235.4h-2M139.5 236.85h-2M139.5 238.3h-2M139.5 239.75h-2M139.5 241.2h-2M139.5 242.65h-2M139.5 244.1h-2M139.5 245.55h-2M139.5 247h-2M139.5 248.45h-2M139.5 249.9h-2M139.5 251.35h-2M139.5 252.8h-2M139.5 254.25h-2M139.5 255.7h-2M139.5 257.15h-2M139.5 258.6h-2M139.5 260.05h-2M139.5 261.5h-2M139.5 262.95h-2M139.5 264.4h-2M139.5 265.85h-2M139.5 267.3h-2M139.5 268.75h-2M139.5 270.2h-2M139.5 271.65h-2M141 272.5v2M142.45 272.5v2M143.9 272.5v2M145.35 272.5v2M146.8 272.5v2M148.25 272.5v2M149.7 272.5v2M151.15 272.5v2M152.6 272.5v2M154.05 272.5v2M155.5 272.5v2M156.95 272.5v2M158.4 272.5v2M159.85 272.5v2M161.3 272.5v2M162.75 272.5v2M164.2 272.5v2M165.65 272.5v2M167.1 272.5v2M168.55 272.5v2M170 272.5v2M171.45 272.5v2M172.9 272.5v2M174.35 272.5v2M175.8 272.5v2M177.25 272.5v2M178.7 272.5v2M180.15 272.5v2M181.6 272.5v2M183.05 272.5v2M184.5 272.5v2M185.95 272.5v2M187.4 272.5v2M188.85 272.5v2M190.3 272.5v2M191.75 272.5v2M193.2 272.5v2M194.65 272.5v2M196.1 272.5v2M197.55 272.5v2M199 272.5v2M200.45 272.5v2M201.9 272.5v2M203.35 272.5v2M204.8 272.5v2M206.25 272.5v2M207.7 272.5v2M209.15 272.5v2" stroke="#111" stroke-width="0.55"/>
<text x="135.6" y="212.5" font-size="6" text-anchor="end" fill="#111" stroke="#111" stroke-width="0.18">10<tspan font-size="4.4" dy="-2.6">5</tspan></text>
<text x="135.6" y="228.4" font-size="6" text-anchor="end" fill="#111" stroke="#111" stroke-width="0.18">10<tspan font-size="4.4" dy="-2.6">4</tspan></text>
<text x="135.6" y="243.9" font-size="6" text-anchor="end" fill="#111" stroke="#111" stroke-width="0.18">10<tspan font-size="4.4" dy="-2.6">3</tspan></text>
<text x="135.6" y="261" font-size="6" text-anchor="end" fill="#111" stroke="#111" stroke-width="0.18">10<tspan font-size="4.4" dy="-2.6">2</tspan></text>
<text x="136.3" y="267.7" font-size="6" text-anchor="end" fill="#111" stroke="#111" stroke-width="0.18">0</text>
<text x="149.4" y="284.9" font-size="6" text-anchor="middle" fill="#111" stroke="#111" stroke-width="0.18">0</text>
<text x="170" y="284.9" font-size="6" text-anchor="middle" fill="#111" stroke="#111" stroke-width="0.18">10</text>
<text x="174.1" y="282.4" font-size="4.4" fill="#111" stroke="#111" stroke-width="0.18">3</text>
<text x="185.9" y="284.9" font-size="6" text-anchor="middle" fill="#111" stroke="#111" stroke-width="0.18">10</text>
<text x="190" y="282.4" font-size="4.4" fill="#111" stroke="#111" stroke-width="0.18">4</text>
<text x="202.4" y="284.9" font-size="6" text-anchor="middle" fill="#111" stroke="#111" stroke-width="0.18">10</text>
<text x="206.5" y="282.4" font-size="4.4" fill="#111" stroke="#111" stroke-width="0.18">5</text>
<text x="140.7" y="208.6" font-size="5.9" text-anchor="start" font-weight="normal" fill="#111" >2.15</text>
<text x="209" y="208.6" font-size="5.9" text-anchor="end" font-weight="normal" fill="#111" >2.64</text>
<text x="140.7" y="270.9" font-size="5.9" text-anchor="start" font-weight="normal" fill="#111" >50</text>
<text x="209" y="270.9" font-size="5.9" text-anchor="end" font-weight="normal" fill="#111" >45.2</text>
<g clip-path="url(#c10)">
<path d="M275.9 237.2h.6M275.5 235.7h.6M274.2 236.6h.6M274.8 237.7h.6M277.2 235.4h.6M274.7 238.0h.6M277.0 238.2h.6M276.1 238.7h.6M276.3 240.0h.6M276.4 237.6h.6M275.4 239.2h.6M275.0 239.0h.6M275.3 238.9h.6M276.3 239.4h.6M274.7 239.4h.6M275.7 242.2h.6M275.9 241.9h.6M276.0 238.8h.6M275.9 240.3h.6M274.3 240.3h.6M277.1 240.1h.6M274.9 242.8h.6M276.0 240.5h.6M275.3 241.8h.6M275.1 243.2h.6M274.7 242.5h.6M276.5 241.3h.6M274.8 243.6h.6M274.0 242.9h.6M273.9 243.8h.6M274.4 244.6h.6M275.9 244.2h.6M274.5 244.6h.6M274.9 243.5h.6M275.7 245.0h.6M275.4 243.8h.6M275.4 247.2h.6M275.1 244.2h.6M274.5 245.6h.6M274.6 245.7h.6M274.8 245.7h.6M274.5 245.7h.6M274.3 247.4h.6M273.7 247.3h.6M273.2 246.6h.6M273.7 248.2h.6M273.2 248.4h.6M272.4 247.3h.6M274.5 248.3h.6M272.7 246.7h.6M274.3 246.9h.6M273.9 247.7h.6M273.3 250.5h.6M274.6 249.3h.6M271.9 249.0h.6M273.1 248.8h.6M274.2 247.5h.6M273.1 249.3h.6M272.1 250.9h.6M271.5 249.5h.6M272.6 247.6h.6M271.1 248.9h.6M273.1 250.8h.6M272.8 250.3h.6M270.1 250.4h.6M271.6 251.4h.6M273.1 252.4h.6M272.5 251.3h.6M270.8 250.7h.6M270.5 251.6h.6M270.4 250.7h.6M270.6 250.5h.6M271.7 250.5h.6M271.3 250.2h.6M272.3 250.7h.6M271.8 253.3h.6M268.6 250.5h.6M270.5 252.6h.6M270.1 251.9h.6M269.8 252.1h.6M269.2 252.5h.6M267.5 250.0h.6M271.8 252.0h.6M269.2 253.9h.6M270.8 252.9h.6M269.4 252.5h.6M270.1 250.5h.6M270.0 251.9h.6M270.6 253.3h.6M268.7 251.5h.6M269.3 252.7h.6M268.6 252.0h.6M269.5 252.5h.6M269.8 252.4h.6M267.8 250.5h.6M269.3 251.9h.6M268.1 251.9h.6M266.8 251.8h.6M265.8 251.8h.6M267.2 253.8h.6M268.3 251.9h.6M268.0 252.7h.6M267.0 251.8h.6M267.2 254.3h.6M267.5 250.2h.6M268.1 254.3h.6M266.3 255.1h.6M267.0 252.8h.6M266.4 251.5h.6M265.7 250.7h.6M264.8 252.7h.6M265.6 251.9h.6M266.8 250.9h.6M266.4 251.4h.6M265.8 251.4h.6M266.2 250.3h.6M264.8 250.4h.6M266.0 252.4h.6M267.2 251.3h.6M266.6 251.0h.6M266.6 250.9h.6M265.8 250.4h.6M265.4 252.3h.6M264.1 250.5h.6M264.6 251.2h.6M266.7 249.9h.6M262.4 250.7h.6M265.4 248.4h.6M264.5 249.7h.6M262.5 250.3h.6M264.9 249.8h.6M263.4 248.7h.6M263.7 249.7h.6M263.3 250.4h.6M264.5 246.9h.6M265.6 248.9h.6M263.4 248.7h.6M262.1 248.6h.6M261.5 247.3h.6M264.9 249.3h.6M263.2 247.0h.6M264.4 247.7h.6M263.6 248.1h.6M262.3 248.1h.6M261.2 248.5h.6M261.7 246.4h.6M262.4 247.5h.6M263.7 246.9h.6M263.4 246.8h.6M262.8 244.4h.6M260.6 243.8h.6M262.6 245.5h.6M262.5 245.7h.6M262.3 244.4h.6M261.1 243.3h.6M263.5 245.7h.6M261.1 244.4h.6M262.7 245.9h.6M261.6 244.4h.6M263.2 242.4h.6M261.4 243.7h.6M261.4 245.5h.6M262.8 243.5h.6M261.0 243.9h.6M262.5 242.3h.6M261.4 241.2h.6M261.7 243.1h.6M262.7 242.6h.6M262.5 241.3h.6M261.2 242.7h.6M262.0 240.6h.6M262.0 241.9h.6M262.2 240.9h.6M261.0 241.0h.6M263.1 240.5h.6M260.8 240.4h.6M260.2 240.0h.6M261.1 240.5h.6M261.5 240.3h.6M263.5 238.9h.6M260.5 239.2h.6M261.2 238.7h.6M260.7 238.8h.6M261.3 236.0h.6M261.0 238.1h.6M262.3 237.0h.6M260.5 238.3h.6M260.7 237.1h.6M261.7 237.4h.6M261.2 235.4h.6M262.2 235.8h.6M260.7 237.8h.6M262.0 234.7h.6M260.8 235.2h.6M260.5 233.3h.6M262.0 235.6h.6M261.5 234.2h.6M261.5 235.0h.6M260.3 233.8h.6M260.8 234.5h.6M261.6 232.4h.6M260.8 235.0h.6M260.5 233.2h.6M260.8 234.0h.6M261.4 232.1h.6M260.4 232.1h.6M262.3 232.7h.6M260.3 233.3h.6M261.3 230.6h.6M261.7 230.7h.6M261.1 230.5h.6M261.6 230.3h.6M260.1 231.0h.6M261.3 231.4h.6M262.3 230.6h.6M262.0 231.0h.6M261.6 228.7h.6M262.3 226.8h.6M261.7 229.3h.6M261.7 230.1h.6M262.8 228.8h.6M261.8 229.4h.6M261.6 227.8h.6M263.0 228.5h.6M264.3 227.6h.6M260.7 228.2h.6M263.7 227.2h.6M264.0 228.8h.6M262.0 226.4h.6M261.6 227.2h.6M263.5 227.0h.6M261.7 225.6h.6M261.6 224.6h.6M261.8 224.4h.6M262.9 226.1h.6M263.8 225.5h.6M262.6 225.3h.6M263.9 224.8h.6M263.5 224.6h.6M263.0 224.8h.6M262.6 225.5h.6M262.3 224.8h.6M262.5 225.6h.6M264.7 223.3h.6M263.6 222.8h.6M264.0 224.1h.6M266.5 222.3h.6M265.4 222.9h.6M264.6 224.1h.6M265.0 223.5h.6M264.4 223.0h.6M264.8 224.0h.6M263.4 222.2h.6M263.7 221.7h.6M264.3 223.5h.6M267.1 223.6h.6M264.1 222.3h.6M264.3 222.5h.6M266.6 222.5h.6M266.3 221.7h.6M263.8 219.9h.6M265.7 222.2h.6M267.0 221.2h.6M266.0 221.7h.6M267.1 221.3h.6M265.2 222.3h.6M266.7 221.6h.6M265.3 221.1h.6M265.0 219.2h.6M266.5 220.6h.6M267.3 222.3h.6M266.9 222.5h.6M266.5 221.5h.6M266.0 220.9h.6M267.0 220.5h.6M267.9 218.9h.6M267.6 219.9h.6M267.7 221.0h.6M267.4 220.2h.6M266.8 221.1h.6M267.4 220.9h.6M266.8 221.8h.6M267.3 221.6h.6M267.9 221.0h.6M268.3 221.1h.6M268.6 221.7h.6M269.3 221.1h.6M270.4 219.9h.6M270.2 220.6h.6M267.7 221.0h.6M269.0 222.1h.6M268.9 220.6h.6M269.7 218.9h.6M270.0 219.7h.6M271.0 222.2h.6M269.8 219.3h.6M270.1 221.0h.6M270.7 220.6h.6M269.1 220.8h.6M269.4 222.6h.6M269.7 220.4h.6M270.5 220.0h.6M270.2 221.1h.6M270.3 221.0h.6M272.0 221.7h.6M269.7 221.0h.6M271.8 220.9h.6M271.3 221.6h.6M271.8 221.5h.6M271.3 221.0h.6M271.9 221.1h.6M273.2 222.0h.6M271.5 222.9h.6M271.8 222.3h.6M271.9 221.7h.6M271.2 221.9h.6M273.2 222.1h.6M271.9 222.4h.6M273.0 224.7h.6M271.6 223.6h.6M272.7 222.9h.6M273.1 222.2h.6M273.5 223.7h.6M272.0 225.1h.6M273.8 224.9h.6M271.7 223.7h.6M272.7 224.7h.6M274.5 222.5h.6M273.4 224.4h.6M274.4 224.6h.6M272.3 224.7h.6M272.7 224.3h.6M273.7 224.8h.6M274.0 224.0h.6M276.0 226.7h.6M274.6 224.6h.6M272.0 225.2h.6M273.9 228.2h.6M275.4 225.9h.6M275.4 227.7h.6M274.3 227.9h.6M274.7 226.4h.6M273.4 227.1h.6M275.5 226.2h.6M273.1 228.1h.6M272.2 229.5h.6M274.3 228.8h.6M276.5 227.0h.6M273.9 230.6h.6M274.7 228.6h.6M275.2 230.0h.6M276.2 229.3h.6M274.8 229.4h.6M275.4 230.9h.6M275.3 231.6h.6M274.4 230.7h.6M276.9 231.6h.6M275.6 229.9h.6M274.7 230.8h.6M275.7 230.9h.6M274.1 230.7h.6M276.0 232.4h.6M274.2 231.6h.6M274.0 231.6h.6M278.8 232.5h.6M275.3 232.1h.6M274.5 231.2h.6M275.6 232.9h.6M277.0 231.9h.6M276.1 234.9h.6M273.9 234.6h.6M274.3 234.7h.6M277.1 234.5h.6M276.0 234.1h.6M276.0 236.0h.6M275.6 235.1h.6M276.2 236.3h.6M274.3 235.8h.6M275.2 236.5h.6M276.8 236.6h.6" stroke="#333" stroke-width="0.6" stroke-opacity="1.0"/>
<path d="M299.2 256.7h.6M284.5 256.7h.6M288.5 262.8h.6M286.3 255.5h.6M287.3 259.8h.6M293.3 260.8h.6M298.1 263.6h.6M271.9 261.3h.6M275.6 267.8h.6M300.5 262.2h.6M291.9 254.2h.6M268.5 259.2h.6M285.8 253.8h.6M288.8 264.1h.6M293.6 271.0h.6M295.1 260.2h.6M288.9 265.7h.6M278.9 269.8h.6M295.9 261.0h.6M295.3 267.6h.6M303.7 267.8h.6M289.9 266.3h.6M280.1 266.3h.6M274.6 264.7h.6M292.9 253.5h.6M304.7 255.9h.6M297.2 259.4h.6M290.8 258.6h.6M309.8 268.2h.6M303.8 266.8h.6M294.2 263.2h.6M286.0 265.8h.6M289.5 261.5h.6M276.2 260.7h.6M293.4 259.8h.6M291.2 261.6h.6M279.2 257.3h.6M281.7 260.8h.6M285.9 268.7h.6M278.7 250.9h.6M294.2 259.9h.6M301.0 265.8h.6M296.5 263.1h.6M296.6 259.0h.6M282.0 259.8h.6M302.0 271.2h.6M283.0 269.0h.6M286.9 268.5h.6M285.5 267.9h.6M287.3 260.9h.6M288.1 263.4h.6M283.2 254.8h.6M303.1 260.3h.6M272.4 249.7h.6M263.8 259.0h.6M300.2 253.3h.6M285.5 252.1h.6M297.9 264.6h.6M291.1 270.1h.6M302.7 268.3h.6M283.3 255.0h.6M279.2 252.6h.6M304.1 261.4h.6M289.5 263.6h.6M306.0 259.3h.6M298.7 264.2h.6M287.0 251.7h.6M296.4 258.3h.6M284.3 263.8h.6M289.2 268.9h.6M282.5 263.5h.6M290.8 262.7h.6M294.3 261.1h.6M298.9 258.5h.6M275.8 262.3h.6M298.7 259.6h.6M282.9 260.6h.6M289.8 261.5h.6M291.1 252.8h.6M301.5 265.8h.6M280.8 270.3h.6M292.3 270.9h.6M288.8 250.9h.6M295.0 260.8h.6M279.5 261.3h.6M271.4 265.8h.6M286.5 261.0h.6M300.7 262.7h.6M282.6 257.1h.6M287.8 268.6h.6M283.3 256.7h.6M296.4 262.9h.6M277.7 263.7h.6M272.8 260.8h.6M293.5 268.9h.6M277.2 267.3h.6M295.2 261.8h.6M309.9 262.5h.6M280.6 264.9h.6M272.1 271.4h.6M297.0 260.3h.6M293.7 265.6h.6M305.3 259.0h.6M277.1 251.0h.6M285.8 253.6h.6M286.8 264.9h.6M284.5 257.2h.6M298.8 261.4h.6M290.4 267.9h.6M276.9 257.3h.6M310.2 261.6h.6M279.2 261.1h.6M283.3 255.6h.6M284.8 262.4h.6M288.2 265.6h.6M273.2 254.1h.6M295.3 260.0h.6M299.0 264.2h.6M276.0 265.6h.6M279.5 264.0h.6M287.7 266.5h.6M291.0 267.0h.6M266.0 260.3h.6M290.9 265.2h.6M281.8 267.2h.6M298.0 262.9h.6M286.4 260.5h.6M289.6 269.2h.6M301.5 259.9h.6M280.2 258.0h.6M297.0 263.8h.6M291.0 265.3h.6M291.6 261.8h.6M279.3 259.0h.6M289.4 264.7h.6M285.1 260.2h.6M300.3 259.9h.6M290.3 260.7h.6M280.9 254.0h.6M283.7 257.9h.6M295.7 256.1h.6M284.8 266.2h.6M287.4 265.3h.6M295.6 253.2h.6M284.8 257.1h.6M300.1 261.9h.6M285.3 262.9h.6M291.9 261.0h.6M299.3 267.1h.6M297.1 262.8h.6M285.4 260.5h.6M285.2 253.3h.6M291.5 267.1h.6M288.3 259.7h.6M288.7 263.8h.6M280.9 264.6h.6M294.3 263.0h.6M286.3 256.8h.6M283.2 266.5h.6M300.9 258.8h.6M292.4 265.4h.6M297.0 263.9h.6M292.2 267.5h.6M278.3 262.8h.6M273.1 251.5h.6M281.2 253.9h.6M292.7 268.0h.6M285.7 261.7h.6M286.3 261.1h.6M289.5 264.5h.6M284.3 258.1h.6M283.8 267.0h.6M284.7 270.6h.6M286.2 270.1h.6M278.1 258.6h.6M292.4 265.2h.6M288.9 264.1h.6M295.6 264.8h.6M274.3 264.5h.6M284.3 264.7h.6M296.1 258.3h.6M290.1 267.3h.6M289.7 260.7h.6M279.2 258.8h.6M277.4 267.9h.6M289.2 255.8h.6M288.2 255.3h.6M260.2 269.2h.6M298.3 254.3h.6M282.1 263.6h.6M285.0 257.8h.6M283.9 261.1h.6M283.6 263.6h.6M286.3 258.3h.6M288.5 253.3h.6M300.6 252.9h.6M287.5 264.3h.6M291.8 263.9h.6M299.0 256.3h.6M287.7 263.3h.6M284.0 259.2h.6M299.2 258.5h.6M284.2 260.9h.6M286.4 263.3h.6M286.5 264.5h.6M289.4 265.1h.6M299.9 257.8h.6M302.2 260.0h.6M293.9 263.3h.6M285.7 251.7h.6M301.9 258.3h.6M281.5 268.3h.6M302.5 266.3h.6M290.3 266.6h.6M277.0 263.4h.6M289.4 259.8h.6M290.3 254.4h.6M295.8 269.5h.6M277.2 263.2h.6M301.3 264.7h.6M279.5 257.0h.6M279.0 262.6h.6M281.6 260.9h.6M290.8 262.2h.6M286.8 261.4h.6M297.5 262.5h.6M286.5 267.6h.6M279.4 266.5h.6M296.9 266.0h.6M286.7 262.4h.6M273.7 261.7h.6M290.6 267.1h.6M289.4 260.3h.6M281.1 262.2h.6M289.3 269.0h.6M288.2 259.7h.6M287.3 259.8h.6M286.2 250.4h.6M274.8 255.9h.6M292.1 262.0h.6M289.4 268.7h.6M279.4 268.6h.6M291.4 258.5h.6M300.7 254.6h.6M278.7 261.3h.6M291.6 261.4h.6M270.2 260.8h.6M299.7 263.1h.6M279.0 264.3h.6M278.3 263.5h.6M291.2 260.2h.6M290.2 260.6h.6M283.3 270.7h.6M293.0 260.7h.6M281.7 263.4h.6M292.9 267.0h.6M300.5 264.9h.6M297.9 266.9h.6M299.3 254.3h.6M285.0 259.6h.6M298.1 256.0h.6M285.4 270.6h.6M293.6 260.3h.6M303.9 255.2h.6M291.9 261.1h.6M292.4 260.9h.6M281.1 263.5h.6M277.1 265.3h.6M285.4 267.4h.6M284.4 258.7h.6M291.5 269.1h.6M270.7 263.0h.6M293.4 254.7h.6M280.7 265.9h.6M281.2 258.9h.6M302.5 257.3h.6M280.9 249.8h.6M278.9 255.7h.6M302.5 269.0h.6M294.5 261.4h.6M294.9 264.4h.6M281.7 252.8h.6M280.5 262.3h.6M285.1 258.3h.6M296.2 256.6h.6M295.5 259.7h.6M289.0 256.3h.6M288.0 258.1h.6M273.4 262.2h.6M287.6 266.8h.6M290.4 256.8h.6M282.9 248.9h.6M278.7 269.4h.6M300.8 266.5h.6M290.6 265.5h.6M292.1 252.9h.6M280.7 268.8h.6M297.9 263.6h.6M285.5 260.2h.6M283.5 257.3h.6M271.9 263.1h.6M284.3 261.2h.6M302.4 265.5h.6M282.2 265.5h.6M275.4 268.0h.6M290.3 261.3h.6M292.8 270.2h.6M284.1 257.0h.6M305.8 262.4h.6M300.6 258.7h.6M291.2 258.8h.6M293.4 260.8h.6M282.4 270.8h.6M290.9 251.3h.6M286.1 257.3h.6M277.8 259.1h.6M284.0 262.5h.6M281.4 252.2h.6M283.5 267.1h.6M276.5 265.7h.6M291.9 259.9h.6M290.6 258.2h.6M284.7 256.7h.6M291.9 269.8h.6M282.3 268.8h.6M270.0 257.5h.6M283.0 266.6h.6M270.7 262.9h.6M292.8 262.1h.6M265.0 263.3h.6M294.9 269.5h.6M291.4 253.1h.6M286.2 267.3h.6M281.1 265.4h.6M284.0 262.8h.6M294.4 258.4h.6M312.3 263.1h.6M290.9 258.2h.6M288.5 260.8h.6M275.6 253.9h.6M290.4 261.8h.6M265.7 250.5h.6M285.4 261.9h.6M293.2 255.5h.6M293.0 260.6h.6M283.7 261.5h.6M296.4 265.4h.6M295.6 258.5h.6M285.6 255.9h.6M283.3 260.1h.6M284.0 266.2h.6M291.6 266.5h.6M289.1 268.2h.6M289.0 267.6h.6M292.3 266.3h.6M287.4 255.5h.6M291.3 264.7h.6M286.6 259.8h.6M312.4 256.1h.6M287.5 262.0h.6M278.4 255.3h.6M282.0 260.4h.6M283.9 266.8h.6M278.0 264.5h.6M300.5 267.2h.6M278.3 246.1h.6M295.2 265.0h.6M283.0 269.3h.6M284.6 262.9h.6M279.2 264.1h.6M284.3 259.5h.6M297.2 263.5h.6M275.3 266.1h.6M295.1 257.7h.6M284.7 262.6h.6M285.9 263.0h.6M293.5 259.6h.6M305.7 258.4h.6M308.3 262.5h.6M286.4 256.4h.6M297.7 263.3h.6M280.8 264.5h.6M299.6 266.1h.6M306.8 268.7h.6M291.7 262.1h.6M292.7 269.0h.6M295.3 268.1h.6M289.9 266.5h.6M298.3 261.4h.6M293.0 259.9h.6M290.0 260.9h.6M273.5 261.3h.6M275.9 263.4h.6M287.1 268.5h.6M287.0 264.4h.6M285.5 260.2h.6M276.1 267.7h.6M289.5 259.1h.6M289.8 260.0h.6M281.8 263.7h.6M298.3 260.8h.6M275.9 258.9h.6M303.3 257.8h.6M298.1 261.0h.6M294.3 261.7h.6M274.6 260.0h.6M306.0 261.6h.6M292.8 260.5h.6M286.9 264.1h.6M287.9 261.3h.6M282.4 255.1h.6M274.3 266.0h.6M272.2 270.0h.6M295.3 260.7h.6M278.2 262.5h.6M288.2 268.5h.6M281.7 260.2h.6M287.6 260.8h.6M282.7 252.9h.6M274.1 258.6h.6M286.1 267.8h.6M287.0 259.4h.6M307.7 256.5h.6M284.5 260.9h.6M300.4 259.1h.6M294.7 260.1h.6M277.6 263.6h.6M289.5 256.0h.6M280.7 258.0h.6M296.2 264.9h.6M290.1 265.0h.6M284.0 265.0h.6M282.9 255.0h.6M282.1 263.5h.6M288.8 268.1h.6M273.7 261.1h.6M291.4 257.0h.6M290.2 260.1h.6M278.5 268.5h.6M276.3 267.8h.6M284.5 257.2h.6M280.5 258.3h.6M280.9 263.8h.6M272.2 269.2h.6M295.2 270.0h.6M279.7 249.6h.6M282.8 261.4h.6M290.6 259.5h.6M287.4 263.2h.6M278.5 263.8h.6M297.2 258.0h.6M288.1 271.3h.6M285.7 268.1h.6M290.6 263.6h.6M294.2 261.1h.6M286.3 267.6h.6M290.3 265.1h.6M277.9 262.5h.6M298.4 267.3h.6M291.0 259.5h.6M282.9 264.8h.6M300.2 262.6h.6M299.2 260.7h.6M298.3 256.9h.6M289.7 256.5h.6M293.7 265.5h.6M280.1 258.3h.6M284.4 254.2h.6M280.3 257.6h.6M294.8 270.0h.6M284.4 260.8h.6M289.9 259.5h.6M285.8 267.0h.6M290.1 261.9h.6M283.3 270.5h.6M282.9 263.0h.6M279.4 259.1h.6M288.9 260.2h.6M292.7 262.8h.6M276.4 249.7h.6M296.6 259.2h.6M300.7 262.5h.6M281.6 265.4h.6M285.8 262.4h.6M280.2 265.9h.6M297.4 259.5h.6M303.3 259.3h.6M290.2 253.4h.6M300.2 268.7h.6M273.7 263.6h.6M291.7 262.8h.6M290.6 257.3h.6M286.8 256.1h.6M285.1 264.4h.6M281.5 260.8h.6M284.4 262.5h.6M295.9 263.7h.6M291.5 254.5h.6M285.0 266.9h.6M280.8 260.0h.6M279.9 269.7h.6M284.3 258.4h.6M293.3 268.4h.6M292.3 267.7h.6M289.9 261.6h.6M284.3 259.6h.6M283.0 264.4h.6M287.1 262.8h.6M293.2 262.0h.6M276.4 258.0h.6M278.6 251.9h.6M289.0 255.8h.6M277.2 256.4h.6M295.5 260.6h.6M296.5 261.8h.6M284.4 265.4h.6M293.1 263.0h.6M279.3 259.8h.6M278.0 260.9h.6M288.8 270.5h.6M300.0 266.0h.6M296.1 263.6h.6M311.6 270.7h.6M310.5 264.4h.6M291.5 268.1h.6M289.6 264.0h.6M279.6 267.5h.6M289.2 266.8h.6M286.1 252.6h.6M292.3 268.7h.6M277.1 257.0h.6M285.5 260.9h.6M296.6 258.9h.6M272.6 264.3h.6M304.9 266.9h.6M297.8 257.1h.6M290.0 254.1h.6M304.8 265.4h.6M270.1 252.1h.6M292.1 263.1h.6M285.4 265.7h.6M305.1 264.3h.6M272.7 261.4h.6M276.8 257.9h.6M290.8 261.4h.6M278.9 262.1h.6M281.0 265.2h.6M285.9 264.4h.6M285.7 266.4h.6M286.8 262.2h.6M283.1 263.0h.6M282.1 262.8h.6M283.9 259.6h.6M291.3 259.4h.6M284.3 254.7h.6M280.1 255.8h.6M303.2 254.9h.6M278.8 263.3h.6M300.0 252.9h.6M274.7 262.9h.6M290.7 254.4h.6M272.6 256.9h.6M294.2 262.0h.6M294.2 261.6h.6M287.6 265.6h.6M286.8 263.5h.6M280.1 258.9h.6M291.8 260.9h.6M281.5 265.8h.6M292.5 262.2h.6M281.4 267.1h.6M309.1 257.7h.6M274.7 257.9h.6M279.9 255.2h.6M277.8 266.8h.6M295.1 270.3h.6M294.2 259.5h.6M297.0 258.8h.6M284.8 255.7h.6M298.2 267.7h.6M283.9 260.5h.6M288.1 263.3h.6M295.0 262.5h.6M291.2 253.9h.6M285.2 252.3h.6M302.9 269.8h.6M293.8 268.3h.6M304.8 267.3h.6M274.2 261.0h.6M267.7 257.7h.6M277.2 262.1h.6M291.1 257.0h.6M285.3 263.7h.6M286.4 261.1h.6M267.3 259.7h.6M294.5 263.5h.6M275.1 260.6h.6M290.0 256.8h.6M293.4 257.7h.6M284.9 261.5h.6M306.6 260.3h.6M282.8 266.0h.6M283.7 263.2h.6M268.5 263.7h.6M287.5 255.0h.6M299.2 260.8h.6M286.0 254.9h.6M273.9 259.0h.6M274.7 264.8h.6M295.1 258.6h.6M274.0 259.9h.6M278.7 263.0h.6M289.2 259.7h.6M288.3 267.8h.6M302.1 259.2h.6M293.8 260.8h.6M278.7 269.1h.6M291.0 262.9h.6M290.7 261.2h.6M295.3 263.5h.6M295.9 269.1h.6M286.0 265.3h.6M284.9 265.6h.6M284.6 264.9h.6M291.6 260.2h.6M295.6 261.6h.6M284.1 262.1h.6M281.3 268.7h.6M293.0 267.5h.6M276.2 263.6h.6M281.1 262.5h.6M298.5 263.5h.6M286.2 268.2h.6M271.8 263.9h.6M284.1 257.3h.6M288.6 255.7h.6M268.7 257.1h.6M281.5 255.6h.6M270.8 260.1h.6M285.6 262.9h.6M275.4 257.9h.6M268.4 263.0h.6M274.3 247.0h.6M297.5 264.9h.6M290.6 264.0h.6M278.8 268.0h.6M289.6 251.9h.6M285.5 267.9h.6M285.9 258.6h.6M265.7 268.9h.6M283.9 264.2h.6M278.0 257.1h.6M297.2 260.0h.6M284.3 255.1h.6M289.5 266.4h.6M283.8 261.1h.6M277.3 269.8h.6M282.4 261.2h.6M302.0 260.8h.6M274.5 257.0h.6M289.6 260.9h.6M294.8 269.3h.6M281.2 270.0h.6M295.0 264.6h.6M267.5 263.2h.6M299.6 260.6h.6M307.5 262.5h.6M279.1 265.4h.6M290.3 266.7h.6M285.9 269.3h.6M283.0 262.9h.6M277.1 257.7h.6M289.5 258.5h.6M283.9 261.0h.6M289.9 266.4h.6M294.4 267.8h.6M289.5 259.1h.6M274.2 260.2h.6M281.0 252.1h.6M301.9 252.0h.6M290.9 265.3h.6M288.0 257.9h.6M302.9 257.7h.6M275.5 256.6h.6M282.3 262.4h.6M290.7 253.7h.6M281.7 261.4h.6M293.8 268.9h.6M282.1 256.8h.6M279.1 268.3h.6M295.6 250.1h.6M269.4 255.3h.6M274.9 264.5h.6M294.7 262.9h.6M298.0 257.2h.6M275.8 262.4h.6M295.9 253.1h.6M295.5 267.0h.6M283.5 263.1h.6M285.4 262.6h.6M294.8 257.7h.6M296.8 267.0h.6M295.6 251.2h.6M271.7 266.0h.6M282.8 258.3h.6M281.2 254.7h.6M285.3 258.1h.6M282.1 264.9h.6M277.6 268.5h.6M276.1 265.4h.6M295.7 262.2h.6M294.2 261.6h.6M272.6 264.1h.6M297.7 259.1h.6M273.1 258.8h.6M290.6 263.9h.6M297.4 265.3h.6M292.2 251.0h.6M307.1 262.5h.6M295.3 260.2h.6M286.5 262.5h.6M301.4 270.7h.6M284.4 265.1h.6M283.9 269.5h.6M288.2 267.7h.6M302.8 250.6h.6M306.7 264.0h.6M285.1 251.5h.6M285.2 249.3h.6M288.6 261.3h.6M303.7 260.4h.6M297.2 268.8h.6M305.8 260.8h.6M294.5 253.7h.6M278.3 260.7h.6M287.7 255.4h.6M284.3 266.2h.6M283.9 261.4h.6M280.2 270.0h.6M303.4 263.4h.6M292.1 258.5h.6M276.2 258.9h.6M307.1 258.9h.6M313.1 262.3h.6M286.1 269.7h.6M285.8 264.4h.6M278.9 255.3h.6M281.5 263.5h.6M282.2 251.2h.6M292.1 261.3h.6M285.5 258.8h.6M268.3 271.2h.6M283.8 265.3h.6M300.1 268.7h.6M289.7 262.3h.6M290.6 267.4h.6M293.0 259.8h.6M291.9 264.4h.6M294.0 263.4h.6M299.9 263.4h.6M295.7 262.5h.6M283.0 257.0h.6M286.6 265.3h.6M299.0 261.8h.6M283.5 259.4h.6M299.2 262.9h.6M283.6 266.5h.6M276.5 263.0h.6M287.6 261.5h.6M277.9 267.8h.6M302.7 254.8h.6M289.0 265.9h.6M307.7 259.9h.6M279.7 262.3h.6M305.5 262.7h.6M269.4 250.1h.6M295.9 266.7h.6M275.9 265.2h.6M288.4 263.5h.6M281.0 259.7h.6M280.4 262.6h.6M293.5 253.4h.6M291.6 270.4h.6M290.5 268.4h.6M287.7 266.3h.6M279.8 266.7h.6M276.0 269.6h.6M274.8 250.4h.6M292.6 261.3h.6M289.0 264.7h.6M287.8 257.3h.6M289.8 264.3h.6M281.6 262.7h.6M292.9 259.8h.6M277.6 259.1h.6M297.3 260.8h.6M293.3 258.2h.6M291.9 258.5h.6M280.7 262.9h.6M288.5 270.6h.6M273.8 265.2h.6M302.1 270.0h.6M284.7 258.5h.6M283.7 264.0h.6M289.7 264.3h.6M293.2 256.3h.6M278.2 255.4h.6M276.3 261.7h.6M292.7 262.4h.6M300.4 258.2h.6M291.0 267.8h.6M294.9 264.6h.6M285.0 255.3h.6M286.7 258.9h.6M294.0 261.5h.6M292.9 253.2h.6M296.5 257.5h.6M274.4 254.5h.6M282.5 268.6h.6M294.2 255.7h.6M288.8 261.7h.6M274.3 256.7h.6M270.2 257.4h.6M264.9 257.8h.6M279.8 257.8h.6M280.8 268.8h.6M285.0 263.7h.6M294.6 267.4h.6M293.9 259.2h.6M278.4 257.9h.6M283.9 262.3h.6M287.3 268.5h.6M297.0 259.6h.6M295.5 246.1h.6M300.0 264.6h.6M291.5 252.8h.6M309.9 260.9h.6M286.8 268.6h.6M286.3 257.5h.6M293.7 256.6h.6M294.5 263.1h.6M297.8 255.5h.6M298.8 264.0h.6M305.2 258.6h.6M304.1 266.3h.6M294.9 258.2h.6M292.9 266.1h.6M280.8 255.8h.6M281.3 270.5h.6M289.4 267.6h.6M290.5 263.0h.6M289.9 260.0h.6M298.6 263.3h.6M290.0 254.5h.6M290.7 258.5h.6M283.6 268.1h.6M278.5 261.2h.6M293.5 268.8h.6M283.5 264.1h.6M290.5 256.0h.6M269.4 251.5h.6M293.2 262.9h.6M276.4 258.7h.6M284.5 260.3h.6M281.2 263.1h.6M281.3 258.8h.6M280.3 261.0h.6M283.2 264.3h.6M289.8 257.3h.6M304.6 255.7h.6M281.8 269.7h.6M300.3 264.2h.6M271.9 270.3h.6M288.8 259.2h.6M299.1 258.2h.6M297.2 259.2h.6M292.6 256.2h.6M284.6 257.1h.6M281.8 263.3h.6M286.5 263.4h.6M299.1 261.7h.6M271.8 260.7h.6M288.7 268.0h.6M297.0 267.6h.6M286.0 265.9h.6M275.5 269.6h.6M291.8 265.1h.6M284.7 262.6h.6M282.2 265.5h.6M276.5 267.8h.6M287.7 261.8h.6M289.7 262.5h.6M287.1 256.1h.6M278.4 259.1h.6M285.5 255.6h.6M277.9 260.7h.6M294.4 261.2h.6M293.9 267.8h.6M294.7 259.9h.6M284.5 251.8h.6M282.1 264.9h.6M278.6 269.9h.6M300.4 260.2h.6M296.0 254.3h.6M278.9 260.2h.6M288.1 261.3h.6M290.5 263.9h.6M293.9 263.3h.6M286.0 259.2h.6M273.8 270.7h.6M280.0 253.0h.6M281.0 253.3h.6M305.3 264.4h.6M300.2 270.5h.6M292.9 265.5h.6M281.7 261.8h.6M282.8 262.5h.6M281.9 269.4h.6M294.6 261.7h.6M273.5 266.1h.6M295.7 261.9h.6M277.1 264.7h.6M297.1 251.5h.6M292.9 252.1h.6M288.8 265.0h.6M285.2 262.3h.6M308.4 269.8h.6M285.3 260.2h.6M289.8 268.5h.6M284.8 255.2h.6M299.5 261.9h.6M281.2 258.4h.6M282.2 258.9h.6M274.7 269.0h.6M291.3 267.8h.6M285.0 264.2h.6M289.4 268.9h.6M295.1 264.3h.6M282.4 255.6h.6M281.1 258.8h.6M283.3 255.4h.6M302.4 263.8h.6M270.6 256.2h.6M276.4 263.6h.6M297.2 256.8h.6M293.4 260.8h.6M297.9 269.9h.6M290.7 266.3h.6M288.0 260.2h.6M278.0 264.1h.6M287.4 260.2h.6M287.3 261.3h.6M279.0 259.4h.6M297.9 261.0h.6M300.0 255.9h.6M276.3 263.0h.6M294.7 258.6h.6M293.4 267.5h.6M297.2 261.7h.6M287.6 253.1h.6M288.2 263.9h.6M300.2 255.2h.6M280.7 256.7h.6M295.7 248.2h.6M293.6 254.9h.6M287.5 267.0h.6M292.7 261.1h.6M281.2 266.9h.6M287.9 266.8h.6M291.4 259.7h.6M300.4 259.5h.6M291.7 258.8h.6M286.0 260.9h.6M282.3 263.6h.6M300.3 261.3h.6M300.5 264.6h.6M303.4 255.3h.6M300.7 259.0h.6M297.9 259.7h.6M295.8 260.7h.6M271.9 256.9h.6M285.9 262.4h.6M268.8 255.7h.6M281.7 261.1h.6M289.9 257.7h.6M275.0 264.0h.6M285.2 267.2h.6M283.5 265.9h.6M280.4 263.8h.6M288.8 264.8h.6M280.0 261.6h.6M280.7 261.4h.6M288.3 266.3h.6M289.0 268.6h.6M292.0 268.1h.6M299.8 252.9h.6M290.6 262.7h.6M269.2 257.5h.6M284.1 258.2h.6M289.1 252.4h.6M294.4 266.6h.6M291.0 260.5h.6M288.1 259.7h.6M297.8 265.1h.6M305.1 260.3h.6M300.4 259.1h.6M286.6 256.6h.6M292.5 262.0h.6M293.3 270.6h.6M287.6 264.4h.6M295.7 262.0h.6M283.4 264.3h.6M292.3 266.6h.6M295.2 258.6h.6M291.8 269.1h.6M284.1 264.3h.6M282.8 263.3h.6M302.9 263.3h.6M279.8 264.2h.6M289.9 268.5h.6M276.4 257.3h.6M287.4 253.8h.6M297.7 251.2h.6M281.0 254.2h.6M282.5 266.8h.6M293.2 267.4h.6M293.2 251.1h.6M290.6 252.2h.6M283.8 260.2h.6M283.4 265.1h.6M293.2 268.9h.6M294.5 267.3h.6M279.1 264.9h.6M288.1 261.1h.6M290.8 258.2h.6M295.5 266.7h.6M288.9 266.4h.6M279.2 252.4h.6M283.1 261.0h.6M309.3 261.1h.6M296.9 267.0h.6M306.0 263.0h.6M293.6 261.3h.6M280.7 256.8h.6" stroke="#303030" stroke-width="0.6" stroke-opacity="1.0"/>
<path d="M288.8 240.9h.6M297.4 231.4h.6M295.2 229.0h.6M294.8 232.1h.6M300.3 237.8h.6M282.0 233.8h.6M306.1 226.2h.6M293.1 233.4h.6M303.9 235.9h.6M293.3 235.4h.6M303.4 234.7h.6M310.0 234.9h.6M286.7 227.7h.6M294.0 231.1h.6M300.1 234.5h.6M308.8 237.2h.6M307.0 227.8h.6M291.7 236.5h.6M295.8 236.1h.6M297.1 228.7h.6M308.7 239.2h.6M282.7 228.7h.6M295.3 236.5h.6M294.5 224.2h.6M301.8 231.1h.6M304.8 234.2h.6M303.1 237.4h.6M302.2 229.4h.6M303.4 233.6h.6M285.2 230.0h.6M292.5 235.2h.6M300.6 225.7h.6M301.0 232.0h.6M286.7 237.4h.6M289.1 225.3h.6M301.2 237.8h.6M289.9 238.8h.6M303.2 229.3h.6M311.1 232.1h.6M297.0 218.2h.6M300.3 228.7h.6M298.7 222.2h.6M304.4 241.2h.6M310.3 214.8h.6M299.9 234.5h.6M271.1 228.1h.6M294.6 241.0h.6M288.6 233.7h.6M294.8 234.7h.6M292.1 237.9h.6M303.0 224.4h.6M304.2 228.0h.6M293.1 239.3h.6M296.1 236.0h.6M301.6 236.1h.6M291.0 226.9h.6M300.8 237.1h.6M298.2 231.4h.6M302.2 232.4h.6M284.4 234.3h.6" stroke="#aaaaaa" stroke-width="0.6" stroke-opacity="1.0"/>
<path d="M267.2 222.1l .9-.2 1.8.2 .6.2 .6.5 1.7 2.6 .4 2.7 .9 2.1 .1 2.1 .5 2.1-.7 3.3 .4 2.7-.8 3.9 .2 4.2 .3 1.2 1.2 1.5 .3.9 0 3.3 .6 2.7-.3 2.1 .4 1.8 0 .9-.6 1.8-.1 2.1-.6 1.5-.5 1.8-.4.7-1.2 1.2-1.3 2-1.4 1-1.5.5-1.2-.1-.9-.4-1.2-.8-1-1.1-2.2-5.1-.6-2.1-.1-1.2 .3-3.6-.2-2.7 .3-2.7 .2-1.1 .9-1.4 .2-.8 .5-6-.1-3.3-.6-2.1-.5-3.3 0-3.6 .5-4.8 .3-1.8 .6-1.5 2.4-3.1 .9-.8Z" fill="#fff" fill-rule="evenodd" stroke="#111" stroke-width="0.5"/><path d="M267.8 235.9l .6.1 .3.2 .5.6 .2.9-.5 1.8-.5.6-.6.1-.6-.2-.5-.5-.3-1.2 .4-1.5 .4-.6 .6-.3ZM267.8 243.4l .6-.2 .6.2 1.3 1.2 .4.6-.1 2.7 .2 2.1 1.5 1.5 .4.6 0 .3-.7.9 0 .9 .3 1.3 1.1 2.9 .4 4.5-.4 3.9-.8 3-1.1 2.4-.5.9-.8.8-.9.5-.9.2-1.2-.1-.9-.5-.9-.7-.8-1.1-1.7-4.5-.5-3 .2-4.8 .6-3.3 .8-1.8 1.3-2.4 2-2.1 0-.3-.8-.9-.2-1.2 .9-3.6 .6-.9Z" fill="#000" fill-opacity="0.1" fill-rule="evenodd" stroke="#111" stroke-width="0.5"/><path d="M267.3 252.1l 1.1-.1 .9.2 .9.6 .6.8 2.2 5.1 .3 3.9-.3 3.6-.8 3-.6 1.5-.8 1.5-.6.8-.9.6-1.2.3-.9-.1-.9-.5-1.3-1.4-1.6-3.9-.6-3.3 .1-4.5 .8-3.6 1.7-3.1 .9-.9 1-.5Z" fill="#000" fill-opacity="0.15" fill-rule="evenodd" stroke="#111" stroke-width="0.5"/><path d="M267.1 253.3l 1-.2 .9.2 .9.7 .9 1.1 1.7 3.6 .4 3.3-.2 3.3-1.2 4.2-.9 1.8-.7 1-.9.6-.9.2-1.5-.4-.9-.7-.7-1-1.2-3.3-.5-3 0-4.2 .7-3 .7-1.8 .7-1.1 .9-.9 .8-.4Z" fill="#000" fill-opacity="0.2" fill-rule="evenodd" stroke="#111" stroke-width="0.5"/><path d="M266.8 254.2l .7-.2 1.2.1 1.5 1.1 .8 1.1 .9 1.8 .6 2.4 0 3.9-1.2 4.5-1.5 2.7-.8.7-.9.2-.9-.1-.6-.3-.7-.5-.6-.9-1.2-3.3-.5-2.7 0-3.9 .5-2.7 1.3-2.7 .6-.7 .8-.5Z" fill="#000" fill-opacity="0.25" fill-rule="evenodd" stroke="#111" stroke-width="0.5"/><path d="M266.9 254.8l 1.8 0 .9.4 .6.6 1.5 2.6 .4 1.2 .2 1.2-.1 3.3-1.4 4.8-.7 1.5-.8 1-.6.4-.9.2-1.2-.3-1.1-1.3-1.1-3.3-.5-3-.1-3.3 .6-2.4 1-2.4 .6-.7 .9-.5Z" fill="#000" fill-opacity="0.25" fill-rule="evenodd" stroke="#111" stroke-width="0.5"/><path d="M266.8 255.4l 2.2 0 1.2.9 .9 1.4 .7 1.6 .3 2.7-.2 2.4-1.8 5.1-1.1 1.5-.6.3-.9.2-.6-.1-.6-.4-.8-1.2-.8-3-.7-5.1 .1-1.5 .8-2.4 1.1-1.8 .8-.6ZM267.8 262.1l-.1.5 .1.9 .3-.2 0-.4 0-.5-.3-.3Z" fill="#000" fill-opacity="0.25" fill-rule="evenodd" stroke="#111" stroke-width="0.5"/><path d="M268.1 256l .6-.1 .6.1 .6.5 .6.8 1.2 2.5 .2 2.8-.2 1.3-1.3 2.6-.8 3-.9 1-.9.5-.6.1-.9-.5-.5-.8-.7-3-.1-1.8-.5-1.7-.2-2.2 .5-2.1 1.2-2.2 .9-.7 1.2-.1ZM267.8 260.9l-.6.8-.2.9 .5 2.4 .3.8 .3.2 .4-.7 0-2.7-.2-1.2-.2-.3-.3-.2Z" fill="#000" fill-opacity="0.2" fill-rule="evenodd" stroke="#111" stroke-width="0.5"/><path d="M268.6 256.6l .7 0 .6.6 1.4 2.4 .3 1.2 .1 1.8-.3 1.1-.6.8-1.2.4-.3-.1-.2-.4-.3-2.4-.7-1.9-.3-.2-1.2 1.5-.3.9 0 1.2-.3.5-.6-.2-.3-.3-.6-1.8 .3-1.7 1.2-2.1 .9-.7 .9.4 .8-1ZM266 265.3l .3-.3 .3 0 1.4 2.4 1-.3 .3.6 0 .9-.3.7-1.5 1.2-.8-.1-.5-.6-.6-3.3 .4-1.2Z" fill="#000" fill-opacity="0.15" fill-rule="evenodd" stroke="#111" stroke-width="0.5"/><path d="M269.2 257.8l .4.2 1.2 1.4 .5 1.1 .1 2.1-.3.8-.6.4-.6 0-.3-.3-1-3.3 0-1.2 .6-1.2ZM265.5 260.2l .3 0 .1.3-.5 1.5-.3-.1-.1-.8 .1-.5 .4-.4ZM266.5 266.8l .1-.1 .3.2 0 1-.4-1.1ZM266.8 268.6l .1-.3 .3.1 .2.5 .1.6-.3.3-.3 0-.1-.3 0-.9Z" fill="#000" fill-opacity="0.1" fill-rule="evenodd" stroke="#111" stroke-width="0.5"/><path d="M269.2 259.6l .4-.2 .6.2 .7.9 .2 1.6-.3.7-.3.2-.6-.3-.3-.6-.5-1.6 .1-.9Z" fill="#000" fill-opacity="0.05" fill-rule="evenodd" stroke="#111" stroke-width="0.5"/>
</g>
<line x1="278.4" y1="202" x2="278.4" y2="272.5" stroke="#3a3a3a" stroke-width="0.95"/>
<line x1="256.1" y1="244" x2="326.8" y2="244" stroke="#3a3a3a" stroke-width="0.95"/>
<rect x="256.1" y="202" width="70.7" height="70.5" fill="none" stroke="#000" stroke-width="1.5"/>
<path d="M256.1 203.5h-2M256.1 204.95h-2M256.1 206.4h-2M256.1 207.85h-2M256.1 209.3h-2M256.1 210.75h-2M256.1 212.2h-2M256.1 213.65h-2M256.1 215.1h-2M256.1 216.55h-2M256.1 218h-2M256.1 219.45h-2M256.1 220.9h-2M256.1 222.35h-2M256.1 223.8h-2M256.1 225.25h-2M256.1 226.7h-2M256.1 228.15h-2M256.1 229.6h-2M256.1 231.05h-2M256.1 232.5h-2M256.1 233.95h-2M256.1 235.4h-2M256.1 236.85h-2M256.1 238.3h-2M256.1 239.75h-2M256.1 241.2h-2M256.1 242.65h-2M256.1 244.1h-2M256.1 245.55h-2M256.1 247h-2M256.1 248.45h-2M256.1 249.9h-2M256.1 251.35h-2M256.1 252.8h-2M256.1 254.25h-2M256.1 255.7h-2M256.1 257.15h-2M256.1 258.6h-2M256.1 260.05h-2M256.1 261.5h-2M256.1 262.95h-2M256.1 264.4h-2M256.1 265.85h-2M256.1 267.3h-2M256.1 268.75h-2M256.1 270.2h-2M256.1 271.65h-2M257.6 272.5v2M259.05 272.5v2M260.5 272.5v2M261.95 272.5v2M263.4 272.5v2M264.85 272.5v2M266.3 272.5v2M267.75 272.5v2M269.2 272.5v2M270.65 272.5v2M272.1 272.5v2M273.55 272.5v2M275 272.5v2M276.45 272.5v2M277.9 272.5v2M279.35 272.5v2M280.8 272.5v2M282.25 272.5v2M283.7 272.5v2M285.15 272.5v2M286.6 272.5v2M288.05 272.5v2M289.5 272.5v2M290.95 272.5v2M292.4 272.5v2M293.85 272.5v2M295.3 272.5v2M296.75 272.5v2M298.2 272.5v2M299.65 272.5v2M301.1 272.5v2M302.55 272.5v2M304 272.5v2M305.45 272.5v2M306.9 272.5v2M308.35 272.5v2M309.8 272.5v2M311.25 272.5v2M312.7 272.5v2M314.15 272.5v2M315.6 272.5v2M317.05 272.5v2M318.5 272.5v2M319.95 272.5v2M321.4 272.5v2M322.85 272.5v2M324.3 272.5v2M325.75 272.5v2" stroke="#111" stroke-width="0.55"/>
<text x="252.2" y="212.6" font-size="6" text-anchor="end" fill="#111" stroke="#111" stroke-width="0.18">10<tspan font-size="4.4" dy="-2.6">5</tspan></text>
<text x="252.2" y="228.1" font-size="6" text-anchor="end" fill="#111" stroke="#111" stroke-width="0.18">10<tspan font-size="4.4" dy="-2.6">4</tspan></text>
<text x="252.2" y="244.1" font-size="6" text-anchor="end" fill="#111" stroke="#111" stroke-width="0.18">10<tspan font-size="4.4" dy="-2.6">3</tspan></text>
<text x="252.2" y="261.7" font-size="6" text-anchor="end" fill="#111" stroke="#111" stroke-width="0.18">10<tspan font-size="4.4" dy="-2.6">2</tspan></text>
<text x="252.9" y="267.9" font-size="6" text-anchor="end" fill="#111" stroke="#111" stroke-width="0.18">0</text>
<text x="266.4" y="284.9" font-size="6" text-anchor="middle" fill="#111" stroke="#111" stroke-width="0.18">0</text>
<text x="287" y="284.9" font-size="6" text-anchor="middle" fill="#111" stroke="#111" stroke-width="0.18">10</text>
<text x="291.1" y="282.4" font-size="4.4" fill="#111" stroke="#111" stroke-width="0.18">3</text>
<text x="303.6" y="284.9" font-size="6" text-anchor="middle" fill="#111" stroke="#111" stroke-width="0.18">10</text>
<text x="307.7" y="282.4" font-size="4.4" fill="#111" stroke="#111" stroke-width="0.18">4</text>
<text x="320" y="284.9" font-size="6" text-anchor="middle" fill="#111" stroke="#111" stroke-width="0.18">10</text>
<text x="324.1" y="282.4" font-size="4.4" fill="#111" stroke="#111" stroke-width="0.18">5</text>
<text x="257.3" y="208.6" font-size="5.9" text-anchor="start" font-weight="normal" fill="#111" >4.01</text>
<text x="325.6" y="208.6" font-size="5.9" text-anchor="end" font-weight="normal" fill="#111" >0.0755</text>
<text x="257.3" y="270.9" font-size="5.9" text-anchor="start" font-weight="normal" fill="#111" >93.3</text>
<text x="325.6" y="270.9" font-size="5.9" text-anchor="end" font-weight="normal" fill="#111" >2.51</text>
<g clip-path="url(#c11)">
<path d="M393.3 236.4h.6M384.9 228.8h.6M392.3 230.3h.6M389.9 237.2h.6M392.7 241.7h.6M392.1 241.1h.6M396.7 245.3h.6M390.5 232.2h.6M398.2 230.1h.6M387.6 233.9h.6M392.7 225.7h.6M392.0 231.1h.6M390.3 233.6h.6M389.3 238.0h.6M393.4 231.8h.6M391.0 237.9h.6M395.2 239.0h.6M389.7 233.4h.6M402.6 232.6h.6M400.6 237.0h.6M388.0 225.8h.6M394.4 229.3h.6M386.4 224.2h.6M397.7 233.3h.6M390.8 234.8h.6M392.1 233.3h.6M393.7 231.4h.6M375.2 236.5h.6M393.2 232.9h.6M400.1 225.9h.6" stroke="#bbbbbb" stroke-width="0.6" stroke-opacity="1.0"/>
<path d="M365.1 246.1l 1.4.1 1.2.3 1.5.9 1 1.1 .7 1.2 1.4 3.6 .4 1.8 .2 2.4-.2 2.1-.4 1.5-.8 2.4-.6 1.2-1.1 1.1-2.1 1.6-1.2.5-1.5.2-1.2-.2-.9-.3-1.1-.8-1.2-1.5-1.1-1.8-.6-1.5-.6-2.4-.1-1.2 .3-5.4 1.5-3.9 1.1-1.2 1.5-1 1.5-.6 1-.2ZM384.5 246.1l 1.5-.2 1.8.4 2.4 2.2 1.2.4 .9-.1 .5-.6 .2-1.8 .8-.2 1.8.1 .9.4 1.1 2.1 1 .9 3 .2 .6.2 .6.6 1.3 2.3 .4 1.5 .2 2.4-.5 3 .5 3.6-.3 1.5-.5 1.2-.8 1.3-.9.9-2.5 1.7-1.1.4-5.4.7-2.1-.2-2.1-.7-2.7.5-4.2-.3-1.1-.4-3.4-2-.9-.7-.8-1.5-.8-4.5-.3-3.9 .2-1.8-.2-2.1 .2-1.2 1.7-2.7 1.2-.7 1.5-1.4 .9-.3 1.8-.1 2.4-1.1Z" fill="#fff" fill-rule="evenodd" stroke="#111" stroke-width="0.5"/><path d="M364.3 246.4l 1.3-.2 1.5.3 1.5.7 1.2 1 1 1.5 1.3 3.3 .6 3.6 0 2.1-.4 1.8-.8 2.7-.6 1.2-1.1 1.2-2.1 1.6-.9.4-1.5.3-1.2-.1-.9-.2-.9-.6-1.3-1.4-1.2-1.8-.7-1.5-.6-1.8-.2-1.8 .2-5.4 1.5-3.9 .8-1 1.2-1 .9-.5 1.4-.5ZM384.7 246.4l 1-.1 1.5.2 .7.5 1.7 1.8 1.2.6 .9.1 1.1-.1 .6-.3 .7-1.8 .6-.4 .6 0 .5.4 .7 1.8 1.5 1.2 .9.3 3 .5 1.2.8 .9 1.4 .3 1.2 .1 2.4-.6 3 .7 3.6-.2 1.2-.5 1.2-.7 1.1-.9 1-2.5 1.8-1.1.5-1.5.3-3.9.4-2.1-.4-.5-.2-.7-1-.3-.1-3 1.2-4.5-.3-.9-.4-1.5-1.3-2.1-1-.9-.7-.5-1.2-.9-4.5-.2-3.3 .2-2.4-.3-1.8 .1-1.2 1-1.4 .9-.5 1.5-.6 1.5-1.6 2.1-.5 2.6-1.4Z" fill="#000" fill-opacity="0.03" fill-rule="evenodd" stroke="#111" stroke-width="0.5"/><path d="M363.7 246.7l 1.6-.3 1.5.2 1.5.6 1.4 1 .8 1.2 1.5 3.6 .4 1.5 .2 2.1-.3 3.3-.8 3-.6 1.2-.8 1-2.4 1.9-1.2.5-1.2.2-1.5-.1-.9-.3-1.7-1.7-1.8-2.7-.6-1.8-.3-1.8 .1-5.7 1.2-3.3 .6-1.2 .8-.9 1.4-1 1.1-.5ZM384.5 247l .9-.3 1.3.3 .8.6 .9 1.2 .9.6 1.5.4 2.4.2 1.5.3 2.1.1 2.3.8 3.1.7 .6.4 .7.7 .5 1.2 .1 1.8-.2.9-.7 1.8-.1.9 .1.9 .9 2.4-.1 1.8-.9 1.8-.6.6-.6.2-.4-.2-.8-1.3-.6-.3-.3.2-.6 1.7 0 .6 .4.9-.6.9-.7.4-1.5.3-2.7.3-1.2-.1-1.5-.5-.6-1.4-.9-.5-.6.2-1.8 1.2-.9.3-3.6-.1-1.2-.4-.9-1.5-3-1-1-.8-.5-1.2-.2-2.1-.5-1.8-.3-1.8 0-1.8 .2-1.8-.5-2.4 .2-.9 .5-.7 .6-.5 3.2-1.2 3.1-1.7 1.8-1.3Z" fill="#000" fill-opacity="0.03" fill-rule="evenodd" stroke="#111" stroke-width="0.5"/><path d="M364.4 246.7l 1.5-.1 1.8.5 1.2.6 1.1 1.1 .8 1.5 1.3 3.3 .4 3.3-.1 1.8-.3 1.8-.6 2.1-.7 1.5-1 1.1-2.4 1.7-1.2.5-1.2.2-1.2-.1-.9-.4-.9-.7-1.1-1.4-1.2-1.8-.5-1.2-.7-3 .3-5.7 1.2-3.3 .8-1.2 1.2-1.1 1.2-.7 1.2-.3ZM385 247.6l .7 0 .4.3 .7 1.2 .4.3 7.8 1.4 2.1.1 4.8 1.5 .9.5 .6.7 .3 1.2-.2 1.2-1.4 2.1-.4 1.8 .5 1.5 1.2 1.2 .3.6-.1 1.5-.5 1-.6.3-1.6-1.6-.5-.2-.3.1-.6.8-.6 1.4-.3 1.5 .1 1.2-.5.6-1.7.5-3.3.1-1-.6-.6-1.2-.5-.6-.9-.4-.9.2-1.8 1.3-.9.3-3 0-.9-.5-.3-2.1-.3-.4-1.8.4-.9 0-1.5-.6-.7-.6-.4-1.2 0-2.1-.7-1.8-.3-1.6 0-1.4 .2-1.5-.6-2.4 .2-1.2 .5-.6 .6-.4 4.8-1.4 2.7-2 .8-.4ZM399.5 255.6l 0 .4 .3.1 .3-.4-.6-.1Z" fill="#000" fill-opacity="0.04" fill-rule="evenodd" stroke="#111" stroke-width="0.5"/><path d="M363.9 247l 1.4-.2 1.8.2 1.5.7 1 .8 .9 1.5 1.2 3 .4 1.2 .3 2.4-.3 3.3-.9 3-.6 1.2-1.1 1.1-2.4 1.7-.9.4-1.2.1-1.2-.1-.9-.4-1.9-1.9-1.6-2.7-.5-1.8-.2-1.5 .2-5.4 1.2-3.3 .6-1.2 .7-.8 1.2-.8 1.3-.5ZM384.3 249.1l .5-.1 1.2.7 .9.2 5.7.6 2.4.6 2.1.2 4.5 1.6 1.2.9 .1.7-.4.6-2.7-.5-.7.2-.6.6 0 .6 .2.3 1.7 1.1 .2.4 .3 3.9-.2.6-.9 1.3-.9 1.9-.8 3.4-.4.7-1.5.5-2.1-.1-.8-.5-1.6-2-1.5-.7-1.2.3-1.3 1.2-.8.4-1.2.1-1.6-.2-.6-.6-.3-1.5 .4-.9 1.2-1.2-.3-.5-.6-.3-1 .2-1.2 1.5-1.4.8-.6.1-.9-.3-1.1-.9-.1-.9 .5-1.5-1.5-2.7-.2-1.8 .3-1.8-1-2.4 0-1.2 .5-.6 .8-.5 4.9-1.3 2.4-1.2ZM380 256.9l-.5.3-.1.3 .3.6 .8.6 1.9.6 .9-.3 .2-.3-.2-.9-1.2-.9-1.2-.2-.9.2Z" fill="#000" fill-opacity="0.05" fill-rule="evenodd" stroke="#111" stroke-width="0.5"/><path d="M363.5 247.3l 1.5-.3 1.8.2 1.5.5 1.2.9 .7 1.1 1.5 3.6 .5 3.3-.2 3-.8 3-.6 1.2-.8.8-2.7 2-.9.4-1.2.3-1.2-.2-.9-.4-1.9-2-1.6-2.7-.6-2.7 .3-5.7 1.3-3.6 .5-.9 .8-.8 1.8-1ZM384.5 250l 5.7.4 2.7.4 2.1.6 1.8.2 1.4.5 1 .9 .2.3-.1.3-1 1.1-.4 1 .2.6 1.6 1.8 .5 3.3-.2.9-1.7 3.9-.6 2.4-.6.8-1.5.3-.9-.1-.5-.4-1.6-2.6-1.2-1-.1-.6 .2-1.2-.4-.4-1.5.2-.8.5-1.3 3.3-.6.5-.6.1-1.8-.2-.4-.4-.1-.6 .5-.7 1.8-.3 .5-.5 .4-1.8-.2-.6-.4-.3-3.6.2-.9.6-.9 1.3-.6.5-.9.1-.5-.3-.2-.6 .6-1.2 .1-.9-.4-.6-1.6-1.2-.3-.6 .2-.8 .6-.2 2.1.8 3.3.4 1-.5 .2-.6 0-.6-.7-.9-1.7-.9-1.2-.3-2.7-.2-1.2-.4-1.1-1.2-.3-.9 .1-.6 .4-.7 1.2-.6 6.9-1.7ZM387.8 257.2l-.4.3 .1.3 .3.3 .9 0 .7-.3 .1-.3-.3-.3-.8-.1-.6.1ZM391.4 258.7l-.1.3 .4.5 .2-.5-.2-.3-.3 0Z" fill="#000" fill-opacity="0.06" fill-rule="evenodd" stroke="#111" stroke-width="0.5"/><path d="M363.4 247.6l 1.3-.3 2.1.2 1.2.3 1.2.8 .8 1.1 1.4 3.3 .7 3 0 1.8-.2 1.5-.8 3-.6 1.2-.7.8-3.1 2.2-.8.4-.9.2-.9-.1-.9-.3-2.1-2.1-1.4-2.3-.5-1.5-.2-1.5 .2-5.4 .3-1.2 1.1-2.7 .5-.9 .9-.8 1.4-.7ZM383 250.6l 2.1-.3 4.8.3 3 .4 2.1.8 1.8.2 1.1.7 .2.9-.7 2.1 .2.6 1.2 1.2 .5.9 .4 1.8 .1 1.2-.5 1.5-1.3 3-.6 2.3-.6.8-.9.3-.9-.2-.6-.5-.4-.9-1.9-5.7-.1-.6 .6-2.4-.2-.9-.4-.5-1.7-.7-1.6-.4-1.1.1-1.9.5-.9 0-3.4-1.1-3.2-.5-.9-.4-.6-.6-.3-1.2 .2-.6 .4-.3 1.8-.8 4.2-1ZM386.4 259.6l .8-.3 2.4.1 1 .8 .6 1.2-.4.6-.9.4-.9.1-.6-.2-2.2-1.5-.1-.6 .3-.6ZM381 260.8l .8 0 .8.3 .4.3-.1.3-1.1.8-.6.2-.4-.4-.3-.9 .1-.3 .4-.3Z" fill="#000" fill-opacity="0.08" fill-rule="evenodd" stroke="#111" stroke-width="0.5"/><path d="M363.4 247.9l 1.3-.3 2.4.2 1.2.4 .8.6 .9 1.2 1.3 3.3 .6 2.7-.2 3-.9 3.3-.4.9-.6.7-1.8 1-1.8 1.6-1.2.4-.9-.1-.9-.3-2.1-2.3-1.4-2.2-.6-2.4 .6-6.6 1.5-3.6 .8-.8 1.4-.7ZM383 250.9l 2.4-.3 4.8.2 2.7.5 2.1 1 1.6.4 .4.3 .2.6-.4 1.8 .1.6 2 2.4 .5 2.7-.3 1.5-1.4 3-.6 2.1-.6.9-.9.2-.6-.4-.3-.4-.2-1.2 .3-1.8-1.3-.8-.8-1.6-.1-1.2 .4-2.4-.1-1.1-.3-.8-3.9-1-3.3.6-1.5-.2-2.7-.9-2.7-.4-.8-.4-.6-.6-.1-.9 .7-.9 1.7-.7 3.6-.8ZM388.5 260.8l .5-.3 .3.1 .3.5-.3.3-.3-.1-.4-.2-.1-.3Z" fill="#000" fill-opacity="0.1" fill-rule="evenodd" stroke="#111" stroke-width="0.5"/><path d="M363.9 248.2l 3.5 0 .9.3 .8.6 .6.9 1.5 3.6 .5 2.7-.2 2.4-.8 3.3-.4.9-.8.7-1.9.8-1.6 1.8-1.3.4-.9-.1-.6-.3-2.4-2.7-1-1.8-.5-2.1 .2-1.8 .5-2.4 0-1.8 1-3.3 .4-.7 .6-.6 1.9-.8ZM383.3 251.2l 2.7-.3 3.3.1 1.5.2 2.3.6 2.6 1.8 .4.6 .1 1.8 2.1 2.1 .7 1.8 .1 1.2-.1.9-.6 1.2-.7 1-.9.6-1-.7-1.7-.4-.8-.8-.4-1.2 .4-2.4 .1-2.4-.2-.4-2.1-.1-2.7-.7-2.7.6-1.8-.1-3-1.1-2.1-.3-.6-.3-.5-.6 .1-.9 .8-.6 4.7-1.2ZM396 266.5l .2-.1 .3.1 0 .6-.2.6-.4.2-.3-.2-.1-.3 .1-.5 .4-.4Z" fill="#000" fill-opacity="0.13" fill-rule="evenodd" stroke="#111" stroke-width="0.5"/><path d="M366.2 248.8l .9-.2 .9.2 .6.3 .6.6 2 4.5 .2 1.5 0 1.8-1.1 4.2-.4.9-.4.3-1.5.4-.9.5-1.4 2.1-.7.4-.6 0-.6-.1-.6-.5-2.7-3.1-.8-1.8-.1-1.8 .3-1.5 .6-1.3 .6-.5 .9-.3 .1-.3-.8-1.8 .1-2.4 .3-.9 .9-.5 1.8.2 1.8-.9ZM385.1 251.5l 4.2-.3 3 .7 .9.5 .8.9 .4.9-.2.9-1 .7-1.8.3-1.2-.3-2.1-1.1-2.1 1.2-1.8.1-1.5-.5-1.8-1.2-1.8-.3-.4-.4 .2-.6 .6-.3 3.8-1 1.8-.2ZM394.3 256.6l .4-.3 .9.2 2.1 1.5 .6.8 .4 1.4 0 1.2-.5 1.2-.8.8-.6 0-2.4-.3-.6-.3-.3-.5-.2-.9 .4-1.8 0-1.8 .1-.6 .5-.6Z" fill="#000" fill-opacity="0.16" fill-rule="evenodd" stroke="#111" stroke-width="0.5"/><path d="M366.7 249.4l 1-.2 .9.5 .6 1.2 .3 1.8 1.3 1.5 .3 2.1-.4 2.4-1.2 3.2-.6.3-2.1.5-.6 0-.3-.3-.2-1.6-.4-.6-.9-.4-1.4.1-.3.3-.2.6 .1 2.4-.6.1-.9-.5-.6-.8-.4-.9-.2-1.2 .4-1.8 .5-1 .6-.3 1.8.2 .8-.4-.1-.6-1.5-3-.1-1.5 .6-.5 2.4-.3 1.4-1.3ZM388.2 251.8l 2-.1 2.1.8 .6.5 .2.6 .1.9-.2.6-1 .6-1.2-.1-.9-.5-1.2-1.6-.6-.3-1.2-.2-.5-.3 0-.3 .3-.3 1.5-.3ZM383.2 252.7l 1 .1 1.5.7 .4.7-.1.9-.6.4-.9.1-.9-.1-.8-.4-.5-.6-.1-.9 .4-.6 .6-.3ZM394.6 257.2l .4-.2 .6.2 2.2 1.8 .3.9 .1.9-.2.7-.6.7-.9.3-1.5.1-.6-.1-.5-.5-.1-.6 .4-1.8-.1-1.5 .5-.9ZM363.9 263.5l 1.1 0 .3.3 .2 1.2-.5.7-.9.1-.8-.8-.3-1.2 .9-.3Z" fill="#000" fill-opacity="0.2" fill-rule="evenodd" stroke="#111" stroke-width="0.5"/><path d="M367.3 250.3l .5 0 .4.6 0 .6-.6 1.8 .4 1.5 .6.3 1.5-.4 .3.4 .1.6-.7 2.7-.6 1.7-.6.9-.9.3-.6-.3-1.2-2.3 0-.3 1.3-1.2 .1-.9-.2-.3-1.8-.5-.9-.5-.8-1.1-.5-1.2 .1-.6 .3-.3 2.4-.3 1.4-1.2ZM390 252.7l .5-.1 .6 0 .9.6 .4 1-.4.9-.9.1-.6-.4-.5-1.2 0-.9ZM383.5 254.2l .7 0 .3.3 0 .3-.9 0-.2-.3 .1-.3ZM395.1 258.4l .2-.1 .3.2 1.1 1.1 .3.6-.2.6-.3.3-1.2.4-.4-.1 0-.3 .4-1.2-.2-1.5ZM360.8 260.2l .3 0 .3.7 0 .6-.3.2-.4-.6 .1-.9Z" fill="#000" fill-opacity="0.24" fill-rule="evenodd" stroke="#111" stroke-width="0.5"/><path d="M364.2 252.7l .8-.2 .9.4 .4.7-.2.6-.5.2-.9-.3-.5-.8 0-.6Z" fill="#000" fill-opacity="0.28" fill-rule="evenodd" stroke="#111" stroke-width="0.5"/>
<path d="M366 247.5C359 247.5 359.5 253 359.5 257.5C359.5 263 360 267.5 366 267.5" fill="none" stroke="#111" stroke-width="2.2"/>
<ellipse cx="365.5" cy="257.3" rx="5.8" ry="9.8" fill="none" stroke="#111" stroke-width="1"/>
</g>
<line x1="374.4" y1="202" x2="374.4" y2="272.5" stroke="#3a3a3a" stroke-width="0.95"/>
<line x1="352.4" y1="244.6" x2="422.8" y2="244.6" stroke="#3a3a3a" stroke-width="0.95"/>
<rect x="352.4" y="202" width="70.4" height="70.5" fill="none" stroke="#000" stroke-width="1.5"/>
<path d="M352.4 203.5h-2M352.4 204.95h-2M352.4 206.4h-2M352.4 207.85h-2M352.4 209.3h-2M352.4 210.75h-2M352.4 212.2h-2M352.4 213.65h-2M352.4 215.1h-2M352.4 216.55h-2M352.4 218h-2M352.4 219.45h-2M352.4 220.9h-2M352.4 222.35h-2M352.4 223.8h-2M352.4 225.25h-2M352.4 226.7h-2M352.4 228.15h-2M352.4 229.6h-2M352.4 231.05h-2M352.4 232.5h-2M352.4 233.95h-2M352.4 235.4h-2M352.4 236.85h-2M352.4 238.3h-2M352.4 239.75h-2M352.4 241.2h-2M352.4 242.65h-2M352.4 244.1h-2M352.4 245.55h-2M352.4 247h-2M352.4 248.45h-2M352.4 249.9h-2M352.4 251.35h-2M352.4 252.8h-2M352.4 254.25h-2M352.4 255.7h-2M352.4 257.15h-2M352.4 258.6h-2M352.4 260.05h-2M352.4 261.5h-2M352.4 262.95h-2M352.4 264.4h-2M352.4 265.85h-2M352.4 267.3h-2M352.4 268.75h-2M352.4 270.2h-2M352.4 271.65h-2M353.9 272.5v2M355.35 272.5v2M356.8 272.5v2M358.25 272.5v2M359.7 272.5v2M361.15 272.5v2M362.6 272.5v2M364.05 272.5v2M365.5 272.5v2M366.95 272.5v2M368.4 272.5v2M369.85 272.5v2M371.3 272.5v2M372.75 272.5v2M374.2 272.5v2M375.65 272.5v2M377.1 272.5v2M378.55 272.5v2M380 272.5v2M381.45 272.5v2M382.9 272.5v2M384.35 272.5v2M385.8 272.5v2M387.25 272.5v2M388.7 272.5v2M390.15 272.5v2M391.6 272.5v2M393.05 272.5v2M394.5 272.5v2M395.95 272.5v2M397.4 272.5v2M398.85 272.5v2M400.3 272.5v2M401.75 272.5v2M403.2 272.5v2M404.65 272.5v2M406.1 272.5v2M407.55 272.5v2M409 272.5v2M410.45 272.5v2M411.9 272.5v2M413.35 272.5v2M414.8 272.5v2M416.25 272.5v2M417.7 272.5v2M419.15 272.5v2M420.6 272.5v2M422.05 272.5v2" stroke="#111" stroke-width="0.55"/>
<text x="348.5" y="212.9" font-size="6" text-anchor="end" fill="#111" stroke="#111" stroke-width="0.18">10<tspan font-size="4.4" dy="-2.6">5</tspan></text>
<text x="348.5" y="228.4" font-size="6" text-anchor="end" fill="#111" stroke="#111" stroke-width="0.18">10<tspan font-size="4.4" dy="-2.6">4</tspan></text>
<text x="348.5" y="243.9" font-size="6" text-anchor="end" fill="#111" stroke="#111" stroke-width="0.18">10<tspan font-size="4.4" dy="-2.6">3</tspan></text>
<text x="348.5" y="261" font-size="6" text-anchor="end" fill="#111" stroke="#111" stroke-width="0.18">10<tspan font-size="4.4" dy="-2.6">2</tspan></text>
<text x="349.2" y="267.3" font-size="6" text-anchor="end" fill="#111" stroke="#111" stroke-width="0.18">0</text>
<text x="362.4" y="284.9" font-size="6" text-anchor="middle" fill="#111" stroke="#111" stroke-width="0.18">0</text>
<text x="383" y="284.9" font-size="6" text-anchor="middle" fill="#111" stroke="#111" stroke-width="0.18">10</text>
<text x="387.1" y="282.4" font-size="4.4" fill="#111" stroke="#111" stroke-width="0.18">3</text>
<text x="399.6" y="284.9" font-size="6" text-anchor="middle" fill="#111" stroke="#111" stroke-width="0.18">10</text>
<text x="403.7" y="282.4" font-size="4.4" fill="#111" stroke="#111" stroke-width="0.18">4</text>
<text x="415.7" y="284.9" font-size="6" text-anchor="middle" fill="#111" stroke="#111" stroke-width="0.18">10</text>
<text x="419.8" y="282.4" font-size="4.4" fill="#111" stroke="#111" stroke-width="0.18">5</text>
<text x="353.6" y="208.6" font-size="5.9" text-anchor="start" font-weight="normal" fill="#111" >0.278</text>
<text x="421.6" y="208.6" font-size="5.9" text-anchor="end" font-weight="normal" fill="#111" >1.25</text>
<text x="353.6" y="270.9" font-size="5.9" text-anchor="start" font-weight="normal" fill="#111" >51.9</text>
<text x="421.6" y="270.9" font-size="5.9" text-anchor="end" font-weight="normal" fill="#111" >46.6</text>
<text transform="translate(18 57.6) rotate(-90)" x="0" y="3.24" font-size="9" font-weight="bold" text-anchor="middle" textLength="15" lengthAdjust="spacingAndGlyphs" fill="#222">IFN&#947;</text>
<text transform="translate(18 147.7) rotate(-90)" x="0" y="3.24" font-size="9" font-weight="bold" text-anchor="middle" textLength="15" lengthAdjust="spacingAndGlyphs" fill="#222">IL-22</text>
<text transform="translate(17.8 238) rotate(-90)" x="0" y="3.24" font-size="9" font-weight="bold" text-anchor="middle" textLength="15.5" lengthAdjust="spacingAndGlyphs" fill="#222">IL-13</text>
<text transform="translate(233.7 57.4) rotate(-90)" x="0" y="3.24" font-size="9" font-weight="bold" text-anchor="middle" textLength="12.4" lengthAdjust="spacingAndGlyphs" fill="#222">TNF</text>
<text transform="translate(234 147.6) rotate(-90)" x="0" y="3.24" font-size="9" font-weight="bold" text-anchor="middle" textLength="24.3" lengthAdjust="spacingAndGlyphs" fill="#222">GM-CSF</text>
<text transform="translate(233.8 238) rotate(-90)" x="0" y="3.24" font-size="9" font-weight="bold" text-anchor="middle" textLength="14.4" lengthAdjust="spacingAndGlyphs" fill="#222">IL-10</text>
<text x="75.65" y="17" font-size="9" text-anchor="middle" fill="#111">CD4<tspan font-size="5.5" dy="-3.5">+</tspan><tspan dy="3.5">YFP</tspan><tspan font-size="5.5" dy="-3.5">-</tspan></text>
<text x="174.85" y="17" font-size="9" text-anchor="middle" fill="#111">CD4<tspan font-size="5.5" dy="-3.5">+</tspan><tspan dy="3.5">YFP</tspan><tspan font-size="5.5" dy="-3.5">+</tspan></text>
<text x="291.45" y="17" font-size="9" text-anchor="middle" fill="#111">CD4<tspan font-size="5.5" dy="-3.5">+</tspan><tspan dy="3.5">YFP</tspan><tspan font-size="5.5" dy="-3.5">-</tspan></text>
<text x="387.6" y="17" font-size="9" text-anchor="middle" fill="#111">CD4<tspan font-size="5.5" dy="-3.5">+</tspan><tspan dy="3.5">YFP</tspan><tspan font-size="5.5" dy="-3.5">+</tspan></text>
<text x="49" y="297.9" font-size="9.5" font-weight="bold" textLength="19" lengthAdjust="spacingAndGlyphs" fill="#222">IL-17A</text>
<path d="M77 294.8H419" stroke="#000" stroke-width="1.5"/>
<path d="M424.6 294.8L417.5 291.3L417.5 298.3Z" fill="#000"/>
<text x="8.6" y="15.7" font-size="11.8" font-weight="bold" style="stroke:#000;stroke-width:0.7px">A</text>
<text x="8.9" y="323.8" font-size="11.2" font-weight="bold" style="stroke:#000;stroke-width:0.7px">B</text>
<text x="8.8" y="448.0" font-size="11.2" font-weight="bold" style="stroke:#000;stroke-width:0.7px">C</text>
<rect x="45.3" y="398.58" width="8.3" height="8.62" fill="#fff" stroke="#222" stroke-width="1.1"/>
<rect x="56.4" y="352.99" width="8.2" height="54.21" fill="#C8C7CC" stroke="#222" stroke-width="1.1"/>
<rect x="75" y="406.21" width="7.5" height="0.99" fill="#fff" stroke="#222" stroke-width="1.1"/>
<rect x="86.3" y="398.58" width="8.6" height="8.62" fill="#C8C7CC" stroke="#222" stroke-width="1.1"/>
<path d="M49.45 397.59V398.58M47.45 397.59h4" stroke="#111" stroke-width="0.8"/>
<circle cx="47.07" cy="393.65" r="1.0" fill="#A8173A"/>
<circle cx="49.45" cy="395.5" r="1.0" fill="#A8173A"/>
<circle cx="50.1" cy="396.73" r="1.0" fill="#A8173A"/>
<circle cx="46.43" cy="397.34" r="1.0" fill="#A8173A"/>
<circle cx="47.2" cy="397.96" r="1.0" fill="#A8173A"/>
<circle cx="52.19" cy="398.58" r="1.0" fill="#A8173A"/>
<circle cx="46.7" cy="399.19" r="1.0" fill="#A8173A"/>
<circle cx="47.08" cy="399.81" r="1.0" fill="#A8173A"/>
<circle cx="52.32" cy="400.42" r="1.0" fill="#A8173A"/>
<circle cx="50.23" cy="401.04" r="1.0" fill="#A8173A"/>
<circle cx="48.61" cy="401.66" r="1.0" fill="#A8173A"/>
<path d="M60.5 350.28V352.99M58.5 350.28h4" stroke="#111" stroke-width="0.8"/>
<circle cx="60.57" cy="339.44" r="1.0" fill="#2A4A78"/>
<circle cx="61.54" cy="345.6" r="1.0" fill="#2A4A78"/>
<circle cx="59.06" cy="348.06" r="1.0" fill="#2A4A78"/>
<circle cx="58.18" cy="349.3" r="1.0" fill="#2A4A78"/>
<circle cx="62.34" cy="350.53" r="1.0" fill="#2A4A78"/>
<circle cx="61.59" cy="351.76" r="1.0" fill="#2A4A78"/>
<circle cx="60.58" cy="352.99" r="1.0" fill="#2A4A78"/>
<circle cx="62.53" cy="354.22" r="1.0" fill="#2A4A78"/>
<circle cx="60.81" cy="355.46" r="1.0" fill="#2A4A78"/>
<circle cx="63.58" cy="356.69" r="1.0" fill="#2A4A78"/>
<circle cx="58.61" cy="357.92" r="1.0" fill="#2A4A78"/>
<circle cx="60.84" cy="360.38" r="1.0" fill="#2A4A78"/>
<circle cx="60.4" cy="362.85" r="1.0" fill="#2A4A78"/>
<circle cx="59.56" cy="373.94" r="1.0" fill="#2A4A78"/>
<path d="M78.75 405.84V406.21M76.75 405.84h4" stroke="#111" stroke-width="0.8"/>
<circle cx="79.34" cy="404.12" r="1.0" fill="#A8173A"/>
<circle cx="77.06" cy="404.98" r="1.0" fill="#A8173A"/>
<circle cx="80.68" cy="405.72" r="1.0" fill="#A8173A"/>
<circle cx="81.1" cy="405.97" r="1.0" fill="#A8173A"/>
<circle cx="76.37" cy="406.21" r="1.0" fill="#A8173A"/>
<circle cx="78.54" cy="406.58" r="1.0" fill="#A8173A"/>
<circle cx="77.32" cy="406.83" r="1.0" fill="#A8173A"/>
<path d="M90.6 396.73V398.58M88.6 396.73h4" stroke="#111" stroke-width="0.8"/>
<circle cx="87.93" cy="385.64" r="1.0" fill="#2A4A78"/>
<circle cx="93.13" cy="392.42" r="1.0" fill="#2A4A78"/>
<circle cx="90.15" cy="396.11" r="1.0" fill="#2A4A78"/>
<circle cx="88.35" cy="397.34" r="1.0" fill="#2A4A78"/>
<circle cx="91.71" cy="398.58" r="1.0" fill="#2A4A78"/>
<circle cx="88.69" cy="399.19" r="1.0" fill="#2A4A78"/>
<circle cx="93.17" cy="399.81" r="1.0" fill="#2A4A78"/>
<circle cx="88.79" cy="401.04" r="1.0" fill="#2A4A78"/>
<circle cx="87.61" cy="402.27" r="1.0" fill="#2A4A78"/>
<circle cx="88.68" cy="403.5" r="1.0" fill="#2A4A78"/>
<circle cx="89.61" cy="404.12" r="1.0" fill="#2A4A78"/>
<path d="M40.5 330.3V407.2H100.5" fill="none" stroke="#000" stroke-width="1.2"/>
<path d="M40.5 407.2h-3" stroke="#000" stroke-width="1"/>
<text x="34.2" y="410" font-size="7.8" text-anchor="end" fill="#111">0</text>
<path d="M40.5 382.56h-3" stroke="#000" stroke-width="1"/>
<text x="34.2" y="385.36" font-size="7.8" text-anchor="end" fill="#111">20</text>
<path d="M40.5 357.92h-3" stroke="#000" stroke-width="1"/>
<text x="34.2" y="360.72" font-size="7.8" text-anchor="end" fill="#111">40</text>
<path d="M40.5 333.28h-3" stroke="#000" stroke-width="1"/>
<text x="34.2" y="336.08" font-size="7.8" text-anchor="end" fill="#111">60</text>
<path d="M55.4 407.2v2.8" stroke="#000" stroke-width="1"/>
<path d="M84.6 407.2v2.8" stroke="#000" stroke-width="1"/>
<text x="54.9" y="420.8" font-size="8.4" text-anchor="middle" fill="#111">D7</text>
<text x="84.9" y="420.8" font-size="8.4" text-anchor="middle" fill="#111">D21</text>
<text transform="translate(15.2 368.7) rotate(-90)" x="0" y="0" font-size="7.2" font-weight="bold" text-anchor="middle" textLength="49" lengthAdjust="spacingAndGlyphs" dominant-baseline="central" fill="#222">% IL-22<tspan font-size="4.5" dy="-2.6">+</tspan><tspan dy="2.6"> T cells</tspan></text>
<text x="60.5" y="339.2" font-size="9" text-anchor="middle" fill="#111">***</text>
<text x="91" y="372.4" font-size="9" text-anchor="middle" fill="#111">**</text>
<path d="M59.8 327.1V324.1H90.7V327.1" fill="none" stroke="#111" stroke-width="1.2"/>
<text x="75.2" y="324.2" font-size="9" text-anchor="middle" fill="#111">***</text>
<rect x="148.2" y="376.17" width="8.8" height="30.83" fill="#fff" stroke="#222" stroke-width="1.1"/>
<rect x="159.2" y="347.55" width="8.8" height="59.45" fill="#C8C7CC" stroke="#222" stroke-width="1.1"/>
<rect x="178.2" y="381.31" width="9.1" height="25.69" fill="#fff" stroke="#222" stroke-width="1.1"/>
<rect x="189.2" y="351.22" width="9" height="55.78" fill="#C8C7CC" stroke="#222" stroke-width="1.1"/>
<path d="M152.6 375.44V376.17M150.6 375.44h4" stroke="#111" stroke-width="0.8"/>
<circle cx="152.4" cy="371.77" r="1.0" fill="#A8173A"/>
<circle cx="155.2" cy="374.7" r="1.0" fill="#A8173A"/>
<circle cx="153.86" cy="375.44" r="1.0" fill="#A8173A"/>
<circle cx="151.57" cy="376.17" r="1.0" fill="#A8173A"/>
<circle cx="149.51" cy="376.91" r="1.0" fill="#A8173A"/>
<circle cx="150.42" cy="377.64" r="1.0" fill="#A8173A"/>
<path d="M163.6 347.18V347.55M161.6 347.18h4" stroke="#111" stroke-width="0.8"/>
<circle cx="166.78" cy="346.81" r="1.0" fill="#2A4A78"/>
<circle cx="163.34" cy="347.18" r="1.0" fill="#2A4A78"/>
<circle cx="164.82" cy="347.55" r="1.0" fill="#2A4A78"/>
<circle cx="160.75" cy="347.91" r="1.0" fill="#2A4A78"/>
<circle cx="160.62" cy="348.28" r="1.0" fill="#2A4A78"/>
<path d="M182.75 379.84V381.31M180.75 379.84h4" stroke="#111" stroke-width="0.8"/>
<circle cx="184.96" cy="374.7" r="1.0" fill="#A8173A"/>
<circle cx="183.31" cy="376.91" r="1.0" fill="#A8173A"/>
<circle cx="181.53" cy="378.37" r="1.0" fill="#A8173A"/>
<circle cx="181.58" cy="379.84" r="1.0" fill="#A8173A"/>
<circle cx="180.12" cy="380.58" r="1.0" fill="#A8173A"/>
<circle cx="180.66" cy="381.31" r="1.0" fill="#A8173A"/>
<circle cx="179.71" cy="382.04" r="1.0" fill="#A8173A"/>
<circle cx="184.92" cy="384.98" r="1.0" fill="#A8173A"/>
<circle cx="182.53" cy="387.92" r="1.0" fill="#A8173A"/>
<circle cx="180.36" cy="392.32" r="1.0" fill="#A8173A"/>
<path d="M193.7 349.38V351.22M191.7 349.38h4" stroke="#111" stroke-width="0.8"/>
<circle cx="195.23" cy="333.6" r="1.0" fill="#2A4A78"/>
<circle cx="191.75" cy="348.28" r="1.0" fill="#2A4A78"/>
<circle cx="190.9" cy="349.75" r="1.0" fill="#2A4A78"/>
<circle cx="194.33" cy="350.48" r="1.0" fill="#2A4A78"/>
<circle cx="196.23" cy="351.22" r="1.0" fill="#2A4A78"/>
<circle cx="190.67" cy="351.95" r="1.0" fill="#2A4A78"/>
<circle cx="195.65" cy="352.68" r="1.0" fill="#2A4A78"/>
<circle cx="191.72" cy="354.15" r="1.0" fill="#2A4A78"/>
<circle cx="191.09" cy="355.62" r="1.0" fill="#2A4A78"/>
<circle cx="190.61" cy="357.09" r="1.0" fill="#2A4A78"/>
<path d="M142.9 330.3V407H200.2" fill="none" stroke="#000" stroke-width="1.2"/>
<path d="M142.9 407h-3" stroke="#000" stroke-width="1"/>
<text x="136.6" y="409.8" font-size="7.8" text-anchor="end" fill="#111">0</text>
<path d="M142.9 388.65h-3" stroke="#000" stroke-width="1"/>
<text x="136.6" y="391.45" font-size="7.8" text-anchor="end" fill="#111">25</text>
<path d="M142.9 370.3h-3" stroke="#000" stroke-width="1"/>
<text x="136.6" y="373.1" font-size="7.8" text-anchor="end" fill="#111">50</text>
<path d="M142.9 351.95h-3" stroke="#000" stroke-width="1"/>
<text x="136.6" y="354.75" font-size="7.8" text-anchor="end" fill="#111">75</text>
<path d="M142.9 333.6h-3" stroke="#000" stroke-width="1"/>
<text x="136.6" y="336.4" font-size="7.8" text-anchor="end" fill="#111">100</text>
<path d="M158.3 407v2.8" stroke="#000" stroke-width="1"/>
<path d="M188.7 407v2.8" stroke="#000" stroke-width="1"/>
<text x="157.2" y="420.8" font-size="8.4" text-anchor="middle" fill="#111">D7</text>
<text x="187.7" y="420.8" font-size="8.4" text-anchor="middle" fill="#111">D21</text>
<text transform="translate(113.7 368.8) rotate(-90)" x="0" y="0" font-size="7.2" font-weight="bold" text-anchor="middle" textLength="61" lengthAdjust="spacingAndGlyphs" dominant-baseline="central" fill="#222">% GM-CSF<tspan font-size="4.5" dy="-2.6">+</tspan><tspan dy="2.6"> T cells</tspan></text>
<text x="163.7" y="341.6" font-size="9" text-anchor="middle" fill="#111">***</text>
<text x="193.8" y="333.4" font-size="9" text-anchor="middle" fill="#111">***</text>
<rect x="251.2" y="365.9" width="9" height="41.1" fill="#fff" stroke="#222" stroke-width="1.1"/>
<rect x="262.7" y="361.49" width="9.2" height="45.51" fill="#C8C7CC" stroke="#222" stroke-width="1.1"/>
<rect x="282.5" y="357.82" width="8.7" height="49.18" fill="#fff" stroke="#222" stroke-width="1.1"/>
<rect x="293.5" y="352.68" width="8.6" height="54.32" fill="#C8C7CC" stroke="#222" stroke-width="1.1"/>
<path d="M255.7 364.43V365.9M253.7 364.43h4" stroke="#111" stroke-width="0.8"/>
<circle cx="254.38" cy="349.75" r="1.0" fill="#A8173A"/>
<circle cx="257.15" cy="351.22" r="1.0" fill="#A8173A"/>
<circle cx="255.66" cy="354.15" r="1.0" fill="#A8173A"/>
<circle cx="257.96" cy="357.09" r="1.0" fill="#A8173A"/>
<circle cx="253.89" cy="359.29" r="1.0" fill="#A8173A"/>
<circle cx="254.52" cy="361.49" r="1.0" fill="#A8173A"/>
<circle cx="254.15" cy="362.96" r="1.0" fill="#A8173A"/>
<circle cx="258.76" cy="364.43" r="1.0" fill="#A8173A"/>
<circle cx="258.52" cy="365.16" r="1.0" fill="#A8173A"/>
<circle cx="254.68" cy="365.9" r="1.0" fill="#A8173A"/>
<circle cx="255.29" cy="366.63" r="1.0" fill="#A8173A"/>
<circle cx="254.51" cy="368.1" r="1.0" fill="#A8173A"/>
<circle cx="257.28" cy="368.83" r="1.0" fill="#A8173A"/>
<circle cx="252.76" cy="370.3" r="1.0" fill="#A8173A"/>
<circle cx="252.93" cy="371.77" r="1.0" fill="#A8173A"/>
<circle cx="255.09" cy="373.24" r="1.0" fill="#A8173A"/>
<circle cx="254.07" cy="374.7" r="1.0" fill="#A8173A"/>
<circle cx="257.91" cy="376.17" r="1.0" fill="#A8173A"/>
<circle cx="257.25" cy="377.64" r="1.0" fill="#A8173A"/>
<circle cx="255.99" cy="379.11" r="1.0" fill="#A8173A"/>
<circle cx="256.73" cy="380.58" r="1.0" fill="#A8173A"/>
<circle cx="256.93" cy="381.31" r="1.0" fill="#A8173A"/>
<path d="M267.3 360.02V361.49M265.3 360.02h4" stroke="#111" stroke-width="0.8"/>
<circle cx="269.1" cy="348.28" r="1.0" fill="#2A4A78"/>
<circle cx="270.04" cy="350.48" r="1.0" fill="#2A4A78"/>
<circle cx="265.06" cy="352.68" r="1.0" fill="#2A4A78"/>
<circle cx="268.11" cy="354.15" r="1.0" fill="#2A4A78"/>
<circle cx="265.02" cy="355.62" r="1.0" fill="#2A4A78"/>
<circle cx="266.94" cy="357.09" r="1.0" fill="#2A4A78"/>
<circle cx="269.13" cy="358.56" r="1.0" fill="#2A4A78"/>
<circle cx="269.83" cy="360.02" r="1.0" fill="#2A4A78"/>
<circle cx="268.96" cy="360.76" r="1.0" fill="#2A4A78"/>
<circle cx="264.33" cy="361.49" r="1.0" fill="#2A4A78"/>
<circle cx="266.4" cy="362.23" r="1.0" fill="#2A4A78"/>
<circle cx="265.14" cy="362.96" r="1.0" fill="#2A4A78"/>
<circle cx="270.49" cy="364.43" r="1.0" fill="#2A4A78"/>
<circle cx="265.02" cy="365.9" r="1.0" fill="#2A4A78"/>
<circle cx="265.66" cy="367.36" r="1.0" fill="#2A4A78"/>
<circle cx="266.39" cy="368.83" r="1.0" fill="#2A4A78"/>
<circle cx="264.49" cy="370.3" r="1.0" fill="#2A4A78"/>
<circle cx="269.67" cy="373.24" r="1.0" fill="#2A4A78"/>
<circle cx="268.17" cy="376.17" r="1.0" fill="#2A4A78"/>
<circle cx="265.12" cy="377.64" r="1.0" fill="#2A4A78"/>
<path d="M286.85 355.62V357.82M284.85 355.62h4" stroke="#111" stroke-width="0.8"/>
<circle cx="286.84" cy="339.47" r="1.0" fill="#A8173A"/>
<circle cx="284.15" cy="342.41" r="1.0" fill="#A8173A"/>
<circle cx="287.56" cy="345.34" r="1.0" fill="#A8173A"/>
<circle cx="285.13" cy="348.28" r="1.0" fill="#A8173A"/>
<circle cx="283.9" cy="351.22" r="1.0" fill="#A8173A"/>
<circle cx="284.39" cy="354.15" r="1.0" fill="#A8173A"/>
<circle cx="287.2" cy="355.62" r="1.0" fill="#A8173A"/>
<circle cx="287.73" cy="357.09" r="1.0" fill="#A8173A"/>
<circle cx="285.73" cy="358.56" r="1.0" fill="#A8173A"/>
<circle cx="287.77" cy="359.29" r="1.0" fill="#A8173A"/>
<circle cx="285.9" cy="361.49" r="1.0" fill="#A8173A"/>
<circle cx="284.49" cy="362.96" r="1.0" fill="#A8173A"/>
<circle cx="285.67" cy="364.43" r="1.0" fill="#A8173A"/>
<circle cx="286.18" cy="366.63" r="1.0" fill="#A8173A"/>
<circle cx="289.49" cy="368.83" r="1.0" fill="#A8173A"/>
<circle cx="284.39" cy="371.77" r="1.0" fill="#A8173A"/>
<circle cx="284.2" cy="373.97" r="1.0" fill="#A8173A"/>
<path d="M297.8 349.75V352.68M295.8 349.75h4" stroke="#111" stroke-width="0.8"/>
<circle cx="298.19" cy="335.8" r="1.0" fill="#2A4A78"/>
<circle cx="300.77" cy="337.27" r="1.0" fill="#2A4A78"/>
<circle cx="300.41" cy="340.94" r="1.0" fill="#2A4A78"/>
<circle cx="299.08" cy="343.88" r="1.0" fill="#2A4A78"/>
<circle cx="295.03" cy="348.28" r="1.0" fill="#2A4A78"/>
<circle cx="299.76" cy="351.22" r="1.0" fill="#2A4A78"/>
<circle cx="298.97" cy="352.68" r="1.0" fill="#2A4A78"/>
<circle cx="295.52" cy="354.15" r="1.0" fill="#2A4A78"/>
<circle cx="297.58" cy="355.62" r="1.0" fill="#2A4A78"/>
<circle cx="294.92" cy="357.09" r="1.0" fill="#2A4A78"/>
<circle cx="299.73" cy="362.96" r="1.0" fill="#2A4A78"/>
<circle cx="299.2" cy="366.63" r="1.0" fill="#2A4A78"/>
<circle cx="299.75" cy="367.36" r="1.0" fill="#2A4A78"/>
<circle cx="299.47" cy="370.3" r="1.0" fill="#2A4A78"/>
<circle cx="296.31" cy="376.17" r="1.0" fill="#2A4A78"/>
<circle cx="299.65" cy="377.64" r="1.0" fill="#2A4A78"/>
<path d="M246.3 330.3V407H305.5" fill="none" stroke="#000" stroke-width="1.2"/>
<path d="M246.3 407h-3" stroke="#000" stroke-width="1"/>
<text x="240" y="409.8" font-size="7.8" text-anchor="end" fill="#111">0</text>
<path d="M246.3 388.65h-3" stroke="#000" stroke-width="1"/>
<text x="240" y="391.45" font-size="7.8" text-anchor="end" fill="#111">25</text>
<path d="M246.3 370.3h-3" stroke="#000" stroke-width="1"/>
<text x="240" y="373.1" font-size="7.8" text-anchor="end" fill="#111">50</text>
<path d="M246.3 351.95h-3" stroke="#000" stroke-width="1"/>
<text x="240" y="354.75" font-size="7.8" text-anchor="end" fill="#111">75</text>
<path d="M246.3 333.6h-3" stroke="#000" stroke-width="1"/>
<text x="240" y="336.4" font-size="7.8" text-anchor="end" fill="#111">100</text>
<path d="M261.7 407v2.8" stroke="#000" stroke-width="1"/>
<path d="M292.3 407v2.8" stroke="#000" stroke-width="1"/>
<text x="261.1" y="420.8" font-size="8.4" text-anchor="middle" fill="#111">D7</text>
<text x="290" y="420.8" font-size="8.4" text-anchor="middle" fill="#111">D21</text>
<text transform="translate(217.5 368.8) rotate(-90)" x="0" y="0" font-size="7.2" font-weight="bold" text-anchor="middle" textLength="50" lengthAdjust="spacingAndGlyphs" dominant-baseline="central" fill="#222">% IFN&#947;<tspan font-size="4.5" dy="-2.6">+</tspan><tspan dy="2.6"> T cells</tspan></text>
<rect x="354.4" y="356.35" width="8.9" height="50.65" fill="#fff" stroke="#222" stroke-width="1.1"/>
<rect x="366" y="349.75" width="8.6" height="57.25" fill="#C8C7CC" stroke="#222" stroke-width="1.1"/>
<rect x="384.4" y="362.23" width="9.1" height="44.77" fill="#fff" stroke="#222" stroke-width="1.1"/>
<rect x="396" y="346.81" width="9" height="60.19" fill="#C8C7CC" stroke="#222" stroke-width="1.1"/>
<path d="M358.85 354.89V356.35M356.85 354.89h4" stroke="#111" stroke-width="0.8"/>
<circle cx="357.24" cy="346.81" r="1.0" fill="#A8173A"/>
<circle cx="356.53" cy="348.28" r="1.0" fill="#A8173A"/>
<circle cx="358.15" cy="349.75" r="1.0" fill="#A8173A"/>
<circle cx="358.84" cy="351.95" r="1.0" fill="#A8173A"/>
<circle cx="357.48" cy="354.15" r="1.0" fill="#A8173A"/>
<circle cx="359.53" cy="355.62" r="1.0" fill="#A8173A"/>
<circle cx="359.51" cy="357.09" r="1.0" fill="#A8173A"/>
<circle cx="357.18" cy="358.56" r="1.0" fill="#A8173A"/>
<circle cx="359.63" cy="360.02" r="1.0" fill="#A8173A"/>
<circle cx="357.94" cy="361.49" r="1.0" fill="#A8173A"/>
<circle cx="360.35" cy="362.96" r="1.0" fill="#A8173A"/>
<circle cx="357.51" cy="364.43" r="1.0" fill="#A8173A"/>
<circle cx="360.76" cy="365.9" r="1.0" fill="#A8173A"/>
<circle cx="358.31" cy="366.63" r="1.0" fill="#A8173A"/>
<path d="M370.3 347.91V349.75M368.3 347.91h4" stroke="#111" stroke-width="0.8"/>
<circle cx="370.64" cy="337.27" r="1.0" fill="#2A4A78"/>
<circle cx="371.41" cy="343.88" r="1.0" fill="#2A4A78"/>
<circle cx="370.42" cy="345.34" r="1.0" fill="#2A4A78"/>
<circle cx="368.75" cy="346.81" r="1.0" fill="#2A4A78"/>
<circle cx="373.37" cy="348.28" r="1.0" fill="#2A4A78"/>
<circle cx="367.71" cy="349.75" r="1.0" fill="#2A4A78"/>
<circle cx="369.18" cy="351.22" r="1.0" fill="#2A4A78"/>
<circle cx="370.61" cy="352.68" r="1.0" fill="#2A4A78"/>
<circle cx="367.28" cy="354.15" r="1.0" fill="#2A4A78"/>
<circle cx="368.09" cy="357.09" r="1.0" fill="#2A4A78"/>
<circle cx="372.22" cy="359.29" r="1.0" fill="#2A4A78"/>
<circle cx="372.12" cy="361.49" r="1.0" fill="#2A4A78"/>
<path d="M388.95 360.76V362.23M386.95 360.76h4" stroke="#111" stroke-width="0.8"/>
<circle cx="389.83" cy="353.42" r="1.0" fill="#A8173A"/>
<circle cx="391.52" cy="355.62" r="1.0" fill="#A8173A"/>
<circle cx="390.59" cy="357.82" r="1.0" fill="#A8173A"/>
<circle cx="387.66" cy="359.29" r="1.0" fill="#A8173A"/>
<circle cx="389.88" cy="360.76" r="1.0" fill="#A8173A"/>
<circle cx="387.93" cy="361.49" r="1.0" fill="#A8173A"/>
<circle cx="390.55" cy="362.96" r="1.0" fill="#A8173A"/>
<circle cx="388.21" cy="364.43" r="1.0" fill="#A8173A"/>
<circle cx="386.73" cy="366.63" r="1.0" fill="#A8173A"/>
<circle cx="391.36" cy="368.83" r="1.0" fill="#A8173A"/>
<circle cx="390.17" cy="371.77" r="1.0" fill="#A8173A"/>
<circle cx="390.52" cy="373.97" r="1.0" fill="#A8173A"/>
<path d="M400.5 344.61V346.81M398.5 344.61h4" stroke="#111" stroke-width="0.8"/>
<circle cx="400.88" cy="335.8" r="1.0" fill="#2A4A78"/>
<circle cx="402.31" cy="340.94" r="1.0" fill="#2A4A78"/>
<circle cx="400.17" cy="342.41" r="1.0" fill="#2A4A78"/>
<circle cx="400.92" cy="343.88" r="1.0" fill="#2A4A78"/>
<circle cx="397.7" cy="345.34" r="1.0" fill="#2A4A78"/>
<circle cx="400.85" cy="346.81" r="1.0" fill="#2A4A78"/>
<circle cx="402.51" cy="348.28" r="1.0" fill="#2A4A78"/>
<circle cx="401.82" cy="349.75" r="1.0" fill="#2A4A78"/>
<circle cx="402.44" cy="354.15" r="1.0" fill="#2A4A78"/>
<circle cx="400.48" cy="358.56" r="1.0" fill="#2A4A78"/>
<circle cx="402.94" cy="361.49" r="1.0" fill="#2A4A78"/>
<path d="M349.8 330.3V407H409.2" fill="none" stroke="#000" stroke-width="1.2"/>
<path d="M349.8 407h-3" stroke="#000" stroke-width="1"/>
<text x="343.5" y="409.8" font-size="7.8" text-anchor="end" fill="#111">0</text>
<path d="M349.8 388.65h-3" stroke="#000" stroke-width="1"/>
<text x="343.5" y="391.45" font-size="7.8" text-anchor="end" fill="#111">25</text>
<path d="M349.8 370.3h-3" stroke="#000" stroke-width="1"/>
<text x="343.5" y="373.1" font-size="7.8" text-anchor="end" fill="#111">50</text>
<path d="M349.8 351.95h-3" stroke="#000" stroke-width="1"/>
<text x="343.5" y="354.75" font-size="7.8" text-anchor="end" fill="#111">75</text>
<path d="M349.8 333.6h-3" stroke="#000" stroke-width="1"/>
<text x="343.5" y="336.4" font-size="7.8" text-anchor="end" fill="#111">100</text>
<path d="M364.8 407v2.8" stroke="#000" stroke-width="1"/>
<path d="M394.8 407v2.8" stroke="#000" stroke-width="1"/>
<text x="364" y="420.8" font-size="8.4" text-anchor="middle" fill="#111">D7</text>
<text x="393.8" y="420.8" font-size="8.4" text-anchor="middle" fill="#111">D21</text>
<text transform="translate(319.2 368.9) rotate(-90)" x="0" y="0" font-size="7.2" font-weight="bold" text-anchor="middle" textLength="46" lengthAdjust="spacingAndGlyphs" dominant-baseline="central" fill="#222">% TNF<tspan font-size="4.5" dy="-2.6">+</tspan><tspan dy="2.6"> T cells</tspan></text>
<text x="400.2" y="331" font-size="9" text-anchor="middle" fill="#111">***</text>
<rect x="457.9" y="388.45" width="8.6" height="18.35" fill="#fff" stroke="#222" stroke-width="1.1"/>
<rect x="469.3" y="395.44" width="8.7" height="11.36" fill="#C8C7CC" stroke="#222" stroke-width="1.1"/>
<rect x="487.7" y="363.12" width="8.6" height="43.68" fill="#fff" stroke="#222" stroke-width="1.1"/>
<rect x="498.9" y="403.01" width="8.6" height="3.79" fill="#C8C7CC" stroke="#222" stroke-width="1.1"/>
<path d="M462.2 387V388.45M460.2 387h4" stroke="#111" stroke-width="0.8"/>
<circle cx="459.69" cy="379.14" r="1.0" fill="#A8173A"/>
<circle cx="464.6" cy="384.96" r="1.0" fill="#A8173A"/>
<circle cx="461.38" cy="386.42" r="1.0" fill="#A8173A"/>
<circle cx="459.58" cy="387.87" r="1.0" fill="#A8173A"/>
<circle cx="462.96" cy="388.45" r="1.0" fill="#A8173A"/>
<circle cx="461.91" cy="389.33" r="1.0" fill="#A8173A"/>
<circle cx="461.74" cy="389.91" r="1.0" fill="#A8173A"/>
<circle cx="464.45" cy="390.78" r="1.0" fill="#A8173A"/>
<circle cx="459.88" cy="392.24" r="1.0" fill="#A8173A"/>
<circle cx="462.95" cy="393.7" r="1.0" fill="#A8173A"/>
<path d="M473.65 391.66V395.44M471.65 391.66h4" stroke="#111" stroke-width="0.8"/>
<circle cx="473.1" cy="374.77" r="1.0" fill="#2A4A78"/>
<circle cx="473.83" cy="386.42" r="1.0" fill="#2A4A78"/>
<circle cx="473.65" cy="387.87" r="1.0" fill="#2A4A78"/>
<circle cx="471.31" cy="395.15" r="1.0" fill="#2A4A78"/>
<circle cx="473.73" cy="398.06" r="1.0" fill="#2A4A78"/>
<circle cx="475.97" cy="400.98" r="1.0" fill="#2A4A78"/>
<circle cx="471.55" cy="402.43" r="1.0" fill="#2A4A78"/>
<circle cx="470.52" cy="403.89" r="1.0" fill="#2A4A78"/>
<circle cx="470.88" cy="405.34" r="1.0" fill="#2A4A78"/>
<path d="M492 360.79V363.12M490 360.79h4" stroke="#111" stroke-width="0.8"/>
<circle cx="491.74" cy="347.1" r="1.0" fill="#A8173A"/>
<circle cx="495.04" cy="354.38" r="1.0" fill="#A8173A"/>
<circle cx="489.08" cy="355.84" r="1.0" fill="#A8173A"/>
<circle cx="495.14" cy="360.21" r="1.0" fill="#A8173A"/>
<circle cx="492.23" cy="363.12" r="1.0" fill="#A8173A"/>
<circle cx="489.57" cy="364.58" r="1.0" fill="#A8173A"/>
<circle cx="491.48" cy="366.03" r="1.0" fill="#A8173A"/>
<circle cx="490.13" cy="368.94" r="1.0" fill="#A8173A"/>
<circle cx="493.37" cy="371.86" r="1.0" fill="#A8173A"/>
<circle cx="492.27" cy="374.77" r="1.0" fill="#A8173A"/>
<path d="M503.2 401.85V403.01M501.2 401.85h4" stroke="#111" stroke-width="0.8"/>
<circle cx="501.84" cy="393.7" r="1.0" fill="#2A4A78"/>
<circle cx="501.63" cy="400.98" r="1.0" fill="#2A4A78"/>
<circle cx="505.55" cy="402.43" r="1.0" fill="#2A4A78"/>
<circle cx="504.9" cy="403.31" r="1.0" fill="#2A4A78"/>
<circle cx="502.79" cy="403.89" r="1.0" fill="#2A4A78"/>
<circle cx="502.6" cy="404.47" r="1.0" fill="#2A4A78"/>
<circle cx="504.72" cy="405.34" r="1.0" fill="#2A4A78"/>
<path d="M452 330.6V406.8H511.4" fill="none" stroke="#000" stroke-width="1.2"/>
<path d="M452 406.8h-3" stroke="#000" stroke-width="1"/>
<text x="445.7" y="409.6" font-size="7.8" text-anchor="end" fill="#111">0</text>
<path d="M452 392.24h-3" stroke="#000" stroke-width="1"/>
<text x="445.7" y="395.04" font-size="7.8" text-anchor="end" fill="#111">5</text>
<path d="M452 377.68h-3" stroke="#000" stroke-width="1"/>
<text x="445.7" y="380.48" font-size="7.8" text-anchor="end" fill="#111">10</text>
<path d="M452 363.12h-3" stroke="#000" stroke-width="1"/>
<text x="445.7" y="365.92" font-size="7.8" text-anchor="end" fill="#111">15</text>
<path d="M452 348.56h-3" stroke="#000" stroke-width="1"/>
<text x="445.7" y="351.36" font-size="7.8" text-anchor="end" fill="#111">20</text>
<path d="M452 334h-3" stroke="#000" stroke-width="1"/>
<text x="445.7" y="336.8" font-size="7.8" text-anchor="end" fill="#111">25</text>
<path d="M467.6 406.8v2.8" stroke="#000" stroke-width="1"/>
<path d="M497.9 406.8v2.8" stroke="#000" stroke-width="1"/>
<text x="466.6" y="420.8" font-size="8.4" text-anchor="middle" fill="#111">D7</text>
<text x="494" y="420.8" font-size="8.4" text-anchor="middle" fill="#111">D21</text>
<text transform="translate(427.3 371.7) rotate(-90)" x="0" y="0" font-size="7.2" font-weight="bold" text-anchor="middle" textLength="55" lengthAdjust="spacingAndGlyphs" dominant-baseline="central" fill="#222">% IL-10<tspan font-size="4.5" dy="-2.6">+</tspan><tspan dy="2.6"> T cells</tspan></text>
<path d="M462.8 340.1V337.1H492V340.1" fill="none" stroke="#111" stroke-width="1.2"/>
<text x="477.2" y="337.2" font-size="9" text-anchor="middle" fill="#111">***</text>
<text x="503.2" y="386.2" font-size="9" text-anchor="middle" fill="#111">***</text>
<circle cx="447.7" cy="309" r="1.1" fill="#A8173A"/>
<circle cx="447.7" cy="316.8" r="1.1" fill="#2A4A78"/>
<text x="451.4" y="311.7" font-size="7.6" fill="#111">CD4<tspan font-size="4.6" dy="-2.8">+</tspan><tspan dy="2.8">YFP</tspan><tspan font-size="4.6" dy="-2.8">-</tspan></text>
<text x="451.4" y="319.5" font-size="7.6" fill="#111">CD4<tspan font-size="4.6" dy="-2.8">+</tspan><tspan dy="2.8">YFP</tspan><tspan font-size="4.6" dy="-2.8">+</tspan></text>
<defs><clipPath id="cc"><rect x="39.8" y="453.6" width="91.2" height="89.9"/></clipPath></defs>
<g clip-path="url(#cc)">
<path d="M114.4 536.7h.6M114.5 539.7h.6M98.6 527.0h.6M86.1 490.1h.6M73.4 536.9h.6M91.4 529.1h.6M92.8 503.7h.6M73.0 475.7h.6M73.2 541.4h.6M125.0 484.3h.6M106.1 481.3h.6M83.3 509.9h.6M94.2 532.8h.6M123.6 488.6h.6M119.4 484.0h.6M116.5 527.1h.6M91.9 510.8h.6M97.4 510.9h.6M107.4 512.9h.6M73.8 529.0h.6M100.8 526.8h.6M85.3 488.2h.6M118.4 495.5h.6M74.0 543.2h.6M107.5 531.1h.6M117.9 508.8h.6M82.9 492.3h.6M119.3 535.8h.6M118.0 489.5h.6M71.5 503.0h.6M109.1 512.8h.6M70.6 525.8h.6M97.9 521.3h.6M94.3 519.8h.6M81.6 483.8h.6M88.2 493.7h.6M114.4 524.5h.6M87.7 511.6h.6M78.6 536.7h.6M108.6 473.6h.6M94.9 542.1h.6M114.0 505.3h.6M83.3 490.5h.6M87.9 475.8h.6M114.1 473.4h.6M98.1 542.7h.6M98.1 527.3h.6M83.4 541.7h.6M71.3 531.8h.6M121.4 500.6h.6M75.2 482.7h.6M116.5 508.6h.6M90.5 486.3h.6M122.3 480.3h.6M92.3 510.0h.6M121.5 511.1h.6M100.8 542.1h.6M83.6 528.6h.6M110.9 469.7h.6M107.3 481.2h.6M107.8 510.2h.6M95.8 521.4h.6M82.6 542.5h.6M105.4 509.5h.6M76.3 503.5h.6M108.2 469.1h.6M105.1 500.9h.6M91.0 533.0h.6M114.0 472.7h.6M81.1 507.7h.6M91.8 539.6h.6M114.0 540.5h.6M91.2 469.5h.6M109.4 491.3h.6M103.9 482.9h.6M121.8 541.9h.6M124.5 528.2h.6M109.9 488.4h.6M114.6 497.3h.6M78.8 518.9h.6M109.4 470.2h.6M116.7 480.8h.6M92.4 527.5h.6M100.7 491.2h.6M96.6 486.1h.6M122.7 536.6h.6M87.8 522.3h.6M92.4 532.6h.6M70.6 527.0h.6M93.4 506.8h.6M104.9 482.2h.6M121.5 520.4h.6M120.8 509.4h.6M88.3 523.0h.6M124.4 518.9h.6M80.7 527.5h.6M115.4 472.5h.6M79.1 480.7h.6M92.6 534.5h.6M74.5 519.7h.6M117.3 533.3h.6M115.7 472.5h.6M78.1 507.4h.6M99.2 469.2h.6M84.6 480.1h.6M97.3 471.8h.6M100.6 482.5h.6M76.3 487.6h.6M117.6 473.7h.6M85.7 517.0h.6M94.9 512.2h.6M73.6 519.7h.6M70.6 541.6h.6M81.1 489.4h.6M89.1 486.6h.6M121.1 491.2h.6M119.0 529.4h.6M96.7 517.4h.6M95.3 524.6h.6M106.9 486.0h.6M117.3 478.3h.6M88.9 503.7h.6M113.8 536.1h.6M92.2 487.8h.6M102.9 525.5h.6M110.7 521.0h.6M97.8 495.8h.6M108.1 520.8h.6M108.5 537.4h.6M70.8 484.1h.6M72.6 487.8h.6M78.6 497.5h.6M82.1 483.1h.6M81.6 498.4h.6M73.2 523.2h.6M82.3 532.5h.6M103.3 518.1h.6M118.8 508.9h.6M89.5 537.4h.6M90.5 482.3h.6M93.2 520.6h.6M107.6 496.8h.6M113.3 538.5h.6M121.8 482.9h.6M91.0 487.4h.6M109.0 476.9h.6M89.1 502.4h.6M115.4 519.9h.6M83.1 490.2h.6M118.0 535.6h.6M98.0 528.3h.6M110.0 488.6h.6M99.7 513.6h.6M87.7 517.5h.6M97.4 478.5h.6M73.2 517.0h.6M72.8 515.2h.6M99.4 533.6h.6M96.5 490.6h.6M115.9 478.6h.6M71.6 509.1h.6M100.9 532.6h.6M97.2 477.3h.6M103.1 483.8h.6M110.3 476.2h.6M99.1 542.3h.6M101.2 525.3h.6M97.3 475.3h.6M104.0 531.9h.6M84.0 501.1h.6M100.6 470.1h.6M107.1 472.9h.6M80.9 486.9h.6M124.5 471.2h.6M111.2 480.9h.6M122.6 473.1h.6M86.5 478.9h.6M94.7 475.7h.6M84.7 500.2h.6M73.0 530.3h.6M71.4 527.1h.6M83.9 508.0h.6M117.4 473.0h.6M79.4 539.4h.6M108.1 473.3h.6M84.1 469.2h.6M74.1 524.4h.6M81.0 515.2h.6M107.4 525.1h.6M97.8 488.9h.6M100.4 535.3h.6M95.2 533.7h.6M85.5 471.6h.6M97.1 540.0h.6M120.8 526.0h.6M81.5 532.3h.6M110.4 504.2h.6M84.2 527.9h.6M81.0 536.7h.6M88.1 535.6h.6M75.6 489.1h.6M121.5 481.1h.6M90.4 516.9h.6M80.1 501.7h.6M70.5 532.7h.6M73.8 502.2h.6M82.2 480.2h.6M93.3 496.4h.6M103.3 540.5h.6M124.0 520.7h.6M119.0 480.9h.6M83.7 482.4h.6M103.8 497.3h.6M120.7 538.8h.6M76.0 507.0h.6M117.0 488.5h.6M92.1 484.2h.6M113.1 486.9h.6M88.1 508.5h.6M104.6 484.3h.6M98.1 476.2h.6M76.2 530.0h.6M111.9 517.4h.6M115.4 513.0h.6M96.8 487.5h.6M91.6 499.8h.6M122.1 534.2h.6M90.9 487.9h.6M118.4 500.7h.6M93.3 475.6h.6M90.9 497.5h.6M90.2 474.7h.6M73.8 526.1h.6M85.6 543.2h.6M83.0 474.0h.6M73.9 495.3h.6M100.0 539.7h.6M94.6 477.4h.6M71.9 529.1h.6M79.0 476.6h.6M120.6 502.9h.6M77.8 527.0h.6M90.8 527.5h.6M122.3 528.6h.6M76.7 492.6h.6M92.8 508.8h.6M114.2 478.0h.6M71.5 542.8h.6M74.2 523.3h.6M121.2 497.8h.6M107.8 505.4h.6M84.7 512.0h.6M96.7 495.2h.6M84.1 493.1h.6M119.1 536.4h.6M122.3 480.2h.6M74.4 539.6h.6M99.1 509.5h.6M80.5 502.9h.6M92.5 503.6h.6M110.9 469.4h.6M109.4 492.7h.6M80.8 502.8h.6M88.6 471.8h.6M93.7 469.2h.6M91.6 468.8h.6M107.7 514.7h.6M113.5 468.8h.6M88.8 539.8h.6M94.5 515.2h.6M74.2 522.2h.6M90.5 471.4h.6M122.1 506.4h.6M97.9 483.8h.6M100.9 537.3h.6M103.5 495.0h.6M101.4 483.2h.6M114.3 500.6h.6M84.6 492.5h.6M87.8 479.1h.6M118.8 526.8h.6M97.7 484.6h.6M122.8 536.4h.6M78.1 523.5h.6M113.2 532.9h.6M96.3 523.0h.6M96.3 534.7h.6M118.5 540.1h.6M77.6 469.1h.6M98.5 487.7h.6M84.1 536.2h.6M89.2 509.2h.6M115.0 537.4h.6M92.2 503.0h.6M113.3 493.9h.6M71.2 530.8h.6M125.0 488.0h.6M122.6 498.8h.6M107.5 530.3h.6M81.2 497.6h.6M106.3 517.5h.6M80.9 479.7h.6M90.9 484.0h.6M72.4 541.8h.6M74.3 482.8h.6M79.1 480.6h.6M80.4 469.5h.6M116.2 474.1h.6M83.8 498.3h.6M115.5 514.5h.6M70.8 534.4h.6M73.7 542.4h.6M73.8 494.9h.6M121.3 505.5h.6M115.0 498.5h.6M71.3 503.0h.6M121.3 532.4h.6M82.8 499.3h.6M84.9 524.1h.6M102.3 532.5h.6M81.7 498.9h.6M123.6 493.8h.6M90.5 475.1h.6M101.6 518.8h.6M101.7 528.2h.6M85.9 515.9h.6M110.5 489.0h.6M124.6 521.1h.6M103.0 485.1h.6M75.1 528.6h.6M114.5 538.9h.6M106.8 492.7h.6M97.2 513.6h.6M106.2 502.4h.6M84.7 493.2h.6M87.1 535.2h.6M98.6 492.0h.6M74.2 527.8h.6M102.5 524.8h.6M80.4 476.7h.6M84.3 530.4h.6M119.5 496.4h.6M102.5 495.9h.6M83.8 501.7h.6M108.6 498.3h.6M124.8 499.9h.6M119.4 524.9h.6M114.0 491.6h.6M88.6 480.2h.6M102.3 525.0h.6M102.4 500.5h.6M75.3 508.7h.6M108.3 481.3h.6M98.9 518.9h.6M98.9 514.3h.6M110.7 516.0h.6M74.7 538.1h.6M82.1 473.9h.6M124.3 507.3h.6M86.8 471.8h.6M84.4 495.8h.6M74.4 516.5h.6M87.5 529.3h.6M101.0 489.1h.6M72.6 535.5h.6M86.3 537.4h.6M84.5 537.4h.6M78.9 501.1h.6M113.7 515.2h.6M122.9 504.0h.6M120.4 473.4h.6M94.5 488.8h.6M74.1 531.1h.6M89.5 481.9h.6M99.1 501.7h.6M91.2 518.9h.6M110.3 499.2h.6M111.0 512.1h.6M119.4 510.7h.6M96.1 478.0h.6M83.5 471.2h.6M120.2 507.6h.6M118.7 515.9h.6M77.4 510.1h.6M82.0 541.4h.6M106.5 479.8h.6M115.2 474.8h.6M122.8 530.9h.6M71.7 535.2h.6M80.8 541.0h.6M93.6 535.3h.6M100.5 498.1h.6M112.9 510.9h.6M100.8 516.1h.6M98.8 511.1h.6M83.5 499.8h.6M105.9 530.3h.6M102.2 526.1h.6M122.0 470.7h.6M80.8 536.9h.6M77.3 499.9h.6M89.8 523.1h.6M88.2 541.1h.6M95.2 517.1h.6M79.8 488.1h.6M109.0 513.8h.6M115.3 500.6h.6M70.8 482.0h.6M120.1 479.8h.6M75.4 525.8h.6M87.2 500.6h.6M97.0 501.2h.6M93.6 495.1h.6M82.2 514.1h.6M110.2 515.3h.6M116.2 527.8h.6M82.9 491.1h.6M79.5 513.5h.6M98.8 506.4h.6M78.6 475.4h.6M121.7 532.9h.6M116.9 514.0h.6M116.0 504.6h.6M92.9 507.2h.6M113.4 507.6h.6M91.8 499.1h.6M95.5 506.8h.6M76.3 530.2h.6M72.5 496.6h.6M107.0 525.2h.6M81.0 469.2h.6M122.6 492.2h.6M101.3 524.1h.6M101.9 517.4h.6M119.3 475.5h.6M86.7 495.2h.6M71.1 501.4h.6M82.5 529.4h.6M95.5 476.5h.6M78.8 479.8h.6M85.8 490.9h.6M110.7 498.7h.6M91.0 521.3h.6M89.1 497.9h.6M83.2 522.2h.6M99.5 485.5h.6M124.7 495.5h.6M79.7 526.3h.6M116.5 500.8h.6M112.7 506.5h.6M103.3 500.1h.6M100.1 475.4h.6M98.8 506.4h.6M76.1 471.7h.6M101.5 480.2h.6M124.4 523.4h.6M110.2 524.0h.6M95.9 541.1h.6M94.6 524.5h.6M117.9 498.2h.6M70.8 483.7h.6M81.4 483.9h.6M122.7 487.4h.6M106.1 536.8h.6M115.6 500.5h.6M99.6 507.8h.6M72.7 507.0h.6M99.7 477.0h.6M104.8 513.7h.6M75.3 468.7h.6M96.7 516.1h.6M121.9 485.6h.6M73.9 540.3h.6M73.0 515.6h.6M76.1 505.5h.6M107.7 477.2h.6M119.2 488.9h.6M79.0 489.3h.6M116.5 538.2h.6M82.6 507.0h.6M99.8 506.6h.6M112.1 503.8h.6M76.9 494.8h.6M96.5 518.4h.6M117.7 503.3h.6M89.8 510.4h.6M114.0 521.7h.6M95.3 516.7h.6M121.9 481.6h.6M92.3 536.5h.6M115.3 481.1h.6M74.6 510.6h.6M89.0 537.1h.6M78.4 542.1h.6M92.5 495.0h.6M92.6 509.9h.6M83.6 517.0h.6M93.3 485.9h.6M107.6 499.4h.6M102.0 513.6h.6M83.8 483.9h.6M109.3 525.1h.6M109.1 543.1h.6M93.5 468.6h.6M95.5 543.0h.6M79.9 505.1h.6M116.0 527.7h.6M89.9 505.5h.6M86.5 503.3h.6M121.1 474.2h.6M87.1 488.6h.6M81.3 471.2h.6M91.3 508.9h.6M98.6 517.8h.6M104.0 498.5h.6M92.2 535.7h.6M107.8 539.9h.6M71.8 486.6h.6M121.0 493.0h.6M95.6 483.3h.6M95.0 484.5h.6M94.8 519.2h.6M85.5 525.7h.6M114.9 541.0h.6M95.2 507.2h.6M75.7 498.7h.6M89.6 539.4h.6M96.9 472.1h.6M90.1 507.6h.6M76.1 490.7h.6M118.9 523.2h.6M78.7 492.8h.6M110.2 478.0h.6M93.6 539.7h.6M97.5 540.3h.6M107.4 538.0h.6M71.4 480.4h.6M97.2 492.4h.6M95.5 496.7h.6M93.9 498.8h.6M70.6 507.7h.6M71.1 529.8h.6M97.2 543.1h.6M95.3 524.9h.6M88.7 525.7h.6M76.8 503.5h.6M90.3 490.6h.6M107.2 541.2h.6M115.2 497.9h.6M112.2 540.6h.6M70.6 524.1h.6M89.0 493.0h.6M97.2 483.7h.6M114.9 522.2h.6M101.3 518.4h.6M114.2 511.5h.6M108.1 508.9h.6M74.4 489.0h.6M124.0 536.9h.6M100.9 506.5h.6M103.4 537.0h.6M84.6 528.7h.6M119.7 524.3h.6M124.9 480.7h.6M89.2 478.9h.6M97.2 495.8h.6M73.9 539.7h.6M112.1 478.1h.6M105.6 472.8h.6M83.2 483.3h.6M115.7 487.3h.6M100.3 512.7h.6M121.1 477.5h.6M115.2 525.3h.6M76.0 512.0h.6M83.4 513.2h.6M116.7 530.2h.6M72.2 493.7h.6M77.6 539.4h.6M120.6 502.8h.6M114.7 517.6h.6M84.4 527.4h.6M89.0 496.4h.6M72.6 530.0h.6M77.4 471.5h.6M71.1 508.3h.6M102.5 507.6h.6M103.8 475.0h.6M78.3 511.0h.6M115.9 541.9h.6M97.1 520.2h.6M103.2 492.3h.6M106.6 513.7h.6M81.7 526.8h.6M114.3 524.7h.6M92.9 524.4h.6M97.6 528.6h.6M77.4 498.6h.6M84.4 524.4h.6M95.3 505.0h.6M110.0 494.6h.6M95.4 501.6h.6M101.0 541.4h.6M111.8 523.1h.6M92.4 505.4h.6M71.4 542.2h.6M101.1 517.0h.6M122.0 510.8h.6M72.6 517.2h.6M95.7 500.6h.6M106.2 471.5h.6M97.2 500.8h.6M76.1 486.9h.6M98.5 538.9h.6M74.8 522.9h.6M74.3 477.2h.6M88.9 481.8h.6M80.2 471.3h.6M98.0 527.7h.6M122.0 523.8h.6M82.2 493.2h.6M124.4 481.1h.6M89.5 487.9h.6M116.0 512.8h.6M99.0 478.4h.6M113.0 470.9h.6M117.7 489.9h.6M116.4 543.3h.6M78.5 478.7h.6M119.1 518.6h.6M77.0 538.4h.6M110.5 534.8h.6M73.0 516.7h.6M86.9 503.3h.6M77.7 523.5h.6M104.4 533.8h.6M87.7 497.1h.6M101.4 510.1h.6M82.4 508.3h.6M92.3 469.2h.6M119.6 533.3h.6M103.1 531.6h.6M97.0 533.9h.6M110.1 481.0h.6M124.6 486.1h.6M88.7 505.5h.6M76.5 490.7h.6M83.6 480.2h.6M79.0 468.8h.6M92.6 481.2h.6M110.9 481.0h.6M112.3 506.0h.6M76.4 535.3h.6M79.3 472.5h.6M90.1 471.6h.6M116.5 541.4h.6M96.9 469.1h.6M99.9 483.0h.6M86.4 524.3h.6M100.5 512.9h.6M103.5 499.5h.6M88.8 540.0h.6M103.3 476.6h.6M111.6 512.1h.6M89.8 531.3h.6M95.4 535.5h.6M77.6 475.5h.6M84.6 511.2h.6M72.7 486.3h.6M73.6 495.3h.6M75.1 477.0h.6M119.4 474.9h.6M110.4 541.9h.6M102.4 494.6h.6M114.0 503.5h.6M80.1 519.6h.6M89.7 536.1h.6M102.2 530.8h.6M117.1 514.8h.6M100.0 539.7h.6M77.3 488.3h.6M72.9 529.9h.6M72.4 474.5h.6M111.7 523.3h.6M119.2 525.0h.6M78.4 521.1h.6M114.6 517.4h.6M72.8 541.4h.6M116.0 482.4h.6M108.8 505.6h.6M96.3 491.1h.6M96.5 503.7h.6M82.5 525.5h.6M121.2 528.2h.6M85.3 502.3h.6M84.9 475.0h.6M112.5 482.4h.6M101.9 515.7h.6M98.7 517.7h.6M101.6 527.6h.6M76.5 497.0h.6M76.4 513.0h.6M123.8 490.1h.6M108.8 524.4h.6M104.0 477.5h.6M101.1 498.8h.6M83.3 534.8h.6M79.0 519.4h.6M102.3 506.7h.6M71.1 505.0h.6M72.0 476.8h.6M89.2 472.2h.6M102.4 534.4h.6M121.2 485.0h.6M95.2 512.7h.6M87.2 484.5h.6M122.5 539.7h.6M86.7 510.4h.6M96.7 488.9h.6M96.5 515.2h.6M72.9 494.2h.6M76.3 483.4h.6M70.9 478.1h.6M113.8 492.2h.6M91.2 541.8h.6M107.6 503.7h.6M94.8 499.5h.6M97.5 501.8h.6M117.6 474.2h.6M92.0 534.0h.6M76.0 516.3h.6M107.0 495.6h.6M72.1 499.2h.6M98.6 533.0h.6M90.6 513.4h.6M93.7 492.9h.6M110.2 479.0h.6M116.2 542.1h.6M123.0 510.1h.6M113.0 519.8h.6M115.2 499.3h.6M121.6 495.8h.6M91.5 485.5h.6M89.2 505.7h.6M72.0 531.1h.6M95.2 471.4h.6M73.6 509.6h.6M82.2 510.5h.6M93.0 480.3h.6M92.9 471.9h.6M112.2 509.5h.6M95.8 500.6h.6M109.0 524.3h.6M71.7 511.8h.6M109.8 497.2h.6M112.0 514.5h.6M71.2 515.0h.6M89.6 490.1h.6M105.2 486.4h.6M78.0 534.3h.6M114.4 508.7h.6M123.5 489.6h.6M113.2 534.4h.6M104.3 496.4h.6M113.2 480.9h.6M121.6 484.4h.6M122.6 489.6h.6M88.6 523.6h.6M105.8 488.8h.6M75.6 537.6h.6M120.4 477.5h.6M73.7 499.5h.6M86.2 521.6h.6M101.7 541.5h.6M82.7 530.3h.6M93.4 495.3h.6M89.6 492.2h.6M106.8 470.1h.6M98.7 481.5h.6M115.7 476.7h.6M104.4 518.0h.6M109.8 472.2h.6M71.4 471.7h.6M107.3 525.7h.6M120.1 471.8h.6M77.9 512.4h.6M113.2 471.6h.6M113.3 501.1h.6M75.0 542.9h.6M104.0 491.0h.6M87.5 542.2h.6M90.7 513.1h.6M124.7 527.1h.6M101.6 489.2h.6M96.5 510.3h.6M113.9 494.8h.6M91.8 480.3h.6M77.6 536.3h.6M123.9 542.9h.6M79.3 496.8h.6M119.6 489.4h.6M123.7 521.3h.6M96.0 473.5h.6M77.1 478.9h.6M95.6 471.6h.6M100.1 515.1h.6M113.4 538.6h.6M125.0 508.8h.6M83.8 471.5h.6M72.4 507.8h.6M124.0 528.9h.6M70.6 479.8h.6M123.0 495.8h.6M119.2 501.4h.6M119.5 497.1h.6M92.4 542.3h.6M81.4 521.5h.6M103.1 513.4h.6M94.1 475.0h.6M109.2 489.1h.6M81.0 496.6h.6M96.1 506.4h.6M120.3 506.7h.6M102.6 503.2h.6M121.1 520.6h.6M111.4 502.5h.6M77.8 499.7h.6M105.7 476.5h.6M80.6 537.3h.6M74.4 512.7h.6M103.4 475.5h.6M71.0 488.4h.6M73.4 513.9h.6M91.8 513.9h.6M80.4 469.4h.6M106.7 537.0h.6M85.7 490.6h.6M83.7 535.2h.6M100.6 531.8h.6M99.1 537.5h.6M116.6 482.0h.6M115.2 513.7h.6M121.4 484.2h.6M76.6 520.2h.6M73.6 529.8h.6M111.5 500.0h.6M92.3 488.4h.6M73.4 469.4h.6M99.4 539.5h.6M88.0 470.5h.6M82.2 518.6h.6M106.7 532.3h.6M110.5 494.3h.6M84.7 482.0h.6M106.8 494.9h.6M82.8 519.3h.6M118.8 536.1h.6M92.2 491.3h.6M96.3 503.6h.6M79.7 504.4h.6M95.8 481.7h.6M85.6 475.3h.6M113.2 520.9h.6M77.9 492.0h.6M99.6 471.9h.6M92.5 494.2h.6M120.2 481.8h.6M106.2 487.1h.6M101.2 483.3h.6M78.5 515.9h.6M76.2 493.9h.6M103.5 492.9h.6M120.7 522.8h.6M75.0 500.7h.6M93.5 516.2h.6M90.7 525.1h.6M71.7 471.6h.6M104.5 528.0h.6M95.7 523.3h.6M96.8 534.9h.6M115.7 505.6h.6M104.4 517.2h.6M83.6 483.9h.6M122.9 490.1h.6M120.9 473.9h.6M108.3 469.7h.6M77.2 484.9h.6M105.0 487.2h.6M70.6 486.4h.6M86.1 468.9h.6M94.2 469.1h.6M95.6 541.4h.6M113.5 523.3h.6M101.0 491.1h.6M105.8 481.2h.6M95.0 485.9h.6M110.4 489.9h.6M80.7 468.9h.6M119.4 514.5h.6M116.3 493.5h.6M93.7 521.5h.6M91.0 500.0h.6M100.2 501.4h.6M106.7 466.5h.6M91.9 499.9h.6M92.9 511.6h.6M88.4 507.6h.6M122.7 491.1h.6M94.9 490.6h.6M71.1 490.7h.6M108.5 503.1h.6M81.5 517.3h.6M96.4 486.1h.6M103.2 513.2h.6M93.6 473.6h.6M85.9 496.2h.6M109.8 480.9h.6M98.9 478.3h.6M96.0 476.3h.6M87.3 473.6h.6M79.1 472.7h.6M113.7 501.7h.6M89.1 515.6h.6M90.3 501.0h.6M113.1 498.2h.6M118.6 493.1h.6M92.5 497.0h.6M76.5 480.1h.6M107.4 471.0h.6M113.1 499.0h.6M114.0 505.9h.6M104.7 519.7h.6M93.9 493.8h.6M113.2 486.0h.6M113.3 505.0h.6M87.1 477.4h.6M71.2 478.3h.6M108.9 501.8h.6M98.4 496.3h.6M88.1 482.2h.6M83.0 503.4h.6M112.1 511.6h.6M103.0 492.9h.6M98.4 494.3h.6M98.0 496.7h.6M98.7 496.7h.6M95.3 503.1h.6M100.5 529.0h.6M97.3 488.0h.6M85.5 500.7h.6M97.1 498.8h.6M92.0 492.8h.6M107.3 514.5h.6M100.8 493.9h.6M76.6 479.1h.6M95.9 491.8h.6M93.5 479.6h.6M93.0 467.8h.6M75.8 483.9h.6M104.2 486.4h.6M79.5 498.6h.6M93.0 507.7h.6M99.7 497.7h.6M91.3 503.9h.6M82.5 473.1h.6M108.7 487.8h.6M94.9 503.2h.6M77.3 511.6h.6M88.2 481.8h.6M91.9 470.5h.6M100.5 510.8h.6M71.1 484.9h.6M113.2 499.5h.6M88.8 514.4h.6M95.4 489.8h.6M106.7 470.7h.6M94.7 483.2h.6M113.2 508.9h.6M81.9 478.7h.6M93.2 482.1h.6M84.7 500.2h.6M86.5 519.7h.6M95.0 486.8h.6M75.9 486.9h.6M111.6 501.9h.6M116.8 512.6h.6M102.8 484.4h.6M91.4 495.1h.6M77.2 493.0h.6M85.6 502.3h.6M93.6 522.9h.6M79.0 491.0h.6M92.2 498.6h.6M103.7 530.1h.6M92.7 486.2h.6M99.4 516.2h.6M93.5 493.8h.6M90.1 496.3h.6M74.1 516.1h.6M86.7 488.0h.6M120.7 494.7h.6M87.4 517.7h.6M97.2 507.8h.6M85.2 469.7h.6M97.2 514.7h.6M87.0 499.8h.6M106.0 498.4h.6M95.6 505.6h.6M97.9 487.2h.6M111.5 506.1h.6M100.6 504.9h.6M95.2 466.9h.6M87.6 489.6h.6M98.9 494.6h.6M101.9 503.5h.6M108.6 480.0h.6M84.6 500.2h.6M85.0 498.0h.6M81.4 503.3h.6M95.9 503.3h.6M95.5 484.1h.6M75.4 495.8h.6M85.2 474.3h.6M86.3 506.4h.6M115.0 506.0h.6M117.1 490.2h.6M92.8 482.0h.6M82.8 518.1h.6M102.3 504.6h.6M81.5 509.3h.6M83.3 509.5h.6M80.7 523.8h.6M112.8 497.3h.6M108.9 532.0h.6M99.6 491.7h.6M117.3 506.6h.6M76.9 498.2h.6M100.1 479.4h.6M80.1 486.2h.6M76.0 502.8h.6M88.5 497.7h.6M73.4 491.5h.6M100.0 471.3h.6M107.2 484.8h.6M71.5 468.9h.6M81.1 486.8h.6M88.2 473.4h.6M108.9 483.8h.6M95.0 498.7h.6M107.8 476.9h.6M104.1 493.7h.6M91.6 490.4h.6M112.2 501.1h.6M114.8 507.4h.6M110.4 481.5h.6M126.3 481.1h.6M96.7 478.9h.6M100.8 517.8h.6M70.3 493.3h.6M81.4 467.4h.6M79.3 494.6h.6M114.1 512.5h.6M93.7 470.6h.6M104.7 494.2h.6M93.7 477.9h.6M91.4 522.4h.6M118.3 512.5h.6M104.9 488.6h.6M94.0 496.5h.6M100.4 489.3h.6M79.9 510.3h.6M87.9 506.4h.6M91.2 504.0h.6M102.5 504.9h.6M105.3 480.8h.6M71.9 493.7h.6M121.1 482.4h.6M78.9 526.9h.6M87.4 484.6h.6M83.5 509.8h.6M97.4 496.9h.6M96.7 496.5h.6M107.5 498.8h.6M93.6 500.3h.6M82.5 481.4h.6M72.0 508.1h.6M83.4 496.9h.6M112.2 520.2h.6M88.2 496.7h.6M95.6 475.7h.6M86.3 534.2h.6M93.1 519.6h.6M106.6 519.5h.6M115.7 497.6h.6M73.9 514.8h.6M105.7 501.3h.6M108.3 483.1h.6M96.2 494.3h.6M69.9 477.3h.6M106.1 505.3h.6M92.8 498.3h.6M106.2 501.5h.6M109.0 493.3h.6M126.4 500.4h.6M106.9 509.7h.6M81.5 478.2h.6M106.7 476.4h.6M84.1 508.3h.6M76.1 480.2h.6M73.7 479.4h.6M124.4 502.0h.6M109.6 466.6h.6M110.9 510.9h.6M104.4 497.7h.6M100.9 503.5h.6M77.3 495.8h.6M89.1 511.5h.6M88.6 467.0h.6M114.2 519.7h.6M109.5 489.3h.6M78.2 508.3h.6M85.0 501.4h.6M106.3 492.0h.6M77.2 471.6h.6M92.8 495.8h.6M92.0 502.9h.6M120.0 492.7h.6M85.3 491.4h.6M113.4 491.2h.6M80.6 469.7h.6M116.5 514.3h.6M93.7 523.5h.6M87.1 504.3h.6M72.3 479.6h.6M93.5 500.8h.6M103.7 481.2h.6M85.1 492.4h.6M89.1 490.3h.6M107.0 510.6h.6M96.7 498.8h.6M99.3 507.4h.6M105.1 472.3h.6M107.9 478.1h.6M100.1 497.2h.6M89.7 484.7h.6M87.9 519.0h.6M93.4 492.3h.6M110.2 521.4h.6M77.5 509.1h.6M116.7 504.5h.6M94.0 470.8h.6M97.0 486.4h.6M92.0 490.9h.6M126.0 486.6h.6M102.4 491.1h.6M80.4 478.2h.6M92.0 481.9h.6M79.5 493.4h.6M80.9 498.6h.6M113.3 496.8h.6M75.9 491.2h.6M84.1 488.6h.6M116.7 487.9h.6M96.9 481.7h.6M81.4 471.8h.6M82.8 487.9h.6M88.4 494.6h.6M95.0 503.1h.6M90.0 512.4h.6M103.3 513.4h.6M92.6 511.1h.6M95.0 470.4h.6M93.2 491.4h.6M69.9 479.9h.6M83.7 526.2h.6M98.6 519.6h.6M108.7 509.3h.6M106.8 472.9h.6M113.9 479.8h.6M100.8 492.6h.6M119.9 511.0h.6M123.4 501.0h.6M93.9 505.0h.6M94.6 476.8h.6M81.8 493.0h.6M104.8 503.0h.6M92.3 496.1h.6M118.6 520.2h.6M113.2 515.8h.6M114.0 520.0h.6M73.7 487.1h.6M97.8 499.8h.6M115.6 468.4h.6M96.4 498.1h.6M83.2 492.4h.6M110.2 500.9h.6M92.1 497.3h.6M92.1 507.6h.6M92.5 508.2h.6M85.2 494.0h.6M76.2 491.6h.6M107.7 480.2h.6M88.6 496.0h.6M88.5 506.3h.6M74.3 506.6h.6M115.5 517.9h.6M93.3 483.3h.6M107.5 498.7h.6M99.9 504.1h.6M88.5 473.9h.6M71.3 483.5h.6M79.6 472.2h.6M87.4 480.0h.6M104.9 493.6h.6M107.2 475.9h.6M76.7 472.1h.6M99.0 538.5h.6M97.9 488.5h.6M97.8 494.2h.6M109.9 494.6h.6M80.2 467.8h.6M100.2 508.8h.6M96.8 482.1h.6M87.4 490.1h.6M103.8 493.8h.6M113.3 491.8h.6M84.0 520.7h.6M78.3 483.5h.6M114.6 494.6h.6M96.1 501.6h.6M101.6 540.2h.6M82.2 527.9h.6M104.7 509.1h.6M78.9 503.3h.6M80.5 477.6h.6M115.0 484.7h.6M86.2 504.4h.6M81.3 476.8h.6M98.0 498.5h.6M118.9 478.7h.6M105.9 504.7h.6M87.3 492.2h.6M94.7 480.0h.6M72.9 504.5h.6M77.0 480.7h.6M107.0 486.8h.6M87.7 474.7h.6M74.2 474.8h.6M71.8 511.9h.6M76.0 504.1h.6M75.0 493.3h.6M78.4 469.1h.6M84.6 479.3h.6M96.2 503.7h.6M92.2 531.0h.6M76.2 512.6h.6M100.1 513.4h.6M88.4 508.2h.6M93.6 475.0h.6M84.3 498.2h.6M112.9 485.0h.6M94.7 480.3h.6M73.6 486.1h.6M114.7 503.6h.6M88.4 493.0h.6M101.5 491.5h.6M85.8 489.0h.6M103.1 487.6h.6M105.3 466.8h.6M80.3 487.0h.6M102.1 480.0h.6M83.8 497.4h.6M90.8 483.4h.6M87.0 479.9h.6M105.4 499.1h.6M106.3 524.7h.6M112.8 500.2h.6M91.3 525.4h.6M97.1 490.7h.6M114.3 500.1h.6M89.8 500.5h.6M125.7 496.6h.6M100.7 482.6h.6M87.3 507.7h.6M93.7 497.1h.6M112.9 490.9h.6M120.4 486.5h.6M83.3 484.3h.6M71.4 503.3h.6M95.8 514.8h.6M83.6 506.0h.6M116.7 492.2h.6M126.1 493.4h.6M106.0 487.8h.6M100.5 479.0h.6M106.9 496.5h.6M88.9 501.1h.6M87.8 515.3h.6M107.1 492.3h.6M89.9 536.7h.6M78.6 521.5h.6M109.3 505.7h.6M86.4 481.9h.6M104.0 484.6h.6M103.5 481.3h.6M103.7 500.7h.6M80.6 481.0h.6M83.2 486.9h.6M84.4 520.2h.6M100.6 489.4h.6M88.6 482.8h.6M98.2 493.2h.6M82.9 484.3h.6M87.2 479.2h.6M95.6 481.3h.6M102.4 489.4h.6M102.3 485.9h.6M89.2 499.6h.6M100.4 501.5h.6M105.0 499.5h.6M101.1 491.2h.6M103.0 492.9h.6M93.0 497.1h.6M86.5 490.8h.6M101.0 494.7h.6M120.5 472.7h.6M123.4 477.1h.6M82.9 502.5h.6M95.8 494.3h.6M95.6 500.1h.6M109.9 500.4h.6M74.4 484.4h.6M116.4 521.7h.6M109.4 509.7h.6M99.4 523.7h.6M85.3 490.0h.6M82.0 516.6h.6M86.1 501.8h.6M72.3 474.2h.6M110.3 504.6h.6M108.1 497.6h.6M89.9 489.1h.6M76.8 489.5h.6M116.1 492.6h.6M73.6 491.4h.6M78.9 478.8h.6M92.8 484.1h.6M74.4 516.0h.6M121.9 496.7h.6M118.1 488.3h.6M93.9 512.9h.6M99.2 506.1h.6M87.5 493.0h.6M70.0 483.7h.6M103.8 502.6h.6M106.5 506.3h.6M111.7 499.8h.6M90.3 486.4h.6M87.4 480.9h.6M78.2 493.1h.6M81.2 501.7h.6M111.3 499.0h.6M93.4 487.5h.6M111.9 504.3h.6M83.6 494.1h.6M100.8 507.2h.6M88.9 515.5h.6M113.0 488.7h.6M91.2 481.7h.6M80.0 499.1h.6M117.3 514.9h.6M97.7 489.8h.6M84.5 501.1h.6M87.5 505.1h.6M93.1 499.3h.6M86.8 523.5h.6M113.3 496.5h.6M81.1 503.2h.6M107.2 479.5h.6M96.4 523.9h.6M98.1 489.9h.6M104.7 520.9h.6M88.2 489.4h.6M91.6 496.6h.6M114.5 500.3h.6M102.0 504.6h.6M100.0 494.0h.6M103.8 486.3h.6M78.0 519.2h.6M93.6 517.3h.6M73.9 478.5h.6M102.0 471.5h.6M84.9 468.1h.6M101.7 471.1h.6M92.7 470.3h.6M102.5 509.8h.6M96.6 481.1h.6M101.4 508.5h.6M106.8 512.4h.6M124.9 497.9h.6M90.4 485.9h.6M94.3 491.5h.6M86.0 499.5h.6M126.1 483.6h.6M86.6 489.7h.6M77.9 509.3h.6M91.8 502.8h.6M92.1 474.1h.6M107.9 507.6h.6M97.7 501.0h.6M79.0 508.8h.6M90.4 501.1h.6M103.7 501.2h.6M82.5 498.3h.6M96.5 510.9h.6M82.2 507.8h.6M101.8 495.2h.6M124.4 505.8h.6M85.5 498.7h.6M82.2 478.1h.6M86.2 487.6h.6M121.5 505.6h.6M83.0 492.4h.6M97.0 495.0h.6M100.9 483.5h.6M116.7 492.5h.6M113.8 493.0h.6M102.0 481.0h.6M111.8 498.4h.6M87.7 499.7h.6M101.6 472.8h.6M82.1 480.4h.6M107.3 496.9h.6M83.4 484.4h.6M91.3 516.2h.6M71.5 477.5h.6M75.9 500.5h.6M81.9 520.5h.6M90.8 487.3h.6M76.4 503.8h.6M111.1 496.7h.6M114.9 511.7h.6M99.8 495.2h.6M85.3 497.5h.6M88.6 515.2h.6M106.3 492.2h.6M88.0 500.3h.6M111.1 498.5h.6M110.7 488.4h.6M98.0 503.8h.6M97.6 500.2h.6M110.8 494.8h.6M110.6 487.7h.6M102.6 489.0h.6M88.8 503.5h.6M115.3 493.5h.6M96.6 513.8h.6M82.4 508.2h.6M76.7 469.1h.6M100.9 491.5h.6M101.1 489.0h.6M76.4 493.7h.6M76.1 484.5h.6M82.1 508.8h.6M93.2 513.1h.6M82.0 478.4h.6M123.0 475.7h.6M114.2 479.6h.6M106.3 484.7h.6M118.9 522.7h.6M111.6 500.1h.6M89.1 506.2h.6M76.9 520.3h.6M91.6 505.6h.6M98.3 499.2h.6M90.8 493.5h.6M81.5 511.8h.6M90.3 497.0h.6M119.8 497.8h.6M109.4 491.1h.6M85.6 509.0h.6M88.2 480.9h.6M93.8 490.1h.6M112.2 505.6h.6M72.4 502.6h.6M74.0 498.0h.6M104.5 488.3h.6M87.0 506.2h.6M90.6 479.8h.6M121.5 507.8h.6M103.0 500.4h.6M111.8 496.8h.6M108.1 500.3h.6M84.8 510.6h.6M98.5 484.5h.6M106.7 505.0h.6M113.8 501.4h.6M123.0 489.1h.6M83.1 482.3h.6M98.2 486.1h.6M80.3 487.6h.6M97.3 476.9h.6M94.5 494.6h.6M121.3 496.9h.6M73.9 498.3h.6M97.5 477.0h.6M91.4 484.5h.6M91.6 512.5h.6M122.3 488.1h.6M118.7 493.9h.6M94.4 493.3h.6M93.3 492.5h.6M83.3 494.8h.6M78.1 502.4h.6M83.9 501.4h.6M92.3 469.5h.6M113.1 498.6h.6M93.1 489.7h.6M122.9 491.0h.6M109.5 497.3h.6M72.9 504.5h.6M69.8 500.7h.6M100.6 497.6h.6M82.1 513.9h.6M122.3 481.5h.6M87.9 517.1h.6M87.1 507.8h.6M78.3 485.4h.6M98.2 500.6h.6M70.9 479.6h.6M102.2 512.2h.6M102.2 499.3h.6M101.0 477.2h.6M100.3 506.9h.6M103.5 478.0h.6M78.7 510.0h.6M71.8 479.3h.6M119.3 481.7h.6M82.3 503.2h.6M106.6 492.0h.6M71.1 487.1h.6M96.6 481.4h.6M78.4 511.8h.6M102.7 505.2h.6M108.3 480.2h.6M101.7 511.0h.6M104.9 478.1h.6M102.7 491.7h.6M98.5 476.6h.6M107.3 484.1h.6M112.1 493.9h.6M79.9 482.4h.6M91.4 509.3h.6M107.5 513.8h.6M93.9 468.1h.6M85.0 481.6h.6M82.9 531.6h.6M106.7 480.7h.6M113.0 490.1h.6M72.4 510.7h.6M86.3 496.1h.6M110.6 489.9h.6M76.1 490.7h.6M96.7 496.9h.6M80.3 498.6h.6M97.2 486.5h.6M103.5 484.2h.6M78.8 474.4h.6M85.2 517.2h.6M75.3 510.2h.6M99.7 498.3h.6M83.7 482.6h.6M88.6 493.4h.6M103.0 486.9h.6M118.8 517.7h.6M91.9 480.3h.6M90.8 503.8h.6M101.0 501.3h.6M90.3 508.5h.6M101.5 510.0h.6M91.7 485.0h.6M84.6 479.6h.6M71.9 495.2h.6M98.5 514.2h.6M82.5 467.0h.6M107.9 497.9h.6M83.8 493.8h.6M124.1 495.1h.6M83.4 493.2h.6M103.3 499.4h.6M99.4 498.9h.6M75.3 502.8h.6M110.7 503.6h.6M93.0 493.2h.6M97.1 495.2h.6M114.3 489.8h.6M85.6 503.0h.6M95.6 484.7h.6M97.0 518.5h.6M123.7 496.7h.6M91.7 511.4h.6M101.8 502.3h.6M93.4 476.4h.6M71.3 493.6h.6M76.9 506.0h.6M109.4 515.4h.6M96.3 522.1h.6M115.0 500.3h.6M106.8 487.1h.6M102.7 518.6h.6M102.7 492.5h.6M87.0 486.4h.6M97.5 469.5h.6M76.7 506.6h.6M85.0 489.0h.6M95.6 506.6h.6M99.1 503.0h.6M85.0 495.0h.6M83.0 493.1h.6M103.7 501.7h.6M95.4 478.2h.6M90.9 486.4h.6M95.5 479.1h.6M111.1 525.3h.6M70.0 496.3h.6M116.8 514.1h.6M115.5 497.8h.6M85.4 510.4h.6M84.5 483.5h.6M95.4 477.2h.6M91.3 481.4h.6M95.9 508.2h.6M85.4 501.3h.6M109.8 483.7h.6M93.2 489.5h.6M123.4 487.6h.6M96.3 474.9h.6M79.5 503.0h.6M89.8 505.1h.6M95.4 531.4h.6M90.6 508.0h.6M82.9 488.5h.6M69.8 531.7h.6M87.4 505.9h.6M85.8 521.3h.6M112.8 502.4h.6M102.7 509.9h.6M101.9 517.5h.6M109.2 494.7h.6M102.3 498.4h.6M114.5 492.0h.6M97.2 477.9h.6M106.4 499.2h.6M85.0 519.9h.6M96.1 479.6h.6M114.1 493.2h.6M95.4 496.9h.6M92.3 484.3h.6M97.5 471.9h.6M92.7 507.8h.6M111.6 488.7h.6M88.5 497.9h.6M84.5 507.8h.6M80.5 485.7h.6M77.1 484.3h.6M91.0 521.7h.6M99.4 512.2h.6M96.3 508.9h.6M78.7 479.8h.6M125.4 500.9h.6M70.2 504.1h.6M92.3 491.7h.6M108.7 478.3h.6M115.1 499.2h.6M87.6 476.6h.6M123.5 490.3h.6M73.2 493.2h.6M102.8 504.1h.6M118.9 503.2h.6M94.3 526.8h.6M110.9 487.1h.6M119.3 482.1h.6M100.1 517.7h.6M100.7 510.9h.6M84.0 478.0h.6M76.4 504.1h.6M84.9 516.2h.6M89.9 514.4h.6M100.9 480.2h.6M96.2 502.4h.6M103.3 494.1h.6M113.3 509.0h.6M110.7 484.6h.6M82.0 487.9h.6M91.4 500.0h.6M117.3 475.0h.6M90.6 515.9h.6M108.8 504.2h.6M97.9 475.4h.6M97.2 482.1h.6M97.5 484.8h.6M76.5 495.5h.6M112.6 488.6h.6M98.4 505.7h.6M103.7 477.7h.6M86.4 500.5h.6M95.8 520.3h.6M104.9 483.0h.6M106.3 511.3h.6M105.9 502.7h.6M72.7 494.7h.6M104.9 490.0h.6M89.9 501.8h.6M85.0 482.8h.6M92.7 494.1h.6M108.9 493.0h.6M76.6 502.0h.6M82.4 505.7h.6M85.9 503.4h.6M100.1 492.5h.6M74.8 489.7h.6M117.8 497.9h.6M113.7 496.2h.6M95.3 481.7h.6M101.3 483.5h.6M81.8 509.9h.6M79.1 527.5h.6M95.0 487.4h.6M116.5 481.5h.6M97.2 495.7h.6M110.3 519.5h.6M100.6 477.1h.6M73.8 488.3h.6M108.0 497.1h.6M99.4 490.8h.6M116.7 479.3h.6M125.8 512.0h.6M106.3 494.9h.6M90.2 495.1h.6M86.3 489.2h.6M82.0 505.8h.6M96.6 501.3h.6M83.2 477.8h.6M80.1 498.2h.6M76.0 503.3h.6M79.7 488.6h.6M98.5 478.2h.6M91.8 485.8h.6M120.0 525.1h.6M94.8 499.1h.6M113.7 508.4h.6M85.3 481.1h.6M82.2 496.7h.6M100.1 531.3h.6M78.1 497.5h.6M82.0 507.0h.6M101.5 476.5h.6M87.5 495.8h.6M106.4 502.4h.6M105.6 495.4h.6M104.5 496.2h.6M110.5 503.3h.6M80.9 494.5h.6M82.8 493.5h.6M104.1 496.6h.6M93.3 486.8h.6M118.7 495.4h.6M79.7 488.6h.6M110.2 523.6h.6M115.5 490.7h.6M108.8 472.0h.6M108.4 492.1h.6M99.4 478.1h.6M101.2 477.5h.6M75.3 508.2h.6M86.2 493.7h.6M95.1 510.8h.6M102.0 482.9h.6M86.8 513.7h.6M116.6 488.6h.6M109.3 494.2h.6M111.1 481.1h.6M108.0 487.3h.6M74.5 503.6h.6M104.0 474.2h.6M101.9 487.5h.6M96.2 488.9h.6M85.8 500.3h.6M114.2 501.3h.6M89.5 485.1h.6M96.2 493.1h.6M94.1 490.9h.6M91.2 474.3h.6M104.8 490.2h.6M94.6 487.7h.6M70.8 503.3h.6M90.8 491.1h.6M100.4 518.3h.6M93.8 502.3h.6M124.0 490.4h.6M114.0 495.4h.6M110.7 496.5h.6M109.9 484.5h.6M86.9 486.3h.6M89.9 510.3h.6M101.6 504.2h.6M91.3 496.2h.6M101.5 500.0h.6M85.9 489.6h.6M77.9 505.5h.6M111.7 521.6h.6M103.9 532.0h.6M87.5 484.1h.6M98.2 474.7h.6M72.2 502.9h.6M113.5 502.9h.6M73.7 514.2h.6M95.6 489.7h.6M96.6 493.2h.6M112.9 502.6h.6M80.0 487.0h.6M106.5 485.8h.6M107.6 494.4h.6M90.7 482.0h.6M85.1 493.8h.6M75.9 495.7h.6M121.4 487.0h.6M94.3 516.5h.6M95.6 516.3h.6M110.4 507.3h.6M91.4 487.9h.6M115.3 496.4h.6M91.9 529.4h.6M104.6 519.6h.6M98.3 475.2h.6M96.9 519.7h.6M97.6 490.9h.6M92.0 478.5h.6M89.1 496.9h.6M110.1 505.8h.6M77.1 467.9h.6M89.1 484.2h.6M108.1 480.6h.6M104.4 488.8h.6M112.9 495.7h.6M99.4 480.3h.6M110.0 494.0h.6M122.9 494.1h.6M102.0 491.3h.6M88.9 532.1h.6M106.8 481.1h.6M104.7 472.6h.6M83.6 506.3h.6M72.9 494.3h.6M95.0 496.7h.6M78.3 474.4h.6M93.8 503.2h.6M78.0 505.6h.6M111.7 498.8h.6M110.4 508.1h.6M113.5 498.2h.6M98.9 499.4h.6M113.5 487.3h.6M118.1 481.4h.6M125.8 503.7h.6M105.5 472.8h.6M90.1 497.5h.6M101.2 504.1h.6M97.0 494.0h.6M109.8 473.5h.6M87.4 504.5h.6M93.3 511.6h.6M83.7 489.5h.6M104.7 519.8h.6M73.8 470.7h.6M75.2 477.2h.6M98.7 507.9h.6M94.2 498.1h.6M104.6 500.1h.6M99.3 498.1h.6M112.8 478.9h.6M86.6 498.5h.6M107.1 484.5h.6M92.0 483.9h.6M124.7 500.2h.6M86.6 508.6h.6M83.4 498.7h.6M73.2 490.6h.6M100.2 499.7h.6M81.1 484.1h.6M90.9 510.6h.6M102.2 503.0h.6M94.8 494.5h.6M93.9 518.3h.6M89.3 511.8h.6M72.1 479.8h.6M93.5 474.0h.6M119.4 498.2h.6M101.5 488.6h.6M102.7 486.1h.6M116.5 513.5h.6M84.4 483.4h.6M71.3 475.1h.6M115.7 506.8h.6M121.0 503.3h.6M110.2 505.6h.6M88.4 499.1h.6M111.5 498.4h.6M81.1 482.7h.6M85.9 497.4h.6M95.2 510.8h.6M90.1 505.9h.6M98.0 497.8h.6M93.8 484.4h.6M88.4 480.5h.6M89.5 498.2h.6M100.2 480.6h.6M84.4 491.7h.6M117.5 499.3h.6M102.3 513.6h.6M104.3 489.2h.6M123.1 494.6h.6M115.4 502.1h.6M106.6 514.6h.6M89.2 476.4h.6M101.3 495.5h.6M92.0 496.4h.6M71.1 495.9h.6M91.3 500.1h.6M94.3 490.8h.6M106.0 510.8h.6M94.1 483.6h.6M84.5 512.3h.6M99.0 501.3h.6M119.9 487.6h.6M89.0 501.7h.6M91.6 475.3h.6M116.6 497.2h.6M118.1 512.1h.6M97.4 512.1h.6M91.2 507.9h.6M75.5 500.7h.6M95.3 483.3h.6M83.5 485.6h.6M95.1 508.6h.6M108.8 490.9h.6M92.8 501.8h.6M76.1 493.8h.6M102.6 500.1h.6M86.2 482.4h.6M79.1 513.6h.6M94.1 476.8h.6M117.8 490.3h.6M79.6 505.3h.6M88.7 492.1h.6M98.3 489.6h.6M104.6 505.6h.6M92.3 486.3h.6M87.0 486.3h.6M105.3 479.1h.6M110.8 492.1h.6M100.3 512.2h.6M96.2 485.6h.6M98.3 498.4h.6M124.6 493.3h.6M108.6 512.9h.6M111.6 491.2h.6M75.5 509.2h.6M121.4 503.8h.6M113.3 497.0h.6M108.2 513.7h.6M95.2 512.5h.6M94.7 482.7h.6M101.5 493.3h.6M102.6 503.4h.6M92.6 501.3h.6M88.3 506.9h.6M80.8 476.4h.6M111.6 467.8h.6M90.9 492.3h.6M108.3 491.7h.6M91.1 469.4h.6M110.0 480.0h.6M93.9 483.4h.6M112.1 481.3h.6M72.4 512.5h.6M83.5 497.5h.6M100.7 473.2h.6M110.0 479.8h.6M95.0 500.4h.6M92.6 481.8h.6M108.9 481.9h.6M72.8 510.7h.6M113.7 468.0h.6M90.5 494.1h.6M112.2 480.0h.6M114.8 521.9h.6M91.4 483.9h.6M94.9 474.0h.6M114.5 501.2h.6M71.2 483.1h.6M88.8 509.5h.6M107.4 485.2h.6M96.7 488.0h.6M101.7 490.4h.6M89.7 479.4h.6M71.4 504.5h.6M107.2 516.5h.6M77.4 504.9h.6M74.1 503.9h.6M103.2 497.6h.6M89.0 487.5h.6M88.0 467.0h.6M104.9 478.3h.6M96.6 493.5h.6M105.6 495.4h.6M94.5 498.6h.6M110.2 489.0h.6M80.1 495.0h.6M92.7 505.0h.6M100.9 497.1h.6M112.8 499.1h.6M104.8 489.4h.6M119.1 504.3h.6M80.0 482.6h.6M123.5 498.5h.6M123.0 528.4h.6M97.5 499.7h.6M108.4 482.9h.6M82.4 493.7h.6M119.6 496.7h.6M110.6 500.3h.6M75.1 485.0h.6M97.1 482.2h.6M111.3 500.8h.6M70.2 502.4h.6M87.2 491.2h.6M107.0 469.3h.6M80.3 499.2h.6M71.5 513.4h.6M106.7 485.8h.6M95.9 484.4h.6M124.9 494.5h.6M102.5 498.8h.6M72.1 467.4h.6M97.1 514.7h.6M104.8 492.2h.6M101.5 489.6h.6M115.2 503.3h.6M99.5 524.5h.6M85.1 481.6h.6M90.6 487.2h.6M85.2 503.4h.6M103.0 470.3h.6M83.3 487.1h.6M96.0 501.0h.6M83.4 485.8h.6M97.7 495.2h.6M86.5 500.9h.6M82.6 507.2h.6M100.3 485.8h.6M73.1 498.1h.6M111.3 494.5h.6M116.6 504.6h.6M114.5 473.2h.6M83.3 495.6h.6M97.6 492.1h.6M111.9 504.8h.6M86.0 494.6h.6M83.5 508.2h.6M90.0 510.4h.6M85.6 481.2h.6M83.6 501.9h.6M111.0 498.6h.6M117.9 488.5h.6M81.0 498.2h.6M91.4 516.5h.6M114.6 483.1h.6M90.1 487.1h.6M93.0 523.3h.6M111.1 494.2h.6M86.4 498.8h.6M79.2 495.4h.6M105.6 506.5h.6M108.1 480.1h.6M109.0 500.2h.6M94.9 482.2h.6M85.2 501.2h.6M105.7 478.5h.6M109.2 477.3h.6M108.7 498.7h.6M89.2 478.6h.6M77.1 496.8h.6M76.9 491.8h.6M113.1 494.4h.6M73.5 502.2h.6M89.3 499.9h.6M111.8 479.9h.6M82.3 487.2h.6M84.9 485.8h.6M98.5 505.7h.6M113.2 480.5h.6M80.6 491.1h.6M82.2 496.5h.6M113.8 482.8h.6M101.4 503.1h.6M88.0 506.4h.6M112.8 482.4h.6M80.9 491.3h.6M101.5 507.7h.6M114.9 477.6h.6M99.4 480.1h.6M111.0 494.5h.6M80.5 499.0h.6M87.7 504.3h.6M105.6 480.6h.6M98.1 503.9h.6M112.5 487.1h.6M86.7 483.4h.6M84.3 484.4h.6M101.2 503.0h.6M91.9 503.3h.6M101.3 476.2h.6M99.1 480.8h.6M87.0 502.3h.6M94.0 478.5h.6M80.7 490.1h.6M85.9 498.7h.6M93.3 480.4h.6M80.2 488.6h.6M95.5 480.5h.6M98.2 508.4h.6M109.8 503.9h.6M106.6 500.9h.6M80.7 485.1h.6M79.1 501.2h.6M121.1 481.5h.6M113.0 499.2h.6M83.2 498.7h.6M77.4 488.8h.6M97.9 481.8h.6M101.9 480.1h.6M111.1 495.0h.6M99.6 504.2h.6M82.6 498.6h.6M112.9 478.6h.6M79.8 499.9h.6M113.7 479.6h.6M96.0 481.7h.6M87.3 484.4h.6M96.7 504.1h.6M78.0 490.3h.6M106.2 503.7h.6M99.2 511.1h.6M83.0 486.2h.6M112.6 496.0h.6M88.8 502.9h.6M112.6 492.6h.6M81.0 485.4h.6M97.3 477.9h.6M113.6 480.9h.6M77.5 486.8h.6M96.6 480.5h.6M96.2 481.6h.6M75.0 488.9h.6M82.8 488.3h.6M87.9 500.6h.6M71.5 494.9h.6M112.8 481.7h.6M81.3 488.2h.6M98.6 480.2h.6M84.9 503.6h.6M116.7 487.3h.6M109.5 498.4h.6M94.6 480.7h.6M87.0 506.9h.6M94.3 503.0h.6M97.3 505.5h.6M84.1 499.0h.6M81.8 486.3h.6M112.8 486.9h.6M111.1 485.2h.6M103.1 479.0h.6M110.5 490.0h.6M82.1 493.2h.6M84.8 503.9h.6M78.0 484.2h.6M81.6 490.0h.6M109.1 496.6h.6M109.3 493.7h.6M78.8 496.9h.6M110.5 487.0h.6M107.9 479.4h.6M108.7 476.1h.6M72.9 496.1h.6M98.6 504.9h.6M115.0 478.0h.6M108.7 478.3h.6M83.4 498.5h.6M85.0 500.0h.6M82.7 482.8h.6M110.4 492.7h.6M98.8 503.0h.6M110.8 502.4h.6M92.4 483.2h.6M107.3 481.3h.6M112.4 478.4h.6M111.4 479.6h.6M92.4 503.9h.6M81.5 502.3h.6M97.7 507.2h.6M99.4 481.5h.6M102.4 509.9h.6M84.5 500.0h.6M84.0 496.7h.6M109.1 479.1h.6M99.9 479.2h.6M87.8 482.7h.6M106.3 476.6h.6M112.5 484.6h.6M99.7 508.3h.6M69.6 486.2h.6M92.6 512.1h.6M83.2 488.0h.6M110.3 491.9h.6M99.8 503.9h.6M85.0 476.1h.6M80.1 488.9h.6M115.1 495.1h.6M88.5 502.3h.6M113.7 475.9h.6M108.3 499.9h.6M104.8 503.1h.6M109.5 509.0h.6M83.6 499.2h.6M76.7 488.7h.6M95.3 504.3h.6M113.8 489.2h.6M88.1 505.2h.6M107.1 507.3h.6M91.7 503.0h.6M111.9 477.9h.6M109.3 499.8h.6M95.7 483.1h.6M114.7 483.3h.6M106.5 474.9h.6M113.8 492.6h.6M111.9 476.2h.6M109.1 503.3h.6M109.8 501.0h.6M112.8 479.3h.6M85.7 479.8h.6M78.9 489.2h.6M99.1 511.1h.6M84.1 502.6h.6M114.7 476.7h.6M114.5 480.7h.6M92.5 503.5h.6M110.6 482.1h.6M85.6 483.3h.6M84.6 486.1h.6M92.2 481.6h.6M78.5 494.2h.6M94.2 508.9h.6M97.3 505.6h.6M86.9 485.3h.6M117.7 489.9h.6M100.7 505.6h.6M102.8 507.9h.6M87.2 500.8h.6M87.7 505.2h.6M111.5 501.3h.6M110.3 505.5h.6M104.1 480.4h.6M113.5 488.9h.6M81.8 502.2h.6M112.0 490.1h.6M94.2 506.6h.6M94.7 479.0h.6M94.0 506.4h.6M97.6 504.7h.6M79.7 488.9h.6M106.7 501.7h.6M82.7 495.5h.6M82.3 491.9h.6M110.8 490.7h.6M113.0 481.0h.6M91.4 503.7h.6M109.7 501.4h.6M111.4 481.2h.6M109.8 478.6h.6M105.0 506.7h.6M111.4 486.1h.6M99.5 509.0h.6M117.8 489.1h.6M103.7 476.9h.6M95.7 504.8h.6M113.3 477.4h.6M100.0 480.3h.6M86.4 500.7h.6M106.9 479.1h.6M91.1 506.7h.6M84.7 498.8h.6M90.5 509.0h.6M76.3 488.5h.6M81.4 487.3h.6M94.2 504.7h.6M105.0 477.3h.6M101.2 503.5h.6M114.6 482.7h.6M88.7 484.7h.6M109.8 505.0h.6M111.9 482.5h.6M106.5 500.3h.6M104.4 501.7h.6M79.5 495.8h.6M79.3 492.4h.6M95.1 503.5h.6M110.9 479.5h.6M97.2 504.4h.6M113.7 492.3h.6M79.5 503.1h.6M111.8 486.2h.6M111.0 486.8h.6M109.5 506.6h.6M113.5 482.9h.6M98.3 505.4h.6M100.7 475.8h.6M111.3 480.1h.6M96.3 482.1h.6M90.5 483.7h.6M106.4 480.3h.6M89.2 482.4h.6M123.3 479.7h.6M83.0 498.0h.6M111.5 497.4h.6M80.9 487.8h.6M77.4 496.6h.6M96.3 480.2h.6M114.1 477.1h.6M108.3 504.7h.6M100.4 476.5h.6M116.0 476.6h.6M77.9 491.3h.6M75.4 492.2h.6M77.1 489.5h.6M80.7 485.6h.6M80.8 499.1h.6M101.7 504.5h.6M82.3 485.7h.6M109.9 499.6h.6M99.0 481.8h.6M87.1 502.5h.6M107.9 504.3h.6M82.2 506.4h.6M79.7 487.9h.6M110.2 475.9h.6M102.6 511.7h.6M82.8 496.9h.6M113.0 489.0h.6M99.1 507.3h.6M111.4 500.5h.6M104.7 506.4h.6M73.2 493.4h.6M96.2 505.4h.6M82.4 487.3h.6M82.6 496.3h.6M102.1 479.7h.6M79.9 490.6h.6M97.4 480.3h.6M97.0 479.4h.6M86.5 483.9h.6M82.2 493.3h.6M113.9 488.3h.6M108.7 501.7h.6M80.5 496.3h.6M83.4 505.6h.6M89.8 503.5h.6M76.9 491.3h.6M114.1 479.6h.6M109.4 493.9h.6M93.5 482.1h.6M80.9 482.7h.6M75.2 490.3h.6M108.0 473.7h.6M86.9 483.3h.6M114.8 481.0h.6M82.9 494.7h.6M86.6 499.2h.6M112.2 490.1h.6M70.8 492.8h.6M91.7 504.2h.6M110.5 501.6h.6M110.9 498.3h.6M77.3 486.3h.6M81.6 496.8h.6M92.7 510.5h.6M83.5 501.0h.6M112.4 487.8h.6M81.2 493.7h.6M90.7 501.5h.6M104.5 479.7h.6M92.2 503.6h.6M95.2 506.1h.6M110.5 490.5h.6M97.3 503.7h.6M85.5 481.4h.6M111.2 499.8h.6M85.9 502.0h.6M76.4 500.0h.6M109.6 481.7h.6M116.2 483.7h.6M100.4 503.5h.6M113.5 487.7h.6M108.6 499.0h.6M105.8 507.7h.6M104.0 501.9h.6M81.3 485.3h.6M117.6 484.4h.6M101.8 511.2h.6M87.8 502.7h.6M91.9 508.6h.6M111.6 483.2h.6M82.0 485.8h.6M92.6 505.1h.6M83.2 501.9h.6M117.2 484.3h.6M114.2 500.3h.6M112.4 497.6h.6M80.0 491.3h.6M112.4 483.1h.6M117.5 474.5h.6M111.1 481.9h.6M109.4 478.9h.6M111.9 481.6h.6M111.7 478.2h.6M105.8 475.1h.6M84.5 497.3h.6M104.7 501.9h.6M94.4 481.1h.6M85.8 500.3h.6M112.9 493.2h.6M92.4 506.4h.6M98.5 481.5h.6M114.5 472.4h.6M102.8 502.7h.6M83.6 497.5h.6M84.6 500.6h.6M90.8 480.1h.6M90.9 505.0h.6M112.5 474.7h.6M84.4 483.1h.6M113.2 492.4h.6M82.6 485.3h.6M115.9 477.3h.6M80.6 482.5h.6M114.4 491.8h.6M88.2 506.2h.6M88.7 478.1h.6M94.3 509.3h.6M84.5 497.0h.6M80.0 491.2h.6M82.4 487.9h.6M82.6 496.1h.6M77.6 490.7h.6M95.6 503.7h.6M92.7 477.1h.6M111.3 481.4h.6M83.6 487.5h.6M87.8 501.2h.6M108.5 504.2h.6M94.5 481.2h.6M116.6 478.3h.6M114.9 501.6h.6M94.0 479.8h.6M95.3 510.7h.6M78.7 490.3h.6M104.8 480.5h.6M105.1 501.5h.6M112.7 483.2h.6M84.2 501.5h.6M117.8 479.6h.6M83.0 499.2h.6M81.7 497.1h.6M112.7 480.9h.6M105.7 503.0h.6M104.4 501.9h.6M88.8 480.8h.6M85.8 500.8h.6M111.5 485.7h.6M88.5 481.9h.6M85.1 484.6h.6M109.1 499.5h.6M109.8 478.7h.6M112.1 480.7h.6M81.5 493.1h.6M85.4 499.4h.6M103.7 506.1h.6M79.5 488.3h.6M99.1 502.1h.6M92.9 505.6h.6M105.7 479.4h.6M106.3 500.7h.6M91.3 508.3h.6M83.9 496.5h.6M78.4 489.5h.6M90.9 502.8h.6M94.0 503.3h.6M80.9 491.1h.6M86.9 484.7h.6M80.7 491.1h.6M85.7 477.5h.6M112.6 480.1h.6M87.9 501.4h.6M114.7 486.9h.6M79.5 486.2h.6M81.3 496.1h.6M118.3 488.5h.6M110.5 482.3h.6M113.8 483.6h.6M113.6 483.9h.6M110.4 492.1h.6M102.1 506.2h.6M90.5 506.7h.6M116.9 482.2h.6M114.2 480.8h.6M117.9 479.2h.6M107.2 496.4h.6M76.3 492.2h.6M113.6 480.4h.6M107.5 496.0h.6M88.0 484.7h.6M81.6 494.4h.6M90.4 503.1h.6M110.0 505.1h.6M111.1 480.8h.6M101.8 503.8h.6M114.5 497.4h.6M115.9 478.6h.6M111.5 487.7h.6M87.9 507.2h.6M113.7 494.4h.6M81.2 494.5h.6M99.5 506.3h.6M93.0 478.4h.6M104.7 479.1h.6M81.2 499.5h.6M93.7 503.1h.6M114.8 479.9h.6M106.6 480.7h.6M95.3 507.4h.6M112.9 480.3h.6M115.6 494.9h.6M112.1 490.1h.6M80.1 490.8h.6M112.7 476.7h.6M112.9 479.3h.6M82.9 491.4h.6M88.7 479.1h.6M114.3 486.4h.6M81.6 485.6h.6M112.0 482.5h.6M80.2 486.4h.6M90.5 503.1h.6M77.8 484.3h.6M82.5 485.8h.6M109.3 503.8h.6M95.4 503.8h.6M99.7 481.6h.6M112.6 478.9h.6M90.1 483.8h.6M101.1 481.1h.6M106.7 499.9h.6M114.8 480.4h.6M81.7 493.2h.6M99.6 481.6h.6M83.9 483.4h.6M105.0 478.5h.6M110.6 478.6h.6M107.5 477.5h.6M78.9 490.9h.6M112.0 477.9h.6M109.1 498.9h.6M113.1 488.7h.6M115.7 485.7h.6M112.7 498.5h.6M85.7 506.1h.6M111.0 485.1h.6M84.6 500.3h.6M81.0 495.2h.6M112.1 481.5h.6M119.5 487.4h.6M99.7 503.0h.6M79.8 489.0h.6M80.6 494.9h.6M118.9 489.3h.6M110.9 480.6h.6M93.3 483.7h.6M94.3 502.1h.6M103.1 480.5h.6M105.2 504.3h.6M100.1 504.6h.6M82.1 495.2h.6M113.3 481.7h.6M116.3 493.5h.6M96.1 504.1h.6M92.7 483.6h.6M98.9 505.1h.6M85.5 502.3h.6M112.8 491.6h.6M96.4 508.3h.6M96.7 503.7h.6M81.4 490.6h.6M111.9 482.0h.6M82.3 499.7h.6M106.7 501.0h.6M78.9 484.3h.6M111.8 485.3h.6M111.9 486.5h.6M107.4 501.9h.6M82.8 484.8h.6M104.0 505.2h.6M87.9 501.1h.6M106.0 501.2h.6M80.5 501.1h.6M103.9 505.2h.6M115.0 488.9h.6M84.2 485.2h.6M110.8 489.8h.6M112.4 501.3h.6M72.7 501.8h.6M76.3 500.2h.6M88.4 502.8h.6M103.6 504.8h.6M109.3 494.6h.6M110.5 492.9h.6M104.3 504.2h.6M112.2 480.6h.6M75.2 489.1h.6M111.6 486.5h.6M98.8 478.8h.6M80.6 494.2h.6M111.6 490.4h.6M104.9 501.6h.6M84.4 486.5h.6M83.7 484.6h.6M88.8 482.4h.6M112.6 479.9h.6M112.6 485.1h.6M116.2 506.9h.6M85.2 500.4h.6M96.4 479.4h.6M112.4 483.9h.6M114.1 481.2h.6M98.4 511.1h.6M98.8 478.2h.6M109.3 475.5h.6M81.2 495.6h.6M91.2 478.9h.6M109.1 501.0h.6M85.1 497.8h.6M81.1 487.6h.6M74.7 496.4h.6M107.3 501.0h.6M100.2 507.5h.6M81.7 494.7h.6M115.3 487.6h.6M81.4 488.7h.6M90.1 502.7h.6M80.4 490.6h.6M109.7 490.6h.6M74.8 487.8h.6M85.7 499.9h.6M81.0 491.5h.6M101.1 507.3h.6M109.5 494.9h.6M93.0 507.6h.6M110.2 480.8h.6M78.6 502.5h.6M93.2 477.8h.6M84.1 503.2h.6M112.0 496.2h.6M89.7 506.4h.6M111.1 485.4h.6M97.1 505.8h.6M104.9 502.0h.6M81.3 490.3h.6M107.4 500.5h.6M111.8 484.7h.6M113.2 479.0h.6M97.7 477.7h.6M114.1 491.2h.6M80.9 501.5h.6M78.4 483.5h.6M111.1 479.7h.6M99.1 505.5h.6M87.8 500.8h.6M111.4 481.9h.6M115.6 478.4h.6M100.0 504.7h.6M94.7 482.2h.6M88.4 500.7h.6M106.9 501.4h.6M81.1 500.6h.6M94.9 504.4h.6M75.9 487.6h.6M78.0 489.6h.6M81.7 488.8h.6M99.2 507.2h.6M90.6 481.5h.6M106.3 478.0h.6M94.6 506.4h.6M111.7 501.1h.6M80.3 485.9h.6M109.9 501.4h.6M110.7 492.3h.6M99.6 506.7h.6M115.1 479.8h.6M109.6 500.7h.6M110.7 477.6h.6M109.7 480.5h.6M95.1 505.5h.6M109.0 502.2h.6M81.7 489.7h.6M111.2 479.2h.6M89.0 484.3h.6M114.4 478.8h.6M82.7 493.6h.6M83.3 483.7h.6M101.1 475.7h.6M114.0 487.9h.6M114.5 483.8h.6M112.6 479.3h.6M100.3 478.5h.6M79.9 490.1h.6M88.5 503.5h.6M84.5 484.2h.6M81.0 498.4h.6M97.8 476.5h.6M94.6 477.2h.6M88.7 501.6h.6M103.6 481.3h.6M113.7 484.8h.6M86.8 499.6h.6M110.4 478.1h.6M81.3 489.7h.6M96.7 506.6h.6M89.2 501.7h.6M106.2 503.7h.6M84.3 499.4h.6M108.2 502.2h.6M84.0 496.3h.6M113.5 481.0h.6M77.3 490.7h.6M112.4 478.9h.6M82.5 490.0h.6M111.5 479.8h.6M91.3 480.2h.6M111.3 477.4h.6M100.8 504.6h.6M113.8 483.2h.6M82.5 496.7h.6M81.1 501.2h.6M75.6 489.4h.6M108.5 495.8h.6M94.0 503.3h.6M106.1 479.7h.6M110.9 487.9h.6M112.1 479.5h.6M103.8 481.1h.6M108.2 501.2h.6M94.5 506.3h.6M82.8 486.6h.6M109.3 477.5h.6M81.3 491.9h.6M89.7 505.6h.6M99.8 477.8h.6M113.9 488.9h.6M112.5 479.3h.6M85.3 482.1h.6M110.8 481.6h.6M111.2 483.3h.6M109.6 498.2h.6M81.1 483.5h.6M93.9 505.9h.6M86.9 480.7h.6M100.1 507.0h.6M105.6 502.3h.6M110.7 502.8h.6M95.6 478.4h.6M97.9 480.1h.6M82.1 480.1h.6M97.6 503.6h.6M93.8 505.7h.6M117.4 479.3h.6M114.3 485.0h.6M96.9 480.8h.6M105.7 500.3h.6M89.1 501.5h.6M86.9 483.2h.6M84.2 485.9h.6M82.4 492.0h.6M105.6 505.4h.6M108.3 477.8h.6M109.0 499.5h.6M114.5 487.8h.6M77.3 493.2h.6M96.8 478.9h.6M98.9 503.5h.6M82.4 481.8h.6M117.2 485.2h.6M71.7 488.4h.6M116.1 475.3h.6M89.6 480.4h.6M114.7 502.6h.6M82.1 490.4h.6M89.0 482.9h.6M111.7 478.5h.6M75.0 488.6h.6M110.9 481.5h.6M76.8 483.0h.6M98.1 478.4h.6M96.3 478.2h.6M116.0 476.3h.6M84.2 496.3h.6M111.6 502.4h.6M93.2 480.7h.6M106.7 499.8h.6M105.0 507.8h.6M107.7 501.5h.6M83.8 483.2h.6M113.7 478.9h.6M80.7 485.2h.6M111.2 503.0h.6M113.7 492.6h.6M111.6 481.3h.6M112.9 482.6h.6M114.9 481.2h.6M76.7 495.0h.6M98.6 506.2h.6M106.2 499.9h.6M107.5 501.8h.6M84.2 495.8h.6M81.6 481.0h.6M112.9 482.3h.6M78.6 490.7h.6M95.3 481.8h.6M82.3 494.9h.6M104.7 502.8h.6M115.6 480.1h.6M113.5 483.3h.6M111.2 478.4h.6M112.1 492.1h.6M79.5 491.8h.6M98.5 481.0h.6M103.8 505.4h.6M114.4 495.6h.6M113.3 476.8h.6M106.0 504.9h.6M109.9 496.9h.6M107.9 504.4h.6M82.4 494.5h.6M81.9 491.9h.6M74.7 487.5h.6M90.4 505.1h.6M111.0 486.1h.6M91.5 502.8h.6M101.6 481.7h.6M81.8 500.7h.6M103.3 506.0h.6M78.7 492.1h.6M104.5 506.0h.6M103.8 503.7h.6M78.0 498.6h.6M114.3 484.7h.6M96.8 504.0h.6M111.1 488.4h.6M90.7 483.9h.6M111.6 492.9h.6M93.2 503.3h.6M106.8 505.2h.6M116.3 490.5h.6M114.9 487.4h.6M86.2 481.3h.6M112.7 479.7h.6M109.1 495.9h.6M114.8 485.4h.6M80.8 487.4h.6M81.1 489.9h.6M106.8 477.3h.6M106.4 505.0h.6M78.7 487.7h.6M114.4 477.2h.6M109.1 493.7h.6M82.4 488.0h.6M107.1 477.7h.6M106.6 501.1h.6M80.9 501.5h.6M110.0 493.4h.6M82.3 489.7h.6M90.1 504.0h.6M103.7 480.9h.6M111.2 494.2h.6M82.2 485.9h.6M99.0 506.5h.6M87.8 503.0h.6M94.5 481.9h.6M94.8 504.6h.6M103.9 479.3h.6M94.5 509.1h.6M103.4 506.5h.6M111.4 478.4h.6M82.2 488.9h.6M105.7 502.2h.6M91.4 506.0h.6M107.9 507.5h.6M76.8 491.4h.6M87.2 503.5h.6M110.5 485.4h.6M108.8 490.0h.6M87.0 483.2h.6M108.6 478.8h.6M104.5 480.0h.6M108.7 479.1h.6M92.5 482.1h.6M82.9 487.6h.6M108.2 500.6h.6M90.3 505.4h.6M112.5 478.9h.6M79.6 490.5h.6M114.8 485.6h.6M103.1 502.8h.6M107.8 501.3h.6M112.4 490.1h.6M113.1 500.0h.6M108.5 499.8h.6M93.8 506.3h.6M82.2 491.4h.6M87.3 501.7h.6M94.2 479.7h.6M81.0 485.2h.6M109.4 501.8h.6M108.2 499.9h.6M112.1 481.5h.6M80.9 489.8h.6M106.2 502.0h.6M79.3 479.9h.6M111.0 496.4h.6M111.8 506.0h.6M115.7 479.7h.6M111.6 506.4h.6M97.5 506.2h.6M99.5 510.9h.6M101.1 479.2h.6M83.4 487.0h.6M95.6 477.2h.6M106.6 479.5h.6M90.9 475.0h.6M115.7 477.2h.6M105.3 503.8h.6M85.5 499.8h.6M87.9 500.4h.6M110.6 486.9h.6M84.5 497.6h.6M81.5 488.5h.6M113.8 479.5h.6M83.5 495.8h.6M112.9 482.1h.6M104.8 476.5h.6M77.8 497.1h.6M113.3 490.6h.6M84.8 498.8h.6M109.5 500.4h.6M77.4 491.7h.6M92.5 483.1h.6M81.2 497.9h.6M83.0 496.4h.6M110.5 498.0h.6M84.6 485.5h.6M114.2 479.5h.6M101.7 503.2h.6M80.4 489.1h.6M109.9 489.1h.6M99.4 505.2h.6M96.5 504.8h.6M105.0 502.6h.6M91.0 501.7h.6M117.4 476.1h.6M90.8 508.0h.6M113.1 493.5h.6M94.6 503.9h.6M82.4 494.7h.6M92.8 503.6h.6M109.0 478.4h.6M112.7 481.6h.6M82.2 487.7h.6M104.0 501.7h.6M102.6 502.5h.6M81.2 496.8h.6M97.1 477.8h.6M93.5 479.4h.6M83.9 486.2h.6M101.8 506.6h.6M84.4 482.9h.6M110.5 474.6h.6M117.3 497.5h.6M113.4 492.1h.6M95.7 511.6h.6M105.7 506.1h.6M85.2 485.2h.6M91.9 506.7h.6M93.5 505.3h.6M82.6 488.5h.6M109.1 494.2h.6M114.4 481.0h.6M118.3 491.7h.6M106.0 501.8h.6M113.1 480.3h.6M116.7 477.6h.6M88.9 481.9h.6M93.9 509.2h.6M84.2 486.0h.6M110.5 488.8h.6M111.8 481.2h.6M93.6 479.4h.6M112.6 478.3h.6M90.6 506.3h.6M91.8 483.3h.6M79.4 490.6h.6M84.6 499.2h.6M105.5 477.1h.6M81.0 495.8h.6M108.8 502.0h.6M81.9 487.9h.6M86.0 500.1h.6M84.0 486.5h.6M105.9 504.0h.6M116.2 481.1h.6M114.6 480.6h.6M113.1 478.6h.6M111.4 494.2h.6M82.3 495.9h.6M77.9 493.3h.6M111.9 487.5h.6M88.3 482.0h.6M83.4 498.7h.6M84.4 484.6h.6M106.0 480.1h.6M105.2 502.7h.6M71.3 502.4h.6M92.9 507.2h.6M96.3 506.2h.6M110.8 479.9h.6M109.0 478.0h.6M85.9 482.6h.6M82.8 488.6h.6M110.2 479.0h.6M103.6 478.9h.6M98.2 481.2h.6M111.5 494.0h.6M92.8 506.5h.6M111.8 480.8h.6M82.3 488.4h.6M107.6 500.8h.6M116.8 485.0h.6M85.0 485.8h.6M85.5 509.3h.6M103.8 473.2h.6M82.2 498.1h.6M91.5 480.1h.6M114.5 479.5h.6M108.5 477.2h.6M114.3 483.2h.6M96.1 479.5h.6M110.2 507.3h.6M83.4 497.7h.6M95.0 509.0h.6M76.2 495.8h.6M99.2 507.8h.6M115.9 474.7h.6M83.5 484.3h.6M100.6 516.7h.6M111.9 522.1h.6M96.7 515.8h.6M105.3 525.5h.6M108.3 515.1h.6M104.3 513.7h.6M97.3 517.7h.6M109.2 517.6h.6M100.0 523.3h.6M114.5 518.2h.6M102.0 524.1h.6M110.1 521.9h.6M93.4 517.8h.6M111.9 516.8h.6M100.1 523.4h.6M94.6 514.9h.6M98.4 519.9h.6M97.7 518.7h.6M111.2 524.1h.6M109.6 520.4h.6M101.5 510.7h.6M98.6 523.2h.6M95.1 518.6h.6M97.8 519.6h.6M98.0 522.0h.6M98.9 521.7h.6M96.0 518.4h.6M98.6 517.8h.6M116.6 517.4h.6M96.1 516.0h.6M112.8 516.3h.6M107.3 524.0h.6M110.1 520.6h.6M96.4 517.0h.6M108.4 525.9h.6M96.8 521.9h.6M111.1 518.8h.6M102.7 515.3h.6M107.7 523.9h.6M114.5 518.7h.6M97.2 516.1h.6M103.0 523.9h.6M113.1 517.1h.6M116.3 516.4h.6M103.7 524.4h.6M108.8 520.4h.6M107.7 521.6h.6M100.2 516.2h.6M97.0 518.4h.6M101.6 522.6h.6M98.3 519.9h.6M107.5 524.4h.6M100.1 521.5h.6M96.6 516.0h.6M98.1 515.8h.6M92.5 514.9h.6M107.2 523.7h.6M108.6 517.5h.6M108.1 525.6h.6M97.0 525.3h.6M96.7 518.3h.6M99.1 517.0h.6M109.9 526.0h.6M101.6 522.4h.6M103.6 514.0h.6M101.3 521.7h.6M97.2 512.4h.6M103.9 514.5h.6M95.1 519.9h.6M108.0 523.3h.6M110.3 518.3h.6M102.0 523.1h.6M98.9 520.3h.6M106.1 516.1h.6M98.8 517.0h.6M108.9 516.3h.6M103.9 515.7h.6M111.7 524.5h.6M93.0 514.9h.6M112.6 519.8h.6M108.0 521.3h.6M99.1 516.8h.6M98.5 516.2h.6M100.3 514.9h.6M93.4 523.7h.6M111.2 515.9h.6M95.7 517.3h.6M98.9 521.4h.6M95.9 520.9h.6M95.3 517.8h.6M108.6 517.9h.6M104.2 515.9h.6M99.7 514.5h.6M103.5 515.4h.6M100.6 515.5h.6M107.8 522.4h.6M101.8 515.8h.6M109.9 515.9h.6M104.2 523.2h.6M99.9 511.8h.6M99.8 517.0h.6M96.4 514.3h.6M99.6 521.5h.6M100.7 522.3h.6M98.3 514.5h.6M106.1 516.6h.6M101.1 513.6h.6M100.2 516.5h.6M113.1 516.0h.6M109.0 513.5h.6M106.3 514.5h.6M98.5 522.8h.6M98.8 518.6h.6M102.7 524.1h.6M94.6 520.1h.6M109.3 516.5h.6M107.8 521.3h.6M98.5 519.7h.6M101.5 524.1h.6M96.8 520.6h.6M99.2 516.6h.6M108.1 521.7h.6M109.3 522.2h.6M100.8 524.3h.6M100.0 525.4h.6M96.6 518.0h.6M111.4 514.2h.6M96.1 520.4h.6M98.6 515.8h.6M109.9 518.9h.6M99.3 515.8h.6M99.0 524.0h.6M99.6 516.2h.6M114.5 517.4h.6M95.8 516.9h.6M103.2 523.1h.6M96.1 515.9h.6M93.7 519.8h.6M106.8 517.8h.6M111.8 518.0h.6M105.8 529.8h.6M93.1 518.4h.6M98.8 516.4h.6M97.3 516.6h.6M100.4 517.0h.6M99.8 517.1h.6M98.8 522.3h.6M120.3 518.1h.6M103.9 516.1h.6M96.9 524.9h.6M104.4 515.9h.6M100.9 512.9h.6M109.9 516.2h.6M109.5 517.8h.6M109.1 522.1h.6M105.8 515.1h.6M98.0 515.0h.6M92.5 514.1h.6M98.6 521.6h.6M105.6 522.4h.6M94.7 518.9h.6M111.0 518.9h.6M109.6 513.7h.6M101.7 516.2h.6M108.9 523.3h.6M112.2 517.6h.6M111.0 518.1h.6M109.3 521.3h.6M106.6 517.5h.6M98.3 523.0h.6M100.9 523.5h.6M106.8 526.0h.6M112.6 518.1h.6M97.9 519.5h.6M103.2 524.3h.6M95.8 516.0h.6M99.2 515.4h.6M108.9 523.1h.6M103.8 523.5h.6M107.1 522.2h.6M97.1 516.7h.6M109.3 521.5h.6M111.4 519.1h.6M98.4 516.7h.6M103.0 514.7h.6M100.8 524.6h.6M101.1 525.2h.6M94.2 519.2h.6M101.8 514.1h.6M110.3 521.0h.6M97.0 523.1h.6M97.3 521.4h.6M99.7 525.7h.6M112.9 519.8h.6M99.2 521.0h.6M106.6 523.2h.6M106.8 516.6h.6M107.6 521.7h.6M111.6 518.8h.6M99.6 516.6h.6M100.1 514.6h.6M96.2 519.6h.6M98.7 517.0h.6M103.8 522.3h.6M98.8 514.8h.6M110.8 523.3h.6M100.4 523.1h.6M105.1 514.7h.6M107.2 517.0h.6M95.1 517.9h.6M104.3 514.4h.6M99.4 522.0h.6M105.1 514.2h.6M109.8 521.1h.6M107.5 524.2h.6M106.1 522.8h.6M109.7 522.4h.6M99.0 522.2h.6M94.9 515.6h.6M108.0 520.5h.6M102.5 522.5h.6M113.4 518.0h.6M99.8 520.8h.6M97.9 517.6h.6M96.2 516.2h.6M114.1 514.6h.6M92.3 522.9h.6M107.8 521.2h.6M100.1 521.4h.6M102.2 513.9h.6M105.3 514.6h.6M111.5 521.3h.6M106.0 516.3h.6M100.1 525.1h.6M95.6 517.2h.6M102.3 522.1h.6M107.6 516.4h.6M111.4 520.6h.6M105.9 522.0h.6M109.9 517.0h.6M108.1 523.2h.6M94.1 518.3h.6M96.2 516.1h.6M99.5 514.9h.6M98.2 518.6h.6M99.5 521.5h.6M106.7 523.9h.6M95.3 517.1h.6M98.0 516.7h.6M98.4 519.5h.6M101.6 523.5h.6M96.0 517.2h.6M108.3 516.6h.6M95.1 517.7h.6M98.3 519.8h.6M109.9 517.5h.6M98.6 517.3h.6M97.7 522.2h.6M101.8 515.0h.6M105.0 514.6h.6M100.1 515.2h.6M100.3 525.2h.6M113.9 518.3h.6M112.3 517.6h.6M93.3 522.9h.6M105.2 523.9h.6M94.6 515.2h.6M109.1 516.8h.6M108.9 522.1h.6M96.4 517.5h.6M96.8 518.3h.6M98.5 522.7h.6M98.5 519.6h.6M109.0 519.3h.6M97.9 515.8h.6M107.8 521.7h.6M110.6 519.0h.6M107.1 523.4h.6M99.6 522.6h.6M99.5 521.7h.6M105.5 516.3h.6M107.7 533.2h.6M109.2 511.0h.6M94.2 532.3h.6M93.1 525.5h.6M89.8 529.9h.6M109.8 518.6h.6M100.1 524.3h.6M116.6 531.2h.6M95.1 512.4h.6M98.6 506.1h.6M101.8 504.8h.6M112.1 527.2h.6M114.4 517.9h.6M94.7 537.2h.6M103.4 524.0h.6M74.7 533.1h.6M119.7 510.5h.6M101.6 528.0h.6M119.0 539.1h.6M107.3 519.8h.6M107.9 536.1h.6M116.3 515.3h.6M79.7 540.3h.6M103.4 511.6h.6M93.0 521.6h.6M91.1 511.0h.6M86.9 524.5h.6M102.9 537.2h.6M74.8 521.0h.6M80.2 535.7h.6M98.7 522.8h.6M94.3 535.0h.6M103.7 521.2h.6M81.7 525.2h.6M87.2 522.1h.6M89.9 533.4h.6M95.5 513.5h.6M97.4 536.5h.6M88.9 537.2h.6M84.5 524.2h.6M113.7 519.1h.6M103.5 534.0h.6M89.4 538.1h.6M95.5 530.2h.6M103.8 528.5h.6M113.6 524.4h.6M102.7 534.6h.6M79.6 530.6h.6M108.9 523.8h.6M95.7 521.6h.6M88.5 538.7h.6M86.1 538.4h.6M88.9 542.6h.6M82.7 518.7h.6M94.1 528.5h.6M104.8 530.9h.6M100.5 519.1h.6M88.2 530.2h.6M107.1 510.7h.6M86.3 521.6h.6M74.6 525.4h.6M122.8 521.7h.6M104.6 521.3h.6M96.8 526.9h.6M73.5 529.2h.6M110.4 515.3h.6M72.7 516.1h.6M87.9 515.4h.6M112.7 507.2h.6M94.6 519.1h.6M94.5 518.1h.6M70.6 525.9h.6M92.1 527.7h.6M89.3 533.0h.6M82.0 510.0h.6M112.7 531.4h.6M94.2 528.0h.6M100.3 521.1h.6M112.1 524.3h.6M107.6 523.1h.6M108.0 529.8h.6M102.1 517.8h.6M96.0 523.8h.6M95.1 540.9h.6M87.9 531.8h.6M101.4 536.2h.6M102.0 534.1h.6M90.4 539.0h.6M112.8 521.3h.6M88.3 503.1h.6M92.3 527.8h.6M95.3 502.3h.6M118.7 532.4h.6M103.3 522.9h.6M88.6 523.8h.6M93.2 521.9h.6M111.5 526.8h.6M109.5 515.3h.6M88.9 515.3h.6M82.1 534.0h.6M97.3 516.1h.6M100.8 537.3h.6M84.1 510.5h.6M94.9 524.7h.6M74.4 520.6h.6M109.0 527.3h.6M104.3 520.1h.6M101.9 527.0h.6M93.2 529.1h.6M81.0 514.7h.6M99.6 514.6h.6M106.6 505.5h.6M81.7 532.1h.6M91.1 536.5h.6M94.8 525.1h.6M122.0 528.1h.6M106.6 519.4h.6M117.9 541.3h.6M89.6 522.8h.6M113.6 508.4h.6M82.2 537.6h.6M110.7 531.7h.6M112.4 518.2h.6M113.5 530.7h.6M107.7 510.9h.6M89.9 515.7h.6M87.0 534.1h.6M106.6 525.7h.6M74.6 529.3h.6M96.2 518.8h.6M89.5 515.7h.6M103.5 517.7h.6M93.9 519.8h.6M115.6 530.3h.6M101.7 503.8h.6M89.7 517.2h.6M96.3 530.5h.6M96.1 534.8h.6M103.7 537.5h.6M114.6 523.9h.6M114.2 499.5h.6M107.4 510.2h.6M107.2 537.9h.6M86.0 517.8h.6M88.9 533.0h.6M72.9 522.1h.6M113.5 510.3h.6M101.7 513.8h.6M105.4 511.0h.6M80.9 526.3h.6M104.1 529.9h.6M101.5 525.9h.6M97.2 536.6h.6M103.3 534.6h.6M78.2 539.9h.6M72.2 522.2h.6M114.1 518.9h.6M85.7 526.8h.6M119.1 538.3h.6M76.5 529.4h.6M91.2 511.9h.6M85.9 512.1h.6M83.5 510.6h.6M111.8 523.4h.6M108.7 531.4h.6M77.1 532.2h.6M79.1 514.7h.6M100.7 520.4h.6M90.5 532.6h.6M98.2 491.6h.6M107.3 534.9h.6M103.3 516.1h.6M99.1 527.9h.6M103.3 529.8h.6M92.6 533.0h.6M125.5 539.9h.6M105.9 518.6h.6M86.7 525.7h.6M82.2 526.5h.6M99.5 533.4h.6M116.1 530.4h.6M103.4 529.7h.6M89.4 530.7h.6M119.9 534.3h.6M96.6 528.4h.6M111.5 534.1h.6M113.9 509.2h.6M110.5 532.1h.6M99.6 527.8h.6M88.2 521.1h.6M95.3 516.6h.6M90.6 529.1h.6M97.8 511.4h.6M106.5 518.8h.6M102.0 531.1h.6M103.6 527.0h.6M96.3 539.8h.6M84.7 538.5h.6M91.0 527.9h.6M107.2 525.2h.6M84.4 522.2h.6M99.4 513.0h.6M99.8 513.4h.6M87.4 528.8h.6M83.2 535.2h.6M101.0 512.5h.6M85.1 534.2h.6M122.9 537.1h.6M79.8 535.7h.6M123.8 540.5h.6M104.4 535.9h.6M106.3 522.2h.6M89.4 508.0h.6M108.0 513.4h.6M107.9 541.6h.6M103.4 522.3h.6M95.3 537.3h.6M88.6 520.2h.6M121.2 509.7h.6M89.5 532.9h.6M107.5 529.4h.6M98.3 517.3h.6M97.7 513.2h.6M97.5 520.4h.6M97.8 532.6h.6M73.2 528.0h.6M97.2 515.7h.6M111.3 519.1h.6M96.8 518.9h.6M94.2 511.4h.6M117.1 519.8h.6M88.5 521.2h.6M91.5 525.9h.6M116.7 521.3h.6M104.1 525.8h.6M96.3 517.4h.6M101.4 524.8h.6M79.0 525.4h.6M112.2 521.6h.6M98.1 517.4h.6M98.7 527.0h.6M102.1 509.2h.6M88.8 511.4h.6M93.2 513.0h.6M110.1 517.5h.6M90.3 526.4h.6M102.8 530.5h.6M98.1 532.2h.6M93.5 532.7h.6M101.4 538.4h.6M111.3 526.3h.6M99.3 518.5h.6M108.3 527.4h.6M74.7 539.6h.6M78.3 513.4h.6M102.8 510.5h.6M101.7 525.9h.6M96.4 509.2h.6M98.5 503.8h.6M121.0 514.7h.6M88.5 541.1h.6M112.4 518.9h.6M76.9 537.9h.6M95.0 519.1h.6M117.3 521.6h.6M114.5 504.6h.6M90.2 540.4h.6M111.8 525.1h.6M91.2 536.6h.6M120.6 514.9h.6M75.3 524.5h.6M102.3 523.7h.6M75.7 518.7h.6M104.7 512.6h.6M112.6 524.0h.6M103.3 525.4h.6M101.0 504.5h.6M86.4 522.9h.6M98.0 526.2h.6M112.3 515.2h.6M76.7 506.2h.6M83.8 522.8h.6M101.0 524.5h.6M86.9 532.5h.6M94.3 527.4h.6M85.6 532.7h.6M92.9 538.5h.6M102.9 526.1h.6M94.7 523.7h.6M88.5 536.9h.6M92.8 512.3h.6M89.2 535.2h.6M100.8 526.0h.6M80.9 532.2h.6M95.3 522.1h.6M101.1 519.5h.6M85.8 505.0h.6M116.7 532.1h.6M105.2 520.0h.6M95.0 513.4h.6M88.9 524.7h.6M87.6 524.8h.6M93.4 524.6h.6M73.1 532.2h.6M88.7 523.6h.6M115.4 509.4h.6M108.0 529.2h.6M97.5 521.4h.6M94.8 520.5h.6M106.8 520.9h.6M92.9 520.9h.6M110.5 531.2h.6M84.9 530.5h.6M104.1 510.2h.6M100.6 521.1h.6M86.0 524.3h.6M122.0 536.2h.6M86.7 515.7h.6M104.8 504.0h.6M107.3 504.9h.6M99.6 534.9h.6M106.0 522.1h.6M86.3 516.3h.6M85.9 518.4h.6M108.3 522.7h.6M85.1 513.7h.6M88.2 521.9h.6M110.7 537.5h.6M93.4 510.5h.6M97.9 531.7h.6M93.7 516.3h.6M76.6 531.9h.6M100.2 532.4h.6M111.9 540.6h.6M125.4 525.5h.6M85.3 533.7h.6M103.8 533.0h.6M89.0 525.8h.6M98.1 524.3h.6M104.4 523.2h.6M84.4 510.0h.6M104.9 501.7h.6M90.1 520.2h.6M114.9 516.9h.6M91.7 513.6h.6M108.3 534.7h.6M103.9 523.2h.6M91.7 512.5h.6M87.0 504.4h.6M83.1 522.3h.6M114.2 542.4h.6M91.0 520.4h.6M95.4 524.3h.6M111.3 515.9h.6M97.8 517.5h.6M83.6 526.2h.6M80.2 539.9h.6M84.3 522.8h.6M78.8 536.1h.6M121.2 518.9h.6M94.0 537.5h.6M117.6 534.4h.6M84.8 517.4h.6M84.2 530.7h.6M98.2 514.7h.6M115.2 501.0h.6M104.5 514.5h.6M90.7 518.6h.6M121.3 508.5h.6M85.5 537.5h.6M92.1 532.0h.6M114.4 522.0h.6M99.7 536.7h.6M95.0 525.8h.6M89.0 531.7h.6M113.7 525.4h.6M110.8 515.1h.6M87.5 513.9h.6M108.0 539.6h.6M104.6 526.8h.6M95.4 526.1h.6M84.8 521.4h.6M90.8 519.9h.6M82.6 530.1h.6M109.6 526.7h.6M83.8 511.8h.6M97.2 529.4h.6M104.7 504.3h.6M108.1 529.0h.6M101.2 536.5h.6M105.1 514.5h.6M100.7 509.2h.6M103.1 524.0h.6M102.6 531.6h.6M75.3 532.7h.6M90.8 536.7h.6M82.6 536.6h.6M88.2 532.4h.6M97.7 522.1h.6M78.6 517.1h.6M86.6 517.6h.6M86.6 530.4h.6M83.2 522.2h.6M72.5 519.3h.6M105.5 528.4h.6M74.9 517.1h.6M74.2 514.8h.6M104.2 538.7h.6M81.7 534.5h.6M88.7 538.2h.6M81.6 539.1h.6M104.9 527.7h.6M102.3 526.4h.6M82.3 534.7h.6M90.0 520.4h.6M92.5 514.8h.6M100.8 528.0h.6M112.3 532.9h.6M93.1 516.1h.6M90.5 542.1h.6M117.5 525.7h.6M97.5 528.7h.6M102.0 523.5h.6M97.4 513.1h.6M100.0 528.7h.6M88.1 513.3h.6M84.2 522.9h.6M72.1 527.6h.6M101.8 521.8h.6M112.4 511.3h.6M105.5 518.9h.6M114.6 518.6h.6M96.1 534.9h.6M82.2 523.2h.6M95.0 536.1h.6M83.4 527.5h.6M84.8 527.2h.6M80.2 534.8h.6M103.6 509.7h.6M111.3 538.4h.6M88.1 528.9h.6M94.3 514.0h.6M104.3 511.9h.6M83.1 508.3h.6M108.9 527.6h.6M76.9 504.7h.6M106.0 513.2h.6M105.5 527.4h.6M107.1 523.6h.6M110.9 501.3h.6M95.7 521.0h.6M98.3 533.7h.6M109.8 533.5h.6M106.5 538.9h.6M100.7 535.7h.6M107.1 529.3h.6M87.5 523.9h.6M89.3 540.3h.6M76.5 527.0h.6M92.7 527.7h.6M90.9 516.4h.6M70.6 478.9h.6M73.1 500.9h.6M75.8 533.9h.6M76.9 501.0h.6M75.8 497.6h.6M74.6 502.1h.6M78.4 492.0h.6M73.2 543.2h.6M74.9 531.0h.6M75.8 500.1h.6M72.8 504.5h.6M74.4 499.1h.6M71.5 517.3h.6M75.7 534.7h.6M78.6 482.0h.6M76.6 475.1h.6M71.8 492.8h.6M76.3 530.6h.6M79.0 496.6h.6M70.7 491.4h.6M77.9 481.7h.6M71.4 507.0h.6M79.5 517.8h.6M78.7 531.4h.6M73.2 515.7h.6M73.5 541.3h.6M75.8 476.2h.6M75.0 521.9h.6M74.3 501.6h.6M74.1 504.7h.6M74.7 495.3h.6M76.8 522.8h.6M72.8 513.9h.6M74.6 494.9h.6M72.1 473.1h.6M75.4 484.7h.6M73.9 498.1h.6M79.9 496.8h.6M71.3 535.6h.6M71.8 485.3h.6M78.6 472.8h.6M76.0 520.4h.6M79.6 537.9h.6M78.4 490.2h.6M70.8 474.2h.6M79.9 536.3h.6M75.4 479.8h.6M79.7 490.2h.6M71.1 472.9h.6M74.3 539.5h.6M78.8 519.5h.6M72.1 488.0h.6M73.7 480.6h.6M71.6 505.5h.6M76.4 497.8h.6M72.3 472.8h.6M79.4 503.1h.6M75.5 529.6h.6M72.9 512.3h.6M71.0 473.8h.6M72.9 535.5h.6M72.7 511.2h.6M74.3 536.2h.6M76.5 539.8h.6M74.0 485.8h.6M70.8 482.9h.6M77.6 480.8h.6M76.5 482.8h.6M79.3 535.3h.6M76.1 538.2h.6M73.1 506.9h.6M78.4 495.5h.6M78.5 530.4h.6M77.6 524.4h.6M71.7 482.0h.6M75.4 486.0h.6M72.2 507.7h.6M77.3 532.4h.6M76.7 523.8h.6M74.1 508.7h.6M76.1 513.7h.6M72.1 496.7h.6M74.0 537.3h.6M75.3 505.6h.6M79.6 481.8h.6M75.9 536.4h.6M74.0 500.2h.6M79.8 523.4h.6M71.0 477.5h.6M73.2 504.7h.6M77.7 470.4h.6M73.7 530.9h.6M72.9 488.7h.6M74.0 482.5h.6M72.3 493.9h.6M79.1 478.8h.6M78.0 494.1h.6M71.5 539.7h.6M73.6 534.0h.6M72.6 491.7h.6M74.3 533.9h.6M77.8 492.3h.6M79.4 493.5h.6M75.8 542.6h.6M73.1 538.6h.6M78.7 532.5h.6M79.1 535.4h.6M71.4 477.4h.6M77.0 487.7h.6M71.6 488.4h.6M75.0 516.5h.6M77.1 486.9h.6M75.7 538.4h.6M79.0 532.0h.6M75.5 534.0h.6M71.1 502.9h.6M76.7 505.9h.6M79.4 513.0h.6M77.5 540.0h.6M74.1 539.4h.6M73.0 500.6h.6M75.4 531.0h.6M74.6 495.5h.6M78.8 538.2h.6M77.0 537.9h.6M77.3 520.0h.6M78.3 526.3h.6M78.8 482.1h.6M76.7 501.0h.6M78.8 532.7h.6M73.3 495.5h.6M77.4 510.6h.6M72.1 479.7h.6M78.6 519.0h.6M75.7 507.8h.6M73.5 530.6h.6M78.6 478.6h.6M79.3 520.0h.6M76.9 482.4h.6M76.4 471.4h.6M76.7 495.5h.6M75.5 480.8h.6M77.1 522.9h.6M78.6 537.5h.6M70.7 514.8h.6M70.5 524.1h.6M71.5 476.2h.6M71.5 529.6h.6M72.4 498.7h.6M74.0 520.5h.6M79.6 530.1h.6M74.4 479.5h.6M79.5 533.5h.6M73.5 533.9h.6M70.7 527.0h.6M78.3 536.4h.6M72.1 509.2h.6M76.1 525.8h.6M72.8 478.0h.6M79.2 514.1h.6M77.3 515.6h.6M76.5 501.9h.6M74.6 471.0h.6M77.3 520.0h.6M78.3 486.7h.6M77.4 528.3h.6M71.3 500.4h.6M77.3 474.8h.6M77.0 496.1h.6M71.3 504.2h.6M73.3 473.5h.6M77.6 481.9h.6M78.6 509.4h.6M72.9 482.3h.6M79.8 539.8h.6M77.5 536.2h.6M71.9 488.1h.6M77.0 518.5h.6M72.8 485.0h.6M78.7 487.3h.6M70.9 538.2h.6M71.5 503.1h.6M74.4 479.0h.6M72.6 471.9h.6M72.3 540.0h.6M79.4 488.6h.6M73.7 490.9h.6M72.6 479.6h.6M71.4 528.6h.6M77.1 476.8h.6M77.6 497.7h.6M77.9 542.8h.6M74.6 531.0h.6M76.7 538.1h.6M75.9 531.3h.6M75.8 525.9h.6M79.6 484.8h.6M75.3 483.9h.6M71.2 525.4h.6M71.8 532.3h.6M77.2 526.9h.6M74.5 503.0h.6M73.4 505.9h.6M71.5 484.0h.6M76.1 503.1h.6M77.8 540.5h.6M75.1 497.4h.6M71.3 476.5h.6M78.9 492.1h.6M71.1 538.7h.6M71.0 530.5h.6M76.1 476.2h.6M74.1 512.7h.6M74.6 529.0h.6M72.6 516.9h.6M77.7 537.8h.6M73.9 479.8h.6M73.3 492.9h.6M75.6 493.7h.6M71.8 510.7h.6M79.9 505.2h.6M77.4 470.9h.6M77.3 508.2h.6M71.0 485.3h.6M71.8 480.0h.6M71.2 482.7h.6M72.0 532.8h.6M72.3 482.5h.6M70.6 495.7h.6M73.1 472.8h.6M76.4 532.5h.6M76.3 486.4h.6M79.7 524.7h.6M79.7 482.9h.6M72.7 526.0h.6M72.3 539.1h.6M76.1 496.6h.6M79.9 527.3h.6M78.9 476.0h.6M78.1 513.0h.6M75.6 500.1h.6M75.6 539.4h.6M74.7 502.8h.6M72.7 474.2h.6M74.5 506.6h.6M71.2 518.3h.6M74.9 494.0h.6M71.8 488.4h.6M77.2 515.2h.6M76.2 506.9h.6M76.3 535.4h.6M77.8 492.7h.6M73.2 519.2h.6M72.7 497.5h.6M71.8 533.3h.6M76.0 533.0h.6M74.4 535.8h.6M70.8 513.2h.6M74.3 513.4h.6M77.5 482.7h.6M79.8 533.9h.6M73.7 541.4h.6M73.3 532.5h.6M78.4 523.7h.6M78.5 480.0h.6M72.7 477.1h.6M78.2 499.3h.6M73.0 515.1h.6M80.0 484.5h.6M75.1 543.3h.6M78.1 514.8h.6M71.2 503.7h.6M76.3 505.1h.6M77.2 480.8h.6M74.5 526.0h.6M77.5 496.4h.6M71.7 505.3h.6M79.2 525.7h.6M75.6 521.5h.6M73.2 522.7h.6M78.2 503.6h.6M78.5 523.2h.6M74.7 498.4h.6M74.3 531.6h.6M70.6 513.0h.6M78.4 493.5h.6M72.3 475.7h.6M78.2 499.6h.6M78.2 498.1h.6M73.1 472.6h.6M74.6 493.3h.6M77.6 479.5h.6M76.3 517.4h.6M72.2 500.2h.6M71.1 510.5h.6M71.8 473.2h.6M75.1 519.4h.6M71.3 528.8h.6M71.0 488.8h.6M73.8 505.0h.6M78.1 483.0h.6M71.2 477.9h.6M74.2 488.6h.6M71.5 499.8h.6M79.2 475.6h.6M75.4 496.8h.6M74.3 474.3h.6M76.9 496.7h.6M71.2 514.7h.6M72.2 489.2h.6M74.6 532.1h.6M76.9 487.8h.6M76.0 542.1h.6M73.6 525.8h.6M73.0 501.1h.6M75.8 517.2h.6M74.1 523.0h.6M74.4 532.1h.6M79.0 518.0h.6M71.9 515.8h.6M78.8 474.2h.6M77.4 473.2h.6M71.8 474.2h.6M71.6 482.6h.6M79.7 501.7h.6M78.2 531.6h.6M72.9 480.4h.6M78.0 486.1h.6M78.0 507.2h.6M78.4 486.2h.6M72.0 533.7h.6M73.1 521.2h.6M73.4 499.2h.6M76.8 492.6h.6M74.9 531.4h.6M73.2 501.3h.6M73.6 521.5h.6M73.7 519.4h.6M75.9 506.9h.6M73.3 516.7h.6M75.9 476.3h.6M78.7 473.3h.6M71.5 536.7h.6M76.1 488.1h.6M77.4 518.5h.6M77.4 528.4h.6M78.5 506.6h.6M72.2 478.2h.6M77.2 534.2h.6M79.9 478.8h.6M72.9 538.4h.6M78.5 515.5h.6M75.9 481.3h.6M77.0 533.7h.6M79.8 499.4h.6M78.3 472.1h.6M70.8 533.1h.6M77.8 510.3h.6M75.9 472.4h.6M72.3 495.2h.6M75.5 494.6h.6M73.5 542.2h.6M72.6 474.4h.6M71.4 532.3h.6M74.3 526.0h.6M73.0 492.1h.6M76.3 528.3h.6M78.9 532.4h.6M72.7 473.7h.6M79.4 481.4h.6M71.8 531.2h.6M72.9 513.2h.6M71.3 489.1h.6M74.5 535.9h.6M72.9 497.8h.6M71.4 488.7h.6M71.2 492.5h.6M70.8 474.0h.6M76.5 497.0h.6M71.0 512.4h.6M77.8 514.2h.6M72.3 491.4h.6M78.3 516.8h.6M74.3 490.9h.6M73.6 488.8h.6M72.9 473.6h.6M72.9 523.2h.6M74.5 538.4h.6M76.8 514.4h.6M77.8 486.3h.6M72.9 472.4h.6M75.1 522.3h.6M71.7 482.8h.6M75.1 526.8h.6M75.8 507.0h.6M78.6 513.1h.6M78.5 493.5h.6M71.4 532.8h.6M74.2 538.3h.6M74.4 493.8h.6M78.6 531.6h.6M70.8 470.4h.6M74.5 521.5h.6M78.6 470.5h.6M75.3 534.7h.6M73.7 482.3h.6M71.8 514.3h.6M78.7 506.9h.6M72.0 502.0h.6M72.6 474.2h.6M79.2 501.1h.6M74.4 491.1h.6M76.7 519.8h.6M75.8 531.0h.6M72.8 514.7h.6M77.7 504.9h.6M76.4 503.1h.6M75.5 473.9h.6M72.8 473.2h.6M76.2 516.1h.6M78.9 523.4h.6M74.7 533.0h.6M74.9 530.0h.6M73.0 517.8h.6M76.8 503.2h.6M76.7 519.0h.6M77.5 490.5h.6M73.2 509.0h.6M73.0 540.6h.6M79.6 481.7h.6M71.0 499.3h.6M74.9 498.2h.6M71.9 519.6h.6M77.7 530.3h.6M72.8 506.6h.6M75.4 495.9h.6M77.2 474.3h.6M71.7 538.3h.6M79.5 486.9h.6M77.6 538.3h.6M74.3 505.2h.6M72.2 491.9h.6M71.7 487.9h.6M74.3 474.9h.6M76.0 487.7h.6M70.7 542.5h.6M76.1 541.4h.6M75.6 523.5h.6M74.3 478.6h.6M77.7 526.5h.6" stroke="#3a3a3a" stroke-width="0.6" stroke-opacity="1.0"/>
<path d="M82.7 489.6C83.05 488.2 84.13 486.87 85.9 485.9C87.67 484.93 90.67 484.52 93.3 483.8C95.93 483.08 99.05 482.13 101.7 481.6C104.35 481.07 107.7 480.42 109.2 480.6C110.7 480.78 110.7 481.3 110.7 482.7C110.7 484.1 109.72 486.53 109.2 489C108.68 491.47 108.32 495.55 107.6 497.5C106.88 499.45 106.4 499.9 104.9 500.7C103.4 501.5 100.53 502.13 98.6 502.3C96.67 502.47 95.25 502.32 93.3 501.7C91.35 501.08 88.48 499.83 86.9 498.6C85.32 497.37 84.5 495.8 83.8 494.3C83.1 492.8 82.35 491 82.7 489.6Z" fill="#fff" stroke="#222" stroke-width="0.6"/>
<path d="M99.1 517.1C99.72 516.48 102.22 516.43 103.9 516.6C105.58 516.77 108.68 517.4 109.2 518.1C109.72 518.8 108.07 520.22 107 520.8C105.93 521.38 103.93 521.68 102.8 521.6C101.67 521.52 100.82 521.05 100.2 520.3C99.58 519.55 98.48 517.72 99.1 517.1Z" fill="#fff" stroke="#222" stroke-width="0.6"/>
<path d="M52.1 549.3l-1.1-2.1-1.4-6.3-.4-10.5 .1-8.4-.9-9.9-.7-10.2 .3-6.9-.2-6.9 .8-4.2 .4-3.3 .6-2.1 1.2-2.7 1.8-2.7 1.6-1.3 1.2-.6 3.3-.8 1.5.2 3.3 1.6 1 .9 1.1 1.5 1.2 2.5 .6 1.7 .6 7.5 .4 1.8-.2 14.4-.3 2.4-1.3 16.5-.2 9.3 .3 3.9-.3 5.4-.7 3.3-.4 3.1-1.5 2.9" fill="#fff" fill-rule="evenodd" stroke="#111" stroke-width="0.5"/><path d="M58 471l 1-.1 .9.3 1.8 1.4 1.5.7 .5.7-.6 2.4 .4 3.1 .4.8 1.3 1.2 .6 1.8 1 2.1 .1 3.3-1.3 1.8 .2.6 .7.9 .2.6-.7 2.7 1.1 3 0 4.2-.5 2.7-.3 10.5-.6 5.7 .2 3.3-.3 2.1 0 2.1-.2 1.8 .3 2.7-.1 1.8-.5 1.2-1.3.6-.5.9-.2 2.7-.7 2.4 .3 2.1-.3.6-.9.9-.7.4-1.8.3-1.5.6-1.8.2-1.5-.6-1.1-1.2-1.8-3.9-.7-3.6 0-2.1-.8-6 .2-7.2-.9-11.7 .1-3.6-.3-3 .3-2.4-.2-1.8-.1-3.6 .2-2.4-.5-5.7 .2-1.5 1-3-.1-2.7 .1-1.2 1.7-4.8 1.4-2.4 1-1 1.2-.8 1.5-.2 1.4-.7Z" fill="#000" fill-opacity="0.08" fill-rule="evenodd" stroke="#111" stroke-width="0.5"/><path d="M58.3 471.6l 1.1.3 2.1 2.7 .4 5.7 1.2 2.4 .7 2 .8 1.6 .1.6-.1.6-.9 1.5-.2.9 .2 3.6 .5 3.9-.4 5.7 .3 3-.5 2.7 .8 3-.6 3.3 .2 4.2-.1 4.2-.2 1.8 .1 2.4-.9 3.3 .5 3.3-1.4 3.3-.6 2.7-.9 1.8-.5 1.8-.7.8-1.2.2-2.1-.5-2.2-1.7-.2-.6 0-1.7-1.4-2.2-1.5-5.7-.2-1.8 .2-1.8-.1-2.4 .2-2.1-.6-6 .2-3-.3-3.6 .1-2.7-.1-3.6 .6-3.3-.5-4.5 .2-2.7-.2-4.8 1-4.4 .1-4.9 1.1-2.4 .4-2.4 1-2.1 .7-.7 .9-.4 1.2.6 .9-1.4 .8-.5Z" fill="#000" fill-opacity="0.12" fill-rule="evenodd" stroke="#111" stroke-width="0.5"/><path d="M58.2 475.2l .5-.2 .3.1 .9 1.5 .4 1.3 .3 3.3 1.2 2.4 1 3.3-.5 2.4 .6 7.8-.1 8.4-.6 2.7 .8 3.9-.3 3 .2 4.8-.3 4.8 .1 2.1-.2 1.2-1 2.4 .5 3.9-.3 1.5-.9 1.2-2.1 1.8-2.7.8-.9-.4-2-2.5-1.7-5.1 .4-6.6-.6-4.8 .1-4.8-.3-3.3-.1-6.6 .8-3.6-.4-4.5 .3-2.4 0-6.3 1.4-5.7-.1-2.4 1.3-2.7 .6-.5 .6.1 1.2 1 .3 0 .8-1.2 .5-2.1Z" fill="#000" fill-opacity="0.2" fill-rule="evenodd" stroke="#111" stroke-width="0.5"/><path d="M58.1 479.4l .3-.1 .4.4 .9 2.4 1.5 2.4 .4 1.8-.4 2.7 .6 2.4 .6 5.7-.4 7.8-.7 3 1.1 4.2-.3 3 .1 4.8-.4 3 .3 3.9-.3 1.2-1.3 2.1 0 .6 .6 2.7 0 1.2-.3.8-.6.6-2.1 1-.6 0-.7-.3-1.1.5-1.2-.7-.8-.7-1.7-4.2 .5-6.3-.6-3.9-.1-6-.3-3-.1-6.9 .2-1.2 .8-2.4-.5-4.5 .5-2.7-.1-5.7 .1-1.2 1.2-2.7 1.5-2.5 .3-.2 .9.7 .3.1 .3-.2 .6-1.2 .2-1.8 .4-.6Z" fill="#000" fill-opacity="0.25" fill-rule="evenodd" stroke="#111" stroke-width="0.5"/><path d="M58 483l .4-.3 .6.3 .9.9 .5.9 .1 1.2-.3 3.6 .9 2.1 .8 4.8-.3 7.5-.8 2.4-.1.9 .2 1.5 1 3.6-.2 7.5-1.1 3 .1.6 .9 2.1 .1 1.2-.3.9-1.3 1.5-.5.9-.1 1.2 .4 1.2 0 .6-.3.2-.9-1.1-1.5-1-.3 0-1.1 3.1-.7.5-.9-.4-.6-.6-.8-1.3-.3-.9 .3-4.2 .4-1.8-.8-3.6 .2-3.3-.7-6-.2-6.9 .3-1.5 1-1.8 .1-.6-.7-4.5 .6-2.7-.1-6.6 .7-1.3 1.5-1.3 .6.1 .9.8 .3-.5 .5-2 .6-.9Z" fill="#000" fill-opacity="0.25" fill-rule="evenodd" stroke="#111" stroke-width="0.5"/><path d="M58.1 484.2l .3-.2 .6.1 .6 1 .1 2.4-.4 3 .3.7 1.1 1.4 .9 4.2-.7 7.2-.6 1.5-.2.9 .2 2.4 1.2 3.6-.2 5.7-.3 1.8-1.6 2.7-.1.6 .3.6 1.3 1.5 .3.6 .1.9-.5 1-2.1 1.8-.6-.1-1.2-1.1-.3-.1-.4.3-.6.9 .3 1.8-.2.9-.6 1.1-.6.1-.8-.6-.5-1.2 .3-2.1 0-1.8 .6-1.8-.9-2.1-.3-1.2 0-1.2 .3-2.7-.4-3.3-.5-2.4 .1-3-.4-2.1 0-2.1 .4-1.5 1.2-1.5 .2-.6-.9-4.8 .7-2.4-.2-6 .2-.9 .6-.9 .9-.4 .6.2 .9 1.3 .3-.1 .9-3.4 .3-.6ZM56.6 490l 0 .4 0-.4ZM56.3 495.3l-.5.6 0 .6 .8 1.7 .4-.8 .2-1.2-.3-.8-.3-.2-.3.1ZM56.6 499.5l-.3 1.8-.1 4.2 .3 1.5 .1.4 .3 0 1.1-3.1-.7-1.5-.2-2.4-.2-.8-.3-.1Z" fill="#000" fill-opacity="0.2" fill-rule="evenodd" stroke="#111" stroke-width="0.5"/><path d="M58.4 486l .3.2 .3 1.6-.5 2.1 0 .9 .4.9 1.4 1.8 .8 2.1 .2 1.2-.1 1.5-.7 3.1-.6 1.6-.3.1-1.2-.2-.6-.5-.5-3.8 .2-2.4-.4-1.2-.5-.4-1.8 1-.3-.1-.5-1.7 .2-4.8 .3-.9 .6-.4 .6.4 .2.6 0 2.1 .4.9 .3.3 .3 0 .7-1.5 0-2.1 .5-2 .3-.4ZM54.5 495.9l .3.2 .6 1.1 .5 1.7-.1 6.6 .7 3.6-.4 2.1 .2 2.1-.5 1.8 .8 3.1 .3.5 .3 0 .3-.6-.2-1.2 .1-1.8-.4-6 .8-2.3 .6-.7 .6.1 .3.4 .6 2.5 1 2.4 .3 1.2-.1 3.9-.3 2-.6.8-1.2.2 .1.9-.4.8-.6.3-1.2-.3-.2.4 .1.9 .3.6 2.8 1.9 .8 1.1 .1.6-.3.6-.9.7-.9.4-.6-.1-1.8-1.4-1.2 1.1-.5-.1 0-.3 .4-.9 .1-.6-1.3-2.1-.4-1.2 0-1.5 .4-2.4-.1-2.1-.2-1.5-.8-2.1-.1-1.5 .2-1.8-.5-1.8 0-1.2 .1-1.4 .3-.9 1.4-1.3 .4-.9-.5-3.3-.6-1.8 .2-.7 .9-.8ZM54.2 531l .3-.2 .3.1 .2.4 0 .6-.2.4-.3.1-.5-.5 .2-.9Z" fill="#000" fill-opacity="0.15" fill-rule="evenodd" stroke="#111" stroke-width="0.5"/><path d="M54.8 491.7l .3-.3 .3.1 1.2 1.4 .3-.1 .9-.9 .3-.1 1.6 1.7 .7 1.2 .5 1.8 0 1.5-.7 2.4-.3.6-.6.5-.6.1-.3-.3-.7-2.7 0-2.7-.8-1.9-.3-.1-1.2.8-.6-.2-.3-.4-.1-1.2 .4-1.2ZM53.4 504.9l 1.1-.2 .4.2 1 3.3 .1.9-.4 1.8 .2 2.4-.4.8-.6.4-.6 0-.6-.4-.3-.5-.3-.9 0-.9 .5-1.8-.8-1.7-.1-1.3 .3-1.5 .5-.6ZM58.1 508.2l .3-.1 .3.2 1.5 2.7 .6 1.6 0 4-.2 1.2-.4.5-.3 0-.6-.4-.9-1-.2-.6-.6-6.3 .2-1.2 .3-.6ZM55 517.5l .4-.1 .6 1.3 .2.9 0 2.7 .7 2 1.8.8 1.3 1.1 0 .9-.8.6-.8.1-.6-.3-1.1-1.9-1-.2-.6-.3-1-1.3-.3-1.2 0-1.2 .7-3 .5-.9Z" fill="#000" fill-opacity="0.1" fill-rule="evenodd" stroke="#111" stroke-width="0.5"/><path d="M55.1 492.6l .3-.2 .6.5 .1.6-.4.5-.4.1-.3-.3-.2-.6 .3-.6ZM57.5 492.9l .6-.2 .6.5 1.2 1.5 .7 1.5 0 1.2-.2 1.2-.5 1.1-.6.4-.6-.4-.6-1.1-.1-2.7-.7-2.1 .2-.9ZM53.5 505.8l .7 0 .9 1.1 .4 1.6-.1.8-.3.3-.3.1-.6-.3-1.1-1.2-.1-1.5 .5-.9ZM58.4 510.6l .6 0 .6.5 .8 1.6 .1 3.6-.3.9-.3.2-.6-.5-.3-.9-.7-4.5 .1-.9ZM53.9 511.5l .6-.1 .6.7 .1.9-.4.5-.6 0-.5-.5-.1-.9 .3-.6ZM54.9 520.5l .2-.3 .3.2 .7 3.4 0 .6-.4.3-.9-.5-.5-1 .1-1.5 .5-1.2ZM57.8 525.9l .3-.3 .6.3 .3.3 .1.6-.4.3-.6-.2-.3-.4 0-.6Z" fill="none" stroke="#111" stroke-width="0.5"/><path d="M57.8 493.8l .3-.2 .6.4 .9 1.1 .5 1.1 0 1.5-.5.9-.3.2-.3-.2-.4-.6-.3-2.4-.5-1.8ZM53.7 506.7l .5.1 .4.5 .2.8-.3.3-.6-.2-.3-.3-.2-.6 .3-.6ZM55 522.9l .1-.2 .3.3 .1.5-.1.4-.4-.4 0-.6Z" fill="none" stroke="#111" stroke-width="0.5"/>
</g>
<path d="M70.5 543.5V466.7H114M124.4 469.5V543.5" fill="none" stroke="#9a9a9a" stroke-width="1.1"/>
<path d="M70.5 507.3H124.4" fill="none" stroke="#8a8a8a" stroke-width="2"/>
<rect x="39.8" y="453.6" width="91.2" height="89.9" fill="none" stroke="#000" stroke-width="1.5"/>
<path d="M39.8 455.1h-2M39.8 456.6h-2M39.8 458.0h-2M39.8 459.4h-2M39.8 460.9h-2M39.8 462.3h-2M39.8 463.8h-2M39.8 465.2h-2M39.8 466.7h-2M39.8 468.1h-2M39.8 469.6h-2M39.8 471.0h-2M39.8 472.5h-2M39.8 473.9h-2M39.8 475.4h-2M39.8 476.8h-2M39.8 478.3h-2M39.8 479.7h-2M39.8 481.2h-2M39.8 482.6h-2M39.8 484.1h-2M39.8 485.5h-2M39.8 487.0h-2M39.8 488.4h-2M39.8 489.9h-2M39.8 491.3h-2M39.8 492.8h-2M39.8 494.2h-2M39.8 495.7h-2M39.8 497.1h-2M39.8 498.6h-2M39.8 500.0h-2M39.8 501.5h-2M39.8 502.9h-2M39.8 504.4h-2M39.8 505.8h-2M39.8 507.3h-2M39.8 508.7h-2M39.8 510.2h-2M39.8 511.6h-2M39.8 513.1h-2M39.8 514.5h-2M39.8 516.0h-2M39.8 517.4h-2M39.8 518.9h-2M39.8 520.3h-2M39.8 521.8h-2M39.8 523.2h-2M39.8 524.7h-2M39.8 526.1h-2M39.8 527.6h-2M39.8 529.0h-2M39.8 530.5h-2M39.8 531.9h-2M39.8 533.4h-2M39.8 534.8h-2M39.8 536.3h-2M39.8 537.7h-2M39.8 539.2h-2M39.8 540.6h-2M39.8 542.1h-2M41.3 543.5v2M42.8 543.5v2M44.2 543.5v2M45.7 543.5v2M47.1 543.5v2M48.6 543.5v2M50.0 543.5v2M51.5 543.5v2M52.9 543.5v2M54.4 543.5v2M55.8 543.5v2M57.3 543.5v2M58.7 543.5v2M60.2 543.5v2M61.6 543.5v2M63.1 543.5v2M64.5 543.5v2M66.0 543.5v2M67.4 543.5v2M68.9 543.5v2M70.3 543.5v2M71.8 543.5v2M73.2 543.5v2M74.7 543.5v2M76.1 543.5v2M77.6 543.5v2M79.0 543.5v2M80.5 543.5v2M81.9 543.5v2M83.4 543.5v2M84.8 543.5v2M86.3 543.5v2M87.7 543.5v2M89.2 543.5v2M90.6 543.5v2M92.1 543.5v2M93.5 543.5v2M95.0 543.5v2M96.4 543.5v2M97.9 543.5v2M99.3 543.5v2M100.8 543.5v2M102.2 543.5v2M103.7 543.5v2M105.1 543.5v2M106.6 543.5v2M108.0 543.5v2M109.5 543.5v2M110.9 543.5v2M112.4 543.5v2M113.8 543.5v2M115.3 543.5v2M116.7 543.5v2M118.2 543.5v2M119.6 543.5v2M121.1 543.5v2M122.5 543.5v2M124.0 543.5v2M125.4 543.5v2M126.9 543.5v2M128.3 543.5v2M129.8 543.5v2" stroke="#111" stroke-width="0.55"/>
<text x="33.4" y="465.3" font-size="7" text-anchor="end" fill="#111" stroke="#111" stroke-width="0.18">10</text>
<text x="33.6" y="462.3" font-size="5" fill="#111" stroke="#111" stroke-width="0.18">5</text>
<text x="33.4" y="486.2" font-size="7" text-anchor="end" fill="#111" stroke="#111" stroke-width="0.18">10</text>
<text x="33.6" y="483.2" font-size="5" fill="#111" stroke="#111" stroke-width="0.18">4</text>
<text x="33.4" y="507.2" font-size="7" text-anchor="end" fill="#111" stroke="#111" stroke-width="0.18">10</text>
<text x="33.6" y="504.2" font-size="5" fill="#111" stroke="#111" stroke-width="0.18">3</text>
<text x="33.4" y="528.9" font-size="7" text-anchor="end" fill="#111" stroke="#111" stroke-width="0.18">10</text>
<text x="33.6" y="525.9" font-size="5" fill="#111" stroke="#111" stroke-width="0.18">2</text>
<text x="36.2" y="537.5" font-size="7" text-anchor="end" fill="#111" stroke="#111" stroke-width="0.18">0</text>
<text x="55.5" y="556.2" font-size="7" text-anchor="middle" fill="#111" stroke="#111" stroke-width="0.18">0</text>
<text x="74.7" y="556.2" font-size="7" fill="#111" stroke="#111" stroke-width="0.18">10<tspan font-size="5" dy="-3">3</tspan></text>
<text x="95.8" y="556.2" font-size="7" fill="#111" stroke="#111" stroke-width="0.18">10<tspan font-size="5" dy="-3">4</tspan></text>
<text x="116.8" y="556.2" font-size="7" fill="#111" stroke="#111" stroke-width="0.18">10<tspan font-size="5" dy="-3">5</tspan></text>
<text x="114.8" y="470.3" font-size="6.8" text-anchor="start" font-weight="normal" fill="#111" >4.96</text>
<text x="115.3" y="543" font-size="6.8" text-anchor="start" font-weight="normal" fill="#111" >2.03</text>
<text transform="translate(13.2 499.2) rotate(-90)" x="0" y="3.2" font-size="9" font-weight="bold" text-anchor="middle" textLength="15.2" lengthAdjust="spacingAndGlyphs" fill="#222">IFN&#947;</text>
<text x="76.8" y="570.6" font-size="10" font-weight="bold" textLength="18.2" lengthAdjust="spacingAndGlyphs" fill="#222">IL-17A</text>
<text x="61" y="448.8" font-size="8.6" fill="#111">CD4<tspan font-size="5.2" dy="-3.2">+</tspan><tspan dy="3.2"> T cells</tspan></text>
<path d="M99.5 466.7V457.7H277" fill="none" stroke="#000" stroke-width="1.1"/>
<path d="M282.8 457.7L276.5 455L276.5 460.4Z" fill="#000"/>
<path d="M124.9 533.7H146" fill="none" stroke="#000" stroke-width="1.1"/>
<path d="M151.3 533.7L145.3 531L145.3 536.4Z" fill="#000"/>
<path d="M198.4 461.4A45 45 0 1 1 175.9 545.37L187.1 525.97A22.6 22.6 0 1 0 198.4 483.8Z" fill="#52255F"/>
<path d="M175.9 545.37A45 45 0 0 1 169.78 471.68L184.02 488.96A22.6 22.6 0 0 0 187.1 525.97Z" fill="#2E4C7E"/>
<path d="M169.78 471.68A45 45 0 0 1 181.54 464.68L189.93 485.45A22.6 22.6 0 0 0 184.02 488.96Z" fill="#5CAE3D"/>
<path d="M181.54 464.68A45 45 0 0 1 198.4 461.4L198.4 483.8A22.6 22.6 0 0 0 189.93 485.45Z" fill="#B5082F"/>
<text x="198" y="510.4" font-size="7.8" text-anchor="middle" fill="#111">IL-17<tspan font-size="5" dy="-2.8">+</tspan><tspan dy="2.8">IFN&#947;</tspan><tspan font-size="5.5" dy="-2.8">-</tspan></text>
<path d="M303.7 461.5A45 45 0 1 1 259.04 501.02L281.27 503.75A22.6 22.6 0 1 0 303.7 483.9Z" fill="#52255F"/>
<path d="M259.04 501.02A45 45 0 0 1 292.05 463.03L297.85 484.67A22.6 22.6 0 0 0 281.27 503.75Z" fill="#2E4C7E"/>
<path d="M292.05 463.03A45 45 0 0 1 301.34 461.56L302.52 483.93A22.6 22.6 0 0 0 297.85 484.67Z" fill="#5CAE3D"/>
<path d="M301.34 461.56A45 45 0 0 1 303.7 461.5L303.7 483.9A22.6 22.6 0 0 0 302.52 483.93Z" fill="#B5082F"/>
<text x="303.3" y="510.5" font-size="7.8" text-anchor="middle" fill="#111">IL-17<tspan font-size="5" dy="-2.8">+</tspan><tspan dy="2.8">IFN&#947;</tspan><tspan font-size="5" dy="-2.8">+</tspan></text>
<text x="232.9" y="553.7" font-size="7" font-weight="bold" fill="#2E4C7E" style="stroke:#2E4C7E"><tspan font-style="italic">p</tspan> &lt;0.0001</text>
<rect x="358.1" y="459.1" width="9.6" height="6" fill="#B5082F"/>
<text x="370.8" y="465" font-size="8" fill="#111">DN</text>
<rect x="358.1" y="468.55" width="9.6" height="6" fill="#2E4C7E"/>
<text x="370.8" y="474.45" font-size="8" fill="#111">TNF<tspan font-size="4.6" dy="-2.8">+</tspan></text>
<rect x="358.1" y="478" width="9.6" height="6" fill="#5CAE3D"/>
<text x="370.8" y="483.9" font-size="8" fill="#111">GM-CSF<tspan font-size="4.6" dy="-2.8">+</tspan></text>
<rect x="358.1" y="487.45" width="9.6" height="6" fill="#52255F"/>
<text x="370.8" y="493.35" font-size="8" fill="#111">GM-CSF<tspan font-size="4.6" dy="-2.8">+</tspan><tspan dy="2.8">TNF</tspan><tspan font-size="4.6" dy="-2.8">+</tspan></text>
<rect x="0" y="0" width="520" height="1.1" fill="#000"/>
<rect x="0" y="0" width="1.3" height="580" fill="#000"/>
<rect x="518.4" y="0" width="1.6" height="580" fill="#000"/>
<rect x="0" y="578.2" width="520" height="1.8" fill="#000"/>
</svg>
</body></html>
